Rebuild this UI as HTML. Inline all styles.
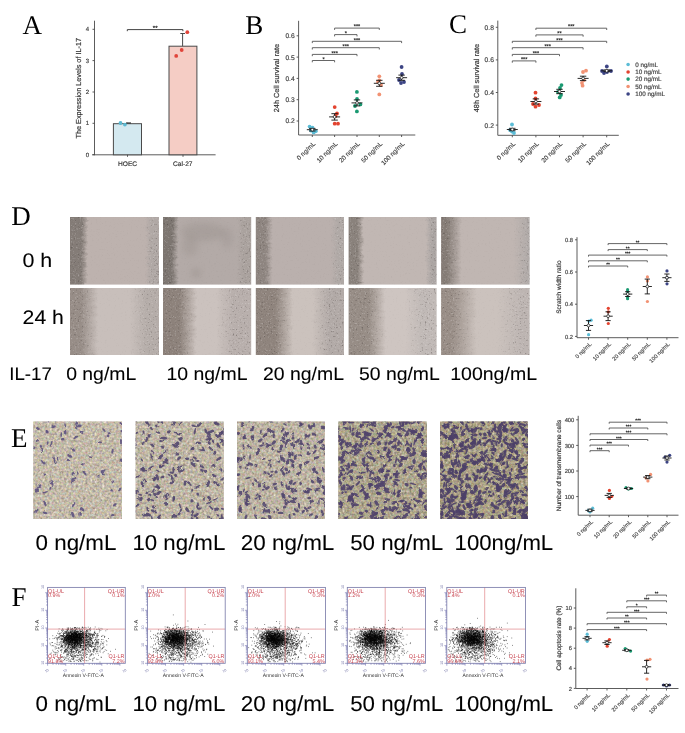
<!DOCTYPE html>
<html><head><meta charset="utf-8"><style>
html,body{margin:0;padding:0;background:#fff;width:685px;height:733px;overflow:hidden}
svg{position:absolute;left:0;top:0;display:block;will-change:transform;text-rendering:geometricPrecision}
</style></head><body>
<svg width="685" height="733" viewBox="0 0 685 733">
<defs><linearGradient id="sg0" x1="0" x2="1" y1="0" y2="0"><stop offset="0.000" stop-color="#847c77"/><stop offset="0.197" stop-color="#847c77"/><stop offset="0.253" stop-color="#bdb2ae"/><stop offset="0.781" stop-color="#bdb2ae"/><stop offset="0.837" stop-color="#b0a8a5"/><stop offset="1.000" stop-color="#b0a8a5"/></linearGradient><linearGradient id="mg0" x1="0" x2="1" y1="0" y2="0"><stop offset="0.000" stop-color="#fff"/><stop offset="0.197" stop-color="#fff"/><stop offset="0.253" stop-color="#181818"/><stop offset="0.781" stop-color="#181818"/><stop offset="0.837" stop-color="#fff"/><stop offset="1.000" stop-color="#fff"/></linearGradient><mask id="mk0" maskUnits="userSpaceOnUse" x="70" y="217" width="89" height="67.80000000000001"><rect x="60" y="217" width="109" height="67.80000000000001" fill="url(#mg0)" filter="url(#wob0)"/></mask><clipPath id="cp0"><rect x="70" y="217" width="89.0" height="67.8"/></clipPath><linearGradient id="sg1" x1="0" x2="1" y1="0" y2="0"><stop offset="0.000" stop-color="#7d7671"/><stop offset="0.176" stop-color="#7d7671"/><stop offset="0.232" stop-color="#b3aaa7"/><stop offset="0.777" stop-color="#b3aaa7"/><stop offset="0.833" stop-color="#aaa29e"/><stop offset="1.000" stop-color="#aaa29e"/></linearGradient><linearGradient id="mg1" x1="0" x2="1" y1="0" y2="0"><stop offset="0.000" stop-color="#fff"/><stop offset="0.176" stop-color="#fff"/><stop offset="0.232" stop-color="#181818"/><stop offset="0.777" stop-color="#181818"/><stop offset="0.833" stop-color="#fff"/><stop offset="1.000" stop-color="#fff"/></linearGradient><mask id="mk1" maskUnits="userSpaceOnUse" x="163" y="217" width="88.19999999999999" height="67.80000000000001"><rect x="153" y="217" width="108.19999999999999" height="67.80000000000001" fill="url(#mg1)" filter="url(#wob0)"/></mask><clipPath id="cp1"><rect x="163" y="217" width="88.2" height="67.8"/></clipPath><linearGradient id="sg2" x1="0" x2="1" y1="0" y2="0"><stop offset="0.000" stop-color="#8e8580"/><stop offset="0.185" stop-color="#8e8580"/><stop offset="0.241" stop-color="#bab0ad"/><stop offset="0.790" stop-color="#bab0ad"/><stop offset="0.847" stop-color="#b0a9a6"/><stop offset="1.000" stop-color="#b0a9a6"/></linearGradient><linearGradient id="mg2" x1="0" x2="1" y1="0" y2="0"><stop offset="0.000" stop-color="#fff"/><stop offset="0.185" stop-color="#fff"/><stop offset="0.241" stop-color="#181818"/><stop offset="0.790" stop-color="#181818"/><stop offset="0.847" stop-color="#fff"/><stop offset="1.000" stop-color="#fff"/></linearGradient><mask id="mk2" maskUnits="userSpaceOnUse" x="255.8" y="217" width="88.19999999999999" height="67.80000000000001"><rect x="245.8" y="217" width="108.19999999999999" height="67.80000000000001" fill="url(#mg2)" filter="url(#wob0)"/></mask><clipPath id="cp2"><rect x="255.8" y="217" width="88.2" height="67.8"/></clipPath><linearGradient id="sg3" x1="0" x2="1" y1="0" y2="0"><stop offset="0.000" stop-color="#8a827c"/><stop offset="0.175" stop-color="#8a827c"/><stop offset="0.232" stop-color="#c1b7b3"/><stop offset="0.806" stop-color="#c1b7b3"/><stop offset="0.862" stop-color="#aba5a3"/><stop offset="1.000" stop-color="#aba5a3"/></linearGradient><linearGradient id="mg3" x1="0" x2="1" y1="0" y2="0"><stop offset="0.000" stop-color="#fff"/><stop offset="0.175" stop-color="#fff"/><stop offset="0.232" stop-color="#181818"/><stop offset="0.806" stop-color="#181818"/><stop offset="0.862" stop-color="#fff"/><stop offset="1.000" stop-color="#fff"/></linearGradient><mask id="mk3" maskUnits="userSpaceOnUse" x="348.6" y="217" width="88.0" height="67.80000000000001"><rect x="338.6" y="217" width="108.0" height="67.80000000000001" fill="url(#mg3)" filter="url(#wob0)"/></mask><clipPath id="cp3"><rect x="348.6" y="217" width="88.0" height="67.8"/></clipPath><linearGradient id="sg4" x1="0" x2="1" y1="0" y2="0"><stop offset="0.000" stop-color="#857c76"/><stop offset="0.146" stop-color="#857c76"/><stop offset="0.281" stop-color="#c0b6b2"/><stop offset="0.759" stop-color="#c0b6b2"/><stop offset="0.895" stop-color="#b0aaa8"/><stop offset="1.000" stop-color="#b0aaa8"/></linearGradient><linearGradient id="mg4" x1="0" x2="1" y1="0" y2="0"><stop offset="0.000" stop-color="#fff"/><stop offset="0.146" stop-color="#fff"/><stop offset="0.281" stop-color="#181818"/><stop offset="0.759" stop-color="#181818"/><stop offset="0.895" stop-color="#fff"/><stop offset="1.000" stop-color="#fff"/></linearGradient><mask id="mk4" maskUnits="userSpaceOnUse" x="441.1" y="217" width="88.5" height="67.80000000000001"><rect x="431.1" y="217" width="108.5" height="67.80000000000001" fill="url(#mg4)" filter="url(#wob0)"/></mask><clipPath id="cp4"><rect x="441.1" y="217" width="88.5" height="67.8"/></clipPath><linearGradient id="sg5" x1="0" x2="1" y1="0" y2="0"><stop offset="0.000" stop-color="#978d87"/><stop offset="0.191" stop-color="#978d87"/><stop offset="0.348" stop-color="#c8bfbb"/><stop offset="0.640" stop-color="#c8bfbb"/><stop offset="0.798" stop-color="#b5ada9"/><stop offset="1.000" stop-color="#b5ada9"/></linearGradient><linearGradient id="mg5" x1="0" x2="1" y1="0" y2="0"><stop offset="0.000" stop-color="#fff"/><stop offset="0.191" stop-color="#fff"/><stop offset="0.348" stop-color="#181818"/><stop offset="0.640" stop-color="#181818"/><stop offset="0.798" stop-color="#fff"/><stop offset="1.000" stop-color="#fff"/></linearGradient><mask id="mk5" maskUnits="userSpaceOnUse" x="70" y="288" width="89" height="67"><rect x="60" y="288" width="109" height="67" fill="url(#mg5)" filter="url(#wob1)"/></mask><clipPath id="cp5"><rect x="70" y="288" width="89.0" height="67.0"/></clipPath><linearGradient id="sg6" x1="0" x2="1" y1="0" y2="0"><stop offset="0.000" stop-color="#8d827b"/><stop offset="0.244" stop-color="#8d827b"/><stop offset="0.402" stop-color="#cbc2be"/><stop offset="0.586" stop-color="#cbc2be"/><stop offset="0.745" stop-color="#b8afac"/><stop offset="1.000" stop-color="#b8afac"/></linearGradient><linearGradient id="mg6" x1="0" x2="1" y1="0" y2="0"><stop offset="0.000" stop-color="#fff"/><stop offset="0.244" stop-color="#fff"/><stop offset="0.402" stop-color="#181818"/><stop offset="0.586" stop-color="#181818"/><stop offset="0.745" stop-color="#fff"/><stop offset="1.000" stop-color="#fff"/></linearGradient><mask id="mk6" maskUnits="userSpaceOnUse" x="163" y="288" width="88.19999999999999" height="67"><rect x="153" y="288" width="108.19999999999999" height="67" fill="url(#mg6)" filter="url(#wob1)"/></mask><clipPath id="cp6"><rect x="163" y="288" width="88.2" height="67.0"/></clipPath><linearGradient id="sg7" x1="0" x2="1" y1="0" y2="0"><stop offset="0.000" stop-color="#8f847d"/><stop offset="0.274" stop-color="#8f847d"/><stop offset="0.433" stop-color="#cbc2bd"/><stop offset="0.615" stop-color="#cbc2bd"/><stop offset="0.773" stop-color="#b2aaa7"/><stop offset="1.000" stop-color="#b2aaa7"/></linearGradient><linearGradient id="mg7" x1="0" x2="1" y1="0" y2="0"><stop offset="0.000" stop-color="#fff"/><stop offset="0.274" stop-color="#fff"/><stop offset="0.433" stop-color="#181818"/><stop offset="0.615" stop-color="#181818"/><stop offset="0.773" stop-color="#fff"/><stop offset="1.000" stop-color="#fff"/></linearGradient><mask id="mk7" maskUnits="userSpaceOnUse" x="255.8" y="288" width="88.19999999999999" height="67"><rect x="245.8" y="288" width="108.19999999999999" height="67" fill="url(#mg7)" filter="url(#wob1)"/></mask><clipPath id="cp7"><rect x="255.8" y="288" width="88.2" height="67.0"/></clipPath><linearGradient id="sg8" x1="0" x2="1" y1="0" y2="0"><stop offset="0.000" stop-color="#978d86"/><stop offset="0.277" stop-color="#978d86"/><stop offset="0.436" stop-color="#cec5c1"/><stop offset="0.618" stop-color="#cec5c1"/><stop offset="0.777" stop-color="#c0b9b6"/><stop offset="1.000" stop-color="#c0b9b6"/></linearGradient><linearGradient id="mg8" x1="0" x2="1" y1="0" y2="0"><stop offset="0.000" stop-color="#fff"/><stop offset="0.277" stop-color="#fff"/><stop offset="0.436" stop-color="#181818"/><stop offset="0.618" stop-color="#181818"/><stop offset="0.777" stop-color="#fff"/><stop offset="1.000" stop-color="#fff"/></linearGradient><mask id="mk8" maskUnits="userSpaceOnUse" x="348.6" y="288" width="88.0" height="67"><rect x="338.6" y="288" width="108.0" height="67" fill="url(#mg8)" filter="url(#wob1)"/></mask><clipPath id="cp8"><rect x="348.6" y="288" width="88.0" height="67.0"/></clipPath><linearGradient id="sg9" x1="0" x2="1" y1="0" y2="0"><stop offset="0.000" stop-color="#998e87"/><stop offset="0.191" stop-color="#998e87"/><stop offset="0.417" stop-color="#cbc2bd"/><stop offset="0.609" stop-color="#cbc2bd"/><stop offset="0.835" stop-color="#bdb5b2"/><stop offset="1.000" stop-color="#bdb5b2"/></linearGradient><linearGradient id="mg9" x1="0" x2="1" y1="0" y2="0"><stop offset="0.000" stop-color="#fff"/><stop offset="0.191" stop-color="#fff"/><stop offset="0.417" stop-color="#181818"/><stop offset="0.609" stop-color="#181818"/><stop offset="0.835" stop-color="#fff"/><stop offset="1.000" stop-color="#fff"/></linearGradient><mask id="mk9" maskUnits="userSpaceOnUse" x="441.1" y="288" width="88.5" height="67"><rect x="431.1" y="288" width="108.5" height="67" fill="url(#mg9)" filter="url(#wob1)"/></mask><clipPath id="cp9"><rect x="441.1" y="288" width="88.5" height="67.0"/></clipPath><filter color-interpolation-filters="sRGB" id="blot" x="-20%" y="-20%" width="140%" height="140%"><feGaussianBlur stdDeviation="3"/></filter><filter color-interpolation-filters="sRGB" id="wob0" x="-10%" y="0" width="120%" height="100%" filterUnits="objectBoundingBox"><feTurbulence type="fractalNoise" baseFrequency="0.1 0.3" numOctaves="3" seed="7"/><feColorMatrix type="matrix" values="1 0 0 0 0  0 0 0 0 0.5  0 0 0 0 0  0 0 0 0 1"/><feDisplacementMap in="SourceGraphic" scale="5" xChannelSelector="R" yChannelSelector="G"/></filter><filter color-interpolation-filters="sRGB" id="wob1" x="-10%" y="0" width="120%" height="100%" filterUnits="objectBoundingBox"><feTurbulence type="fractalNoise" baseFrequency="0.1 0.3" numOctaves="3" seed="8"/><feColorMatrix type="matrix" values="1 0 0 0 0  0 0 0 0 0.5  0 0 0 0 0  0 0 0 0 1"/><feDisplacementMap in="SourceGraphic" scale="5" xChannelSelector="R" yChannelSelector="G"/></filter><filter color-interpolation-filters="sRGB" id="nd0" x="0" y="0" width="100%" height="100%"><feTurbulence type="fractalNoise" baseFrequency="0.55" numOctaves="2" seed="11"/><feColorMatrix type="matrix" values="0 0 0 0 0.25  0 0 0 0 0.22  0 0 0 0 0.21  -1.6 0 0 0 0.62"/></filter><filter color-interpolation-filters="sRGB" id="nl0" x="0" y="0" width="100%" height="100%"><feTurbulence type="fractalNoise" baseFrequency="0.6" numOctaves="2" seed="21"/><feColorMatrix type="matrix" values="0 0 0 0 0.95  0 0 0 0 0.94  0 0 0 0 0.94  0 0.9 0 0 -0.5"/></filter><filter color-interpolation-filters="sRGB" id="nd1" x="0" y="0" width="100%" height="100%"><feTurbulence type="fractalNoise" baseFrequency="0.55" numOctaves="2" seed="12"/><feColorMatrix type="matrix" values="0 0 0 0 0.25  0 0 0 0 0.22  0 0 0 0 0.21  -1.6 0 0 0 0.62"/></filter><filter color-interpolation-filters="sRGB" id="nl1" x="0" y="0" width="100%" height="100%"><feTurbulence type="fractalNoise" baseFrequency="0.6" numOctaves="2" seed="22"/><feColorMatrix type="matrix" values="0 0 0 0 0.95  0 0 0 0 0.94  0 0 0 0 0.94  0 0.9 0 0 -0.5"/></filter><filter color-interpolation-filters="sRGB" id="nd2" x="0" y="0" width="100%" height="100%"><feTurbulence type="fractalNoise" baseFrequency="0.55" numOctaves="2" seed="13"/><feColorMatrix type="matrix" values="0 0 0 0 0.25  0 0 0 0 0.22  0 0 0 0 0.21  -1.6 0 0 0 0.62"/></filter><filter color-interpolation-filters="sRGB" id="nl2" x="0" y="0" width="100%" height="100%"><feTurbulence type="fractalNoise" baseFrequency="0.6" numOctaves="2" seed="23"/><feColorMatrix type="matrix" values="0 0 0 0 0.95  0 0 0 0 0.94  0 0 0 0 0.94  0 0.9 0 0 -0.5"/></filter><filter color-interpolation-filters="sRGB" id="cb" x="-5%" y="-5%" width="110%" height="110%"><feTurbulence type="fractalNoise" baseFrequency="0.35" numOctaves="2" seed="9" result="t"/><feDisplacementMap in="SourceGraphic" in2="t" scale="2.6" xChannelSelector="R" yChannelSelector="G"/><feGaussianBlur stdDeviation="0.55"/></filter><filter color-interpolation-filters="sRGB" id="cn0" x="0" y="0" width="100%" height="100%"><feTurbulence type="fractalNoise" baseFrequency="0.42" numOctaves="2" seed="5"/><feColorMatrix type="matrix" values="0.38 0.2 0.14 0 0.405  0.18 0.4 0.14 0 0.369  0.14 0.2 0.38 0 0.303  0 0 0 0 1"/></filter><clipPath id="cc0"><rect x="33.3" y="421.4" width="88.7" height="97.6"/></clipPath><filter color-interpolation-filters="sRGB" id="cn1" x="0" y="0" width="100%" height="100%"><feTurbulence type="fractalNoise" baseFrequency="0.42" numOctaves="2" seed="6"/><feColorMatrix type="matrix" values="0.38 0.2 0.14 0 0.389  0.18 0.4 0.14 0 0.354  0.14 0.2 0.38 0 0.287  0 0 0 0 1"/></filter><clipPath id="cc1"><rect x="135.6" y="421.4" width="88.1" height="97.6"/></clipPath><filter color-interpolation-filters="sRGB" id="cn2" x="0" y="0" width="100%" height="100%"><feTurbulence type="fractalNoise" baseFrequency="0.42" numOctaves="2" seed="7"/><feColorMatrix type="matrix" values="0.38 0.2 0.14 0 0.381  0.18 0.4 0.14 0 0.346  0.14 0.2 0.38 0 0.279  0 0 0 0 1"/></filter><clipPath id="cc2"><rect x="237" y="421.4" width="87.9" height="97.6"/></clipPath><filter color-interpolation-filters="sRGB" id="cn3" x="0" y="0" width="100%" height="100%"><feTurbulence type="fractalNoise" baseFrequency="0.42" numOctaves="2" seed="8"/><feColorMatrix type="matrix" values="0.38 0.2 0.14 0 0.322  0.18 0.4 0.14 0 0.291  0.14 0.2 0.38 0 0.197  0 0 0 0 1"/></filter><clipPath id="cc3"><rect x="338.3" y="421.4" width="88.6" height="97.6"/></clipPath><filter color-interpolation-filters="sRGB" id="cn4" x="0" y="0" width="100%" height="100%"><feTurbulence type="fractalNoise" baseFrequency="0.42" numOctaves="2" seed="9"/><feColorMatrix type="matrix" values="0.38 0.2 0.14 0 0.307  0.18 0.4 0.14 0 0.271  0.14 0.2 0.38 0 0.165  0 0 0 0 1"/></filter><clipPath id="cc4"><rect x="440.1" y="421.4" width="87.9" height="97.6"/></clipPath></defs><g clip-path="url(#cp0)"><rect x="60" y="217" width="109.0" height="67.8" fill="url(#sg0)" filter="url(#wob0)"/><g mask="url(#mk0)"><rect x="70" y="217" width="89.0" height="67.8" filter="url(#nd0)"/><rect x="70" y="217" width="89.0" height="67.8" filter="url(#nl0)"/></g></g>
<g clip-path="url(#cp1)"><rect x="153" y="217" width="108.2" height="67.8" fill="url(#sg1)" filter="url(#wob0)"/><g mask="url(#mk1)"><rect x="163" y="217" width="88.2" height="67.8" filter="url(#nd1)"/><rect x="163" y="217" width="88.2" height="67.8" filter="url(#nl1)"/></g></g>
<g clip-path="url(#cp1)" filter="url(#blot)" fill="#6e6460"><ellipse cx="203" cy="232" rx="22" ry="9" opacity="0.15"/><ellipse cx="190" cy="246" rx="8" ry="10" opacity="0.13"/><ellipse cx="196" cy="273" rx="4" ry="4" opacity="0.22"/><ellipse cx="227" cy="238" rx="6" ry="10" opacity="0.12"/></g>
<g clip-path="url(#cp2)"><rect x="245.8" y="217" width="108.2" height="67.8" fill="url(#sg2)" filter="url(#wob0)"/><g mask="url(#mk2)"><rect x="255.8" y="217" width="88.2" height="67.8" filter="url(#nd2)"/><rect x="255.8" y="217" width="88.2" height="67.8" filter="url(#nl2)"/></g></g>
<g clip-path="url(#cp3)"><rect x="338.6" y="217" width="108.0" height="67.8" fill="url(#sg3)" filter="url(#wob0)"/><g mask="url(#mk3)"><rect x="348.6" y="217" width="88.0" height="67.8" filter="url(#nd0)"/><rect x="348.6" y="217" width="88.0" height="67.8" filter="url(#nl0)"/></g></g>
<g clip-path="url(#cp4)"><rect x="431.1" y="217" width="108.5" height="67.8" fill="url(#sg4)" filter="url(#wob0)"/><g mask="url(#mk4)"><rect x="441.1" y="217" width="88.5" height="67.8" filter="url(#nd1)"/><rect x="441.1" y="217" width="88.5" height="67.8" filter="url(#nl1)"/></g></g>
<g clip-path="url(#cp5)"><rect x="60" y="288" width="109.0" height="67.0" fill="url(#sg5)" filter="url(#wob1)"/><g mask="url(#mk5)"><rect x="70" y="288" width="89.0" height="67.0" filter="url(#nd2)"/><rect x="70" y="288" width="89.0" height="67.0" filter="url(#nl2)"/></g></g>
<g clip-path="url(#cp6)"><rect x="153" y="288" width="108.2" height="67.0" fill="url(#sg6)" filter="url(#wob1)"/><g mask="url(#mk6)"><rect x="163" y="288" width="88.2" height="67.0" filter="url(#nd0)"/><rect x="163" y="288" width="88.2" height="67.0" filter="url(#nl0)"/></g></g>
<g clip-path="url(#cp7)"><rect x="245.8" y="288" width="108.2" height="67.0" fill="url(#sg7)" filter="url(#wob1)"/><g mask="url(#mk7)"><rect x="255.8" y="288" width="88.2" height="67.0" filter="url(#nd1)"/><rect x="255.8" y="288" width="88.2" height="67.0" filter="url(#nl1)"/></g></g>
<g clip-path="url(#cp8)"><rect x="338.6" y="288" width="108.0" height="67.0" fill="url(#sg8)" filter="url(#wob1)"/><g mask="url(#mk8)"><rect x="348.6" y="288" width="88.0" height="67.0" filter="url(#nd2)"/><rect x="348.6" y="288" width="88.0" height="67.0" filter="url(#nl2)"/></g></g>
<g clip-path="url(#cp9)"><rect x="431.1" y="288" width="108.5" height="67.0" fill="url(#sg9)" filter="url(#wob1)"/><g mask="url(#mk9)"><rect x="441.1" y="288" width="88.5" height="67.0" filter="url(#nd0)"/><rect x="441.1" y="288" width="88.5" height="67.0" filter="url(#nl0)"/></g></g>
<g clip-path="url(#cc0)"><rect x="33.3" y="421.4" width="88.7" height="97.6" fill="#c3baa9"/><rect x="33.3" y="421.4" width="88.7" height="97.6" filter="url(#cn0)"/><g fill="#5d5280" fill-opacity="0.9" filter="url(#cb)"><g transform="translate(33.3 421.4)"><ellipse rx="2.4" ry="0.8" transform="translate(28.0 13.3)rotate(96)"/><ellipse rx="2.2" ry="0.7" transform="translate(31.9 3.9)rotate(78)"/><ellipse rx="2.0" ry="1.3" transform="translate(4.5 7.2)rotate(22)"/><ellipse rx="2.9" ry="1.1" transform="translate(18.7 61.7)rotate(71)"/><ellipse rx="2.8" ry="0.9" transform="translate(88.5 2.7)rotate(26)"/><ellipse rx="2.7" ry="0.8" transform="translate(8.9 29.3)rotate(105)"/><ellipse rx="2.2" ry="0.7" transform="translate(57.2 35.8)rotate(11)"/><ellipse rx="2.0" ry="0.9" transform="translate(17.1 67.1)rotate(105)"/><ellipse rx="2.7" ry="1.2" transform="translate(40.0 28.5)rotate(44)"/><ellipse rx="2.8" ry="1.2" transform="translate(51.2 51.4)rotate(52)"/><ellipse rx="2.0" ry="1.2" transform="translate(88.9 10.0)rotate(27)"/><ellipse rx="2.4" ry="1.2" transform="translate(43.3 2.0)rotate(103)"/><ellipse rx="2.5" ry="1.1" transform="translate(79.2 29.9)rotate(104)"/><ellipse rx="2.9" ry="1.0" transform="translate(40.3 83.3)rotate(120)"/><ellipse rx="2.4" ry="1.4" transform="translate(3.6 69.3)rotate(148)"/><ellipse rx="2.4" ry="0.7" transform="translate(24.4 37.2)rotate(83)"/><ellipse rx="1.4" ry="1.2" transform="translate(13.6 9.9)rotate(23)"/><ellipse rx="2.8" ry="0.8" transform="translate(21.0 37.7)rotate(81)"/><ellipse rx="2.7" ry="1.3" transform="translate(48.9 87.8)rotate(50)"/><ellipse rx="2.8" ry="1.4" transform="translate(36.5 34.5)rotate(27)"/><ellipse rx="1.7" ry="1.0" transform="translate(14.3 21.6)rotate(106)"/><ellipse rx="2.0" ry="1.0" transform="translate(22.4 -1.6)rotate(102)"/><ellipse rx="2.2" ry="1.1" transform="translate(86.4 68.2)rotate(122)"/><ellipse rx="2.6" ry="1.3" transform="translate(3.0 89.4)rotate(144)"/><ellipse rx="1.5" ry="1.1" transform="translate(34.4 38.5)rotate(11)"/><ellipse rx="1.6" ry="0.9" transform="translate(4.2 19.2)rotate(9)"/><ellipse rx="1.5" ry="1.0" transform="translate(-2.0 13.4)rotate(5)"/><ellipse rx="1.6" ry="0.9" transform="translate(79.1 60.4)rotate(63)"/><ellipse rx="2.7" ry="1.4" transform="translate(31.8 10.5)rotate(84)"/><ellipse rx="1.5" ry="0.9" transform="translate(42.9 6.7)rotate(48)"/><ellipse rx="1.3" ry="1.4" transform="translate(74.8 14.4)rotate(95)"/><ellipse rx="1.3" ry="1.1" transform="translate(11.6 53.2)rotate(176)"/><ellipse rx="1.7" ry="1.0" transform="translate(78.0 68.7)rotate(30)"/><ellipse rx="2.6" ry="0.9" transform="translate(69.6 52.1)rotate(40)"/><ellipse rx="2.7" ry="1.3" transform="translate(73.2 98.1)rotate(147)"/><ellipse rx="2.2" ry="0.9" transform="translate(66.6 21.0)rotate(5)"/><ellipse rx="1.7" ry="1.2" transform="translate(0.6 26.4)rotate(172)"/><ellipse rx="3.0" ry="1.4" transform="translate(39.5 93.2)rotate(66)"/><ellipse rx="1.6" ry="0.8" transform="translate(18.4 21.0)rotate(112)"/><ellipse rx="2.1" ry="1.2" transform="translate(81.5 83.4)rotate(144)"/><ellipse rx="2.8" ry="1.2" transform="translate(5.9 65.1)rotate(135)"/><ellipse rx="2.6" ry="0.9" transform="translate(42.3 16.1)rotate(144)"/><ellipse rx="2.0" ry="1.4" transform="translate(88.1 38.2)rotate(130)"/><ellipse rx="1.6" ry="1.3" transform="translate(13.8 10.9)rotate(145)"/><ellipse rx="3.0" ry="1.2" transform="translate(11.6 82.0)rotate(63)"/><ellipse rx="1.3" ry="1.4" transform="translate(48.9 11.3)rotate(117)"/><ellipse rx="2.0" ry="1.3" transform="translate(46.8 92.9)rotate(149)"/><ellipse rx="1.8" ry="0.9" transform="translate(17.6 23.6)rotate(106)"/><ellipse rx="1.5" ry="1.3" transform="translate(22.0 40.6)rotate(64)"/><ellipse rx="2.8" ry="1.0" transform="translate(40.5 57.3)rotate(165)"/><ellipse rx="2.2" ry="0.7" transform="translate(44.5 52.0)rotate(79)"/><ellipse rx="2.7" ry="0.8" transform="translate(15.0 -1.6)rotate(85)"/><ellipse rx="1.9" ry="1.1" transform="translate(65.2 54.5)rotate(100)"/><ellipse rx="2.3" ry="0.9" transform="translate(70.7 8.8)rotate(50)"/><ellipse rx="2.3" ry="1.2" transform="translate(69.6 49.6)rotate(164)"/><ellipse rx="2.2" ry="1.1" transform="translate(39.1 60.2)rotate(125)"/><ellipse rx="2.1" ry="1.4" transform="translate(39.9 52.2)rotate(126)"/><ellipse rx="1.7" ry="1.1" transform="translate(79.3 93.7)rotate(170)"/><ellipse rx="1.5" ry="1.0" transform="translate(75.9 11.9)rotate(13)"/><ellipse rx="2.4" ry="1.2" transform="translate(20.3 5.4)rotate(161)"/><ellipse rx="2.4" ry="0.8" transform="translate(12.3 70.8)rotate(159)"/><ellipse rx="2.9" ry="1.0" transform="translate(87.7 20.3)rotate(88)"/><ellipse rx="1.6" ry="1.0" transform="translate(89.8 82.6)rotate(93)"/><ellipse rx="1.8" ry="1.2" transform="translate(29.4 17.9)rotate(4)"/><ellipse rx="1.3" ry="0.9" transform="translate(49.4 42.8)rotate(112)"/><ellipse rx="3.0" ry="1.3" transform="translate(45.5 4.5)rotate(175)"/><ellipse rx="1.4" ry="1.2" transform="translate(7.7 25.0)rotate(49)"/><ellipse rx="2.8" ry="1.3" transform="translate(10.0 40.9)rotate(47)"/><ellipse rx="2.3" ry="1.2" transform="translate(11.8 91.4)rotate(16)"/><ellipse rx="2.0" ry="0.8" transform="translate(3.3 67.9)rotate(169)"/></g></g></g>
<g clip-path="url(#cc1)"><rect x="135.6" y="421.4" width="88.1" height="97.6" fill="#bfb6a5"/><rect x="135.6" y="421.4" width="88.1" height="97.6" filter="url(#cn1)"/><g fill="#53486f" fill-opacity="0.9" filter="url(#cb)"><g transform="translate(135.6 421.4)"><ellipse rx="1.7" ry="1.5" transform="translate(56.4 79.4)rotate(12)"/><ellipse rx="2.1" ry="1.2" transform="translate(77.5 44.1)rotate(167)"/><ellipse rx="2.5" ry="1.0" transform="translate(22.7 11.1)rotate(20)"/><ellipse rx="1.9" ry="1.0" transform="translate(12.9 3.1)rotate(55)"/><ellipse rx="2.5" ry="0.9" transform="translate(67.9 27.5)rotate(62)"/><ellipse rx="1.5" ry="1.4" transform="translate(-0.3 23.4)rotate(99)"/><ellipse rx="3.3" ry="0.9" transform="translate(15.4 46.2)rotate(147)"/><ellipse rx="3.1" ry="1.1" transform="translate(37.8 48.3)rotate(91)"/><ellipse rx="2.2" ry="1.5" transform="translate(61.3 97.8)rotate(127)"/><ellipse rx="2.2" ry="0.8" transform="translate(56.6 39.1)rotate(23)"/><ellipse rx="2.0" ry="0.9" transform="translate(4.5 73.3)rotate(15)"/><ellipse rx="2.8" ry="1.0" transform="translate(75.5 86.4)rotate(44)"/><ellipse rx="1.8" ry="1.2" transform="translate(25.0 44.7)rotate(47)"/><ellipse rx="2.5" ry="1.0" transform="translate(86.6 96.8)rotate(174)"/><ellipse rx="1.5" ry="1.1" transform="translate(26.5 34.2)rotate(85)"/><ellipse rx="2.5" ry="0.8" transform="translate(44.3 18.4)rotate(48)"/><ellipse rx="1.6" ry="0.8" transform="translate(6.3 38.6)rotate(55)"/><ellipse rx="2.5" ry="1.4" transform="translate(19.4 57.5)rotate(118)"/><ellipse rx="2.2" ry="1.1" transform="translate(63.9 87.3)rotate(177)"/><ellipse rx="2.7" ry="0.8" transform="translate(11.8 71.6)rotate(150)"/><ellipse rx="2.9" ry="1.4" transform="translate(80.1 61.7)rotate(25)"/><ellipse rx="3.1" ry="1.4" transform="translate(46.2 49.2)rotate(149)"/><ellipse rx="2.8" ry="1.4" transform="translate(51.8 88.7)rotate(41)"/><ellipse rx="2.2" ry="0.9" transform="translate(0.9 11.5)rotate(150)"/><ellipse rx="2.7" ry="1.3" transform="translate(49.4 61.8)rotate(88)"/><ellipse rx="2.9" ry="1.2" transform="translate(-1.7 79.0)rotate(96)"/><ellipse rx="2.9" ry="1.0" transform="translate(58.7 4.7)rotate(13)"/><ellipse rx="1.9" ry="1.4" transform="translate(22.5 72.1)rotate(176)"/><ellipse rx="2.4" ry="1.3" transform="translate(43.5 36.9)rotate(138)"/><ellipse rx="1.6" ry="0.9" transform="translate(54.8 63.3)rotate(46)"/><ellipse rx="2.6" ry="0.8" transform="translate(66.5 28.9)rotate(11)"/><ellipse rx="2.8" ry="1.3" transform="translate(22.8 66.3)rotate(52)"/><ellipse rx="2.4" ry="0.9" transform="translate(45.6 45.2)rotate(161)"/><ellipse rx="3.3" ry="0.8" transform="translate(16.4 97.4)rotate(83)"/><ellipse rx="2.4" ry="1.0" transform="translate(73.5 96.4)rotate(38)"/><ellipse rx="2.6" ry="0.9" transform="translate(85.1 19.4)rotate(94)"/><ellipse rx="3.1" ry="1.2" transform="translate(85.7 11.5)rotate(160)"/><ellipse rx="3.2" ry="1.2" transform="translate(62.8 21.5)rotate(4)"/><ellipse rx="2.4" ry="1.0" transform="translate(-1.7 48.0)rotate(25)"/><ellipse rx="3.1" ry="0.8" transform="translate(29.7 30.1)rotate(135)"/><ellipse rx="3.3" ry="1.4" transform="translate(75.3 10.2)rotate(162)"/><ellipse rx="2.2" ry="1.6" transform="translate(24.7 35.8)rotate(106)"/><ellipse rx="2.0" ry="0.8" transform="translate(31.2 41.5)rotate(18)"/><ellipse rx="3.3" ry="1.0" transform="translate(74.9 27.0)rotate(48)"/><ellipse rx="2.2" ry="1.6" transform="translate(45.1 17.3)rotate(159)"/><ellipse rx="3.2" ry="1.6" transform="translate(72.8 62.1)rotate(99)"/><ellipse rx="2.9" ry="1.2" transform="translate(64.3 3.0)rotate(135)"/><ellipse rx="1.6" ry="1.5" transform="translate(57.4 27.1)rotate(23)"/><ellipse rx="2.1" ry="1.4" transform="translate(41.5 32.9)rotate(176)"/><ellipse rx="2.1" ry="1.2" transform="translate(22.0 64.6)rotate(71)"/><ellipse rx="1.9" ry="1.5" transform="translate(13.4 14.4)rotate(89)"/><ellipse rx="3.4" ry="1.2" transform="translate(18.3 90.1)rotate(25)"/><ellipse rx="2.1" ry="0.9" transform="translate(15.7 7.2)rotate(43)"/><ellipse rx="3.2" ry="1.4" transform="translate(21.8 55.9)rotate(74)"/><ellipse rx="2.2" ry="1.1" transform="translate(36.1 51.3)rotate(11)"/><ellipse rx="1.7" ry="1.2" transform="translate(23.6 96.3)rotate(113)"/><ellipse rx="2.0" ry="1.0" transform="translate(77.5 19.9)rotate(72)"/><ellipse rx="3.1" ry="1.5" transform="translate(39.1 94.9)rotate(4)"/><ellipse rx="3.2" ry="1.2" transform="translate(1.0 70.1)rotate(106)"/><ellipse rx="3.3" ry="1.5" transform="translate(-2.0 37.8)rotate(154)"/><ellipse rx="1.7" ry="0.9" transform="translate(87.5 23.2)rotate(94)"/><ellipse rx="2.9" ry="1.3" transform="translate(60.8 93.7)rotate(138)"/><ellipse rx="1.6" ry="1.4" transform="translate(40.1 54.0)rotate(42)"/><ellipse rx="2.1" ry="0.9" transform="translate(82.7 63.6)rotate(45)"/><ellipse rx="1.7" ry="0.9" transform="translate(56.6 69.0)rotate(94)"/><ellipse rx="1.9" ry="1.3" transform="translate(51.7 37.4)rotate(2)"/><ellipse rx="3.3" ry="1.3" transform="translate(25.8 44.8)rotate(159)"/><ellipse rx="2.0" ry="1.6" transform="translate(41.8 21.9)rotate(127)"/><ellipse rx="2.4" ry="1.3" transform="translate(26.3 0.2)rotate(76)"/><ellipse rx="3.3" ry="1.0" transform="translate(21.7 65.8)rotate(6)"/><ellipse rx="2.8" ry="1.0" transform="translate(29.1 40.7)rotate(143)"/><ellipse rx="1.9" ry="1.6" transform="translate(66.1 49.3)rotate(56)"/><ellipse rx="1.9" ry="1.4" transform="translate(73.5 21.5)rotate(53)"/><ellipse rx="1.9" ry="1.0" transform="translate(85.7 48.4)rotate(75)"/><ellipse rx="1.8" ry="1.1" transform="translate(59.3 94.4)rotate(38)"/><ellipse rx="1.6" ry="0.8" transform="translate(87.7 12.4)rotate(71)"/><ellipse rx="2.9" ry="1.6" transform="translate(80.7 87.8)rotate(168)"/><ellipse rx="3.3" ry="1.4" transform="translate(28.3 16.8)rotate(6)"/><ellipse rx="2.2" ry="1.1" transform="translate(59.2 36.5)rotate(30)"/><ellipse rx="2.2" ry="1.6" transform="translate(-1.7 26.4)rotate(22)"/><ellipse rx="2.2" ry="1.5" transform="translate(86.8 19.1)rotate(148)"/><ellipse rx="2.4" ry="1.1" transform="translate(37.8 3.0)rotate(166)"/><ellipse rx="3.2" ry="0.8" transform="translate(15.8 35.0)rotate(74)"/><ellipse rx="1.6" ry="0.8" transform="translate(72.8 75.9)rotate(11)"/><ellipse rx="2.9" ry="1.5" transform="translate(82.7 24.1)rotate(61)"/><ellipse rx="2.7" ry="1.0" transform="translate(23.1 95.3)rotate(129)"/><ellipse rx="1.5" ry="1.4" transform="translate(27.1 26.0)rotate(165)"/><ellipse rx="1.5" ry="1.0" transform="translate(56.4 93.8)rotate(86)"/><ellipse rx="2.2" ry="1.0" transform="translate(86.1 94.9)rotate(77)"/><ellipse rx="1.8" ry="1.4" transform="translate(43.4 92.3)rotate(133)"/><ellipse rx="2.7" ry="1.1" transform="translate(73.8 76.5)rotate(58)"/><ellipse rx="1.7" ry="1.0" transform="translate(31.3 77.5)rotate(136)"/><ellipse rx="1.6" ry="1.2" transform="translate(20.8 4.6)rotate(59)"/><ellipse rx="3.4" ry="1.0" transform="translate(88.3 87.8)rotate(15)"/><ellipse rx="2.8" ry="1.2" transform="translate(6.9 48.6)rotate(42)"/><ellipse rx="2.8" ry="1.4" transform="translate(36.4 61.0)rotate(152)"/><ellipse rx="3.1" ry="1.0" transform="translate(59.2 10.3)rotate(102)"/><ellipse rx="1.9" ry="1.0" transform="translate(32.4 73.0)rotate(44)"/><ellipse rx="2.6" ry="1.1" transform="translate(12.1 87.8)rotate(71)"/><ellipse rx="1.9" ry="1.4" transform="translate(89.4 49.5)rotate(118)"/><ellipse rx="2.4" ry="1.5" transform="translate(89.3 8.4)rotate(151)"/><ellipse rx="2.1" ry="0.9" transform="translate(82.2 2.1)rotate(34)"/><ellipse rx="3.3" ry="1.1" transform="translate(87.6 57.3)rotate(156)"/><ellipse rx="3.0" ry="1.6" transform="translate(39.4 24.4)rotate(19)"/><ellipse rx="1.9" ry="1.1" transform="translate(52.9 61.0)rotate(25)"/><ellipse rx="2.6" ry="1.3" transform="translate(16.8 23.9)rotate(37)"/><ellipse rx="2.8" ry="0.9" transform="translate(-1.0 31.2)rotate(56)"/><ellipse rx="2.5" ry="0.9" transform="translate(16.7 78.8)rotate(18)"/><ellipse rx="2.7" ry="0.9" transform="translate(34.4 53.9)rotate(29)"/><ellipse rx="2.0" ry="1.0" transform="translate(62.0 39.6)rotate(172)"/><ellipse rx="2.2" ry="1.1" transform="translate(26.8 55.6)rotate(156)"/><ellipse rx="1.9" ry="1.4" transform="translate(89.8 35.0)rotate(37)"/><ellipse rx="2.3" ry="1.5" transform="translate(-1.5 89.6)rotate(73)"/><ellipse rx="1.8" ry="0.8" transform="translate(79.3 44.8)rotate(99)"/><ellipse rx="1.7" ry="1.3" transform="translate(57.0 90.4)rotate(67)"/><ellipse rx="2.0" ry="1.2" transform="translate(44.5 12.8)rotate(167)"/><ellipse rx="3.0" ry="1.6" transform="translate(8.0 47.8)rotate(36)"/><ellipse rx="3.4" ry="1.2" transform="translate(9.7 93.8)rotate(10)"/><ellipse rx="3.2" ry="1.3" transform="translate(83.3 37.4)rotate(148)"/><ellipse rx="1.9" ry="1.1" transform="translate(12.8 77.8)rotate(152)"/><ellipse rx="1.9" ry="1.1" transform="translate(74.4 16.6)rotate(93)"/><ellipse rx="2.0" ry="1.4" transform="translate(33.3 10.5)rotate(162)"/><ellipse rx="2.9" ry="0.8" transform="translate(1.8 55.1)rotate(151)"/><ellipse rx="2.5" ry="1.3" transform="translate(8.8 58.9)rotate(55)"/><ellipse rx="2.3" ry="1.3" transform="translate(36.7 57.2)rotate(80)"/><ellipse rx="2.7" ry="1.2" transform="translate(38.4 0.4)rotate(42)"/><ellipse rx="2.4" ry="0.9" transform="translate(68.3 77.2)rotate(85)"/><ellipse rx="2.3" ry="0.9" transform="translate(7.9 11.1)rotate(80)"/><ellipse rx="2.7" ry="0.9" transform="translate(45.0 2.1)rotate(132)"/><ellipse rx="1.6" ry="1.2" transform="translate(69.6 50.0)rotate(68)"/><ellipse rx="3.1" ry="1.6" transform="translate(85.6 11.8)rotate(132)"/><ellipse rx="3.4" ry="1.2" transform="translate(73.1 17.7)rotate(172)"/><ellipse rx="3.0" ry="1.5" transform="translate(82.4 14.8)rotate(12)"/><ellipse rx="1.8" ry="1.5" transform="translate(30.3 74.8)rotate(49)"/><ellipse rx="2.5" ry="1.5" transform="translate(73.1 12.6)rotate(37)"/><ellipse rx="2.1" ry="0.8" transform="translate(22.2 49.4)rotate(33)"/><ellipse rx="2.8" ry="1.5" transform="translate(12.8 93.1)rotate(30)"/><ellipse rx="2.5" ry="1.3" transform="translate(70.3 9.7)rotate(65)"/><ellipse rx="2.6" ry="1.5" transform="translate(78.4 54.4)rotate(19)"/><ellipse rx="2.2" ry="1.4" transform="translate(89.5 62.0)rotate(48)"/><ellipse rx="2.2" ry="1.4" transform="translate(89.2 56.7)rotate(80)"/><ellipse rx="1.6" ry="1.5" transform="translate(14.3 73.5)rotate(46)"/><ellipse rx="2.6" ry="1.3" transform="translate(56.9 98.0)rotate(56)"/><ellipse rx="1.8" ry="1.3" transform="translate(-1.8 1.4)rotate(78)"/><ellipse rx="1.8" ry="1.0" transform="translate(45.2 89.0)rotate(118)"/><ellipse rx="2.2" ry="0.9" transform="translate(0.1 -1.7)rotate(64)"/><ellipse rx="2.6" ry="1.0" transform="translate(18.7 57.3)rotate(112)"/><ellipse rx="3.3" ry="1.0" transform="translate(41.7 11.7)rotate(27)"/><ellipse rx="3.2" ry="1.4" transform="translate(6.8 62.8)rotate(72)"/><ellipse rx="2.7" ry="1.2" transform="translate(22.3 -0.8)rotate(63)"/><ellipse rx="3.3" ry="1.4" transform="translate(57.5 43.1)rotate(45)"/><ellipse rx="2.5" ry="1.1" transform="translate(81.2 2.5)rotate(43)"/><ellipse rx="1.5" ry="1.2" transform="translate(3.4 77.1)rotate(169)"/><ellipse rx="2.7" ry="1.2" transform="translate(11.1 18.3)rotate(115)"/><ellipse rx="2.1" ry="1.0" transform="translate(72.9 15.7)rotate(9)"/><ellipse rx="2.9" ry="0.8" transform="translate(79.9 77.6)rotate(152)"/><ellipse rx="2.9" ry="1.2" transform="translate(66.6 45.3)rotate(41)"/><ellipse rx="1.6" ry="1.1" transform="translate(7.7 21.6)rotate(135)"/><ellipse rx="2.9" ry="1.0" transform="translate(62.0 83.9)rotate(100)"/><ellipse rx="2.5" ry="1.0" transform="translate(38.2 78.1)rotate(116)"/><ellipse rx="3.2" ry="0.8" transform="translate(86.9 20.0)rotate(47)"/><ellipse rx="3.3" ry="1.4" transform="translate(19.7 73.6)rotate(59)"/><ellipse rx="2.0" ry="1.5" transform="translate(79.1 31.4)rotate(114)"/><ellipse rx="3.4" ry="1.2" transform="translate(61.8 65.6)rotate(151)"/><ellipse rx="2.3" ry="1.4" transform="translate(62.3 85.1)rotate(103)"/><ellipse rx="2.7" ry="0.9" transform="translate(26.3 19.5)rotate(164)"/><ellipse rx="1.7" ry="1.5" transform="translate(11.3 0.7)rotate(62)"/><ellipse rx="1.6" ry="1.4" transform="translate(11.1 0.9)rotate(114)"/><ellipse rx="1.6" ry="1.3" transform="translate(62.2 72.9)rotate(65)"/><ellipse rx="3.2" ry="0.9" transform="translate(73.3 81.3)rotate(156)"/><ellipse rx="1.7" ry="1.0" transform="translate(82.2 93.9)rotate(20)"/><ellipse rx="3.0" ry="1.3" transform="translate(1.2 84.1)rotate(149)"/><ellipse rx="1.7" ry="0.9" transform="translate(56.2 27.2)rotate(136)"/><ellipse rx="2.3" ry="0.8" transform="translate(16.9 30.4)rotate(46)"/><ellipse rx="2.2" ry="1.1" transform="translate(24.0 70.7)rotate(174)"/><ellipse rx="2.7" ry="0.8" transform="translate(44.4 84.5)rotate(74)"/><ellipse rx="2.2" ry="1.4" transform="translate(38.2 76.5)rotate(97)"/><ellipse rx="1.7" ry="1.5" transform="translate(17.9 85.6)rotate(31)"/><ellipse rx="2.9" ry="1.6" transform="translate(-1.9 18.5)rotate(1)"/><ellipse rx="3.0" ry="0.9" transform="translate(43.2 47.9)rotate(89)"/><ellipse rx="2.0" ry="1.6" transform="translate(30.0 82.5)rotate(51)"/><ellipse rx="2.4" ry="0.9" transform="translate(17.8 69.1)rotate(115)"/><ellipse rx="2.8" ry="1.4" transform="translate(5.4 78.1)rotate(113)"/><ellipse rx="2.2" ry="1.5" transform="translate(30.8 38.8)rotate(16)"/><ellipse rx="1.9" ry="1.0" transform="translate(79.8 0.6)rotate(162)"/></g></g></g>
<g clip-path="url(#cc2)"><rect x="237" y="421.4" width="87.9" height="97.6" fill="#bdb4a3"/><rect x="237" y="421.4" width="87.9" height="97.6" filter="url(#cn2)"/><g fill="#53486f" fill-opacity="0.9" filter="url(#cb)"><g transform="translate(237 421.4)"><ellipse rx="3.2" ry="1.0" transform="translate(44.1 36.5)rotate(83)"/><ellipse rx="2.9" ry="1.3" transform="translate(46.8 74.7)rotate(63)"/><ellipse rx="3.1" ry="1.3" transform="translate(28.0 13.8)rotate(134)"/><ellipse rx="3.0" ry="1.3" transform="translate(13.6 42.6)rotate(23)"/><ellipse rx="2.0" ry="1.0" transform="translate(40.5 87.9)rotate(54)"/><ellipse rx="1.8" ry="0.9" transform="translate(62.6 83.7)rotate(45)"/><ellipse rx="1.8" ry="1.1" transform="translate(28.0 51.1)rotate(34)"/><ellipse rx="1.7" ry="1.6" transform="translate(87.6 72.0)rotate(18)"/><ellipse rx="3.0" ry="1.4" transform="translate(33.3 98.0)rotate(78)"/><ellipse rx="1.7" ry="1.0" transform="translate(16.0 62.8)rotate(70)"/><ellipse rx="3.0" ry="1.4" transform="translate(1.1 38.5)rotate(90)"/><ellipse rx="1.8" ry="1.3" transform="translate(56.1 45.1)rotate(73)"/><ellipse rx="2.3" ry="1.3" transform="translate(66.1 90.3)rotate(135)"/><ellipse rx="2.9" ry="1.5" transform="translate(36.7 21.2)rotate(139)"/><ellipse rx="2.8" ry="1.3" transform="translate(62.3 84.6)rotate(82)"/><ellipse rx="1.7" ry="1.1" transform="translate(26.8 61.8)rotate(141)"/><ellipse rx="2.0" ry="1.1" transform="translate(63.5 62.0)rotate(82)"/><ellipse rx="2.8" ry="1.5" transform="translate(55.1 39.6)rotate(33)"/><ellipse rx="2.2" ry="1.2" transform="translate(58.1 77.1)rotate(175)"/><ellipse rx="1.8" ry="1.4" transform="translate(1.5 53.2)rotate(169)"/><ellipse rx="2.6" ry="1.2" transform="translate(45.7 8.3)rotate(129)"/><ellipse rx="3.1" ry="1.2" transform="translate(45.1 62.9)rotate(74)"/><ellipse rx="2.8" ry="1.1" transform="translate(85.1 19.3)rotate(137)"/><ellipse rx="2.2" ry="0.8" transform="translate(9.2 98.0)rotate(49)"/><ellipse rx="2.3" ry="1.1" transform="translate(34.7 -0.6)rotate(126)"/><ellipse rx="1.9" ry="1.4" transform="translate(30.4 24.9)rotate(169)"/><ellipse rx="3.0" ry="1.1" transform="translate(46.4 20.2)rotate(38)"/><ellipse rx="3.0" ry="1.3" transform="translate(9.9 76.9)rotate(84)"/><ellipse rx="3.3" ry="1.1" transform="translate(49.7 21.0)rotate(115)"/><ellipse rx="2.4" ry="1.0" transform="translate(73.2 80.9)rotate(99)"/><ellipse rx="2.2" ry="1.5" transform="translate(9.5 82.7)rotate(48)"/><ellipse rx="2.3" ry="0.9" transform="translate(32.6 23.8)rotate(0)"/><ellipse rx="2.0" ry="1.0" transform="translate(64.3 26.6)rotate(86)"/><ellipse rx="2.8" ry="1.1" transform="translate(37.4 62.7)rotate(167)"/><ellipse rx="3.1" ry="1.5" transform="translate(76.5 3.8)rotate(141)"/><ellipse rx="2.7" ry="0.8" transform="translate(10.9 82.5)rotate(2)"/><ellipse rx="2.0" ry="0.9" transform="translate(85.5 64.6)rotate(26)"/><ellipse rx="2.2" ry="0.9" transform="translate(19.5 76.9)rotate(163)"/><ellipse rx="3.2" ry="1.3" transform="translate(70.8 15.1)rotate(141)"/><ellipse rx="3.0" ry="1.5" transform="translate(59.4 88.8)rotate(36)"/><ellipse rx="2.9" ry="1.2" transform="translate(61.7 51.9)rotate(159)"/><ellipse rx="1.9" ry="0.9" transform="translate(49.0 24.9)rotate(89)"/><ellipse rx="1.8" ry="1.2" transform="translate(3.4 45.5)rotate(90)"/><ellipse rx="1.5" ry="1.5" transform="translate(47.6 85.7)rotate(84)"/><ellipse rx="3.1" ry="1.1" transform="translate(49.7 65.6)rotate(75)"/><ellipse rx="2.7" ry="1.3" transform="translate(86.3 5.7)rotate(5)"/><ellipse rx="3.3" ry="1.1" transform="translate(54.0 67.4)rotate(177)"/><ellipse rx="3.2" ry="0.8" transform="translate(44.9 47.2)rotate(129)"/><ellipse rx="3.1" ry="1.1" transform="translate(55.5 32.4)rotate(85)"/><ellipse rx="1.9" ry="1.1" transform="translate(46.3 76.3)rotate(76)"/><ellipse rx="2.1" ry="1.5" transform="translate(48.9 82.0)rotate(73)"/><ellipse rx="2.5" ry="1.6" transform="translate(44.3 25.6)rotate(118)"/><ellipse rx="2.1" ry="1.0" transform="translate(70.8 31.6)rotate(106)"/><ellipse rx="1.6" ry="1.4" transform="translate(56.3 77.7)rotate(159)"/><ellipse rx="2.1" ry="0.8" transform="translate(48.1 3.0)rotate(34)"/><ellipse rx="2.8" ry="1.4" transform="translate(82.7 59.8)rotate(164)"/><ellipse rx="2.7" ry="1.4" transform="translate(54.2 60.7)rotate(107)"/><ellipse rx="2.8" ry="1.2" transform="translate(60.6 19.6)rotate(137)"/><ellipse rx="1.6" ry="1.4" transform="translate(7.3 16.4)rotate(165)"/><ellipse rx="3.1" ry="1.4" transform="translate(58.3 35.5)rotate(101)"/><ellipse rx="2.3" ry="1.1" transform="translate(21.7 28.7)rotate(78)"/><ellipse rx="1.6" ry="1.3" transform="translate(57.0 92.9)rotate(7)"/><ellipse rx="2.6" ry="1.5" transform="translate(8.9 80.3)rotate(80)"/><ellipse rx="2.6" ry="1.6" transform="translate(-0.7 37.3)rotate(177)"/><ellipse rx="1.7" ry="1.3" transform="translate(41.7 39.9)rotate(38)"/><ellipse rx="1.5" ry="1.3" transform="translate(11.9 -0.4)rotate(22)"/><ellipse rx="3.2" ry="0.9" transform="translate(86.8 7.0)rotate(3)"/><ellipse rx="2.9" ry="0.9" transform="translate(64.1 22.6)rotate(9)"/><ellipse rx="3.1" ry="1.4" transform="translate(69.1 70.5)rotate(15)"/><ellipse rx="2.4" ry="1.5" transform="translate(55.8 70.1)rotate(46)"/><ellipse rx="1.5" ry="0.8" transform="translate(86.6 70.9)rotate(117)"/><ellipse rx="2.1" ry="1.4" transform="translate(73.1 6.1)rotate(30)"/><ellipse rx="1.6" ry="1.1" transform="translate(77.1 47.4)rotate(103)"/><ellipse rx="1.8" ry="1.4" transform="translate(38.3 66.8)rotate(65)"/><ellipse rx="2.3" ry="1.1" transform="translate(57.3 62.0)rotate(142)"/><ellipse rx="2.6" ry="1.0" transform="translate(84.8 77.7)rotate(11)"/><ellipse rx="3.1" ry="1.1" transform="translate(87.5 69.5)rotate(109)"/><ellipse rx="2.6" ry="1.0" transform="translate(87.8 82.5)rotate(77)"/><ellipse rx="2.8" ry="1.3" transform="translate(79.6 36.3)rotate(161)"/><ellipse rx="1.5" ry="1.0" transform="translate(72.2 26.8)rotate(76)"/><ellipse rx="3.2" ry="0.8" transform="translate(51.9 80.9)rotate(150)"/><ellipse rx="2.6" ry="1.0" transform="translate(72.6 86.1)rotate(153)"/><ellipse rx="3.2" ry="1.1" transform="translate(72.2 67.6)rotate(15)"/><ellipse rx="1.9" ry="1.4" transform="translate(48.9 79.0)rotate(168)"/><ellipse rx="2.8" ry="1.2" transform="translate(19.5 59.7)rotate(37)"/><ellipse rx="3.0" ry="1.2" transform="translate(21.4 74.3)rotate(16)"/><ellipse rx="1.9" ry="1.3" transform="translate(72.1 76.5)rotate(161)"/><ellipse rx="2.4" ry="1.3" transform="translate(79.3 51.0)rotate(34)"/><ellipse rx="2.8" ry="1.1" transform="translate(15.7 16.4)rotate(102)"/><ellipse rx="1.8" ry="0.8" transform="translate(35.0 50.5)rotate(179)"/><ellipse rx="2.7" ry="1.4" transform="translate(32.4 8.8)rotate(28)"/><ellipse rx="2.5" ry="0.8" transform="translate(52.9 33.0)rotate(6)"/><ellipse rx="2.4" ry="1.3" transform="translate(89.0 86.0)rotate(47)"/><ellipse rx="3.3" ry="1.4" transform="translate(69.6 41.3)rotate(147)"/><ellipse rx="1.6" ry="1.0" transform="translate(86.5 23.8)rotate(33)"/><ellipse rx="2.6" ry="1.5" transform="translate(5.7 3.2)rotate(82)"/><ellipse rx="1.6" ry="1.3" transform="translate(85.0 90.4)rotate(72)"/><ellipse rx="2.0" ry="1.3" transform="translate(9.0 95.5)rotate(115)"/><ellipse rx="2.2" ry="1.2" transform="translate(85.9 66.0)rotate(29)"/><ellipse rx="1.9" ry="0.8" transform="translate(86.8 98.8)rotate(46)"/><ellipse rx="3.2" ry="1.5" transform="translate(30.3 89.7)rotate(8)"/><ellipse rx="2.7" ry="1.6" transform="translate(70.3 70.1)rotate(10)"/><ellipse rx="3.3" ry="1.3" transform="translate(11.3 74.7)rotate(54)"/><ellipse rx="1.7" ry="1.1" transform="translate(52.4 75.0)rotate(46)"/><ellipse rx="1.8" ry="1.0" transform="translate(9.4 46.9)rotate(26)"/><ellipse rx="2.9" ry="1.0" transform="translate(60.3 -0.7)rotate(6)"/><ellipse rx="3.3" ry="1.5" transform="translate(83.3 20.4)rotate(160)"/><ellipse rx="1.7" ry="1.5" transform="translate(10.8 43.4)rotate(152)"/><ellipse rx="2.1" ry="1.5" transform="translate(55.7 44.0)rotate(86)"/><ellipse rx="1.9" ry="0.8" transform="translate(55.7 12.5)rotate(128)"/><ellipse rx="3.2" ry="1.0" transform="translate(48.9 12.7)rotate(74)"/><ellipse rx="3.1" ry="1.1" transform="translate(12.3 25.5)rotate(30)"/><ellipse rx="3.2" ry="0.9" transform="translate(43.1 30.3)rotate(176)"/><ellipse rx="2.8" ry="1.0" transform="translate(3.2 88.9)rotate(86)"/><ellipse rx="1.9" ry="1.1" transform="translate(24.3 24.2)rotate(178)"/><ellipse rx="1.7" ry="1.0" transform="translate(89.7 92.0)rotate(161)"/><ellipse rx="2.1" ry="1.6" transform="translate(3.3 71.8)rotate(3)"/><ellipse rx="1.8" ry="0.8" transform="translate(72.2 32.6)rotate(150)"/><ellipse rx="2.3" ry="1.5" transform="translate(46.4 16.9)rotate(39)"/><ellipse rx="1.8" ry="1.4" transform="translate(50.5 12.0)rotate(128)"/><ellipse rx="1.7" ry="1.3" transform="translate(16.1 6.1)rotate(89)"/><ellipse rx="2.7" ry="1.4" transform="translate(23.2 18.9)rotate(146)"/><ellipse rx="1.6" ry="1.4" transform="translate(51.6 18.6)rotate(73)"/><ellipse rx="3.0" ry="1.1" transform="translate(64.3 3.6)rotate(152)"/><ellipse rx="1.5" ry="1.5" transform="translate(77.4 48.1)rotate(86)"/><ellipse rx="1.9" ry="1.5" transform="translate(78.1 25.1)rotate(66)"/><ellipse rx="2.6" ry="0.8" transform="translate(13.0 35.7)rotate(94)"/><ellipse rx="1.7" ry="1.4" transform="translate(39.0 50.4)rotate(147)"/><ellipse rx="2.9" ry="1.1" transform="translate(77.5 30.6)rotate(135)"/><ellipse rx="3.3" ry="1.2" transform="translate(3.6 86.7)rotate(92)"/><ellipse rx="1.5" ry="1.6" transform="translate(46.8 52.6)rotate(40)"/><ellipse rx="2.0" ry="1.5" transform="translate(14.8 8.4)rotate(5)"/><ellipse rx="1.9" ry="0.8" transform="translate(6.9 69.0)rotate(108)"/><ellipse rx="2.8" ry="0.9" transform="translate(51.0 51.1)rotate(157)"/><ellipse rx="1.7" ry="1.2" transform="translate(63.9 2.6)rotate(90)"/><ellipse rx="2.3" ry="0.9" transform="translate(23.7 10.4)rotate(107)"/><ellipse rx="2.6" ry="1.4" transform="translate(77.1 13.0)rotate(30)"/><ellipse rx="2.2" ry="1.1" transform="translate(73.9 93.3)rotate(151)"/><ellipse rx="3.3" ry="1.4" transform="translate(46.3 38.2)rotate(61)"/><ellipse rx="2.3" ry="1.6" transform="translate(20.1 32.0)rotate(145)"/><ellipse rx="3.1" ry="0.8" transform="translate(81.9 80.8)rotate(93)"/><ellipse rx="2.0" ry="1.1" transform="translate(86.0 92.9)rotate(114)"/><ellipse rx="1.6" ry="1.1" transform="translate(31.5 51.9)rotate(91)"/><ellipse rx="3.3" ry="1.4" transform="translate(-0.1 12.2)rotate(169)"/><ellipse rx="3.2" ry="1.5" transform="translate(56.2 80.2)rotate(6)"/><ellipse rx="2.8" ry="1.0" transform="translate(57.0 25.0)rotate(98)"/><ellipse rx="2.0" ry="1.2" transform="translate(83.0 61.1)rotate(78)"/><ellipse rx="2.1" ry="1.3" transform="translate(85.4 27.2)rotate(22)"/><ellipse rx="2.5" ry="1.0" transform="translate(52.6 95.1)rotate(84)"/><ellipse rx="1.7" ry="0.9" transform="translate(47.1 13.1)rotate(53)"/><ellipse rx="2.0" ry="0.9" transform="translate(35.4 27.3)rotate(98)"/><ellipse rx="2.6" ry="1.3" transform="translate(75.2 60.0)rotate(36)"/><ellipse rx="2.5" ry="1.3" transform="translate(63.3 44.8)rotate(84)"/><ellipse rx="1.9" ry="1.2" transform="translate(26.5 22.6)rotate(69)"/><ellipse rx="2.2" ry="1.5" transform="translate(51.8 -0.8)rotate(43)"/><ellipse rx="2.0" ry="1.6" transform="translate(49.2 47.9)rotate(53)"/><ellipse rx="1.6" ry="1.5" transform="translate(69.0 14.1)rotate(79)"/><ellipse rx="2.3" ry="1.4" transform="translate(3.7 37.4)rotate(20)"/><ellipse rx="2.9" ry="0.9" transform="translate(18.7 95.5)rotate(61)"/><ellipse rx="2.7" ry="1.5" transform="translate(30.4 66.6)rotate(148)"/><ellipse rx="2.9" ry="1.4" transform="translate(45.6 73.1)rotate(86)"/><ellipse rx="3.2" ry="0.9" transform="translate(70.1 70.0)rotate(157)"/><ellipse rx="2.6" ry="1.2" transform="translate(-1.6 75.8)rotate(173)"/><ellipse rx="3.0" ry="1.5" transform="translate(50.6 40.5)rotate(109)"/><ellipse rx="2.4" ry="1.4" transform="translate(32.9 44.0)rotate(53)"/><ellipse rx="2.2" ry="1.1" transform="translate(33.9 54.4)rotate(142)"/><ellipse rx="2.3" ry="0.9" transform="translate(76.1 48.8)rotate(55)"/><ellipse rx="2.6" ry="0.9" transform="translate(11.3 56.5)rotate(166)"/><ellipse rx="3.1" ry="1.6" transform="translate(27.8 83.7)rotate(37)"/><ellipse rx="1.5" ry="0.8" transform="translate(37.2 90.5)rotate(102)"/><ellipse rx="3.0" ry="1.2" transform="translate(43.7 91.5)rotate(180)"/><ellipse rx="2.8" ry="1.1" transform="translate(45.6 50.6)rotate(64)"/><ellipse rx="3.3" ry="1.3" transform="translate(52.7 33.7)rotate(95)"/><ellipse rx="2.3" ry="1.2" transform="translate(7.1 36.0)rotate(103)"/><ellipse rx="2.4" ry="1.2" transform="translate(78.9 96.0)rotate(112)"/><ellipse rx="2.5" ry="1.5" transform="translate(89.5 32.9)rotate(31)"/><ellipse rx="3.1" ry="1.2" transform="translate(27.2 97.4)rotate(20)"/><ellipse rx="3.1" ry="1.6" transform="translate(80.2 68.1)rotate(160)"/><ellipse rx="2.1" ry="1.2" transform="translate(36.7 13.9)rotate(91)"/><ellipse rx="2.7" ry="1.3" transform="translate(15.3 16.5)rotate(64)"/><ellipse rx="1.6" ry="1.1" transform="translate(89.3 62.7)rotate(142)"/><ellipse rx="1.5" ry="1.0" transform="translate(26.2 68.2)rotate(152)"/><ellipse rx="1.9" ry="1.2" transform="translate(51.9 65.9)rotate(100)"/><ellipse rx="2.5" ry="1.6" transform="translate(22.4 63.7)rotate(103)"/><ellipse rx="1.8" ry="1.4" transform="translate(35.8 10.3)rotate(19)"/><ellipse rx="2.5" ry="1.5" transform="translate(7.2 15.3)rotate(110)"/><ellipse rx="1.5" ry="1.4" transform="translate(72.1 4.3)rotate(58)"/><ellipse rx="1.8" ry="1.0" transform="translate(63.8 34.0)rotate(18)"/><ellipse rx="2.2" ry="1.2" transform="translate(81.1 57.2)rotate(69)"/><ellipse rx="2.6" ry="1.6" transform="translate(3.0 88.5)rotate(79)"/><ellipse rx="1.6" ry="1.5" transform="translate(55.0 23.3)rotate(154)"/><ellipse rx="3.1" ry="1.0" transform="translate(26.9 89.3)rotate(108)"/><ellipse rx="3.3" ry="1.0" transform="translate(86.2 48.3)rotate(70)"/><ellipse rx="2.1" ry="1.5" transform="translate(64.0 20.5)rotate(87)"/><ellipse rx="1.8" ry="1.1" transform="translate(70.9 22.7)rotate(34)"/><ellipse rx="2.6" ry="0.9" transform="translate(87.3 27.5)rotate(96)"/><ellipse rx="1.6" ry="0.9" transform="translate(33.4 39.0)rotate(149)"/><ellipse rx="1.9" ry="1.0" transform="translate(30.3 22.9)rotate(43)"/><ellipse rx="2.1" ry="0.9" transform="translate(1.2 65.5)rotate(127)"/><ellipse rx="3.1" ry="0.9" transform="translate(6.5 25.4)rotate(80)"/><ellipse rx="1.8" ry="1.1" transform="translate(74.9 79.8)rotate(130)"/><ellipse rx="1.9" ry="1.6" transform="translate(32.6 95.4)rotate(91)"/><ellipse rx="1.7" ry="1.4" transform="translate(18.9 44.0)rotate(47)"/><ellipse rx="2.2" ry="1.0" transform="translate(80.7 57.7)rotate(109)"/><ellipse rx="1.7" ry="1.2" transform="translate(17.5 86.6)rotate(98)"/><ellipse rx="2.2" ry="1.3" transform="translate(22.9 76.4)rotate(102)"/><ellipse rx="1.7" ry="0.9" transform="translate(26.6 37.6)rotate(153)"/><ellipse rx="1.7" ry="1.2" transform="translate(27.5 65.3)rotate(65)"/><ellipse rx="1.6" ry="1.0" transform="translate(44.0 28.2)rotate(41)"/><ellipse rx="2.0" ry="1.1" transform="translate(9.6 70.8)rotate(164)"/><ellipse rx="3.1" ry="0.9" transform="translate(69.2 87.7)rotate(50)"/><ellipse rx="2.8" ry="1.1" transform="translate(0.7 67.0)rotate(74)"/><ellipse rx="2.0" ry="1.5" transform="translate(58.6 69.0)rotate(63)"/><ellipse rx="1.7" ry="1.5" transform="translate(55.8 16.5)rotate(132)"/><ellipse rx="1.6" ry="0.9" transform="translate(63.5 2.1)rotate(36)"/></g></g></g>
<g clip-path="url(#cc3)"><rect x="338.3" y="421.4" width="88.6" height="97.6" fill="#aea68e"/><rect x="338.3" y="421.4" width="88.6" height="97.6" filter="url(#cn3)"/><g fill="#50436c" fill-opacity="0.9" filter="url(#cb)"><g transform="translate(338.3 421.4)"><ellipse rx="1.7" ry="1.1" transform="translate(26.1 36.7)rotate(115)"/><ellipse rx="2.7" ry="1.4" transform="translate(14.6 83.3)rotate(46)"/><ellipse rx="2.3" ry="0.8" transform="translate(38.3 67.5)rotate(150)"/><ellipse rx="1.7" ry="1.6" transform="translate(69.9 27.1)rotate(109)"/><ellipse rx="1.8" ry="1.5" transform="translate(2.4 22.8)rotate(38)"/><ellipse rx="1.8" ry="1.4" transform="translate(82.7 74.2)rotate(71)"/><ellipse rx="2.2" ry="0.9" transform="translate(67.2 82.2)rotate(170)"/><ellipse rx="3.0" ry="1.5" transform="translate(37.3 92.5)rotate(149)"/><ellipse rx="1.7" ry="1.4" transform="translate(56.2 44.0)rotate(77)"/><ellipse rx="1.9" ry="1.5" transform="translate(45.4 92.3)rotate(8)"/><ellipse rx="2.1" ry="1.3" transform="translate(63.1 79.9)rotate(174)"/><ellipse rx="2.1" ry="0.9" transform="translate(57.0 53.3)rotate(64)"/><ellipse rx="2.2" ry="0.9" transform="translate(36.1 18.5)rotate(127)"/><ellipse rx="2.1" ry="1.3" transform="translate(60.1 22.2)rotate(80)"/><ellipse rx="2.2" ry="1.6" transform="translate(84.7 33.7)rotate(26)"/><ellipse rx="3.2" ry="1.3" transform="translate(50.2 31.9)rotate(137)"/><ellipse rx="2.8" ry="1.2" transform="translate(13.7 65.7)rotate(138)"/><ellipse rx="2.2" ry="1.1" transform="translate(75.0 9.6)rotate(37)"/><ellipse rx="2.0" ry="1.4" transform="translate(3.6 26.5)rotate(81)"/><ellipse rx="2.5" ry="1.1" transform="translate(8.5 31.0)rotate(30)"/><ellipse rx="3.6" ry="1.5" transform="translate(4.7 -0.9)rotate(15)"/><ellipse rx="2.7" ry="0.9" transform="translate(64.4 97.6)rotate(88)"/><ellipse rx="2.7" ry="0.8" transform="translate(38.2 17.3)rotate(166)"/><ellipse rx="3.5" ry="1.4" transform="translate(57.7 61.8)rotate(45)"/><ellipse rx="1.7" ry="1.5" transform="translate(20.8 12.1)rotate(151)"/><ellipse rx="2.9" ry="1.6" transform="translate(25.4 16.9)rotate(167)"/><ellipse rx="3.3" ry="1.5" transform="translate(13.6 77.7)rotate(59)"/><ellipse rx="2.2" ry="1.1" transform="translate(15.1 81.9)rotate(99)"/><ellipse rx="2.1" ry="0.8" transform="translate(32.2 82.5)rotate(102)"/><ellipse rx="3.0" ry="1.6" transform="translate(56.2 81.3)rotate(170)"/><ellipse rx="1.9" ry="1.1" transform="translate(43.8 48.8)rotate(105)"/><ellipse rx="1.9" ry="1.2" transform="translate(5.4 67.9)rotate(175)"/><ellipse rx="2.5" ry="1.0" transform="translate(6.3 2.1)rotate(130)"/><ellipse rx="3.3" ry="1.5" transform="translate(-1.7 83.4)rotate(77)"/><ellipse rx="2.6" ry="1.2" transform="translate(24.2 65.2)rotate(61)"/><ellipse rx="3.3" ry="1.6" transform="translate(38.6 65.7)rotate(30)"/><ellipse rx="2.7" ry="1.1" transform="translate(25.4 43.0)rotate(35)"/><ellipse rx="2.5" ry="1.7" transform="translate(5.9 30.9)rotate(164)"/><ellipse rx="3.5" ry="1.4" transform="translate(78.1 97.0)rotate(146)"/><ellipse rx="2.8" ry="1.1" transform="translate(3.6 66.7)rotate(103)"/><ellipse rx="2.9" ry="1.1" transform="translate(86.2 46.8)rotate(62)"/><ellipse rx="2.0" ry="1.4" transform="translate(80.0 0.8)rotate(81)"/><ellipse rx="2.3" ry="1.3" transform="translate(5.9 65.1)rotate(75)"/><ellipse rx="2.4" ry="0.9" transform="translate(47.1 55.4)rotate(32)"/><ellipse rx="1.8" ry="1.6" transform="translate(80.4 53.7)rotate(46)"/><ellipse rx="2.1" ry="1.2" transform="translate(6.8 51.9)rotate(100)"/><ellipse rx="1.8" ry="1.3" transform="translate(19.0 56.2)rotate(106)"/><ellipse rx="1.7" ry="1.2" transform="translate(5.4 39.5)rotate(155)"/><ellipse rx="3.1" ry="0.9" transform="translate(49.0 70.6)rotate(178)"/><ellipse rx="3.3" ry="1.2" transform="translate(64.8 8.4)rotate(31)"/><ellipse rx="3.1" ry="0.9" transform="translate(86.9 55.2)rotate(140)"/><ellipse rx="2.3" ry="0.8" transform="translate(3.3 22.1)rotate(107)"/><ellipse rx="3.0" ry="1.2" transform="translate(17.7 28.5)rotate(160)"/><ellipse rx="2.7" ry="1.6" transform="translate(55.5 86.6)rotate(157)"/><ellipse rx="2.3" ry="1.5" transform="translate(13.6 73.7)rotate(122)"/><ellipse rx="2.3" ry="1.5" transform="translate(74.5 10.5)rotate(171)"/><ellipse rx="2.8" ry="0.9" transform="translate(64.8 2.4)rotate(99)"/><ellipse rx="3.5" ry="1.4" transform="translate(72.4 9.5)rotate(46)"/><ellipse rx="3.3" ry="1.3" transform="translate(15.9 43.4)rotate(20)"/><ellipse rx="3.2" ry="1.0" transform="translate(-0.1 9.2)rotate(100)"/><ellipse rx="2.4" ry="0.9" transform="translate(24.9 67.8)rotate(158)"/><ellipse rx="3.2" ry="1.7" transform="translate(47.9 68.1)rotate(2)"/><ellipse rx="2.6" ry="1.6" transform="translate(29.7 13.3)rotate(144)"/><ellipse rx="3.2" ry="1.4" transform="translate(1.3 16.5)rotate(71)"/><ellipse rx="3.3" ry="1.2" transform="translate(42.1 14.1)rotate(157)"/><ellipse rx="2.3" ry="1.0" transform="translate(54.6 5.7)rotate(161)"/><ellipse rx="1.9" ry="1.1" transform="translate(52.6 2.4)rotate(84)"/><ellipse rx="2.3" ry="0.8" transform="translate(51.4 37.4)rotate(104)"/><ellipse rx="2.5" ry="1.7" transform="translate(28.9 0.1)rotate(8)"/><ellipse rx="2.1" ry="1.0" transform="translate(11.5 66.2)rotate(90)"/><ellipse rx="2.7" ry="1.7" transform="translate(22.3 55.8)rotate(179)"/><ellipse rx="3.1" ry="1.6" transform="translate(1.2 55.0)rotate(139)"/><ellipse rx="2.3" ry="1.1" transform="translate(56.6 62.5)rotate(143)"/><ellipse rx="3.0" ry="1.1" transform="translate(78.8 93.4)rotate(137)"/><ellipse rx="2.9" ry="1.1" transform="translate(66.5 49.7)rotate(99)"/><ellipse rx="2.3" ry="1.1" transform="translate(35.6 4.1)rotate(178)"/><ellipse rx="2.1" ry="1.0" transform="translate(42.6 35.3)rotate(63)"/><ellipse rx="3.3" ry="1.2" transform="translate(10.6 -1.3)rotate(80)"/><ellipse rx="1.9" ry="0.9" transform="translate(50.7 28.7)rotate(54)"/><ellipse rx="2.7" ry="1.6" transform="translate(26.6 71.8)rotate(61)"/><ellipse rx="1.8" ry="1.0" transform="translate(83.3 57.3)rotate(104)"/><ellipse rx="3.1" ry="1.2" transform="translate(89.4 34.3)rotate(156)"/><ellipse rx="3.4" ry="1.0" transform="translate(4.3 47.2)rotate(46)"/><ellipse rx="2.1" ry="1.4" transform="translate(0.1 14.7)rotate(39)"/><ellipse rx="2.8" ry="1.6" transform="translate(35.0 18.4)rotate(117)"/><ellipse rx="3.5" ry="1.3" transform="translate(16.2 72.6)rotate(14)"/><ellipse rx="2.3" ry="0.9" transform="translate(73.0 87.0)rotate(34)"/><ellipse rx="2.9" ry="1.6" transform="translate(47.7 86.9)rotate(38)"/><ellipse rx="2.9" ry="1.2" transform="translate(28.3 74.1)rotate(122)"/><ellipse rx="2.4" ry="0.8" transform="translate(29.3 3.8)rotate(113)"/><ellipse rx="2.8" ry="1.0" transform="translate(29.0 48.2)rotate(83)"/><ellipse rx="2.7" ry="1.7" transform="translate(-0.7 92.0)rotate(10)"/><ellipse rx="2.3" ry="0.9" transform="translate(54.9 71.6)rotate(28)"/><ellipse rx="1.8" ry="1.5" transform="translate(11.2 75.9)rotate(76)"/><ellipse rx="2.7" ry="1.4" transform="translate(47.9 57.8)rotate(108)"/><ellipse rx="2.1" ry="1.4" transform="translate(28.6 73.3)rotate(137)"/><ellipse rx="3.1" ry="1.7" transform="translate(69.9 29.4)rotate(82)"/><ellipse rx="3.5" ry="0.9" transform="translate(23.8 51.2)rotate(2)"/><ellipse rx="3.1" ry="1.1" transform="translate(42.1 64.6)rotate(178)"/><ellipse rx="1.8" ry="0.8" transform="translate(19.1 74.9)rotate(24)"/><ellipse rx="2.7" ry="1.0" transform="translate(3.6 49.0)rotate(169)"/><ellipse rx="2.0" ry="1.5" transform="translate(31.9 13.2)rotate(166)"/><ellipse rx="3.2" ry="1.0" transform="translate(13.0 1.0)rotate(177)"/><ellipse rx="2.3" ry="1.5" transform="translate(44.2 62.6)rotate(83)"/><ellipse rx="1.8" ry="1.5" transform="translate(28.0 89.8)rotate(12)"/><ellipse rx="3.3" ry="0.9" transform="translate(57.8 38.8)rotate(102)"/><ellipse rx="3.5" ry="1.4" transform="translate(36.0 91.4)rotate(40)"/><ellipse rx="2.5" ry="1.0" transform="translate(21.3 24.7)rotate(37)"/><ellipse rx="2.2" ry="1.7" transform="translate(68.3 63.3)rotate(39)"/><ellipse rx="3.3" ry="1.6" transform="translate(50.7 13.9)rotate(48)"/><ellipse rx="2.2" ry="1.1" transform="translate(67.6 81.6)rotate(87)"/><ellipse rx="3.0" ry="1.3" transform="translate(80.5 14.4)rotate(82)"/><ellipse rx="2.0" ry="1.6" transform="translate(51.6 87.7)rotate(65)"/><ellipse rx="2.0" ry="1.6" transform="translate(70.2 85.7)rotate(179)"/><ellipse rx="1.8" ry="1.7" transform="translate(25.6 0.5)rotate(2)"/><ellipse rx="3.1" ry="0.9" transform="translate(82.4 13.3)rotate(30)"/><ellipse rx="2.3" ry="1.6" transform="translate(61.2 7.2)rotate(129)"/><ellipse rx="1.7" ry="1.0" transform="translate(79.7 97.5)rotate(143)"/><ellipse rx="2.6" ry="1.0" transform="translate(61.8 1.8)rotate(77)"/><ellipse rx="3.6" ry="1.1" transform="translate(7.7 0.0)rotate(158)"/><ellipse rx="1.9" ry="1.2" transform="translate(9.2 47.5)rotate(32)"/><ellipse rx="3.1" ry="1.3" transform="translate(61.5 13.0)rotate(20)"/><ellipse rx="3.4" ry="1.1" transform="translate(30.7 48.4)rotate(39)"/><ellipse rx="3.1" ry="1.0" transform="translate(87.6 87.7)rotate(32)"/><ellipse rx="1.7" ry="1.3" transform="translate(22.5 5.0)rotate(73)"/><ellipse rx="1.6" ry="1.4" transform="translate(49.5 34.8)rotate(118)"/><ellipse rx="3.0" ry="1.7" transform="translate(48.4 53.8)rotate(157)"/><ellipse rx="2.2" ry="1.2" transform="translate(64.5 38.6)rotate(175)"/><ellipse rx="2.4" ry="0.9" transform="translate(33.8 37.2)rotate(180)"/><ellipse rx="3.5" ry="1.0" transform="translate(-1.5 59.8)rotate(110)"/><ellipse rx="2.0" ry="0.9" transform="translate(32.9 22.5)rotate(152)"/><ellipse rx="1.7" ry="1.4" transform="translate(70.6 90.3)rotate(58)"/><ellipse rx="2.2" ry="1.7" transform="translate(57.8 53.8)rotate(0)"/><ellipse rx="2.6" ry="1.3" transform="translate(67.1 84.7)rotate(179)"/><ellipse rx="3.1" ry="1.1" transform="translate(19.7 62.0)rotate(128)"/><ellipse rx="2.8" ry="1.4" transform="translate(34.4 51.5)rotate(58)"/><ellipse rx="2.0" ry="1.4" transform="translate(56.2 53.2)rotate(48)"/><ellipse rx="3.0" ry="1.3" transform="translate(82.1 46.1)rotate(86)"/><ellipse rx="3.5" ry="1.3" transform="translate(18.5 12.4)rotate(94)"/><ellipse rx="2.1" ry="1.0" transform="translate(46.8 80.6)rotate(148)"/><ellipse rx="3.3" ry="1.6" transform="translate(40.6 63.1)rotate(156)"/><ellipse rx="3.3" ry="1.5" transform="translate(2.0 36.7)rotate(22)"/><ellipse rx="1.8" ry="1.1" transform="translate(12.2 23.6)rotate(145)"/><ellipse rx="1.8" ry="1.2" transform="translate(46.3 44.0)rotate(179)"/><ellipse rx="2.6" ry="1.5" transform="translate(62.4 43.7)rotate(137)"/><ellipse rx="2.3" ry="1.3" transform="translate(11.9 67.1)rotate(43)"/><ellipse rx="2.4" ry="0.8" transform="translate(32.3 32.6)rotate(36)"/><ellipse rx="2.0" ry="1.4" transform="translate(50.8 3.9)rotate(49)"/><ellipse rx="3.3" ry="0.9" transform="translate(28.0 22.6)rotate(115)"/><ellipse rx="2.4" ry="1.5" transform="translate(77.5 18.5)rotate(111)"/><ellipse rx="2.5" ry="1.1" transform="translate(32.4 2.5)rotate(128)"/><ellipse rx="2.9" ry="1.5" transform="translate(25.3 39.4)rotate(63)"/><ellipse rx="3.4" ry="1.0" transform="translate(33.7 56.8)rotate(175)"/><ellipse rx="2.9" ry="1.1" transform="translate(63.9 35.8)rotate(13)"/><ellipse rx="2.7" ry="1.2" transform="translate(68.0 36.5)rotate(162)"/><ellipse rx="2.8" ry="1.2" transform="translate(68.1 0.6)rotate(83)"/><ellipse rx="2.5" ry="1.6" transform="translate(75.7 40.2)rotate(79)"/><ellipse rx="3.2" ry="1.4" transform="translate(43.5 50.0)rotate(133)"/><ellipse rx="3.0" ry="1.3" transform="translate(35.2 2.1)rotate(138)"/><ellipse rx="2.0" ry="0.9" transform="translate(69.3 10.0)rotate(147)"/><ellipse rx="3.1" ry="1.3" transform="translate(7.4 7.0)rotate(10)"/><ellipse rx="2.6" ry="0.8" transform="translate(61.1 70.2)rotate(124)"/><ellipse rx="3.6" ry="1.5" transform="translate(36.7 57.3)rotate(157)"/><ellipse rx="2.6" ry="0.8" transform="translate(11.5 32.0)rotate(178)"/><ellipse rx="2.2" ry="1.0" transform="translate(23.4 24.7)rotate(155)"/><ellipse rx="2.4" ry="0.8" transform="translate(49.5 49.9)rotate(55)"/><ellipse rx="3.3" ry="1.0" transform="translate(78.3 79.5)rotate(36)"/><ellipse rx="2.3" ry="1.2" transform="translate(2.8 52.5)rotate(88)"/><ellipse rx="3.2" ry="1.0" transform="translate(52.1 35.2)rotate(165)"/><ellipse rx="2.2" ry="1.3" transform="translate(49.5 3.2)rotate(74)"/><ellipse rx="2.1" ry="1.5" transform="translate(50.3 30.9)rotate(52)"/><ellipse rx="2.8" ry="1.2" transform="translate(63.8 79.5)rotate(168)"/><ellipse rx="1.7" ry="1.2" transform="translate(39.2 87.2)rotate(115)"/><ellipse rx="1.7" ry="1.3" transform="translate(2.5 85.6)rotate(32)"/><ellipse rx="3.2" ry="1.2" transform="translate(83.4 55.0)rotate(121)"/><ellipse rx="2.0" ry="1.6" transform="translate(60.5 28.0)rotate(26)"/><ellipse rx="1.8" ry="0.9" transform="translate(83.0 19.0)rotate(141)"/><ellipse rx="2.9" ry="1.0" transform="translate(86.1 40.1)rotate(163)"/><ellipse rx="1.7" ry="1.4" transform="translate(61.5 13.7)rotate(8)"/><ellipse rx="2.1" ry="1.3" transform="translate(75.4 27.8)rotate(57)"/><ellipse rx="3.4" ry="1.1" transform="translate(49.9 13.6)rotate(151)"/><ellipse rx="3.6" ry="1.2" transform="translate(12.1 79.2)rotate(6)"/><ellipse rx="2.0" ry="1.3" transform="translate(33.2 63.1)rotate(17)"/><ellipse rx="2.5" ry="1.4" transform="translate(41.0 72.0)rotate(21)"/><ellipse rx="3.4" ry="1.7" transform="translate(74.7 10.4)rotate(169)"/><ellipse rx="2.3" ry="1.5" transform="translate(46.7 27.5)rotate(89)"/><ellipse rx="2.6" ry="1.6" transform="translate(84.1 7.4)rotate(108)"/><ellipse rx="1.9" ry="1.0" transform="translate(48.1 7.0)rotate(161)"/><ellipse rx="3.4" ry="0.8" transform="translate(76.3 21.1)rotate(108)"/><ellipse rx="3.5" ry="1.4" transform="translate(87.6 33.0)rotate(9)"/><ellipse rx="2.1" ry="1.5" transform="translate(28.8 43.7)rotate(32)"/><ellipse rx="1.7" ry="1.3" transform="translate(70.9 28.3)rotate(17)"/><ellipse rx="2.8" ry="1.2" transform="translate(49.1 78.1)rotate(6)"/><ellipse rx="2.9" ry="0.9" transform="translate(45.5 7.9)rotate(104)"/><ellipse rx="2.9" ry="0.9" transform="translate(30.7 36.1)rotate(31)"/><ellipse rx="3.3" ry="1.6" transform="translate(85.2 31.7)rotate(86)"/><ellipse rx="3.4" ry="0.9" transform="translate(11.8 7.6)rotate(89)"/><ellipse rx="2.5" ry="0.9" transform="translate(47.6 9.9)rotate(96)"/><ellipse rx="2.0" ry="1.2" transform="translate(44.9 35.3)rotate(37)"/><ellipse rx="3.3" ry="1.3" transform="translate(9.8 22.4)rotate(160)"/><ellipse rx="2.6" ry="1.5" transform="translate(-0.6 93.8)rotate(103)"/><ellipse rx="3.1" ry="0.9" transform="translate(61.8 21.3)rotate(48)"/><ellipse rx="2.6" ry="1.1" transform="translate(0.9 38.0)rotate(160)"/><ellipse rx="2.1" ry="1.3" transform="translate(5.8 56.8)rotate(141)"/><ellipse rx="2.1" ry="1.3" transform="translate(63.8 4.3)rotate(177)"/><ellipse rx="3.0" ry="1.5" transform="translate(1.8 60.8)rotate(62)"/><ellipse rx="3.4" ry="0.8" transform="translate(73.1 44.9)rotate(169)"/><ellipse rx="1.8" ry="1.0" transform="translate(36.1 39.4)rotate(132)"/><ellipse rx="2.3" ry="0.9" transform="translate(60.9 13.4)rotate(36)"/><ellipse rx="3.6" ry="1.7" transform="translate(18.3 31.6)rotate(142)"/><ellipse rx="3.2" ry="1.6" transform="translate(42.4 48.5)rotate(135)"/><ellipse rx="2.9" ry="1.6" transform="translate(56.9 18.2)rotate(142)"/><ellipse rx="2.3" ry="0.9" transform="translate(6.6 70.9)rotate(174)"/><ellipse rx="1.9" ry="1.5" transform="translate(60.3 73.7)rotate(169)"/><ellipse rx="3.3" ry="1.5" transform="translate(81.8 73.7)rotate(106)"/><ellipse rx="3.2" ry="1.6" transform="translate(38.3 81.8)rotate(54)"/><ellipse rx="3.5" ry="0.9" transform="translate(87.0 52.0)rotate(174)"/><ellipse rx="3.3" ry="1.0" transform="translate(70.9 23.6)rotate(36)"/><ellipse rx="2.6" ry="1.6" transform="translate(40.4 22.0)rotate(123)"/><ellipse rx="3.2" ry="1.5" transform="translate(63.8 37.8)rotate(123)"/><ellipse rx="2.4" ry="0.9" transform="translate(85.2 81.9)rotate(117)"/><ellipse rx="2.8" ry="1.6" transform="translate(75.4 32.5)rotate(143)"/><ellipse rx="1.6" ry="0.9" transform="translate(-1.6 47.7)rotate(146)"/><ellipse rx="2.5" ry="1.1" transform="translate(36.8 59.4)rotate(38)"/><ellipse rx="2.8" ry="1.1" transform="translate(30.8 83.8)rotate(16)"/><ellipse rx="2.5" ry="1.4" transform="translate(23.1 69.2)rotate(145)"/><ellipse rx="1.7" ry="1.5" transform="translate(9.2 67.4)rotate(33)"/><ellipse rx="2.3" ry="1.0" transform="translate(23.1 95.3)rotate(160)"/><ellipse rx="2.4" ry="1.2" transform="translate(54.5 88.8)rotate(172)"/><ellipse rx="2.0" ry="1.5" transform="translate(44.9 98.4)rotate(29)"/><ellipse rx="2.0" ry="1.7" transform="translate(46.8 -2.0)rotate(82)"/><ellipse rx="2.3" ry="0.9" transform="translate(72.9 23.5)rotate(99)"/><ellipse rx="2.4" ry="1.6" transform="translate(77.8 50.2)rotate(161)"/><ellipse rx="2.8" ry="1.2" transform="translate(59.7 5.7)rotate(172)"/><ellipse rx="2.9" ry="1.1" transform="translate(31.5 65.2)rotate(94)"/><ellipse rx="2.6" ry="1.1" transform="translate(60.6 90.2)rotate(176)"/><ellipse rx="3.0" ry="1.3" transform="translate(3.3 82.8)rotate(81)"/><ellipse rx="3.1" ry="1.5" transform="translate(67.5 88.5)rotate(6)"/><ellipse rx="3.5" ry="1.6" transform="translate(28.1 11.9)rotate(26)"/><ellipse rx="1.7" ry="1.2" transform="translate(52.4 56.6)rotate(135)"/><ellipse rx="3.1" ry="1.1" transform="translate(57.4 26.5)rotate(98)"/><ellipse rx="2.9" ry="1.5" transform="translate(37.0 97.4)rotate(122)"/><ellipse rx="3.0" ry="1.4" transform="translate(33.2 95.8)rotate(50)"/><ellipse rx="3.3" ry="1.5" transform="translate(13.0 56.4)rotate(63)"/><ellipse rx="3.4" ry="0.9" transform="translate(11.0 50.4)rotate(133)"/><ellipse rx="1.7" ry="1.1" transform="translate(13.8 29.7)rotate(69)"/><ellipse rx="2.0" ry="1.1" transform="translate(87.5 95.8)rotate(170)"/><ellipse rx="2.5" ry="0.9" transform="translate(16.3 30.6)rotate(47)"/><ellipse rx="3.5" ry="1.0" transform="translate(34.5 37.2)rotate(37)"/><ellipse rx="3.3" ry="1.4" transform="translate(82.2 43.7)rotate(140)"/><ellipse rx="3.1" ry="1.2" transform="translate(27.1 13.5)rotate(101)"/><ellipse rx="2.2" ry="1.1" transform="translate(60.1 74.5)rotate(165)"/><ellipse rx="2.9" ry="1.0" transform="translate(47.0 27.3)rotate(139)"/><ellipse rx="2.7" ry="1.1" transform="translate(1.8 82.0)rotate(169)"/><ellipse rx="1.7" ry="1.3" transform="translate(22.6 22.7)rotate(136)"/><ellipse rx="3.2" ry="0.9" transform="translate(60.8 39.9)rotate(55)"/><ellipse rx="2.9" ry="1.4" transform="translate(57.7 96.3)rotate(139)"/><ellipse rx="3.1" ry="1.1" transform="translate(34.5 93.5)rotate(71)"/><ellipse rx="2.0" ry="1.6" transform="translate(72.6 33.5)rotate(96)"/><ellipse rx="3.4" ry="0.9" transform="translate(46.3 66.0)rotate(61)"/><ellipse rx="2.6" ry="1.6" transform="translate(4.1 40.0)rotate(120)"/><ellipse rx="2.7" ry="1.0" transform="translate(51.5 39.0)rotate(152)"/><ellipse rx="1.9" ry="1.4" transform="translate(71.0 83.2)rotate(136)"/><ellipse rx="3.4" ry="1.5" transform="translate(44.4 89.3)rotate(148)"/><ellipse rx="1.9" ry="1.4" transform="translate(58.1 87.3)rotate(127)"/><ellipse rx="1.7" ry="1.3" transform="translate(54.7 25.9)rotate(148)"/><ellipse rx="2.0" ry="0.9" transform="translate(23.3 19.6)rotate(122)"/><ellipse rx="2.3" ry="1.4" transform="translate(88.3 79.5)rotate(13)"/><ellipse rx="1.6" ry="1.4" transform="translate(75.7 31.0)rotate(25)"/><ellipse rx="2.5" ry="1.3" transform="translate(23.5 4.0)rotate(145)"/><ellipse rx="1.8" ry="1.0" transform="translate(1.7 82.1)rotate(113)"/><ellipse rx="2.7" ry="1.0" transform="translate(29.5 31.6)rotate(143)"/><ellipse rx="3.2" ry="1.3" transform="translate(17.4 83.3)rotate(5)"/><ellipse rx="2.6" ry="1.2" transform="translate(70.1 0.9)rotate(11)"/><ellipse rx="2.8" ry="1.2" transform="translate(56.3 71.6)rotate(92)"/><ellipse rx="3.3" ry="1.7" transform="translate(52.5 21.0)rotate(145)"/><ellipse rx="3.6" ry="0.9" transform="translate(87.0 31.5)rotate(86)"/><ellipse rx="3.0" ry="1.4" transform="translate(10.4 44.1)rotate(82)"/><ellipse rx="2.4" ry="1.1" transform="translate(29.6 17.3)rotate(35)"/><ellipse rx="2.5" ry="1.0" transform="translate(66.2 50.4)rotate(127)"/><ellipse rx="2.7" ry="1.4" transform="translate(16.2 25.0)rotate(175)"/><ellipse rx="3.4" ry="1.5" transform="translate(67.2 94.3)rotate(130)"/><ellipse rx="1.6" ry="1.6" transform="translate(3.8 18.9)rotate(130)"/><ellipse rx="2.3" ry="0.9" transform="translate(56.4 24.8)rotate(114)"/><ellipse rx="1.7" ry="1.0" transform="translate(89.8 29.1)rotate(64)"/><ellipse rx="2.5" ry="0.9" transform="translate(81.2 79.7)rotate(19)"/><ellipse rx="2.5" ry="1.7" transform="translate(12.2 77.0)rotate(164)"/><ellipse rx="3.2" ry="0.9" transform="translate(71.6 46.4)rotate(20)"/><ellipse rx="2.0" ry="1.0" transform="translate(50.2 49.6)rotate(4)"/><ellipse rx="3.5" ry="1.7" transform="translate(82.2 70.2)rotate(79)"/><ellipse rx="3.2" ry="1.6" transform="translate(65.8 37.0)rotate(24)"/><ellipse rx="2.8" ry="1.1" transform="translate(-0.8 19.7)rotate(2)"/><ellipse rx="2.5" ry="0.8" transform="translate(74.9 77.9)rotate(160)"/><ellipse rx="2.2" ry="1.4" transform="translate(47.5 5.2)rotate(159)"/><ellipse rx="2.0" ry="1.0" transform="translate(42.9 63.0)rotate(163)"/><ellipse rx="2.8" ry="0.9" transform="translate(33.4 8.6)rotate(36)"/><ellipse rx="2.9" ry="1.4" transform="translate(40.3 57.5)rotate(79)"/><ellipse rx="1.7" ry="1.2" transform="translate(4.3 71.6)rotate(72)"/><ellipse rx="2.1" ry="1.4" transform="translate(60.3 70.5)rotate(125)"/><ellipse rx="3.4" ry="1.3" transform="translate(41.7 12.4)rotate(11)"/><ellipse rx="2.1" ry="1.2" transform="translate(20.1 98.3)rotate(142)"/><ellipse rx="3.1" ry="0.8" transform="translate(74.3 62.4)rotate(17)"/><ellipse rx="1.7" ry="0.8" transform="translate(88.4 79.6)rotate(43)"/><ellipse rx="2.9" ry="1.6" transform="translate(84.2 20.3)rotate(115)"/><ellipse rx="1.9" ry="0.8" transform="translate(83.1 24.7)rotate(136)"/><ellipse rx="3.0" ry="1.0" transform="translate(7.6 96.9)rotate(145)"/><ellipse rx="1.8" ry="1.5" transform="translate(13.1 50.0)rotate(160)"/><ellipse rx="3.3" ry="1.3" transform="translate(82.9 -1.8)rotate(148)"/><ellipse rx="2.8" ry="1.5" transform="translate(44.5 61.0)rotate(14)"/><ellipse rx="2.2" ry="1.2" transform="translate(3.0 53.4)rotate(1)"/><ellipse rx="3.3" ry="1.5" transform="translate(67.0 0.4)rotate(82)"/><ellipse rx="2.0" ry="1.2" transform="translate(9.3 64.0)rotate(20)"/><ellipse rx="2.3" ry="0.9" transform="translate(88.4 53.5)rotate(131)"/><ellipse rx="1.8" ry="1.1" transform="translate(76.7 84.2)rotate(54)"/><ellipse rx="2.8" ry="1.7" transform="translate(68.6 13.0)rotate(138)"/><ellipse rx="1.8" ry="1.4" transform="translate(-1.4 5.6)rotate(108)"/><ellipse rx="2.4" ry="1.3" transform="translate(46.2 44.3)rotate(117)"/><ellipse rx="3.2" ry="1.6" transform="translate(82.9 72.4)rotate(151)"/><ellipse rx="3.0" ry="1.6" transform="translate(64.4 1.1)rotate(78)"/><ellipse rx="3.5" ry="1.2" transform="translate(79.3 16.3)rotate(127)"/><ellipse rx="2.3" ry="1.1" transform="translate(21.4 28.5)rotate(17)"/><ellipse rx="2.9" ry="1.6" transform="translate(39.0 97.7)rotate(137)"/><ellipse rx="3.1" ry="1.0" transform="translate(75.5 99.0)rotate(45)"/><ellipse rx="2.1" ry="1.6" transform="translate(36.2 0.1)rotate(166)"/><ellipse rx="3.1" ry="1.6" transform="translate(28.4 76.3)rotate(143)"/><ellipse rx="3.3" ry="1.1" transform="translate(47.3 8.7)rotate(113)"/><ellipse rx="3.5" ry="0.9" transform="translate(32.0 52.6)rotate(96)"/><ellipse rx="3.5" ry="1.2" transform="translate(58.2 52.7)rotate(164)"/><ellipse rx="1.8" ry="1.0" transform="translate(61.9 96.3)rotate(52)"/><ellipse rx="2.1" ry="1.4" transform="translate(81.9 -0.6)rotate(178)"/><ellipse rx="3.0" ry="1.4" transform="translate(14.3 42.5)rotate(134)"/><ellipse rx="2.1" ry="0.8" transform="translate(67.7 23.2)rotate(124)"/><ellipse rx="3.5" ry="1.4" transform="translate(17.4 24.4)rotate(106)"/><ellipse rx="3.0" ry="1.1" transform="translate(58.8 58.7)rotate(12)"/><ellipse rx="2.3" ry="0.9" transform="translate(4.2 -0.5)rotate(20)"/><ellipse rx="3.0" ry="1.0" transform="translate(43.7 96.5)rotate(138)"/><ellipse rx="2.2" ry="1.2" transform="translate(14.5 8.2)rotate(124)"/><ellipse rx="1.8" ry="1.6" transform="translate(39.2 72.0)rotate(62)"/><ellipse rx="3.3" ry="1.0" transform="translate(75.1 1.1)rotate(154)"/><ellipse rx="2.2" ry="0.8" transform="translate(72.3 66.1)rotate(34)"/><ellipse rx="2.9" ry="1.3" transform="translate(81.8 14.1)rotate(119)"/><ellipse rx="1.8" ry="1.7" transform="translate(14.7 12.6)rotate(69)"/><ellipse rx="2.0" ry="0.9" transform="translate(58.4 55.9)rotate(3)"/><ellipse rx="3.5" ry="1.1" transform="translate(76.9 11.2)rotate(130)"/><ellipse rx="2.1" ry="1.1" transform="translate(10.8 78.1)rotate(94)"/><ellipse rx="3.2" ry="1.1" transform="translate(8.3 23.2)rotate(69)"/><ellipse rx="2.0" ry="1.0" transform="translate(68.8 20.8)rotate(69)"/><ellipse rx="2.5" ry="1.6" transform="translate(31.8 63.2)rotate(9)"/><ellipse rx="2.1" ry="0.8" transform="translate(59.5 83.0)rotate(79)"/><ellipse rx="3.0" ry="0.9" transform="translate(8.7 44.7)rotate(21)"/><ellipse rx="2.1" ry="1.2" transform="translate(42.4 15.7)rotate(21)"/><ellipse rx="2.5" ry="1.6" transform="translate(4.3 34.7)rotate(100)"/><ellipse rx="3.1" ry="1.3" transform="translate(4.6 20.6)rotate(157)"/><ellipse rx="1.8" ry="1.6" transform="translate(87.1 85.2)rotate(94)"/><ellipse rx="3.3" ry="1.0" transform="translate(20.2 15.3)rotate(15)"/><ellipse rx="2.5" ry="1.5" transform="translate(22.6 91.9)rotate(13)"/><ellipse rx="2.0" ry="1.4" transform="translate(39.9 30.3)rotate(65)"/><ellipse rx="2.6" ry="1.0" transform="translate(9.1 98.0)rotate(2)"/><ellipse rx="1.6" ry="1.2" transform="translate(58.5 50.3)rotate(133)"/><ellipse rx="2.6" ry="1.3" transform="translate(47.7 21.8)rotate(117)"/></g></g></g>
<g clip-path="url(#cc4)"><rect x="440.1" y="421.4" width="87.9" height="97.6" fill="#aaa186"/><rect x="440.1" y="421.4" width="87.9" height="97.6" filter="url(#cn4)"/><g fill="#4d4068" fill-opacity="0.9" filter="url(#cb)"><g transform="translate(440.1 421.4)"><ellipse rx="3.7" ry="1.5" transform="translate(11.3 79.6)rotate(154)"/><ellipse rx="2.0" ry="1.0" transform="translate(31.8 89.7)rotate(108)"/><ellipse rx="2.1" ry="0.8" transform="translate(80.9 6.3)rotate(79)"/><ellipse rx="3.2" ry="1.4" transform="translate(10.9 17.5)rotate(169)"/><ellipse rx="1.6" ry="1.7" transform="translate(34.9 67.0)rotate(42)"/><ellipse rx="3.7" ry="1.3" transform="translate(41.8 50.0)rotate(179)"/><ellipse rx="3.4" ry="1.0" transform="translate(55.1 20.0)rotate(180)"/><ellipse rx="3.7" ry="1.1" transform="translate(40.0 21.0)rotate(73)"/><ellipse rx="1.7" ry="1.2" transform="translate(29.5 65.9)rotate(29)"/><ellipse rx="2.9" ry="1.1" transform="translate(74.1 -2.0)rotate(82)"/><ellipse rx="1.9" ry="1.0" transform="translate(49.6 70.3)rotate(22)"/><ellipse rx="1.9" ry="1.3" transform="translate(86.2 13.2)rotate(105)"/><ellipse rx="2.1" ry="1.0" transform="translate(79.5 3.8)rotate(105)"/><ellipse rx="3.6" ry="1.5" transform="translate(39.6 39.5)rotate(155)"/><ellipse rx="3.7" ry="1.2" transform="translate(85.9 25.3)rotate(9)"/><ellipse rx="1.6" ry="1.1" transform="translate(82.1 8.6)rotate(52)"/><ellipse rx="2.5" ry="1.3" transform="translate(86.9 86.4)rotate(153)"/><ellipse rx="2.7" ry="0.9" transform="translate(72.2 64.4)rotate(44)"/><ellipse rx="3.4" ry="1.7" transform="translate(58.5 57.6)rotate(173)"/><ellipse rx="3.6" ry="1.4" transform="translate(15.7 5.7)rotate(33)"/><ellipse rx="2.1" ry="1.2" transform="translate(61.6 24.0)rotate(94)"/><ellipse rx="3.2" ry="1.4" transform="translate(60.3 5.5)rotate(85)"/><ellipse rx="1.6" ry="1.3" transform="translate(59.8 79.2)rotate(122)"/><ellipse rx="2.0" ry="1.8" transform="translate(63.2 63.8)rotate(141)"/><ellipse rx="3.7" ry="1.0" transform="translate(19.4 41.8)rotate(74)"/><ellipse rx="2.1" ry="1.5" transform="translate(86.4 89.4)rotate(65)"/><ellipse rx="1.9" ry="1.0" transform="translate(59.0 75.9)rotate(39)"/><ellipse rx="1.9" ry="1.2" transform="translate(22.4 1.6)rotate(76)"/><ellipse rx="3.7" ry="1.4" transform="translate(5.1 57.2)rotate(64)"/><ellipse rx="2.0" ry="1.3" transform="translate(62.7 42.4)rotate(3)"/><ellipse rx="2.4" ry="1.8" transform="translate(60.1 14.4)rotate(138)"/><ellipse rx="3.0" ry="1.5" transform="translate(74.8 63.2)rotate(174)"/><ellipse rx="2.3" ry="1.1" transform="translate(16.0 75.8)rotate(148)"/><ellipse rx="3.5" ry="1.4" transform="translate(53.2 84.3)rotate(36)"/><ellipse rx="3.2" ry="1.1" transform="translate(-0.6 52.3)rotate(13)"/><ellipse rx="3.1" ry="0.8" transform="translate(-1.6 15.6)rotate(41)"/><ellipse rx="3.8" ry="0.8" transform="translate(22.4 70.2)rotate(21)"/><ellipse rx="1.9" ry="1.1" transform="translate(83.9 96.5)rotate(94)"/><ellipse rx="2.7" ry="1.1" transform="translate(27.4 40.4)rotate(10)"/><ellipse rx="1.8" ry="1.4" transform="translate(5.7 14.5)rotate(125)"/><ellipse rx="3.2" ry="1.1" transform="translate(22.2 78.4)rotate(89)"/><ellipse rx="2.8" ry="0.9" transform="translate(15.3 92.4)rotate(28)"/><ellipse rx="3.2" ry="1.0" transform="translate(61.7 37.1)rotate(143)"/><ellipse rx="2.9" ry="1.0" transform="translate(71.7 7.6)rotate(127)"/><ellipse rx="2.1" ry="0.9" transform="translate(71.9 78.4)rotate(119)"/><ellipse rx="2.0" ry="1.4" transform="translate(49.9 12.0)rotate(19)"/><ellipse rx="2.2" ry="1.2" transform="translate(56.3 22.5)rotate(96)"/><ellipse rx="3.2" ry="1.0" transform="translate(64.6 1.1)rotate(52)"/><ellipse rx="3.0" ry="1.7" transform="translate(56.8 68.2)rotate(37)"/><ellipse rx="2.2" ry="1.0" transform="translate(26.6 65.3)rotate(41)"/><ellipse rx="3.2" ry="1.8" transform="translate(68.9 82.0)rotate(143)"/><ellipse rx="3.2" ry="0.9" transform="translate(26.5 30.1)rotate(110)"/><ellipse rx="2.7" ry="1.0" transform="translate(6.2 3.0)rotate(168)"/><ellipse rx="2.0" ry="0.9" transform="translate(78.6 44.9)rotate(91)"/><ellipse rx="3.2" ry="1.3" transform="translate(45.9 34.9)rotate(140)"/><ellipse rx="2.5" ry="1.3" transform="translate(7.8 5.1)rotate(45)"/><ellipse rx="2.3" ry="1.3" transform="translate(59.4 20.5)rotate(128)"/><ellipse rx="2.6" ry="1.7" transform="translate(68.8 35.8)rotate(168)"/><ellipse rx="2.6" ry="1.4" transform="translate(54.9 8.7)rotate(50)"/><ellipse rx="3.6" ry="0.9" transform="translate(1.4 97.7)rotate(84)"/><ellipse rx="1.8" ry="1.6" transform="translate(54.9 28.5)rotate(139)"/><ellipse rx="2.5" ry="0.9" transform="translate(38.2 6.7)rotate(173)"/><ellipse rx="3.3" ry="0.9" transform="translate(2.7 27.3)rotate(19)"/><ellipse rx="2.8" ry="1.6" transform="translate(4.5 14.7)rotate(30)"/><ellipse rx="2.5" ry="1.1" transform="translate(14.0 75.7)rotate(22)"/><ellipse rx="1.9" ry="1.1" transform="translate(20.3 96.7)rotate(133)"/><ellipse rx="2.6" ry="1.8" transform="translate(80.0 89.9)rotate(109)"/><ellipse rx="3.2" ry="1.5" transform="translate(24.5 45.3)rotate(23)"/><ellipse rx="1.8" ry="1.6" transform="translate(15.8 95.4)rotate(61)"/><ellipse rx="2.6" ry="1.8" transform="translate(20.8 23.9)rotate(27)"/><ellipse rx="2.0" ry="1.5" transform="translate(76.5 30.6)rotate(61)"/><ellipse rx="3.4" ry="1.7" transform="translate(15.2 40.5)rotate(103)"/><ellipse rx="2.9" ry="1.7" transform="translate(-1.0 75.6)rotate(171)"/><ellipse rx="3.4" ry="1.1" transform="translate(28.1 84.2)rotate(66)"/><ellipse rx="2.4" ry="0.9" transform="translate(32.4 33.9)rotate(41)"/><ellipse rx="3.0" ry="1.7" transform="translate(81.6 39.7)rotate(136)"/><ellipse rx="3.4" ry="1.8" transform="translate(20.5 91.4)rotate(131)"/><ellipse rx="2.2" ry="1.5" transform="translate(67.4 80.6)rotate(69)"/><ellipse rx="2.8" ry="1.1" transform="translate(75.2 11.6)rotate(148)"/><ellipse rx="3.5" ry="1.7" transform="translate(29.7 83.7)rotate(25)"/><ellipse rx="3.1" ry="1.5" transform="translate(84.2 73.6)rotate(9)"/><ellipse rx="2.6" ry="1.1" transform="translate(78.0 53.7)rotate(141)"/><ellipse rx="2.1" ry="1.1" transform="translate(69.9 86.4)rotate(45)"/><ellipse rx="1.7" ry="1.6" transform="translate(7.2 31.2)rotate(41)"/><ellipse rx="3.2" ry="1.0" transform="translate(4.5 4.9)rotate(83)"/><ellipse rx="3.7" ry="1.1" transform="translate(34.9 79.5)rotate(114)"/><ellipse rx="3.6" ry="1.5" transform="translate(80.2 45.8)rotate(56)"/><ellipse rx="1.8" ry="1.4" transform="translate(78.3 56.2)rotate(149)"/><ellipse rx="2.5" ry="1.7" transform="translate(45.7 47.2)rotate(120)"/><ellipse rx="2.4" ry="1.8" transform="translate(17.1 34.8)rotate(125)"/><ellipse rx="1.7" ry="1.4" transform="translate(9.5 90.9)rotate(78)"/><ellipse rx="1.8" ry="1.3" transform="translate(63.9 41.6)rotate(148)"/><ellipse rx="2.1" ry="1.5" transform="translate(70.5 34.2)rotate(144)"/><ellipse rx="3.8" ry="1.2" transform="translate(18.1 87.7)rotate(69)"/><ellipse rx="2.0" ry="1.1" transform="translate(63.2 92.5)rotate(59)"/><ellipse rx="2.8" ry="1.3" transform="translate(65.3 17.0)rotate(120)"/><ellipse rx="3.8" ry="1.4" transform="translate(11.2 95.2)rotate(143)"/><ellipse rx="2.8" ry="1.6" transform="translate(14.8 90.5)rotate(156)"/><ellipse rx="2.1" ry="0.8" transform="translate(31.2 91.9)rotate(90)"/><ellipse rx="3.7" ry="1.3" transform="translate(80.6 89.5)rotate(168)"/><ellipse rx="3.0" ry="1.6" transform="translate(49.5 12.6)rotate(76)"/><ellipse rx="2.2" ry="1.2" transform="translate(53.3 24.3)rotate(92)"/><ellipse rx="1.6" ry="1.1" transform="translate(41.0 7.4)rotate(129)"/><ellipse rx="2.2" ry="1.3" transform="translate(66.8 22.1)rotate(32)"/><ellipse rx="2.0" ry="1.4" transform="translate(53.4 89.9)rotate(130)"/><ellipse rx="3.2" ry="1.1" transform="translate(66.9 70.3)rotate(151)"/><ellipse rx="3.7" ry="1.2" transform="translate(83.0 3.3)rotate(16)"/><ellipse rx="3.1" ry="0.9" transform="translate(4.4 79.0)rotate(83)"/><ellipse rx="2.3" ry="1.6" transform="translate(56.7 99.4)rotate(44)"/><ellipse rx="2.5" ry="1.4" transform="translate(16.3 14.4)rotate(55)"/><ellipse rx="1.8" ry="1.0" transform="translate(12.9 20.2)rotate(57)"/><ellipse rx="2.7" ry="1.2" transform="translate(44.4 16.7)rotate(175)"/><ellipse rx="2.6" ry="1.0" transform="translate(42.7 94.0)rotate(107)"/><ellipse rx="1.8" ry="1.5" transform="translate(11.3 15.2)rotate(174)"/><ellipse rx="2.5" ry="1.2" transform="translate(35.1 34.0)rotate(124)"/><ellipse rx="3.5" ry="1.4" transform="translate(34.0 13.5)rotate(1)"/><ellipse rx="2.4" ry="1.4" transform="translate(76.1 72.0)rotate(166)"/><ellipse rx="2.3" ry="1.4" transform="translate(34.9 41.9)rotate(119)"/><ellipse rx="1.9" ry="1.2" transform="translate(65.6 94.4)rotate(153)"/><ellipse rx="3.1" ry="1.1" transform="translate(70.7 57.9)rotate(170)"/><ellipse rx="2.0" ry="0.9" transform="translate(48.5 38.9)rotate(162)"/><ellipse rx="2.3" ry="1.3" transform="translate(71.6 0.7)rotate(89)"/><ellipse rx="2.4" ry="1.3" transform="translate(31.4 88.9)rotate(167)"/><ellipse rx="2.3" ry="1.2" transform="translate(56.7 46.5)rotate(110)"/><ellipse rx="2.4" ry="1.2" transform="translate(70.2 24.5)rotate(65)"/><ellipse rx="2.2" ry="1.1" transform="translate(81.9 52.8)rotate(148)"/><ellipse rx="1.6" ry="1.0" transform="translate(12.7 68.1)rotate(11)"/><ellipse rx="2.1" ry="0.9" transform="translate(72.0 12.9)rotate(47)"/><ellipse rx="3.6" ry="1.7" transform="translate(65.4 71.2)rotate(99)"/><ellipse rx="3.6" ry="1.2" transform="translate(82.7 7.1)rotate(35)"/><ellipse rx="2.4" ry="0.9" transform="translate(66.7 85.2)rotate(157)"/><ellipse rx="3.7" ry="0.8" transform="translate(67.2 58.7)rotate(10)"/><ellipse rx="3.2" ry="1.4" transform="translate(9.4 0.2)rotate(20)"/><ellipse rx="2.9" ry="1.5" transform="translate(12.9 16.4)rotate(175)"/><ellipse rx="2.6" ry="1.2" transform="translate(31.1 97.5)rotate(46)"/><ellipse rx="3.8" ry="1.5" transform="translate(19.4 97.0)rotate(32)"/><ellipse rx="2.4" ry="1.5" transform="translate(14.5 13.5)rotate(11)"/><ellipse rx="1.7" ry="1.2" transform="translate(46.7 67.2)rotate(142)"/><ellipse rx="3.5" ry="1.4" transform="translate(50.9 43.9)rotate(61)"/><ellipse rx="3.5" ry="1.7" transform="translate(34.4 93.8)rotate(101)"/><ellipse rx="2.4" ry="1.5" transform="translate(11.1 15.8)rotate(1)"/><ellipse rx="2.7" ry="0.8" transform="translate(71.7 77.9)rotate(144)"/><ellipse rx="2.9" ry="1.5" transform="translate(36.1 66.0)rotate(74)"/><ellipse rx="3.6" ry="1.4" transform="translate(86.2 95.1)rotate(57)"/><ellipse rx="3.6" ry="1.6" transform="translate(32.6 25.3)rotate(142)"/><ellipse rx="3.1" ry="1.1" transform="translate(73.5 98.7)rotate(136)"/><ellipse rx="1.9" ry="1.7" transform="translate(22.1 60.1)rotate(88)"/><ellipse rx="1.8" ry="1.7" transform="translate(23.3 91.8)rotate(136)"/><ellipse rx="2.9" ry="1.7" transform="translate(11.7 75.3)rotate(106)"/><ellipse rx="1.8" ry="1.6" transform="translate(37.3 92.8)rotate(19)"/><ellipse rx="3.5" ry="1.2" transform="translate(23.4 9.6)rotate(131)"/><ellipse rx="3.0" ry="0.9" transform="translate(21.6 72.2)rotate(89)"/><ellipse rx="3.0" ry="1.1" transform="translate(64.3 19.8)rotate(67)"/><ellipse rx="3.8" ry="1.2" transform="translate(82.5 93.8)rotate(103)"/><ellipse rx="2.6" ry="1.7" transform="translate(72.3 75.1)rotate(72)"/><ellipse rx="1.9" ry="1.5" transform="translate(85.3 46.0)rotate(26)"/><ellipse rx="3.8" ry="1.3" transform="translate(60.5 3.4)rotate(133)"/><ellipse rx="2.4" ry="1.0" transform="translate(10.1 62.7)rotate(147)"/><ellipse rx="1.8" ry="1.7" transform="translate(1.1 46.6)rotate(161)"/><ellipse rx="2.6" ry="1.5" transform="translate(1.2 45.2)rotate(131)"/><ellipse rx="2.0" ry="0.9" transform="translate(29.5 92.8)rotate(147)"/><ellipse rx="2.7" ry="1.1" transform="translate(9.0 16.9)rotate(29)"/><ellipse rx="3.3" ry="1.1" transform="translate(83.5 46.1)rotate(164)"/><ellipse rx="2.9" ry="1.8" transform="translate(18.3 90.1)rotate(139)"/><ellipse rx="3.5" ry="1.2" transform="translate(56.0 52.1)rotate(18)"/><ellipse rx="3.1" ry="1.5" transform="translate(82.0 79.8)rotate(42)"/><ellipse rx="3.7" ry="1.7" transform="translate(40.6 81.6)rotate(29)"/><ellipse rx="2.5" ry="1.0" transform="translate(60.8 54.3)rotate(25)"/><ellipse rx="2.2" ry="1.2" transform="translate(41.2 48.1)rotate(100)"/><ellipse rx="2.0" ry="1.7" transform="translate(68.0 57.9)rotate(66)"/><ellipse rx="1.9" ry="1.4" transform="translate(86.2 97.7)rotate(174)"/><ellipse rx="2.3" ry="0.8" transform="translate(33.4 53.6)rotate(37)"/><ellipse rx="3.0" ry="1.4" transform="translate(9.4 26.9)rotate(171)"/><ellipse rx="3.7" ry="1.4" transform="translate(61.0 34.8)rotate(98)"/><ellipse rx="2.4" ry="1.4" transform="translate(77.3 66.1)rotate(54)"/><ellipse rx="3.7" ry="0.9" transform="translate(87.1 22.8)rotate(2)"/><ellipse rx="2.7" ry="0.9" transform="translate(48.8 18.9)rotate(151)"/><ellipse rx="3.6" ry="1.8" transform="translate(59.5 67.5)rotate(122)"/><ellipse rx="1.7" ry="1.2" transform="translate(63.5 -1.8)rotate(174)"/><ellipse rx="1.6" ry="1.2" transform="translate(26.8 55.8)rotate(162)"/><ellipse rx="1.6" ry="1.0" transform="translate(52.2 81.8)rotate(32)"/><ellipse rx="3.7" ry="1.1" transform="translate(74.5 8.3)rotate(158)"/><ellipse rx="3.7" ry="1.2" transform="translate(45.4 30.9)rotate(126)"/><ellipse rx="3.8" ry="0.9" transform="translate(4.2 82.4)rotate(134)"/><ellipse rx="2.4" ry="1.5" transform="translate(22.9 13.0)rotate(172)"/><ellipse rx="3.0" ry="1.5" transform="translate(89.3 98.9)rotate(29)"/><ellipse rx="2.4" ry="1.7" transform="translate(64.7 54.0)rotate(46)"/><ellipse rx="1.9" ry="1.4" transform="translate(11.0 14.1)rotate(144)"/><ellipse rx="2.9" ry="1.4" transform="translate(12.7 49.1)rotate(74)"/><ellipse rx="1.7" ry="1.2" transform="translate(48.0 -0.5)rotate(43)"/><ellipse rx="3.4" ry="1.0" transform="translate(67.6 22.6)rotate(17)"/><ellipse rx="2.3" ry="1.6" transform="translate(41.9 37.4)rotate(40)"/><ellipse rx="2.6" ry="1.3" transform="translate(59.6 82.8)rotate(166)"/><ellipse rx="1.8" ry="0.9" transform="translate(53.5 16.4)rotate(60)"/><ellipse rx="2.5" ry="1.1" transform="translate(6.2 63.9)rotate(92)"/><ellipse rx="1.9" ry="1.1" transform="translate(84.1 22.8)rotate(58)"/><ellipse rx="2.5" ry="1.0" transform="translate(81.6 69.8)rotate(8)"/><ellipse rx="3.0" ry="1.0" transform="translate(9.3 84.1)rotate(113)"/><ellipse rx="2.3" ry="0.9" transform="translate(3.4 49.5)rotate(134)"/><ellipse rx="2.0" ry="1.5" transform="translate(63.9 49.9)rotate(78)"/><ellipse rx="3.6" ry="0.8" transform="translate(58.8 7.3)rotate(40)"/><ellipse rx="1.8" ry="1.5" transform="translate(34.6 18.2)rotate(179)"/><ellipse rx="3.1" ry="1.0" transform="translate(28.8 25.0)rotate(72)"/><ellipse rx="1.9" ry="0.9" transform="translate(61.3 41.8)rotate(98)"/><ellipse rx="1.8" ry="1.3" transform="translate(89.0 91.5)rotate(88)"/><ellipse rx="2.7" ry="1.6" transform="translate(15.8 66.1)rotate(53)"/><ellipse rx="2.6" ry="0.9" transform="translate(83.8 80.8)rotate(87)"/><ellipse rx="3.1" ry="1.4" transform="translate(9.7 67.7)rotate(176)"/><ellipse rx="3.4" ry="0.9" transform="translate(2.2 70.7)rotate(58)"/><ellipse rx="3.2" ry="1.1" transform="translate(2.9 57.2)rotate(125)"/><ellipse rx="2.2" ry="1.8" transform="translate(31.7 70.4)rotate(79)"/><ellipse rx="3.2" ry="1.7" transform="translate(-1.7 7.3)rotate(115)"/><ellipse rx="3.2" ry="0.9" transform="translate(12.3 86.6)rotate(69)"/><ellipse rx="1.7" ry="1.2" transform="translate(59.7 -1.6)rotate(157)"/><ellipse rx="3.6" ry="1.6" transform="translate(89.6 30.3)rotate(156)"/><ellipse rx="3.0" ry="1.7" transform="translate(52.1 96.5)rotate(102)"/><ellipse rx="2.7" ry="1.1" transform="translate(16.1 50.7)rotate(67)"/><ellipse rx="2.1" ry="1.1" transform="translate(44.9 57.7)rotate(91)"/><ellipse rx="3.1" ry="1.0" transform="translate(44.3 40.5)rotate(96)"/><ellipse rx="3.1" ry="1.6" transform="translate(23.3 76.2)rotate(93)"/><ellipse rx="2.7" ry="1.2" transform="translate(20.9 92.0)rotate(52)"/><ellipse rx="3.4" ry="1.3" transform="translate(34.9 70.0)rotate(132)"/><ellipse rx="2.4" ry="1.1" transform="translate(17.6 43.9)rotate(65)"/><ellipse rx="2.1" ry="1.0" transform="translate(67.4 72.5)rotate(141)"/><ellipse rx="3.0" ry="1.5" transform="translate(58.2 66.7)rotate(49)"/><ellipse rx="1.7" ry="1.8" transform="translate(3.6 34.6)rotate(94)"/><ellipse rx="3.4" ry="1.0" transform="translate(59.6 96.2)rotate(61)"/><ellipse rx="3.2" ry="1.3" transform="translate(8.0 78.8)rotate(66)"/><ellipse rx="3.2" ry="1.7" transform="translate(22.8 47.5)rotate(153)"/><ellipse rx="2.5" ry="1.1" transform="translate(77.7 42.6)rotate(175)"/><ellipse rx="2.2" ry="1.7" transform="translate(14.9 14.0)rotate(153)"/><ellipse rx="3.6" ry="1.2" transform="translate(28.5 84.5)rotate(35)"/><ellipse rx="1.9" ry="1.7" transform="translate(69.0 36.1)rotate(79)"/><ellipse rx="2.2" ry="0.8" transform="translate(34.5 58.5)rotate(70)"/><ellipse rx="2.4" ry="1.6" transform="translate(32.9 -0.9)rotate(60)"/><ellipse rx="2.0" ry="0.8" transform="translate(60.5 61.5)rotate(121)"/><ellipse rx="2.0" ry="1.7" transform="translate(54.1 27.8)rotate(164)"/><ellipse rx="2.9" ry="1.1" transform="translate(19.4 57.5)rotate(7)"/><ellipse rx="2.9" ry="1.3" transform="translate(27.9 63.5)rotate(22)"/><ellipse rx="2.5" ry="1.2" transform="translate(17.6 29.6)rotate(162)"/><ellipse rx="2.1" ry="1.7" transform="translate(8.7 98.2)rotate(44)"/><ellipse rx="1.7" ry="1.6" transform="translate(52.0 36.3)rotate(146)"/><ellipse rx="2.7" ry="1.8" transform="translate(22.7 76.9)rotate(10)"/><ellipse rx="3.0" ry="1.6" transform="translate(33.0 21.1)rotate(152)"/><ellipse rx="3.4" ry="0.9" transform="translate(48.4 37.3)rotate(47)"/><ellipse rx="3.8" ry="0.9" transform="translate(67.2 42.7)rotate(83)"/><ellipse rx="1.8" ry="0.9" transform="translate(17.5 -1.8)rotate(66)"/><ellipse rx="2.2" ry="1.5" transform="translate(37.8 49.6)rotate(93)"/><ellipse rx="2.7" ry="1.3" transform="translate(88.2 15.2)rotate(67)"/><ellipse rx="3.5" ry="1.2" transform="translate(77.1 19.3)rotate(60)"/><ellipse rx="2.2" ry="0.9" transform="translate(54.5 55.2)rotate(172)"/><ellipse rx="3.0" ry="1.3" transform="translate(31.9 9.6)rotate(59)"/><ellipse rx="2.3" ry="1.2" transform="translate(28.2 83.9)rotate(172)"/><ellipse rx="2.0" ry="1.5" transform="translate(31.2 38.8)rotate(120)"/><ellipse rx="2.1" ry="1.6" transform="translate(39.0 39.2)rotate(82)"/><ellipse rx="3.2" ry="0.8" transform="translate(74.5 36.1)rotate(40)"/><ellipse rx="3.1" ry="1.3" transform="translate(86.3 67.3)rotate(85)"/><ellipse rx="3.0" ry="1.5" transform="translate(16.2 15.6)rotate(47)"/><ellipse rx="2.9" ry="1.0" transform="translate(57.2 11.8)rotate(92)"/><ellipse rx="1.9" ry="1.3" transform="translate(26.9 53.9)rotate(111)"/><ellipse rx="3.1" ry="1.3" transform="translate(10.4 29.4)rotate(111)"/><ellipse rx="2.1" ry="1.2" transform="translate(69.7 56.1)rotate(149)"/><ellipse rx="2.4" ry="1.2" transform="translate(50.1 74.5)rotate(175)"/><ellipse rx="1.8" ry="1.4" transform="translate(73.6 64.3)rotate(6)"/><ellipse rx="3.2" ry="1.1" transform="translate(83.8 96.8)rotate(152)"/><ellipse rx="2.7" ry="0.8" transform="translate(14.3 82.1)rotate(160)"/><ellipse rx="3.1" ry="1.3" transform="translate(38.4 82.3)rotate(155)"/><ellipse rx="2.3" ry="0.8" transform="translate(16.7 89.3)rotate(61)"/><ellipse rx="3.0" ry="0.9" transform="translate(4.1 5.3)rotate(29)"/><ellipse rx="3.6" ry="1.7" transform="translate(24.9 26.3)rotate(157)"/><ellipse rx="3.4" ry="1.1" transform="translate(89.0 42.7)rotate(167)"/><ellipse rx="2.1" ry="0.9" transform="translate(72.5 72.4)rotate(167)"/><ellipse rx="3.5" ry="0.9" transform="translate(48.7 60.2)rotate(126)"/><ellipse rx="2.6" ry="1.0" transform="translate(40.6 77.9)rotate(172)"/><ellipse rx="3.4" ry="1.0" transform="translate(23.8 73.7)rotate(125)"/><ellipse rx="2.1" ry="1.8" transform="translate(34.4 20.8)rotate(66)"/><ellipse rx="1.7" ry="1.6" transform="translate(44.9 48.9)rotate(134)"/><ellipse rx="2.1" ry="1.1" transform="translate(78.5 34.3)rotate(132)"/><ellipse rx="2.8" ry="1.0" transform="translate(58.5 39.3)rotate(165)"/><ellipse rx="3.3" ry="1.0" transform="translate(41.4 49.5)rotate(130)"/><ellipse rx="1.8" ry="1.1" transform="translate(30.5 80.5)rotate(114)"/><ellipse rx="2.9" ry="1.0" transform="translate(42.3 36.3)rotate(79)"/><ellipse rx="2.2" ry="1.6" transform="translate(-1.8 79.1)rotate(99)"/><ellipse rx="1.9" ry="1.6" transform="translate(53.3 61.6)rotate(53)"/><ellipse rx="3.1" ry="1.6" transform="translate(77.3 77.9)rotate(79)"/><ellipse rx="2.0" ry="0.9" transform="translate(59.9 94.8)rotate(74)"/><ellipse rx="2.1" ry="1.7" transform="translate(44.8 13.1)rotate(70)"/><ellipse rx="2.9" ry="1.0" transform="translate(11.7 16.6)rotate(86)"/><ellipse rx="2.7" ry="1.6" transform="translate(47.4 42.7)rotate(3)"/><ellipse rx="1.7" ry="1.6" transform="translate(83.5 18.2)rotate(103)"/><ellipse rx="3.3" ry="1.1" transform="translate(47.4 20.1)rotate(131)"/><ellipse rx="3.0" ry="1.2" transform="translate(19.0 56.2)rotate(86)"/><ellipse rx="3.1" ry="1.0" transform="translate(4.0 63.4)rotate(99)"/><ellipse rx="3.4" ry="1.7" transform="translate(65.4 8.3)rotate(9)"/><ellipse rx="2.2" ry="0.9" transform="translate(20.8 6.5)rotate(88)"/><ellipse rx="2.6" ry="1.2" transform="translate(21.0 28.5)rotate(142)"/><ellipse rx="2.1" ry="0.8" transform="translate(64.4 9.6)rotate(59)"/><ellipse rx="3.3" ry="1.8" transform="translate(7.9 68.8)rotate(38)"/><ellipse rx="2.5" ry="1.7" transform="translate(1.4 74.9)rotate(71)"/><ellipse rx="3.7" ry="1.3" transform="translate(26.7 5.4)rotate(79)"/><ellipse rx="3.4" ry="1.3" transform="translate(38.2 76.1)rotate(32)"/><ellipse rx="2.5" ry="1.5" transform="translate(35.3 88.6)rotate(101)"/><ellipse rx="2.1" ry="1.4" transform="translate(40.4 56.4)rotate(156)"/><ellipse rx="3.5" ry="1.8" transform="translate(5.3 35.5)rotate(2)"/><ellipse rx="3.5" ry="1.3" transform="translate(55.6 62.2)rotate(24)"/><ellipse rx="3.2" ry="1.0" transform="translate(25.6 70.4)rotate(116)"/><ellipse rx="1.6" ry="1.2" transform="translate(58.4 64.8)rotate(58)"/><ellipse rx="1.9" ry="1.5" transform="translate(52.9 32.2)rotate(52)"/><ellipse rx="2.8" ry="1.6" transform="translate(70.7 29.1)rotate(21)"/><ellipse rx="3.7" ry="0.8" transform="translate(65.2 4.9)rotate(130)"/><ellipse rx="2.5" ry="1.3" transform="translate(31.9 16.3)rotate(75)"/><ellipse rx="2.3" ry="1.8" transform="translate(9.2 51.1)rotate(69)"/><ellipse rx="3.7" ry="1.1" transform="translate(38.0 21.2)rotate(116)"/><ellipse rx="3.3" ry="1.1" transform="translate(74.5 37.9)rotate(20)"/><ellipse rx="3.5" ry="1.0" transform="translate(1.9 43.6)rotate(79)"/><ellipse rx="1.9" ry="1.3" transform="translate(68.1 26.1)rotate(77)"/><ellipse rx="2.1" ry="1.4" transform="translate(84.2 89.2)rotate(75)"/><ellipse rx="3.6" ry="1.1" transform="translate(1.1 43.1)rotate(106)"/><ellipse rx="3.6" ry="0.9" transform="translate(63.3 4.4)rotate(54)"/><ellipse rx="2.4" ry="0.9" transform="translate(63.8 -0.0)rotate(85)"/><ellipse rx="2.1" ry="0.9" transform="translate(-0.5 13.4)rotate(16)"/><ellipse rx="1.9" ry="1.6" transform="translate(15.9 50.6)rotate(75)"/><ellipse rx="3.4" ry="0.8" transform="translate(21.1 22.5)rotate(134)"/><ellipse rx="2.5" ry="1.4" transform="translate(7.0 94.0)rotate(155)"/><ellipse rx="3.1" ry="1.4" transform="translate(7.2 4.5)rotate(130)"/><ellipse rx="2.0" ry="1.2" transform="translate(23.5 48.5)rotate(51)"/><ellipse rx="2.2" ry="1.4" transform="translate(51.8 28.4)rotate(15)"/><ellipse rx="2.1" ry="0.9" transform="translate(71.6 48.4)rotate(92)"/><ellipse rx="2.4" ry="1.2" transform="translate(44.3 71.1)rotate(161)"/><ellipse rx="3.6" ry="1.8" transform="translate(23.2 97.7)rotate(170)"/><ellipse rx="2.9" ry="1.0" transform="translate(21.6 80.7)rotate(180)"/><ellipse rx="2.8" ry="0.9" transform="translate(57.5 80.3)rotate(155)"/><ellipse rx="3.0" ry="1.0" transform="translate(14.1 24.3)rotate(83)"/><ellipse rx="3.1" ry="0.9" transform="translate(63.6 7.8)rotate(86)"/><ellipse rx="1.7" ry="1.0" transform="translate(57.7 67.8)rotate(173)"/><ellipse rx="2.4" ry="1.5" transform="translate(33.9 41.2)rotate(133)"/><ellipse rx="2.9" ry="1.3" transform="translate(57.8 38.9)rotate(34)"/><ellipse rx="3.3" ry="1.8" transform="translate(85.3 96.0)rotate(84)"/><ellipse rx="3.2" ry="1.5" transform="translate(75.1 22.5)rotate(169)"/><ellipse rx="2.2" ry="1.6" transform="translate(74.6 87.3)rotate(86)"/><ellipse rx="3.4" ry="1.6" transform="translate(26.7 35.4)rotate(152)"/><ellipse rx="1.9" ry="1.4" transform="translate(59.5 15.3)rotate(38)"/><ellipse rx="1.9" ry="1.5" transform="translate(28.9 8.4)rotate(40)"/><ellipse rx="3.5" ry="1.1" transform="translate(75.9 31.4)rotate(48)"/><ellipse rx="2.6" ry="1.2" transform="translate(34.3 -0.8)rotate(2)"/><ellipse rx="1.6" ry="1.8" transform="translate(77.2 36.1)rotate(41)"/><ellipse rx="1.8" ry="1.5" transform="translate(21.2 0.5)rotate(105)"/><ellipse rx="2.2" ry="1.8" transform="translate(44.3 23.0)rotate(67)"/><ellipse rx="1.9" ry="1.6" transform="translate(88.9 88.1)rotate(4)"/><ellipse rx="3.1" ry="1.3" transform="translate(63.3 80.3)rotate(146)"/><ellipse rx="2.2" ry="1.2" transform="translate(12.2 52.8)rotate(34)"/><ellipse rx="3.3" ry="1.4" transform="translate(63.1 56.2)rotate(108)"/><ellipse rx="2.8" ry="1.1" transform="translate(82.7 80.5)rotate(167)"/><ellipse rx="2.3" ry="1.5" transform="translate(32.1 8.4)rotate(168)"/><ellipse rx="3.7" ry="1.6" transform="translate(57.3 65.3)rotate(80)"/><ellipse rx="2.3" ry="0.9" transform="translate(40.4 75.2)rotate(112)"/><ellipse rx="3.1" ry="1.7" transform="translate(72.3 23.2)rotate(23)"/><ellipse rx="2.3" ry="1.7" transform="translate(10.5 48.1)rotate(179)"/><ellipse rx="3.0" ry="1.0" transform="translate(39.0 78.6)rotate(175)"/><ellipse rx="2.6" ry="0.8" transform="translate(14.0 5.7)rotate(87)"/><ellipse rx="2.5" ry="1.6" transform="translate(35.9 95.0)rotate(140)"/><ellipse rx="2.3" ry="1.3" transform="translate(51.9 22.2)rotate(71)"/><ellipse rx="2.3" ry="1.4" transform="translate(57.3 49.3)rotate(179)"/><ellipse rx="1.6" ry="0.9" transform="translate(16.6 32.1)rotate(10)"/><ellipse rx="3.1" ry="1.8" transform="translate(36.9 83.0)rotate(151)"/><ellipse rx="1.6" ry="1.2" transform="translate(51.8 57.0)rotate(47)"/><ellipse rx="2.8" ry="1.2" transform="translate(55.0 4.7)rotate(89)"/><ellipse rx="3.2" ry="1.6" transform="translate(35.2 8.4)rotate(108)"/><ellipse rx="3.5" ry="1.8" transform="translate(8.6 58.9)rotate(137)"/><ellipse rx="3.1" ry="1.1" transform="translate(2.2 87.3)rotate(166)"/><ellipse rx="2.1" ry="1.4" transform="translate(73.9 88.9)rotate(68)"/><ellipse rx="3.0" ry="1.1" transform="translate(25.2 75.3)rotate(98)"/><ellipse rx="3.6" ry="1.4" transform="translate(83.3 55.6)rotate(179)"/><ellipse rx="2.8" ry="1.5" transform="translate(0.7 44.7)rotate(174)"/><ellipse rx="3.0" ry="1.3" transform="translate(55.3 46.6)rotate(127)"/><ellipse rx="2.3" ry="1.7" transform="translate(85.0 -0.6)rotate(11)"/><ellipse rx="3.0" ry="1.6" transform="translate(70.6 1.1)rotate(43)"/><ellipse rx="3.2" ry="1.3" transform="translate(33.0 21.0)rotate(109)"/><ellipse rx="3.7" ry="1.6" transform="translate(27.9 57.6)rotate(171)"/><ellipse rx="2.4" ry="1.1" transform="translate(20.7 50.4)rotate(145)"/><ellipse rx="3.3" ry="1.7" transform="translate(14.1 54.7)rotate(3)"/><ellipse rx="3.7" ry="1.0" transform="translate(22.9 48.1)rotate(151)"/><ellipse rx="3.6" ry="0.9" transform="translate(34.5 53.7)rotate(59)"/><ellipse rx="2.3" ry="1.5" transform="translate(12.3 11.6)rotate(104)"/><ellipse rx="2.7" ry="0.9" transform="translate(9.2 79.4)rotate(148)"/><ellipse rx="3.7" ry="1.6" transform="translate(73.4 20.0)rotate(41)"/><ellipse rx="3.4" ry="0.9" transform="translate(-1.9 86.1)rotate(138)"/><ellipse rx="3.4" ry="1.8" transform="translate(69.1 62.4)rotate(59)"/><ellipse rx="2.3" ry="1.5" transform="translate(74.6 91.6)rotate(123)"/><ellipse rx="2.2" ry="1.1" transform="translate(76.0 55.6)rotate(98)"/><ellipse rx="3.6" ry="1.0" transform="translate(10.4 85.3)rotate(126)"/><ellipse rx="3.3" ry="1.6" transform="translate(59.9 10.4)rotate(55)"/><ellipse rx="3.3" ry="1.3" transform="translate(7.0 26.6)rotate(147)"/><ellipse rx="2.4" ry="1.7" transform="translate(12.7 8.8)rotate(29)"/><ellipse rx="1.8" ry="1.5" transform="translate(4.7 74.5)rotate(15)"/><ellipse rx="3.5" ry="1.2" transform="translate(20.7 65.4)rotate(81)"/><ellipse rx="2.1" ry="1.6" transform="translate(0.9 32.6)rotate(129)"/><ellipse rx="3.1" ry="0.9" transform="translate(70.1 52.0)rotate(69)"/><ellipse rx="3.2" ry="1.0" transform="translate(24.9 26.7)rotate(59)"/><ellipse rx="3.0" ry="1.3" transform="translate(24.0 85.8)rotate(68)"/><ellipse rx="2.6" ry="1.4" transform="translate(82.7 93.4)rotate(155)"/><ellipse rx="1.8" ry="1.3" transform="translate(21.6 24.3)rotate(138)"/><ellipse rx="3.8" ry="1.3" transform="translate(12.4 41.9)rotate(69)"/><ellipse rx="2.4" ry="0.9" transform="translate(75.1 88.6)rotate(115)"/><ellipse rx="3.1" ry="1.1" transform="translate(66.0 91.8)rotate(93)"/><ellipse rx="2.6" ry="1.7" transform="translate(24.4 43.3)rotate(163)"/><ellipse rx="3.7" ry="0.9" transform="translate(83.1 46.6)rotate(166)"/><ellipse rx="2.5" ry="1.8" transform="translate(56.8 86.6)rotate(5)"/><ellipse rx="2.4" ry="1.6" transform="translate(75.9 81.3)rotate(38)"/><ellipse rx="2.5" ry="1.0" transform="translate(67.2 45.6)rotate(144)"/><ellipse rx="3.8" ry="1.0" transform="translate(65.2 7.0)rotate(68)"/><ellipse rx="3.6" ry="1.7" transform="translate(36.1 56.6)rotate(114)"/><ellipse rx="1.8" ry="1.3" transform="translate(31.6 8.9)rotate(105)"/><ellipse rx="2.5" ry="1.2" transform="translate(39.1 97.8)rotate(75)"/><ellipse rx="2.9" ry="1.3" transform="translate(13.8 93.4)rotate(77)"/><ellipse rx="2.7" ry="1.2" transform="translate(21.0 30.0)rotate(176)"/><ellipse rx="1.7" ry="1.0" transform="translate(49.7 19.0)rotate(62)"/><ellipse rx="2.1" ry="1.6" transform="translate(69.9 88.3)rotate(79)"/><ellipse rx="1.7" ry="0.9" transform="translate(47.4 52.1)rotate(120)"/><ellipse rx="3.6" ry="1.6" transform="translate(61.3 36.6)rotate(54)"/><ellipse rx="3.0" ry="1.0" transform="translate(4.2 54.2)rotate(8)"/><ellipse rx="3.2" ry="1.4" transform="translate(42.8 1.5)rotate(50)"/><ellipse rx="2.0" ry="1.0" transform="translate(39.0 21.7)rotate(147)"/><ellipse rx="2.4" ry="1.6" transform="translate(39.7 70.7)rotate(107)"/><ellipse rx="2.8" ry="1.0" transform="translate(58.1 37.9)rotate(175)"/><ellipse rx="3.0" ry="0.9" transform="translate(59.8 52.1)rotate(60)"/><ellipse rx="1.6" ry="1.2" transform="translate(19.2 83.7)rotate(156)"/><ellipse rx="2.3" ry="1.0" transform="translate(69.9 71.0)rotate(127)"/><ellipse rx="2.4" ry="1.6" transform="translate(25.4 71.5)rotate(103)"/><ellipse rx="2.4" ry="1.8" transform="translate(72.9 98.1)rotate(2)"/><ellipse rx="2.8" ry="1.2" transform="translate(78.6 1.0)rotate(139)"/><ellipse rx="3.3" ry="1.4" transform="translate(27.0 19.2)rotate(136)"/><ellipse rx="3.3" ry="1.0" transform="translate(43.0 1.7)rotate(85)"/><ellipse rx="3.1" ry="1.6" transform="translate(-1.9 24.3)rotate(115)"/><ellipse rx="3.1" ry="1.0" transform="translate(38.7 72.4)rotate(96)"/><ellipse rx="2.0" ry="1.1" transform="translate(52.9 72.0)rotate(62)"/><ellipse rx="3.2" ry="1.4" transform="translate(6.8 33.4)rotate(31)"/><ellipse rx="3.3" ry="0.9" transform="translate(65.2 9.9)rotate(17)"/><ellipse rx="2.2" ry="1.7" transform="translate(21.1 50.3)rotate(169)"/><ellipse rx="3.1" ry="1.4" transform="translate(24.0 74.2)rotate(46)"/><ellipse rx="1.6" ry="1.1" transform="translate(85.3 95.2)rotate(58)"/><ellipse rx="3.6" ry="0.8" transform="translate(16.2 41.7)rotate(150)"/><ellipse rx="3.6" ry="1.1" transform="translate(26.4 -0.6)rotate(38)"/><ellipse rx="1.9" ry="1.0" transform="translate(8.7 35.3)rotate(45)"/><ellipse rx="2.3" ry="1.3" transform="translate(51.1 43.3)rotate(139)"/><ellipse rx="3.6" ry="1.6" transform="translate(64.5 32.9)rotate(101)"/><ellipse rx="1.9" ry="1.7" transform="translate(41.7 31.5)rotate(109)"/><ellipse rx="3.6" ry="0.8" transform="translate(7.1 92.0)rotate(126)"/><ellipse rx="3.4" ry="1.2" transform="translate(19.9 52.4)rotate(90)"/><ellipse rx="3.0" ry="1.2" transform="translate(59.1 17.5)rotate(177)"/><ellipse rx="1.7" ry="1.1" transform="translate(15.2 70.2)rotate(21)"/><ellipse rx="2.0" ry="1.6" transform="translate(11.7 51.7)rotate(17)"/><ellipse rx="1.9" ry="1.0" transform="translate(55.3 85.5)rotate(138)"/><ellipse rx="2.3" ry="1.2" transform="translate(41.2 92.7)rotate(172)"/><ellipse rx="3.6" ry="1.0" transform="translate(29.6 96.2)rotate(98)"/><ellipse rx="3.5" ry="1.6" transform="translate(84.5 9.9)rotate(135)"/><ellipse rx="3.7" ry="0.9" transform="translate(53.2 8.2)rotate(141)"/><ellipse rx="3.1" ry="1.2" transform="translate(64.5 30.2)rotate(135)"/><ellipse rx="2.4" ry="1.6" transform="translate(2.0 92.8)rotate(85)"/><ellipse rx="2.8" ry="0.8" transform="translate(72.7 28.6)rotate(88)"/><ellipse rx="3.1" ry="1.2" transform="translate(5.3 85.3)rotate(175)"/><ellipse rx="1.8" ry="1.5" transform="translate(85.0 95.2)rotate(131)"/><ellipse rx="3.6" ry="1.2" transform="translate(53.7 -0.4)rotate(107)"/><ellipse rx="1.7" ry="1.7" transform="translate(72.9 26.0)rotate(49)"/><ellipse rx="3.8" ry="1.5" transform="translate(1.8 11.9)rotate(38)"/><ellipse rx="3.1" ry="1.4" transform="translate(11.5 89.2)rotate(24)"/><ellipse rx="1.6" ry="1.2" transform="translate(36.0 94.2)rotate(10)"/><ellipse rx="3.7" ry="1.6" transform="translate(89.7 8.6)rotate(132)"/><ellipse rx="2.7" ry="1.3" transform="translate(1.9 68.7)rotate(26)"/><ellipse rx="1.9" ry="1.7" transform="translate(45.1 79.5)rotate(76)"/><ellipse rx="2.6" ry="1.4" transform="translate(22.5 22.3)rotate(103)"/><ellipse rx="2.7" ry="1.8" transform="translate(79.8 50.0)rotate(39)"/><ellipse rx="2.3" ry="0.9" transform="translate(-0.5 31.4)rotate(75)"/><ellipse rx="2.7" ry="1.7" transform="translate(1.2 91.6)rotate(126)"/><ellipse rx="2.3" ry="1.5" transform="translate(65.1 75.1)rotate(37)"/><ellipse rx="3.3" ry="1.0" transform="translate(49.0 58.5)rotate(62)"/><ellipse rx="3.8" ry="0.9" transform="translate(73.8 79.7)rotate(38)"/><ellipse rx="3.2" ry="1.4" transform="translate(7.8 71.5)rotate(140)"/><ellipse rx="3.6" ry="1.4" transform="translate(45.4 55.1)rotate(118)"/><ellipse rx="3.3" ry="1.4" transform="translate(52.1 48.2)rotate(23)"/><ellipse rx="2.6" ry="1.4" transform="translate(37.1 40.8)rotate(65)"/><ellipse rx="2.4" ry="1.8" transform="translate(33.9 41.4)rotate(16)"/><ellipse rx="2.5" ry="1.2" transform="translate(-0.4 71.3)rotate(107)"/><ellipse rx="1.6" ry="1.7" transform="translate(31.7 22.3)rotate(169)"/><ellipse rx="2.3" ry="0.9" transform="translate(24.3 45.3)rotate(161)"/><ellipse rx="2.2" ry="1.5" transform="translate(74.9 22.5)rotate(143)"/><ellipse rx="2.1" ry="1.6" transform="translate(41.2 37.4)rotate(155)"/><ellipse rx="2.9" ry="1.8" transform="translate(76.8 9.6)rotate(129)"/><ellipse rx="1.7" ry="1.5" transform="translate(40.2 12.7)rotate(12)"/><ellipse rx="2.6" ry="1.7" transform="translate(72.3 65.6)rotate(168)"/></g></g></g>
<text x="22.5" y="33.5" font-size="27" text-anchor="start" fill="#000" font-family='"Liberation Serif", serif' >A</text>
<text x="245.3" y="33.5" font-size="27" text-anchor="start" fill="#000" font-family='"Liberation Serif", serif' >B</text>
<text x="449.0" y="33.3" font-size="27" text-anchor="start" fill="#000" font-family='"Liberation Serif", serif' >C</text>
<text x="11.2" y="224.5" font-size="27" text-anchor="start" fill="#000" font-family='"Liberation Serif", serif' >D</text>
<text x="11.0" y="446.9" font-size="27" text-anchor="start" fill="#000" font-family='"Liberation Serif", serif' >E</text>
<text x="11.5" y="605.6" font-size="27" text-anchor="start" fill="#000" font-family='"Liberation Serif", serif' >F</text>
<text x="9.2" y="379.7" font-size="18.3" fill="#000" stroke="#000" stroke-width="0.08" font-family='"Liberation Sans", sans-serif' text-anchor="start" textLength="42.6" lengthAdjust="spacingAndGlyphs">IL-17</text>
<text x="66.2" y="379.7" font-size="18.3" fill="#000" stroke="#000" stroke-width="0.08" font-family='"Liberation Sans", sans-serif' text-anchor="start" textLength="70.0" lengthAdjust="spacingAndGlyphs">0 ng/mL</text>
<text x="166.5" y="379.7" font-size="18.3" fill="#000" stroke="#000" stroke-width="0.08" font-family='"Liberation Sans", sans-serif' text-anchor="start" textLength="81.0" lengthAdjust="spacingAndGlyphs">10 ng/mL</text>
<text x="263.0" y="379.7" font-size="18.3" fill="#000" stroke="#000" stroke-width="0.08" font-family='"Liberation Sans", sans-serif' text-anchor="start" textLength="81.0" lengthAdjust="spacingAndGlyphs">20 ng/mL</text>
<text x="359.0" y="379.7" font-size="18.3" fill="#000" stroke="#000" stroke-width="0.08" font-family='"Liberation Sans", sans-serif' text-anchor="start" textLength="80.8" lengthAdjust="spacingAndGlyphs">50 ng/mL</text>
<text x="450.2" y="379.7" font-size="18.3" fill="#000" stroke="#000" stroke-width="0.08" font-family='"Liberation Sans", sans-serif' text-anchor="start" textLength="86.8" lengthAdjust="spacingAndGlyphs">100ng/mL</text>
<text x="22.4" y="267.0" font-size="19.8" fill="#000" stroke="#000" stroke-width="0.08" font-family='"Liberation Sans", sans-serif' text-anchor="start" textLength="29.8" lengthAdjust="spacingAndGlyphs">0 h</text>
<text x="22.6" y="324.3" font-size="19.8" fill="#000" stroke="#000" stroke-width="0.08" font-family='"Liberation Sans", sans-serif' text-anchor="start" textLength="41.3" lengthAdjust="spacingAndGlyphs">24 h</text>
<text x="35.6" y="549.7" font-size="21.6" fill="#000" stroke="#000" stroke-width="0.08" font-family='"Liberation Sans", sans-serif' text-anchor="start" textLength="80.8" lengthAdjust="spacingAndGlyphs">0 ng/mL</text>
<text x="35.6" y="710.8" font-size="21.6" fill="#000" stroke="#000" stroke-width="0.08" font-family='"Liberation Sans", sans-serif' text-anchor="start" textLength="80.8" lengthAdjust="spacingAndGlyphs">0 ng/mL</text>
<text x="132.4" y="549.7" font-size="21.6" fill="#000" stroke="#000" stroke-width="0.08" font-family='"Liberation Sans", sans-serif' text-anchor="start" textLength="92.9" lengthAdjust="spacingAndGlyphs">10 ng/mL</text>
<text x="132.4" y="710.8" font-size="21.6" fill="#000" stroke="#000" stroke-width="0.08" font-family='"Liberation Sans", sans-serif' text-anchor="start" textLength="92.9" lengthAdjust="spacingAndGlyphs">10 ng/mL</text>
<text x="240.8" y="549.7" font-size="21.6" fill="#000" stroke="#000" stroke-width="0.08" font-family='"Liberation Sans", sans-serif' text-anchor="start" textLength="93.5" lengthAdjust="spacingAndGlyphs">20 ng/mL</text>
<text x="240.8" y="710.8" font-size="21.6" fill="#000" stroke="#000" stroke-width="0.08" font-family='"Liberation Sans", sans-serif' text-anchor="start" textLength="93.5" lengthAdjust="spacingAndGlyphs">20 ng/mL</text>
<text x="350.2" y="549.7" font-size="21.6" fill="#000" stroke="#000" stroke-width="0.08" font-family='"Liberation Sans", sans-serif' text-anchor="start" textLength="93.0" lengthAdjust="spacingAndGlyphs">50 ng/mL</text>
<text x="350.2" y="710.8" font-size="21.6" fill="#000" stroke="#000" stroke-width="0.08" font-family='"Liberation Sans", sans-serif' text-anchor="start" textLength="93.0" lengthAdjust="spacingAndGlyphs">50 ng/mL</text>
<text x="454.6" y="549.7" font-size="21.6" fill="#000" stroke="#000" stroke-width="0.08" font-family='"Liberation Sans", sans-serif' text-anchor="start" textLength="98.6" lengthAdjust="spacingAndGlyphs">100ng/mL</text>
<text x="454.6" y="710.8" font-size="21.6" fill="#000" stroke="#000" stroke-width="0.08" font-family='"Liberation Sans", sans-serif' text-anchor="start" textLength="98.6" lengthAdjust="spacingAndGlyphs">100ng/mL</text>
<g font-family='"Liberation Sans", sans-serif'><path transform="scale(0.1)" d="M1067 6296h8m-57-6h8m-20-6h8m-24 11h8m-13-13h8m-16 12h8m-22 0h8m-23-24h8m-19 20h8m-41 4h8m-10-16h8m-15 10h8m-8-2h8m-12 11h8m-14-1h8m-15-24h8m-16 26h8m-20-18h8m-20-6h8m-9 15h8m-9 6h8m-14-20h8m-18 9h8m-12-7h8m-10-4h8m-11-2h8m-9 27h8m-9-3h8m-11-13h8m-19 15h8m-17-13h8m-12 14h8m-9-19h8m-10 10h8m-16-6h8m-17-4h8m-12 15h8m-9 0h8m-10-12h8m-11 7h8m-10 1h8m-13-15h8m-9 2h8m-9 16h8m-11 1h8m-10-14h8m-11-3h8m-9 1h8m-10 3h8m-17 18h8m-14-17h8m-10 14h8m-10-11h8m-11 6h8m-11 2h8m-9-4h8m-11 10h8m-12-3h8m-10 2h8m-8-10h8m-11 5h8m-11-14h8m-25 8h8m-9 8h8m-8-16h8m-11 13h8m-9 5h8m-10 2h8m-8-15h8m-12 14h8m-11-17h8m-9 14h8m-18 1h8m-39-2h8m-11-7h8m-14 10h8m-38-9h8m-12 24h8m21-8h8m-7 20h8m0-11h8m-4-6h8m-4-5h8m-5 26h8m3-14h8m0 7h8m-7 9h8m-4-14h8m-8-1h8m-7 7h8m-7-11h8m-6 13h8m-6 3h8m-5-10h8m-7-9h8m-2 20h8m-8-22h8m-6 5h8m-4 11h8m-8-9h8m-4 11h8m-6 1h8m-5 1h8m-5-16h8m0 7h8m-8 11h8m-7-4h8m-8 1h8m-7-15h8m-7 0h8m-7 14h8m-6-6h8m-8 1h8m-6 3h8m-3-10h8m-8 0h8m-5 12h8m-8 5h8m-8-3h8m-4-9h8m-7-8h8m-6-2h8m-6 6h8m-6 10h8m-7-4h8m-8-18h8m-7 26h8m-4-4h8m-5-2h8m-7 7h8m-8-12h8m-8-15h8m-4 27h8m-8-27h8m-7 20h8m-8-4h8m-7-5h8m-7 15h8m-8 1h8m-6-5h8m-8 6h8m-7-7h8m-8-5h8m-7-13h8m-8 1h8m-6 23h8m-5-22h8m-8 18h8m-7-1h8m-7-2h8m-6-9h8m-8-4h8m-6 10h8m-8 4h8m-8 6h8m-7-12h8m-5 2h8m-8 10h8m-7-14h8m-5 5h8m-4-9h8m-6 7h8m-8 3h8m-7 2h8m-7-12h8m-6 14h8m-8-9h8m-7 1h8m-8 5h8m-2-8h8m-6 8h8m-4-17h8m-2 12h8m-4-13h8m-6 17h8m-7-3h8m-7 1h8m-7 1h8m-6-11h8m-5 7h8m-6 0h8m-7-2h8m-2 16h8m-5-4h8m-6-7h8m-7-12h8m-8 22h8m-7 2h8m-8-21h8m-5 19h8m-2-7h8m-7-1h8m-4-6h8m-2 10h8m2-2h8m-7-3h8m-8-3h8m-3-11h8m-8 23h8m-6-24h8m-8 14h8m-5-18h8m-7 19h8m-7-6h8m-4-5h8m-4 6h8m-6-14h8m-1 24h8m3-13h8m-3-7h8m31 21h8m-6 1h8m-8-5h8m-5-9h8m37 7h8m-3-13h8m3-4h8m41 6h8m-36 46h8m-54 2h8m-13-18h8m-10 1h8m-11 17h8m-13-16h8m-8 11h8m-9 2h8m-20-18h8m-10-4h8m-16 24h8m-11-10h8m-10-10h8m-9 8h8m-8 9h8m-12-3h8m-11 0h8m-11-9h8m-10 6h8m-10 0h8m-10 10h8m-10-1h8m-12-7h8m-10-9h8m-10 8h8m-14-3h8m-12-11h8m-8 25h8m-9-9h8m-8 7h8m-10-14h8m-9 1h8m-15 5h8m-8-6h8m-9 13h8m-9-22h8m-8 2h8m-9 8h8m-14 5h8m-9-13h8m-15 25h8m-8-21h8m-10 17h8m-9-25h8m-12 28h8m-10-5h8m-8 0h8m-9-6h8m-10-4h8m-8-7h8m-9 4h8m-9 13h8m-8-9h8m-9 8h8m-8 2h8m-8 2h8m-9-3h8m-9-16h8m-8 17h8m-11-16h8m-9-4h8m-9 22h8m-12-9h8m-10-1h8m-10-7h8m-11 2h8m-9 7h8m-9 9h8m-8-22h8m-8-5h8m-10 13h8m-8-6h8m-9 15h8m-8-14h8m-12 13h8m-8-11h8m-9 11h8m-10-22h8m-8 19h8m-9 10h8m-10-24h8m-10 15h8m-9-10h8m-9 5h8m-9-9h8m-8 15h8m-8-2h8m-11-8h8m-9 16h8m-8-3h8m-9-8h8m-8-2h8m-10 12h8m-9-17h8m-9-5h8m-8 1h8m-9 23h8m-9-22h8m-9 6h8m-8-9h8m-9 8h8m-9 13h8m-9-7h8m-8 5h8m-9-11h8m-8 15h8m-11-21h8m-8 19h8m-8-3h8m-9-19h8m-9 21h8m-8-8h8m-8 10h8m-8-11h8m-8 10h8m-8-19h8m-9 22h8m-9-20h8m-9 11h8m-8 2h8m-8 5h8m-8 4h8m-9-13h8m-9-12h8m-10 19h8m-8-19h8m-9 15h8m-9-12h8m-8-7h8m-8 14h8m-9 0h8m-8-4h8m-8-9h8m-9 16h8m-8 0h8m-9-5h8m-8 9h8m-8 6h8m-8 0h8m-8 3h8m-8-1h8m-9-7h8m-8-17h8m-9 0h8m-11 25h8m-8-21h8m-9-8h8m-8 20h8m-9-10h8m-8-9h8m-9 14h8m-9-5h8m-8 5h8m-9 11h8m-8-15h8m-9 12h8m-8-9h8m-10 10h8m-8-5h8m-8 2h8m-9 3h8m-8-10h8m-8-5h8m-8 6h8m-9 3h8m-8-6h8m-8 12h8m-9-1h8m-8-9h8m-9 10h8m-8 5h8m-8-12h8m-9-1h8m-9 4h8m-8-19h8m-9 19h8m-8 7h8m-9-19h8m-9 21h8m-8-2h8m-9-22h8m-8 6h8m-9 2h8m-8 12h8m-8-19h8m-8 5h8m-8 5h8m-8 6h8m-9 1h8m-8-23h8m-9 24h8m-8-23h8m-8 21h8m-8-16h8m-8 12h8m-9-5h8m-8 10h8m-8-18h8m-8 22h8m-9-16h8m-8-3h8m-9-6h8m-9 9h8m-8 13h8m-8-4h8m-8-2h8m-10 3h8m-8-14h8m-8 8h8m-8-2h8m-9-13h8m-8 7h8m-8-4h8m-8 7h8m-9-7h8m-8 9h8m-8 15h8m-9-15h8m-8 8h8m-8 8h8m-9-15h8m-8-4h8m-8-4h8m-10 4h8m-10 19h8m-8-26h8m-9 20h8m-9 0h8m-8-6h8m-9-1h8m-9-14h8m-8 7h8m-8-2h8m-8 0h8m-9 13h8m-9-12h8m-8 16h8m-9-1h8m-9 4h8m-8-4h8m-8 2h8m-9 4h8m-10-18h8m-8 7h8m-9-4h8m-8 2h8m-8 9h8m-8 0h8m-8-15h8m-8 8h8m-9-1h8m-9 5h8m-8 2h8m-8-5h8m-8 3h8m-8-4h8m-8-10h8m-9-7h8m-10 2h8m-8 4h8m-9 17h8m-8 0h8m-10-2h8m-9-13h8m-9-1h8m-8-1h8m-8 22h8m-9-15h8m-8 6h8m-8-13h8m-8 7h8m-10 5h8m-8-13h8m-8 6h8m-9-6h8m-9 10h8m-8-1h8m-9 0h8m-9 9h8m-9-11h8m-8 6h8m-9-13h8m-8 7h8m-8 12h8m-8-22h8m-9 11h8m-8 13h8m-8-14h8m-8 8h8m-9 3h8m-8-2h8m-8 1h8m-10-8h8m-8-2h8m-9-4h8m-8 4h8m-8-2h8m-10 18h8m-8-1h8m-8-27h8m-8 6h8m-9-3h8m-8 5h8m-8 17h8m-9 3h8m-8-8h8m-9 3h8m-9-1h8m-10 6h8m-8-2h8m-9-1h8m-10 3h8m-9-28h8m-8 21h8m-8 0h8m-9 0h8m-8 2h8m-9 4h8m-8-10h8m-8 8h8m-9 3h8m-8-29h8m-9 20h8m-9-12h8m-8 7h8m-9-13h8m-8 26h8m-9 0h8m-9-4h8m-9-22h8m-8 21h8m-10 1h8m-8 3h8m-9-26h8m-8 9h8m-9 17h8m-9-5h8m-9-18h8m-8 12h8m-9-8h8m-9 22h8m-9-9h8m-8-12h8m-9 17h8m-9-13h8m-10 11h8m-8 2h8m-9-13h8m-8-5h8m-9-5h8m-10 24h8m-9 3h8m-8-7h8m-9-23h8m-8 22h8m-8-8h8m-9 11h8m-8-14h8m-9 13h8m-10-2h8m-8-2h8m-8-1h8m-10 9h8m-10-12h8m-10-13h8m-9 18h8m-8-16h8m-10 18h8m-9 0h8m-17-21h8m-9 0h8m-10-1h8m-9 25h8m-12-22h8m-10 20h8m-8-23h8m-10 27h8m-8 1h8m-11-15h8m-8 6h8m-9-10h8m-8 4h8m-12-9h8m-15 21h8m-8 1h8m-10 1h8m-14-2h8m-10 0h8m-8 4h8m-15-27h8m-9 23h8m-10-4h8m-13-16h8m-11-3h8m-10 15h8m-17-9h8m-18-7h8m-17 24h8m-46 1h8m-39 32h8m25-3h8m8-2h8m-2-11h8m3 10h8m-2-6h8m-2 2h8m-5 7h8m-3-10h8m-5 2h8m-5-10h8m-4 2h8m-5 2h8m-4-10h8m0 25h8m-6-21h8m-8 13h8m0 3h8m-4 6h8m-7-24h8m-5 24h8m-7-22h8m-4 10h8m-4-5h8m-8-5h8m-6-5h8m-8 23h8m-6-17h8m-6 2h8m-7 18h8m-5-11h8m-7 2h8m-8-3h8m-7 5h8m-7 9h8m-7-1h8m-6-14h8m-6 5h8m-7 7h8m-8-1h8m-7-12h8m-7 1h8m-8-2h8m-6-5h8m-7 22h8m-8-26h8m-7 1h8m-8 8h8m-7 5h8m-8-13h8m-8 17h8m-7-16h8m-8 3h8m-7 21h8m-8-17h8m-7 2h8m-8-11h8m-5 8h8m-8-10h8m-8 29h8m-8-4h8m-8-26h8m-7 10h8m-8-8h8m-7 24h8m-7-3h8m-8-9h8m-7 11h8m-6-8h8m-6-2h8m-8 11h8m-7-13h8m-8 10h8m-7 3h8m-8 3h8m-8-20h8m-7 8h8m-8-9h8m-8 14h8m-7 2h8m-8-13h8m-8 1h8m-7-1h8m-8 6h8m-7 0h8m-7 6h8m-8 3h8m-8-7h8m-8-12h8m-6 9h8m-8 9h8m-7-6h8m-8-13h8m-8 5h8m-7 9h8m-8-12h8m-7 9h8m-7-12h8m-8 20h8m-8-15h8m-8 4h8m-7 4h8m-8-14h8m-5 21h8m-8-23h8m-8 9h8m-8 13h8m-7-23h8m-8 6h8m-7 7h8m-7-5h8m-7 20h8m-8-11h8m-8 0h8m-6-1h8m-7 7h8m-8-7h8m-8-12h8m-7-5h8m-8 26h8m-8-14h8m-8 15h8m-8-27h8m-8 3h8m-7 3h8m-8 15h8m-8-17h8m-8 8h8m-7-11h8m-8 1h8m-8 20h8m-8-8h8m-7 14h8m-8-5h8m-7-9h8m-8 0h8m-8 12h8m-7-2h8m-7-18h8m-7 7h8m-8-11h8m-7 19h8m-7 6h8m-8-4h8m-8-1h8m-7-18h8m-8 15h8m-7 3h8m-8 3h8m-8 2h8m-8-4h8m-8-16h8m-6-6h8m-8 26h8m-8-14h8m-8 11h8m-7-3h8m-8-9h8m-6-2h8m-8-6h8m-8 11h8m-8-7h8m-7 2h8m-8-7h8m-8 10h8m-8 3h8m-7-7h8m-8 9h8m-8 9h8m-8-24h8m-7 15h8m-8 11h8m-8-23h8m-7 22h8m-8-28h8m-8 16h8m-8 10h8m-8-15h8m-7-8h8m-8 18h8m-7-14h8m-8 13h8m-7 0h8m-8-15h8m-7 12h8m-7 4h8m-8 1h8m-7 6h8m-8-1h8m-8-21h8m-7 2h8m-7-4h8m-6 20h8m-8-21h8m-7 8h8m-8 9h8m-8-8h8m-7-5h8m-8 5h8m-8 16h8m-8-26h8m-8 14h8m-8-11h8m-7 5h8m-8-6h8m-8-4h8m-7 23h8m-8-22h8m-8 11h8m-8-4h8m-8-7h8m-7 6h8m-7 5h8m-8 18h8m-8-27h8m-7 13h8m-7-1h8m-8-10h8m-8 17h8m-8 1h8m-8-17h8m-7 5h8m-8 2h8m-8 10h8m-7-5h8m-8 7h8m-7-10h8m-8-14h8m-8 21h8m-8-7h8m-7 6h8m-8-20h8m-8 0h8m-8 0h8m-7 3h8m-8 12h8m-8 13h8m-7-4h8m-8 3h8m-8-19h8m-7 11h8m-8-2h8m-8-2h8m-7 0h8m-8-7h8m-7 19h8m-8-28h8m-6 15h8m-8 11h8m-7-21h8m-8 21h8m-8-16h8m-7 4h8m-8-10h8m-7 7h8m-8-9h8m-8 23h8m-8-24h8m-8 14h8m-8 12h8m-7-16h8m-8 3h8m-7 7h8m-8 2h8m-7-18h8m-7-4h8m-8 15h8m-8 4h8m-7-18h8m-8 8h8m-7 7h8m-8-3h8m-8-8h8m-8 20h8m-7-7h8m-8-13h8m-8-2h8m-7 5h8m-8 18h8m-7-12h8m-7 7h8m-8-21h8m-8 18h8m-8-7h8m-8 3h8m-8-13h8m-7 14h8m-7 4h8m-7-1h8m-8 8h8m-8-14h8m-8-5h8m-8 0h8m-8 3h8m-7-1h8m-8 19h8m-7-16h8m-8 6h8m-8 1h8m-8-10h8m-8-3h8m-8 8h8m-7-12h8m-7 27h8m-8-17h8m-7-2h8m-8 6h8m-8-15h8m-7 22h8m-8-3h8m-8-6h8m-8-9h8m-8 5h8m-8 11h8m-8-9h8m-8-8h8m-8-4h8m-7 28h8m-7-3h8m-8-25h8m-7 21h8m-7-6h8m-7-14h8m-8 7h8m-8 8h8m-8-10h8m-7-3h8m-7 0h8m-7 14h8m-7-4h8m-8-10h8m-7 18h8m-8 4h8m-7-12h8m-8 13h8m-8-12h8m-7 9h8m-7-15h8m-8 11h8m-7 8h8m-7-19h8m-8 4h8m-8 9h8m-7-8h8m-7 1h8m-6-1h8m-8-8h8m-8 13h8m-8-9h8m-6 4h8m-7-9h8m-8 21h8m-7-9h8m-8-3h8m-8-5h8m-8 7h8m-7 9h8m-8-9h8m-8 3h8m-8-14h8m-7 5h8m-8-3h8m-8-5h8m-8 1h8m-6 12h8m-8 13h8m-8-5h8m-8-5h8m-8 12h8m-8-24h8m-7 22h8m-8-6h8m-8-9h8m-7 11h8m-8-1h8m-7-17h8m-8-1h8m-7 19h8m-7-2h8m-7-9h8m-7-8h8m-7 15h8m-8 8h8m-7 0h8m-8-15h8m-8 16h8m-7-7h8m-8-9h8m-7 8h8m-8 1h8m-7 0h8m-8-13h8m-8 12h8m-8 4h8m-7 3h8m-7-20h8m-8-5h8m-7 3h8m-6 11h8m-8 0h8m-8 5h8m-8-3h8m-7-3h8m-5-4h8m-7 15h8m-8-15h8m-7 0h8m-6 18h8m-7-21h8m-8-3h8m-7 1h8m-7 5h8m-7 1h8m-7-5h8m-7-6h8m-7 18h8m-8-9h8m-7 6h8m-7 0h8m-6 8h8m-6-13h8m-8 3h8m-8 9h8m-6-5h8m-7 4h8m-8-17h8m-7-3h8m-7 10h8m-8 1h8m-7 3h8m-8-7h8m-6 4h8m-5-4h8m-7 7h8m-6 3h8m-8 5h8m-6-14h8m-6-2h8m-8 6h8m-3-15h8m-6 20h8m-7-20h8m-7 22h8m-7-5h8m-7 3h8m-7-14h8m-6 0h8m-1 15h8m-8-5h8m-8-3h8m-2-5h8m-8-7h8m-6 7h8m-6-3h8m-7 13h8m-7 12h8m-7-30h8m-5 5h8m-4 22h8m-8-16h8m-4 3h8m-7 15h8m-7-14h8m-7 15h8m-7-4h8m-8-14h8m-4-1h8m-7 7h8m-4 10h8m-5-9h8m-6 5h8m-6 5h8m-5-8h8m-7-12h8m-4-5h8m-7-2h8m-4 18h8m-2-6h8m12 6h8m-8-7h8m4-3h8m-7-8h8m-7 9h8m36-6h8m-4-4h8m16 2h8m-7 12h8m-5-10h8m30 20h8m-25 31h8m-15-11h8m-31 15h8m-17-25h8m-23 0h8m-11 19h8m-31-18h8m-14 2h8m-11-1h8m-8 18h8m-10 2h8m-14-10h8m-11-16h8m-11 11h8m-10 10h8m-8 8h8m-15-27h8m-9 3h8m-16 5h8m-10 6h8m-30 10h8m-12-14h8m-13 6h8m-10-3h8m-9-5h8m-10-3h8m-9 3h8m-8 6h8m-11-12h8m-9 2h8m-13 17h8m-8 5h8m-10-27h8m-9-1h8m-12 15h8m-11-4h8m-10-8h8m-8 21h8m-8-2h8m-12 1h8m-11-21h8m-12 6h8m-8-1h8m-9 19h8m-8-11h8m-9 12h8m-15-23h8m-9 6h8m-9 0h8m-11 1h8m-9 2h8m-9-1h8m-8-5h8m-11 12h8m-8 1h8m-13-5h8m-9-14h8m-9 7h8m-10-3h8m-9-6h8m-8 10h8m-8 16h8m-12-13h8m-8 0h8m-9 15h8m-8-22h8m-8 7h8m-8 4h8m-10-13h8m-8 1h8m-8 5h8m-9 1h8m-9-3h8m-12 17h8m-9 4h8m-10-16h8m-9 11h8m-8-15h8m-9 15h8m-8-9h8m-14 12h8m-9-3h8m-9-14h8m-8 8h8m-9-13h8m-8 6h8m-9-5h8m-9-3h8m-8-3h8m-11 16h8m-9-11h8m-9 11h8m-8 0h8m-9-2h8m-8-1h8m-8 16h8m-9-15h8m-8 15h8m-9-23h8m-8-4h8m-9 11h8m-10 14h8m-9-24h8m-8 17h8m-9-10h8m-8-5h8m-10 18h8m-8-12h8m-9 5h8m-8-1h8m-8 13h8m-10-1h8m-8-21h8m-10-3h8m-9 26h8m-8-26h8m-9 11h8m-9 2h8m-8-16h8m-9 12h8m-8 6h8m-8 3h8m-8 1h8m-9-19h8m-8 23h8m-9-15h8m-9 5h8m-8 4h8m-8 1h8m-9-6h8m-9-9h8m-10-2h8m-9 0h8m-8 5h8m-9 17h8m-10-14h8m-9-3h8m-9 12h8m-8-3h8m-8-16h8m-9 0h8m-8 10h8m-8 1h8m-9-13h8m-9 24h8m-8-11h8m-9-5h8m-9 15h8m-8-20h8m-8 9h8m-9 4h8m-8-12h8m-9 24h8m-8-2h8m-8-16h8m-8 7h8m-8 10h8m-9-19h8m-9 18h8m-8-19h8m-9-5h8m-8 4h8m-8 15h8m-9-7h8m-9 3h8m-8 10h8m-8 0h8m-9-19h8m-8 15h8m-9-15h8m-9 14h8m-8 0h8m-8-18h8m-9 25h8m-9-16h8m-8 4h8m-9-11h8m-8 22h8m-8 1h8m-9-17h8m-8-4h8m-8 17h8m-8-11h8m-9 7h8m-8-2h8m-9 8h8m-9-20h8m-8 7h8m-9 14h8m-8-22h8m-9 12h8m-8-13h8m-9 4h8m-8 4h8m-9-7h8m-8 6h8m-9 13h8m-8 2h8m-8-24h8m-8 9h8m-9 18h8m-8-11h8m-8-4h8m-9-3h8m-8-2h8m-8 9h8m-9-7h8m-8 5h8m-8-8h8m-8 20h8m-9-23h8m-8 19h8m-8 2h8m-9-16h8m-8-11h8m-10 14h8m-8-12h8m-9 4h8m-8-5h8m-8 16h8m-9 1h8m-8 5h8m-8-6h8m-8-2h8m-9 15h8m-9-17h8m-9-7h8m-8-2h8m-8-1h8m-8-2h8m-10 14h8m-9 1h8m-8 1h8m-8-6h8m-8 12h8m-9-4h8m-8-14h8m-9-2h8m-9-2h8m-8 17h8m-8-9h8m-10-6h8m-8 5h8m-9-2h8m-8 17h8m-9-8h8m-8-14h8m-9 7h8m-8 4h8m-9-10h8m-8 2h8m-9 3h8m-9 1h8m-8-5h8m-8 15h8m-9-4h8m-8-4h8m-8-7h8m-8 12h8m-10 0h8m-8 7h8m-8-11h8m-9 11h8m-8-1h8m-8-13h8m-8-3h8m-9-5h8m-8 13h8m-9-7h8m-8-6h8m-8 17h8m-8-6h8m-9-7h8m-8 16h8m-8-8h8m-8-10h8m-8 25h8m-9-13h8m-9 9h8m-8-18h8m-8 9h8m-8 11h8m-9-2h8m-8-10h8m-8-8h8m-8 13h8m-9 4h8m-9-11h8m-9 2h8m-8-7h8m-9 0h8m-9-3h8m-8 14h8m-8-11h8m-9 6h8m-9 14h8m-9-20h8m-8-1h8m-8-5h8m-9 10h8m-8-7h8m-8 16h8m-8-8h8m-8-2h8m-9 15h8m-8-21h8m-8 10h8m-8-8h8m-9 11h8m-8-16h8m-9 24h8m-8-11h8m-8 2h8m-8 12h8m-9-3h8m-9-3h8m-9-2h8m-9 0h8m-8 10h8m-8-3h8m-8 2h8m-9-13h8m-11 5h8m-8-2h8m-8 4h8m-9 0h8m-9-10h8m-9-7h8m-9 2h8m-8-7h8m-10 2h8m-9 3h8m-8 2h8m-9-2h8m-8 0h8m-8 19h8m-8-1h8m-8-16h8m-9 16h8m-8-12h8m-8 3h8m-9 13h8m-8-15h8m-9 9h8m-8-17h8m-8 0h8m-9 5h8m-8 2h8m-8 8h8m-8 3h8m-9-21h8m-8 5h8m-8 3h8m-9 20h8m-8-23h8m-9 24h8m-9-27h8m-8 2h8m-10 3h8m-10 17h8m-8-7h8m-8-4h8m-9 14h8m-10-4h8m-9-20h8m-9 11h8m-10-6h8m-8 8h8m-8 4h8m-9-18h8m-9-2h8m-8 6h8m-9-6h8m-8 29h8m-8-25h8m-8 2h8m-8 10h8m-9 0h8m-9-11h8m-8 13h8m-9 3h8m-9-9h8m-8-2h8m-8 18h8m-9-11h8m-9-5h8m-8-9h8m-9 13h8m-9-6h8m-11-5h8m-8 6h8m-8-4h8m-11-7h8m-8 14h8m-9 5h8m-9 3h8m-9-15h8m-9 7h8m-8 0h8m-12 12h8m-8-13h8m-8-12h8m-8-1h8m-9-1h8m-8 18h8m-9-14h8m-9 26h8m-9-9h8m-10-16h8m-9-2h8m-8 9h8m-8 15h8m-9-26h8m-9 19h8m-9-4h8m-8-6h8m-12 6h8m-8 11h8m-10-7h8m-11 8h8m-14-23h8m-8-4h8m-8 0h8m-10-1h8m-11 29h8m-9-20h8m-11-7h8m-10 2h8m-10 19h8m-8 6h8m-24-28h8m-28 7h8m-9 12h8m-9-16h8m-79 38h8m-5 16h8m8-22h8m-3-1h8m18 11h8m7 7h8m-1-19h8m-2 18h8m6-18h8m-4 24h8m-5-8h8m0-10h8m2 11h8m-8 0h8m-1-12h8m1 20h8m-7-25h8m-5-3h8m-8 8h8m-8-9h8m-5 4h8m-2 15h8m-7-5h8m-7-13h8m-7 21h8m-4 2h8m-6-15h8m-7 3h8m-7-9h8m-8 18h8m-4-7h8m-3 9h8m-8-22h8m-7 29h8m-8-20h8m-7 11h8m-7-3h8m-8 6h8m-7-15h8m-6-4h8m-8 1h8m-7-5h8m-5 18h8m-7-5h8m-7-3h8m-5 4h8m-8 3h8m-4 10h8m-7-5h8m-7 6h8m-8-22h8m-8 8h8m-8-7h8m-6-6h8m-8 25h8m-8-6h8m-7-13h8m-7-3h8m-7 4h8m-7-7h8m-8 20h8m-7-17h8m-8-3h8m-7 2h8m-7 18h8m-8-8h8m-7 10h8m-8-13h8m-7 13h8m-8-4h8m-8 7h8m-7-2h8m-8 3h8m-7-26h8m-4 15h8m-8-8h8m-8-4h8m-6 0h8m-7 1h8m-7 15h8m-8 1h8m-7-19h8m-6 6h8m-7 8h8m-7-10h8m-7 11h8m-8-12h8m-7 17h8m-7-9h8m-8 9h8m-7-17h8m-5 10h8m-7-10h8m-8-4h8m-7 21h8m-8-21h8m-7 15h8m-7 9h8m-8 0h8m-8-1h8m-8-25h8m-7 4h8m-7 5h8m-8-3h8m-7 15h8m-6-21h8m-8 10h8m-6-4h8m-8 4h8m-4-10h8m-8 12h8m-7 12h8m-7-15h8m-8 10h8m-8-9h8m-7 6h8m-8-10h8m-4 9h8m-8 3h8m-8-8h8m-7-1h8m-7 5h8m-8 14h8m-8-11h8m-8-8h8m-5 13h8m-8-19h8m-8 19h8m-8-20h8m-8 27h8m-7-21h8m-8-4h8m-8 16h8m-7-13h8m-8 0h8m-6 3h8m-8-6h8m-7 3h8m-6 19h8m-8-24h8m-7 21h8m-8-7h8m-8 10h8m-7-8h8m-8-9h8m-6 6h8m-6-4h8m-8-3h8m-8-1h8m-8 22h8m-8-11h8m-7-16h8m-8 8h8m-8-9h8m-3 2h8m-6 7h8m-7 14h8m-8-6h8m-7 2h8m-8-16h8m-8 8h8m-7-5h8m-8 0h8m-8 3h8m-7-2h8m-6 17h8m-7 3h8m-8-7h8m-6-1h8m-8 7h8m-8-12h8m-8-10h8m-8 11h8m-7-14h8m-8 10h8m-7 4h8m-8-13h8m-8 4h8m-4 7h8m-8-6h8m-8 3h8m-7 7h8m-6-14h8m-7 15h8m-7-6h8m-6-13h8m-7 15h8m-8 7h8m-6-1h8m-8-3h8m-8-14h8m-6-3h8m-7 8h8m-8 13h8m-7-18h8m-7 15h8m-6 7h8m-8-12h8m-6-10h8m-7 9h8m-8-10h8m-6 21h8m-8-3h8m-8-3h8m-3 12h8m-8-27h8m-8 5h8m-5 3h8m-7-10h8m-7 13h8m-6-4h8m-7 5h8m-7-6h8m-1 2h8m-7-4h8m-3-3h8m-4 6h8m-8 6h8m-7-6h8m-8-6h8m-5 15h8m-6-18h8m-8 14h8m-7-3h8m-7-9h8m-6 0h8m-8 2h8m-7 18h8m-8-13h8m-6-7h8m-8 11h8m-8-13h8m-5 28h8m-7-8h8m-5-12h8m-7-5h8m-8 25h8m-7-10h8m-6 10h8m-7-5h8m-6 5h8m-7-23h8m-6-2h8m-7-3h8m-8 8h8m-2 10h8m-8-17h8m-2 27h8m-8-9h8m-8 6h8m-7-6h8m-7-15h8m-8 4h8m-7 8h8m-8 7h8m-8-18h8m-6-6h8m-1 18h8m-8-17h8m-6 11h8m-5 13h8m-5-21h8m-7 25h8m-5-8h8m-6 6h8m-6-20h8m-5 13h8m-8-12h8m-7 12h8m2-8h8m-4-11h8m-7 19h8m-7-9h8m-8 4h8m-6-10h8m-8 7h8m-7 16h8m-8-18h8m-2-2h8m4 17h8m-5-14h8m-6 9h8m-5-16h8m-5 18h8m-7-9h8m-8 10h8m-4-16h8m-2-2h8m-7 2h8m-7 3h8m-4 13h8m-5-17h8m-2 14h8m-7-11h8m-7-3h8m13 12h8m-7 6h8m3-16h8m-2 7h8m1 2h8m25 12h8m-35 19h8m-15 5h8m-11-22h8m-12 28h8m-32 0h8m-9-21h8m-17 6h8m-14 15h8m-14-16h8m-12 0h8m-14 7h8m-18-17h8m-17 4h8m-8 7h8m-9 4h8m-12 2h8m-17-5h8m-14-1h8m-14-1h8m-14 8h8m-11-10h8m-8 11h8m-9-15h8m-11 14h8m-9-16h8m-8 8h8m-15-3h8m-9 4h8m-10 0h8m-10-7h8m-10-7h8m-9 6h8m-10 4h8m-11 2h8m-12 17h8m-13-9h8m-10-2h8m-9-12h8m-8-6h8m-16 22h8m-9 4h8m-9-7h8m-13-10h8m-10-1h8m-8 3h8m-10-3h8m-13-5h8m-10 16h8m-9-12h8m-10 0h8m-10-6h8m-8 9h8m-9-1h8m-12 19h8m-8-9h8m-11-4h8m-9-5h8m-8 6h8m-12-15h8m-9 24h8m-9-23h8m-10 18h8m-9-17h8m-9-2h8m-8 25h8m-8-14h8m-16-6h8m-11 2h8m-9 5h8m-8-11h8m-9 4h8m-10 20h8m-10-21h8m-12-5h8m-10 8h8m-8 8h8m-9-2h8m-9-9h8m-8 20h8m-9-20h8m-8 22h8m-9-23h8m-8 11h8m-10-4h8m-8-9h8m-9 20h8m-8 4h8m-12-1h8m-13-18h8m-9-6h8m-9 16h8m-9-15h8m-9 0h8m-9 22h8m-11-8h8m-11-14h8m-9-1h8m-13 14h8m-9 15h8m-9-30h8m-9 27h8m-10-22h8m-9 8h8m-8 3h8m-8-12h8m-9-2h8m-9 10h8m-10-5h8m-11 19h8m-10-10h8m-9-7h8m-8-8h8m-10 17h8m-10-8h8m-9 15h8m-9-6h8m-9-17h8m-12-1h8m-9 12h8m-8 12h8m-8-20h8m-8-4h8m-9 4h8m-8 3h8m-8 14h8m-8-9h8m-11-12h8m-8 21h8m-9-19h8m-8 22h8m-9-17h8m-9-2h8m-9 10h8m-9 11h8m-8-14h8m-8 1h8m-9 11h8m-12-15h8m-10 20h8m-11-8h8m-9-11h8m-9 1h8m-8 1h8m-9 3h8m-8 3h8m-8 4h8m-9-5h8m-10-17h8m-9 23h8m-9-18h8m-9-4h8m-10 4h8m-9-2h8m-8 13h8m-10 4h8m-8 9h8m-12-28h8m-9 25h8m-10-18h8m-8 14h8m-12 2h8m-10-11h8m-9-11h8m-17 10h8m-10-12h8m-8-1h8m-9 16h8m-9-6h8m-9 0h8m-8 12h8m-9 3h8m-11-16h8m-11 13h8m-12 5h8m-9-14h8m-12-10h8m-20 15h8m-8-11h8m-12 10h8m-10 0h8m-9-10h8m-8-2h8m-14 18h8m-23 2h8m-9-18h8m-11 11h8m-9-10h8m-8 2h8m-16 6h8m-8 2h8m-9-13h8m-10 11h8m-10-10h8m-10 11h8m-15 8h8m-25 2h8m-12-26h8m-30 13h8m-16 8h8m-21-13h8m-18-4h8m-16 3h8m0 44h8m16-12h8m3-8h8m-1 0h8m0 23h8m-2-24h8m-1 6h8m7 18h8m-3-9h8m-7 12h8m-2-6h8m-5-10h8m11-8h8m-5 26h8m-5-2h8m-2-10h8m-5 8h8m-6-16h8m-7 19h8m-7-13h8m-8 0h8m-5-4h8m-5 11h8m-7-22h8m-8 14h8m-3 7h8m-5-16h8m-8-6h8m-7 22h8m-5 8h8m-6-11h8m-2-16h8m-3 11h8m-2-13h8m-7 4h8m-7 22h8m-2-13h8m-7 2h8m-1 6h8m-7-7h8m-7 10h8m-6-8h8m-8 5h8m-7-11h8m-7-6h8m-3-4h8m-6 0h8m-8 15h8m-4 5h8m-6-14h8m-6-4h8m-1 3h8m-6 2h8m-7-8h8m-4 10h8m-8 0h8m-5 0h8m-4 8h8m-5 10h8m-8-23h8m-5 17h8m-6-13h8m-7-8h8m-6 28h8m-6-7h8m-5-16h8m-7 19h8m-6-10h8m-7 5h8m-4 4h8m-1-5h8m-5-10h8m-2 3h8m5 15h8m-7-23h8m-1 19h8m-4-7h8m-7 13h8m-8-28h8m-4 15h8m-7-7h8m-7 5h8m-8 9h8m-3-21h8m-5 13h8m-8-2h8m-7 11h8m-1-14h8m-1 12h8m-7-8h8m-7-6h8m-5 1h8m-8-9h8m-8 15h8m-6-8h8m-7 12h8m-6-17h8m-7 13h8m-1-10h8m-6 17h8m-6 3h8m5-20h8m-3 14h8m-8-4h8m0 13h8m0-5h8m17-7h8m-5 1h8m-8 11h8m-6-9h8m-7-5h8m-6 0h8m-4-7h8m-8 0h8m-6 14h8m-6-21h8m-1 7h8m-4 0h8m-8 9h8m-3-2h8m-2 14h8m-4-27h8m-3 14h8m16 6h8m8-10h8m-4-5h8m-3-4h8m17 16h8m7 6h8m80-11h8m-57 20h8m-32 25h8m-49-23h8m-18 12h8m-36-7h8m-19-8h8m-21 21h8m-14-22h8m-11 5h8m-12 2h8m-16 20h8m-18-28h8m-18 14h8m-14-10h8m-12-2h8m-20 26h8m-16-26h8m-12 5h8m-13 9h8m-21-5h8m-13-7h8m-21 9h8m-20-3h8m-8 16h8m-16-26h8m-8 11h8m-11 17h8m-12-11h8m-9-8h8m-8 10h8m-15 11h8m-18-4h8m-9-11h8m-22-10h8m-12 10h8m-10 4h8m-12-13h8m-11-3h8m-10 8h8m-12-10h8m-9 24h8m-10-18h8m-9 8h8m-8-2h8m-13 8h8m-22-20h8m-10 8h8m-9 6h8m-18 3h8m-12-9h8m-10-4h8m-8 22h8m-15 3h8m-12-26h8m-9 8h8m-9-7h8m-11 12h8m-16-13h8m-11 10h8m-8 5h8m-9 1h8m-9-18h8m-9 10h8m-12 9h8m-8-14h8m-10-2h8m-13 18h8m-10-21h8m-11 5h8m-11 4h8m-11 12h8m-16-11h8m-8 1h8m-8-6h8m-19-7h8m-9 19h8m-20-12h8m-8 4h8m-11-4h8m-15-5h8m-8 9h8m-10-3h8m-10 5h8m-10-4h8m-9-8h8m-15 21h8m-11-2h8m-28-8h8m-41-6h8m-13 13h8m-18-5h8m-20 0h8m-21-1h8m-18-6h8m-28 13h8m-19 8h8m41 3h8m-7 7h8m0-8h8m35 15h8m-3 14h8m-6-24h8m9 21h8m7 3h8m18-12h8m-7-14h8m-8-1h8m-7 26h8m-5-8h8m-6-15h8m-2-4h8m-5 0h8m-7 18h8m-7-18h8m7 14h8m-5-5h8m-7-3h8m0 18h8m-6-4h8m-7-2h8m-6 2h8m-5-15h8m-6 18h8m-7-3h8m-3-15h8m-3 18h8m-2-9h8m-5 5h8m-8 10h8m-1-11h8m-6 1h8m-7-1h8m-8 2h8m-3 9h8m-2-21h8m0 4h8m-8 3h8m-2-4h8m1 4h8m-7 2h8m2-12h8m-7 5h8m2-1h8m-6 6h8m-7-9h8m8 8h8m1-3h8m-7 10h8m-7-14h8m-1 17h8m-1-8h8m-2-9h8m0-6h8m-7 28h8m-8-28h8m-2 2h8m17 20h8m-7-14h8m-3 2h8m-2 0h8m-7-10h8m-6 5h8m5-7h8m-1 9h8m44 4h8m22 20h8m-14-1h8m-39 23h8m-20-4h8m-29-13h8m-17 4h8m-18 6h8m-28 6h8m-19-2h8m-14-12h8m-35-6h8m-27 1h8m-8 20h8m-22-11h8m-10-9h8m-9 8h8m-17 7h8m-9-18h8m-11-1h8m-11 9h8m-8 16h8m-19-16h8m-10 11h8m-10 1h8m-18 5h8m-14-20h8m-17-3h8m-41 16h8m-8-5h8m-11-9h8m-8 15h8m-12 2h8m-11-20h8m-8 18h8m-16 3h8m-10-10h8m-33-8h8m-17 16h8m-12-6h8m-26-4h8m-12-8h8m-15 10h8m-12 13h8m-8-2h8m-19-17h8m-26-5h8m-13-3h8m-18 12h8m-12 7h8m-14 8h8m-14-18h8m-9 11h8m-49-6h8m-58 4h8m74 20h8m20 4h8m0 1h8m11-8h8m23-1h8m8-3h8m3 14h8m0-13h8m-2 13h8m-7-14h8m-1 14h8m21-3h8m-8 1h8m11-13h8m2 6h8m-6-4h8m6 13h8m6-14h8m-6 8h8m-5 0h8m-8-2h8m-1 7h8m6-13h8m1 6h8m7-3h8m8 3h8m6 0h8m39 2h8m-7-8h8m64 20h8" stroke="#000" stroke-width="8" stroke-opacity="0.72" fill="none"/>
<line x1="84.6" y1="587.4" x2="84.6" y2="663.3" stroke="#de7c80" stroke-width="0.65"/>
<line x1="47.6" y1="629.1" x2="125.3" y2="629.1" stroke="#de7c80" stroke-width="0.65"/>
<rect x="47.6" y="587.4" width="77.7" height="75.9" fill="none" stroke="#7d7eab" stroke-width="0.85"/>
<path d="M45.2 663.3H47.6M46.1 658.0H47.6M46.1 654.9H47.6M46.1 652.7H47.6M46.1 651.0H47.6M46.1 649.6H47.6M46.1 648.4H47.6M46.1 647.4H47.6M46.1 646.5H47.6M45.2 645.6H47.6M46.1 640.3H47.6M46.1 637.2H47.6M46.1 635.0H47.6M46.1 633.3H47.6M46.1 631.9H47.6M46.1 630.7H47.6M46.1 629.7H47.6M46.1 628.8H47.6M45.2 628.0H47.6M46.1 622.7H47.6M46.1 619.6H47.6M46.1 617.4H47.6M46.1 615.7H47.6M46.1 614.3H47.6M46.1 613.1H47.6M46.1 612.1H47.6M46.1 611.2H47.6M45.2 610.3H47.6M46.1 605.0H47.6M46.1 601.9H47.6M46.1 599.7H47.6M46.1 598.0H47.6M46.1 596.6H47.6M46.1 595.4H47.6M46.1 594.4H47.6M46.1 593.5H47.6M45.2 592.7H47.6M47.6 663.3V665.7M53.0 663.3V664.8M56.2 663.3V664.8M58.5 663.3V664.8M60.2 663.3V664.8M61.7 663.3V664.8M62.9 663.3V664.8M63.9 663.3V664.8M64.8 663.3V664.8M65.7 663.3V665.7M71.1 663.3V664.8M74.3 663.3V664.8M76.5 663.3V664.8M78.3 663.3V664.8M79.7 663.3V664.8M80.9 663.3V664.8M82.0 663.3V664.8M82.9 663.3V664.8M83.7 663.3V665.7M89.2 663.3V664.8M92.4 663.3V664.8M94.6 663.3V664.8M96.4 663.3V664.8M97.8 663.3V664.8M99.0 663.3V664.8M100.1 663.3V664.8M101.0 663.3V664.8M101.8 663.3V665.7M107.2 663.3V664.8M110.4 663.3V664.8M112.7 663.3V664.8M114.4 663.3V664.8M115.9 663.3V664.8M117.1 663.3V664.8M118.1 663.3V664.8M119.1 663.3V664.8M119.9 663.3V665.7" stroke="#6e6fae" stroke-width="0.6" fill="none"/>
<g font-size="5.4" fill="#c8434f"><text x="48.0" y="592.8">Q1-UL</text><text x="48.0" y="597.1">0.9%</text><text x="124.5" y="592.8" text-anchor="end">Q1-UR</text><text x="124.5" y="597.1" text-anchor="end">0.1%</text><text x="48.0" y="658.1">Q1-LL</text><text x="48.0" y="662.7">91.8%</text><text x="124.5" y="658.1" text-anchor="end">Q1-LR</text><text x="124.5" y="662.7" text-anchor="end">7.2%</text></g>
<text x="83.3" y="677.1" font-size="5.1" text-anchor="middle" fill="#333">Annexin V-FITC-A</text>
<text x="38.6" y="625.3" font-size="5.6" text-anchor="middle" fill="#333" transform="rotate(-90 38.6 625.3)">PI-A</text>
<text x="49.1" y="670.8" font-size="3.6" text-anchor="end" fill="#6a6aa0" transform="rotate(-30 49.1 670.8)">10</text><text x="44.0" y="664.8" font-size="3.6" text-anchor="start" fill="#6a6aa0" transform="rotate(-90 44.0 664.8)">10</text><text x="67.2" y="670.8" font-size="3.6" text-anchor="end" fill="#6a6aa0" transform="rotate(-30 67.2 670.8)">10</text><text x="44.0" y="647.1" font-size="3.6" text-anchor="start" fill="#6a6aa0" transform="rotate(-90 44.0 647.1)">10</text><text x="85.2" y="670.8" font-size="3.6" text-anchor="end" fill="#6a6aa0" transform="rotate(-30 85.2 670.8)">10</text><text x="44.0" y="629.5" font-size="3.6" text-anchor="start" fill="#6a6aa0" transform="rotate(-90 44.0 629.5)">10</text><text x="103.3" y="670.8" font-size="3.6" text-anchor="end" fill="#6a6aa0" transform="rotate(-30 103.3 670.8)">10</text><text x="44.0" y="611.8" font-size="3.6" text-anchor="start" fill="#6a6aa0" transform="rotate(-90 44.0 611.8)">10</text><text x="126.8" y="670.8" font-size="3.6" text-anchor="end" fill="#6a6aa0" transform="rotate(-30 126.8 670.8)">10</text><text x="44.0" y="588.9" font-size="3.6" text-anchor="start" fill="#6a6aa0" transform="rotate(-90 44.0 588.9)">10</text>
<path transform="scale(0.1)" d="M1729 6149h8m138 61h8m-236 59h8m75-16h8m12-13h8m3 30h8m-5-14h8m3-13h8m73 24h8m12 0h8m162-22h8m-64 52h8m-18-23h8m-17 23h8m-69-4h8m-8-5h8m-14 4h8m-27-9h8m-17 10h8m-28 4h8m-17-26h8m-12 28h8m-13-22h8m-9 15h8m-21-11h8m-14 8h8m-12 11h8m-14-3h8m-10-13h8m-10 11h8m-12-20h8m-9 5h8m-9 9h8m-13 9h8m-16-2h8m-14-21h8m-8 1h8m-12 23h8m-18-12h8m-10-2h8m-8-4h8m-13 5h8m-12 5h8m-10 8h8m-14 1h8m-9-3h8m-12 1h8m-9-2h8m-10-5h8m-12 8h8m-12-18h8m-9 5h8m-11-4h8m-9 4h8m-9 3h8m-9 11h8m-10-14h8m-19 8h8m-12 2h8m-20-3h8m-8 3h8m-9-2h8m-11-16h8m-10 4h8m-15 16h8m-14-25h8m-8-3h8m-13 7h8m-12-5h8m-13 24h8m-17-4h8m-78 7h8m-87 12h8m89 17h8m-5-19h8m20 20h8m-4-1h8m-2-5h8m-8-17h8m-7 0h8m-3 12h8m-7-5h8m-7-13h8m-7 24h8m-7-3h8m-8 0h8m-4 3h8m-6 2h8m-8-4h8m-7-10h8m-7 17h8m-6-5h8m-8-8h8m-8 1h8m-3 3h8m-7 9h8m-6-5h8m-7-20h8m-8 26h8m-6-16h8m-3 6h8m-6 2h8m-6-15h8m-7-2h8m-7 18h8m-7-7h8m-6-2h8m-7 0h8m-3-13h8m-7 24h8m-8-1h8m-7-1h8m-5-5h8m-7 9h8m-7-16h8m-7 0h8m-8 0h8m-4 16h8m-8-20h8m-8-5h8m-8 5h8m-4 11h8m-6-6h8m-6 1h8m-8-4h8m-8 6h8m-7 2h8m-7 10h8m-8-25h8m-6 21h8m-7 0h8m-5-22h8m-8 21h8m-8-1h8m-7 6h8m-7-26h8m-8 8h8m-3 12h8m-7 4h8m-8-6h8m-8-17h8m-7 7h8m-4 11h8m-1-19h8m-7 20h8m-7-17h8m-6 9h8m-8 11h8m-7-6h8m-8 11h8m-8-27h8m-6 8h8m-8 6h8m-8 9h8m-7-14h8m-7 12h8m-6-18h8m-5-2h8m-4 6h8m-7 8h8m-7 1h8m-7 5h8m-8-13h8m-7 5h8m-8 9h8m-6-18h8m-7 8h8m-8-13h8m-7 11h8m-7 2h8m-8 8h8m-7-5h8m-7-10h8m-6 2h8m-4 7h8m-7 14h8m-5-12h8m-6-12h8m-6 16h8m-6-10h8m-7 7h8m-4-6h8m-8 9h8m-7-12h8m-8-1h8m-8 1h8m-7 16h8m-7-10h8m-8 7h8m-8-21h8m-8 6h8m-3 15h8m-7-2h8m-8 9h8m-8-15h8m-5-9h8m-7 19h8m-3 4h8m-7-9h8m-7-4h8m-7 12h8m-8-5h8m-5-14h8m-6 6h8m-7 13h8m-6-8h8m-2-17h8m-5 18h8m-8 2h8m-7-9h8m-8 6h8m-7-15h8m-6-1h8m-7 13h8m-6 3h8m-3 0h8m-8 3h8m-8 4h8m-2-12h8m-7 14h8m-5-3h8m-7-17h8m-5 14h8m-6 4h8m-5 1h8m-4-1h8m-8-23h8m-7 21h8m-5 4h8m-3-1h8m-8-18h8m-6 19h8m-6 1h8m-7-17h8m-1-8h8m-7 19h8m-5-17h8m3 19h8m8-11h8m-8-5h8m-3 14h8m-6-6h8m-2 8h8m-8 4h8m-1-8h8m-8-4h8m7 9h8m-7-16h8m-6 12h8m-4 1h8m0 6h8m-1-15h8m9 13h8m27-19h8m-2 1h8m83 11h8m-128 38h8m-12-16h8m-9 16h8m-15-1h8m-14-22h8m-15 4h8m-12 16h8m-23 4h8m-13-19h8m-10 8h8m-9-8h8m-8 17h8m-10 2h8m-15-18h8m-14 13h8m-12 1h8m-11-12h8m-13-3h8m-11 4h8m-10 14h8m-9-6h8m-8 3h8m-11-19h8m-13 8h8m-14-14h8m-10 27h8m-8-10h8m-9 10h8m-13-6h8m-8 0h8m-11 5h8m-10-6h8m-13 6h8m-12-3h8m-8-9h8m-11-11h8m-10 22h8m-9-10h8m-10 7h8m-9-15h8m-10 12h8m-10 5h8m-8-6h8m-13 4h8m-8-21h8m-8 25h8m-9-10h8m-10 12h8m-9-2h8m-8-3h8m-8-6h8m-10-5h8m-9-3h8m-13 11h8m-9 4h8m-13-23h8m-8 22h8m-10 3h8m-8-11h8m-9-12h8m-8 8h8m-9-3h8m-8-4h8m-8 0h8m-9 17h8m-9 0h8m-8-4h8m-8 9h8m-11-16h8m-8 16h8m-11-6h8m-9 2h8m-9 1h8m-9-24h8m-9 29h8m-8-27h8m-9 8h8m-9 10h8m-12-8h8m-10-12h8m-8 13h8m-9 14h8m-9-15h8m-9 5h8m-9-7h8m-9 15h8m-9-19h8m-9 4h8m-10-4h8m-8 19h8m-10-5h8m-8 9h8m-9-13h8m-8 7h8m-10-16h8m-9 12h8m-10-10h8m-8 16h8m-9 1h8m-8 1h8m-8 2h8m-10-13h8m-8-11h8m-8 18h8m-8 1h8m-9-7h8m-9 9h8m-8 0h8m-9 2h8m-13-6h8m-8-14h8m-10 5h8m-9-12h8m-8 4h8m-9-4h8m-8 7h8m-8-2h8m-9 23h8m-8 0h8m-8-28h8m-9 26h8m-9-17h8m-9 10h8m-8-10h8m-9-3h8m-10 0h8m-8 16h8m-8 3h8m-9-4h8m-8-10h8m-8 9h8m-9 6h8m-9-25h8m-10 15h8m-8-9h8m-8 19h8m-8-24h8m-8-2h8m-8 19h8m-9-7h8m-8-9h8m-8 15h8m-9-4h8m-10-9h8m-8 14h8m-9 7h8m-8-5h8m-9-9h8m-9 5h8m-9-10h8m-8 7h8m-8 14h8m-9 0h8m-8 0h8m-11-18h8m-9-5h8m-8 8h8m-8 16h8m-8-21h8m-8 10h8m-9-19h8m-8 9h8m-8 3h8m-8-1h8m-9 12h8m-9 1h8m-8-6h8m-9 6h8m-8-5h8m-8-9h8m-8-6h8m-8 5h8m-9 19h8m-8-11h8m-10-4h8m-9 11h8m-8-21h8m-8 17h8m-8-3h8m-8-13h8m-9 10h8m-8 4h8m-9 5h8m-8-7h8m-8-7h8m-8 7h8m-9 1h8m-10-3h8m-9 7h8m-8-2h8m-10-10h8m-8 17h8m-9 3h8m-9-18h8m-8 2h8m-9 7h8m-8-18h8m-8 1h8m-8 22h8m-9-6h8m-9-8h8m-9 17h8m-9-13h8m-9-4h8m-9 2h8m-8-12h8m-8 27h8m-9 1h8m-8-23h8m-8 18h8m-8 6h8m-9-20h8m-10 14h8m-8-18h8m-9 16h8m-8-20h8m-8 13h8m-9 8h8m-8-14h8m-8 14h8m-9-14h8m-8 13h8m-8-2h8m-9-14h8m-8 22h8m-8-1h8m-8-25h8m-10-2h8m-8 26h8m-8-1h8m-9-4h8m-8 5h8m-9-22h8m-9 10h8m-9 0h8m-9 3h8m-8 2h8m-8 3h8m-9-21h8m-8 28h8m-8-26h8m-11 26h8m-8-2h8m-9-23h8m-8 22h8m-8-11h8m-9 11h8m-8-3h8m-8-14h8m-9 10h8m-8-5h8m-9 14h8m-8-2h8m-8-25h8m-9 26h8m-10 0h8m-9-14h8m-8-10h8m-9 22h8m-9-6h8m-8-13h8m-10 13h8m-9-2h8m-8 11h8m-9-16h8m-9 4h8m-8-11h8m-9-1h8m-8 5h8m-9 12h8m-10-2h8m-8 5h8m-9-13h8m-9 2h8m-8-8h8m-9 8h8m-9 13h8m-11-13h8m-10 7h8m-8-17h8m-9 4h8m-8 16h8m-9-10h8m-8 8h8m-8 4h8m-8-6h8m-9 2h8m-8-14h8m-10 12h8m-8 0h8m-8 11h8m-9-22h8m-9 18h8m-9-19h8m-9 18h8m-9 3h8m-9-2h8m-9-26h8m-12 30h8m-8-2h8m-10 1h8m-8-27h8m-8 14h8m-10 3h8m-8 0h8m-8-11h8m-9-3h8m-8 13h8m-9-4h8m-9-13h8m-9 15h8m-11 2h8m-9 3h8m-8-2h8m-13-7h8m-9-4h8m-9 1h8m-17 18h8m-10-9h8m-9-6h8m-11 14h8m-12-10h8m-10-3h8m-9-4h8m-12 5h8m-19 14h8m-9 1h8m-9-20h8m-12-2h8m-10-2h8m-13 3h8m-13-7h8m-21 10h8m-18-11h8m-13 4h8m-12 6h8m-23 14h8m-14-3h8m-26-4h8m-37 21h8m2 18h8m11-3h8m12 0h8m1-15h8m2 2h8m-4-6h8m1 17h8m-8-2h8m12 2h8m-5 6h8m2-11h8m-6 13h8m-4-18h8m-8-3h8m-8 5h8m-3-5h8m-8-4h8m-5 2h8m-6-5h8m-8 12h8m-6 16h8m-5-20h8m-7 0h8m-6 11h8m-7-4h8m-3-5h8m-7 6h8m-6-1h8m-8 9h8m-8-19h8m-7 13h8m-7 5h8m-7-22h8m-8 22h8m-7-13h8m-8-3h8m-7-2h8m-8 23h8m-7-10h8m-6 8h8m-7-6h8m-7 7h8m-7-3h8m-6 1h8m-7 4h8m-7-6h8m-8-15h8m-8 3h8m-7 8h8m-7-3h8m-8-5h8m-8-7h8m-8-5h8m-2 24h8m-8-11h8m-8 9h8m-8-18h8m-8 17h8m-6-1h8m-6-9h8m-6 11h8m-8-9h8m-8 6h8m-7 6h8m-8-9h8m-6-10h8m-8 7h8m-7 6h8m-7 0h8m-8-7h8m-7-4h8m-7 11h8m-7 5h8m-8-8h8m-8 10h8m-8-17h8m-8 4h8m-7 16h8m-8-14h8m-7 5h8m-7 5h8m-8 5h8m-8-19h8m-8 4h8m-7 0h8m-8 7h8m-7-19h8m-8 10h8m-8 5h8m-8-3h8m-8-7h8m-8 5h8m-7-5h8m-7-8h8m-8 11h8m-7 10h8m-8-21h8m-7 26h8m-7 1h8m-8-8h8m-7-9h8m-8 12h8m-7-2h8m-7-5h8m-8-10h8m-7 8h8m-8 10h8m-7-6h8m-8-15h8m-6 18h8m-7 1h8m-6-12h8m-8 18h8m-8-5h8m-5-2h8m-6-19h8m-7 21h8m-8-20h8m-8 14h8m-7-13h8m-7-3h8m-7 8h8m-8 10h8m-7-1h8m-7-7h8m-7-3h8m-8 13h8m-8 1h8m-6 0h8m-8-6h8m-8 6h8m-8-20h8m-7 15h8m-8-1h8m-8 1h8m-8-6h8m-7-6h8m-8-2h8m-8 5h8m-7 17h8m-8-21h8m-8 17h8m-7 7h8m-8-11h8m-7-5h8m-8 18h8m-8-2h8m-8-15h8m-8 13h8m-8-15h8m-7 6h8m-8-6h8m-8 2h8m-8-11h8m-7 10h8m-8-5h8m-8 16h8m-7 1h8m-7-11h8m-7 3h8m-8 4h8m-8 9h8m-8-28h8m-8 30h8m-7-25h8m-8 0h8m-8 16h8m-8-16h8m-7 1h8m-8 10h8m-8-8h8m-7 14h8m-7-4h8m-8 0h8m-8-5h8m-7-10h8m-8 21h8m-8 0h8m-7 0h8m-8-11h8m-7 0h8m-7-13h8m-8 22h8m-8-17h8m-6 19h8m-8 1h8m-8-14h8m-7-1h8m-8 10h8m-8 5h8m-8-7h8m-8 0h8m-7 9h8m-7-23h8m-8 2h8m-8 2h8m-7 13h8m-8-15h8m-8 1h8m-8 1h8m-7 20h8m-8-11h8m-8 5h8m-7-11h8m-8 1h8m-8-10h8m-7 1h8m-8 9h8m-8 12h8m-8-8h8m-8-14h8m-7 17h8m-8 1h8m-8 10h8m-7-3h8m-8-12h8m-7 9h8m-8 1h8m-8 0h8m-7-3h8m-8 2h8m-8-18h8m-8 16h8m-7-13h8m-8 6h8m-8-7h8m-8 9h8m-7 9h8m-7-7h8m-8-16h8m-8 26h8m-7-4h8m-8-22h8m-7 8h8m-8-3h8m-7 18h8m-8 2h8m-8-11h8m-8-3h8m-8 0h8m-7 15h8m-8-17h8m-8 2h8m-7 12h8m-8 3h8m-8-14h8m-7 7h8m-8-19h8m-7 14h8m-8-15h8m-7 12h8m-7 3h8m-8-13h8m-8 22h8m-8-25h8m-8 23h8m-7 5h8m-8 0h8m-7-6h8m-8 5h8m-8-5h8m-7 2h8m-7 5h8m-8-8h8m-8 0h8m-8-3h8m-7-2h8m-8-2h8m-8 10h8m-8-13h8m-8 17h8m-7-7h8m-7-21h8m-8 23h8m-8-21h8m-7-1h8m-8-1h8m-8 29h8m-7-9h8m-8 4h8m-8-1h8m-7 5h8m-8-9h8m-7-16h8m-8 5h8m-8-7h8m-7 6h8m-8 14h8m-8-12h8m-8 6h8m-7 0h8m-8 11h8m-8-20h8m-7-2h8m-7 8h8m-8 16h8m-8-20h8m-8 10h8m-7-1h8m-8 11h8m-8-16h8m-8-7h8m-8 18h8m-7 3h8m-7-19h8m-8 3h8m-8 6h8m-7 3h8m-8-9h8m-7-9h8m-7 5h8m-8 8h8m-7-8h8m-8-3h8m-8 4h8m-7 6h8m-8-11h8m-8 25h8m-8-21h8m-7 15h8m-8-19h8m-7 15h8m-8-4h8m-8 7h8m-7 4h8m-7-6h8m-8-1h8m-7-11h8m-8-5h8m-8 20h8m-7-7h8m-7 3h8m-8 12h8m-7-2h8m-7-10h8m-8 10h8m-6-10h8m-8-8h8m-8 4h8m-7 5h8m-8 10h8m-8-25h8m-7 15h8m-8-5h8m-8-13h8m-8 9h8m-8 14h8m-7 1h8m-8-6h8m-8 5h8m-8 5h8m-7-14h8m-7-14h8m-8 2h8m-8 22h8m-7-21h8m-7 17h8m-8 2h8m-7-2h8m-7-1h8m-8 2h8m-7 3h8m-8 1h8m-7-24h8m-8 27h8m-7-22h8m-6 22h8m-8-16h8m-7 0h8m-8 1h8m-8-10h8m-7 6h8m-8 4h8m-7-1h8m-8 1h8m-8-12h8m-8 14h8m-8 3h8m-7 9h8m-8-18h8m-8-6h8m-7 6h8m-7 15h8m-8-24h8m-8 17h8m-6-7h8m-8-3h8m-7 0h8m-8 15h8m-7-15h8m-7 6h8m-8 0h8m-8 11h8m-7-23h8m-8 19h8m-7-19h8m-7 24h8m-8-3h8m-7 4h8m-7-14h8m-8 14h8m-8-20h8m-7 8h8m-8-15h8m-8 29h8m-8-8h8m-7-5h8m-8 8h8m-6-15h8m-7 15h8m-7-8h8m-8 2h8m-8-8h8m-8 18h8m-8-28h8m-8 7h8m-7 21h8m-7-14h8m-4 7h8m-5-8h8m-6 1h8m-7-3h8m-6 12h8m-7-15h8m-8 8h8m-7 0h8m-7-14h8m-8 26h8m-7-3h8m-8-23h8m-4 28h8m-8-8h8m-6-3h8m-8 10h8m-8-20h8m-4 2h8m-6 16h8m-6-7h8m-8-12h8m-8-7h8m-8 13h8m-6 15h8m-7 0h8m-6-14h8m-3 10h8m-7 4h8m-8-11h8m-7 7h8m-7-2h8m-7-20h8m-7-2h8m-3 10h8m-6-11h8m-8 9h8m-6 14h8m-8-11h8m-7-8h8m-8 11h8m-4 14h8m-7-23h8m-7 10h8m-7 13h8m-8-3h8m-8-6h8m-5-3h8m-3-1h8m-2-4h8m-6 15h8m-8-21h8m-3 21h8m-3-3h8m-5-6h8m-2-2h8m8 11h8m6-13h8m-7-3h8m1 18h8m-5-1h8m-6-5h8m-1-7h8m-5-5h8m-5 5h8m4 7h8m0-11h8m-7-3h8m-5 5h8m69 18h8m-27 16h8m-17-18h8m-31 0h8m-24 22h8m-34-2h8m-10 8h8m-21-8h8m-26 6h8m-11-15h8m-11-5h8m-16 23h8m-11 0h8m-8-24h8m-10 0h8m-8 0h8m-11 9h8m-9 15h8m-10-5h8m-16-13h8m-9 3h8m-9 13h8m-9-12h8m-9 3h8m-8-7h8m-9 3h8m-12-5h8m-8-2h8m-11-3h8m-8 2h8m-9 1h8m-10 22h8m-8-21h8m-10 12h8m-14-4h8m-18 4h8m-8 1h8m-9 5h8m-11-19h8m-10 11h8m-11 3h8m-10 0h8m-8-11h8m-9-3h8m-8 9h8m-15-11h8m-10-5h8m-12 3h8m-10 2h8m-8-1h8m-9 16h8m-8-13h8m-10 3h8m-10 15h8m-9-13h8m-8-6h8m-8 12h8m-11 12h8m-8-29h8m-8 14h8m-9 7h8m-8-8h8m-9-11h8m-9 15h8m-9-1h8m-8-11h8m-11 22h8m-9-11h8m-9-15h8m-9 9h8m-8 18h8m-9-22h8m-9-1h8m-8 5h8m-11 18h8m-10-21h8m-9 18h8m-10-5h8m-8 0h8m-9-13h8m-9 21h8m-8-26h8m-10 12h8m-8-5h8m-8 2h8m-8-12h8m-9 0h8m-8 20h8m-10 5h8m-8-11h8m-10 11h8m-9-12h8m-8-13h8m-10 8h8m-9-1h8m-8 0h8m-9 17h8m-9 3h8m-10-22h8m-9 6h8m-9-3h8m-8 2h8m-9 5h8m-9 2h8m-10 4h8m-8 2h8m-9 0h8m-8-11h8m-9-9h8m-8 4h8m-9 12h8m-9-10h8m-10-1h8m-8 2h8m-8 9h8m-8 9h8m-9 0h8m-8-15h8m-8-7h8m-9 6h8m-8-6h8m-10 18h8m-9 0h8m-8-16h8m-9 20h8m-8-7h8m-8 8h8m-9-1h8m-8-23h8m-9-2h8m-9 21h8m-8-19h8m-8 1h8m-10 12h8m-8-3h8m-10 3h8m-10-13h8m-9 5h8m-9-2h8m-9 5h8m-8 12h8m-8-11h8m-8 14h8m-9-22h8m-9 24h8m-9-5h8m-9-20h8m-8 9h8m-8 1h8m-8-2h8m-9 8h8m-8-18h8m-9 4h8m-8-1h8m-8 7h8m-10 0h8m-8 12h8m-9-24h8m-8 16h8m-9-13h8m-8 17h8m-8-9h8m-8 10h8m-8 2h8m-9-4h8m-9-3h8m-9-11h8m-8-3h8m-9 26h8m-8-4h8m-8 0h8m-8-18h8m-12 23h8m-8-30h8m-9 4h8m-8 12h8m-8 13h8m-8-21h8m-8-3h8m-9 24h8m-8-26h8m-8 23h8m-8-1h8m-9-9h8m-8-7h8m-8 14h8m-9-17h8m-8 10h8m-9 11h8m-8-2h8m-8-11h8m-9-1h8m-9 15h8m-8-11h8m-10-12h8m-8-1h8m-8 23h8m-8-22h8m-8 23h8m-8-11h8m-9-15h8m-8 8h8m-9 18h8m-8-25h8m-8 25h8m-9 2h8m-8-20h8m-8 6h8m-8-14h8m-8 0h8m-9 12h8m-8 8h8m-9-5h8m-9 1h8m-8-17h8m-9 6h8m-8-4h8m-8 2h8m-8-4h8m-9 16h8m-9-16h8m-9 13h8m-8-1h8m-8-1h8m-9-5h8m-8 2h8m-9 15h8m-8 4h8m-8-3h8m-8-15h8m-9 16h8m-8 3h8m-8-14h8m-9-2h8m-8 12h8m-9-18h8m-8 16h8m-9-7h8m-10-16h8m-9 29h8m-8-4h8m-8-3h8m-8-17h8m-8 13h8m-9 5h8m-9-13h8m-9-7h8m-8 11h8m-8-9h8m-8 2h8m-8 14h8m-8 8h8m-9-7h8m-9-14h8m-8 4h8m-9 1h8m-9-9h8m-9 13h8m-10-5h8m-9-3h8m-8 3h8m-8 14h8m-8-25h8m-9 14h8m-8-5h8m-8 6h8m-9-2h8m-8 7h8m-9-7h8m-8 14h8m-8-26h8m-8 18h8m-8-20h8m-9 19h8m-9 2h8m-9-18h8m-8 24h8m-8-25h8m-9 14h8m-8-5h8m-8 1h8m-9 3h8m-8 11h8m-8 4h8m-9-21h8m-8 11h8m-9 4h8m-8-8h8m-8-11h8m-9 15h8m-8-16h8m-9 0h8m-8-3h8m-8 3h8m-8 8h8m-9 1h8m-8 8h8m-9 3h8m-8-12h8m-8 7h8m-10-11h8m-8 15h8m-8-9h8m-8 5h8m-8-14h8m-8-3h8m-9 19h8m-8-12h8m-9 7h8m-9-1h8m-9-6h8m-9 1h8m-8 10h8m-8-2h8m-8-18h8m-8 26h8m-8-19h8m-9 7h8m-8-7h8m-10 8h8m-8 0h8m-8 2h8m-8 13h8m-8-14h8m-9-14h8m-8 0h8m-10 2h8m-8 19h8m-8-10h8m-9-11h8m-8 8h8m-8 5h8m-9-9h8m-9-2h8m-9 24h8m-8-3h8m-8-7h8m-9 0h8m-8-13h8m-9 1h8m-8 11h8m-8 3h8m-9 7h8m-8-16h8m-10-4h8m-8 15h8m-9-8h8m-8 5h8m-9 7h8m-9-1h8m-9-18h8m-8 18h8m-8-15h8m-9-2h8m-8-4h8m-11-3h8m-9 20h8m-9-21h8m-11 0h8m-9 4h8m-8-1h8m-9-2h8m-10 9h8m-8-2h8m-11 13h8m-8-17h8m-8 0h8m-8 19h8m-8 3h8m-9-19h8m-9-5h8m-10 9h8m-8 6h8m-9 0h8m-8-10h8m-9 17h8m-8-16h8m-10 5h8m-9-8h8m-9 20h8m-9-6h8m-10-14h8m-8 23h8m-8-22h8m-8 20h8m-9-6h8m-9-5h8m-8-6h8m-8 15h8m-9 1h8m-9 1h8m-9-22h8m-9 6h8m-9-5h8m-8 22h8m-9-21h8m-10-1h8m-8 15h8m-9-8h8m-8 17h8m-9 0h8m-8-16h8m-8 7h8m-9-6h8m-8-9h8m-9 24h8m-9-9h8m-9 2h8m-9-17h8m-9 18h8m-10 5h8m-9-8h8m-8-10h8m-9-9h8m-8 1h8m-8 16h8m-10-17h8m-13 26h8m-9-2h8m-9 1h8m-8-12h8m-11 2h8m-11-7h8m-8-1h8m-9 22h8m-8-1h8m-9-19h8m-11 7h8m-12 12h8m-13-24h8m-11 17h8m-13-4h8m-8 2h8m-9-13h8m-12 17h8m-12-21h8m-21 20h8m-13 5h8m-10-22h8m-9 3h8m-17 1h8m-36 10h8m-2 36h8m-6-9h8m8-14h8m4 9h8m-5 2h8m-7 9h8m1 4h8m0-22h8m-7-4h8m-6 25h8m-3-2h8m-3-4h8m-2-20h8m-6 22h8m-8-10h8m-5-12h8m-8 23h8m3-6h8m-6-16h8m-6 16h8m-5 11h8m-5-12h8m-5 1h8m-6-15h8m-8 6h8m-7 13h8m-8-2h8m-7-12h8m-8-5h8m-4-2h8m-8 29h8m-7-5h8m-7-3h8m-6-8h8m-8-13h8m-8 1h8m-7 22h8m-6 6h8m-8-26h8m-7 4h8m-5 0h8m-8 18h8m-8-22h8m-8 1h8m-5 21h8m-8-14h8m-7-5h8m-8 21h8m-8-12h8m-7-14h8m-8 2h8m-4 5h8m-8 11h8m-4-10h8m-7 19h8m-8-26h8m-7 14h8m-6-7h8m-8 10h8m-7-18h8m-8 25h8m-7 3h8m-7-27h8m-8-1h8m-8 7h8m-7 12h8m-8 9h8m-6-23h8m-7 21h8m-7-16h8m-8 4h8m-8 2h8m-7 11h8m-7-13h8m-7 9h8m-7-21h8m-6-2h8m-6 3h8m-8-1h8m-8 18h8m-7 4h8m-8-18h8m-6-1h8m-8 7h8m-8-1h8m-7 6h8m-7-9h8m-8 10h8m-8-17h8m-8 19h8m-7 5h8m-3-18h8m-8-7h8m-6 25h8m-8-22h8m-8 15h8m-7-9h8m-8 16h8m-8-7h8m-7-10h8m-7 9h8m-8-9h8m-8-5h8m-6 21h8m-8-17h8m-8-5h8m-4-1h8m-5 8h8m-8 6h8m-7-11h8m-7 13h8m-8-11h8m-8-1h8m-7 8h8m-8 4h8m-8 11h8m-8-21h8m-7 9h8m-7 0h8m-6 11h8m-7-5h8m-8-23h8m-7 12h8m-7 13h8m-7-9h8m-7-4h8m-7 16h8m-7-17h8m-7-1h8m-8 15h8m-7-16h8m-7-1h8m-8 0h8m-6 4h8m-8 15h8m-8-1h8m-7-26h8m-8 1h8m-7 16h8m-7-4h8m-8-10h8m-7 7h8m-7 14h8m-7-14h8m-7-5h8m-7-4h8m-6 10h8m-8 7h8m-7-9h8m-8-5h8m-7 4h8m-7 3h8m-7 11h8m-6-9h8m-7-6h8m-7 6h8m-6 4h8m-8-4h8m-7-3h8m-6-8h8m-8 26h8m-8 0h8m-8-5h8m-6 1h8m-8 1h8m-7 1h8m-7 0h8m-7-5h8m-8-10h8m-8-2h8m-8 14h8m-7-22h8m-6 21h8m-8 0h8m-8 6h8m-6-13h8m-8 5h8m-8 8h8m-8-8h8m-7-2h8m-5 3h8m-6-15h8m-8 11h8m-7-3h8m-6 13h8m-8-22h8m-8-4h8m-7 2h8m-8 7h8m-8 4h8m-7 2h8m-8 10h8m-8-10h8m-7-11h8m-8 24h8m-8-26h8m-7 1h8m-8 22h8m-8-24h8m-7-2h8m-7 14h8m-7-5h8m-7 2h8m-8-11h8m-6 8h8m-6 10h8m-7-16h8m-7 7h8m-6 8h8m-8-12h8m-8 1h8m-8 16h8m-8-16h8m-6 10h8m-7-5h8m-8-6h8m-7 6h8m-6 8h8m-8-6h8m-8 17h8m-7-5h8m-7-7h8m-8-11h8m-8 14h8m-6-14h8m-5 4h8m-7 7h8m-7-3h8m-7-6h8m-7 16h8m-8-12h8m-7 0h8m-8 1h8m-7-10h8m-8-2h8m-7 8h8m-7-1h8m-6 6h8m-8 11h8m-8-8h8m-8-12h8m-5 18h8m-8-2h8m-8-3h8m-6-15h8m-5-3h8m-4 16h8m-8-1h8m-7-8h8m-7 19h8m-1-19h8m-8-5h8m-7 24h8m-7-20h8m-4 13h8m-8-9h8m-7 10h8m-6-1h8m-5 0h8m-8-10h8m-7 4h8m-8-8h8m-6-6h8m-7 18h8m-7-8h8m-7 8h8m-6-4h8m-5 7h8m-7 5h8m-4-2h8m-5-14h8m-6 7h8m-2 2h8m-7-4h8m-7 5h8m-6 9h8m-6-27h8m1 17h8m-6 0h8m-6-6h8m-4 10h8m-1-21h8m-6 13h8m-6-9h8m-8 19h8m-6-14h8m-7 18h8m-6-7h8m-6-10h8m-5 4h8m-7-14h8m-4 19h8m-3-19h8m-7 18h8m-3-16h8m-3 3h8m-5 20h8m-5-6h8m-3-21h8m-5 0h8m-6 22h8m-1-4h8m-2-10h8m-3 13h8m-8-8h8m-5 0h8m-4 11h8m-7-22h8m3 9h8m4-3h8m-8 13h8m1-5h8m-4-6h8m14 14h8m-5 2h8m10-17h8m-8-8h8m-1 5h8m-2 15h8m38 20h8m-107-8h8m-22 13h8m-9-9h8m-11 11h8m-24 4h8m-10-11h8m-22 5h8m-19-2h8m-13-12h8m-21 9h8m-16 15h8m-11-21h8m-21 6h8m-14 3h8m-11 12h8m-9-21h8m-11 16h8m-13-16h8m-12 11h8m-13-15h8m-8 3h8m-10 12h8m-13 11h8m-10-19h8m-11 10h8m-14-10h8m-12-4h8m-11 12h8m-9-6h8m-9-5h8m-13 11h8m-13 7h8m-9 1h8m-11-18h8m-16-5h8m-10 27h8m-8-23h8m-10-3h8m-14 23h8m-9-14h8m-9-1h8m-16-8h8m-10 5h8m-9 14h8m-8-18h8m-9 1h8m-10-2h8m-10 14h8m-9 2h8m-8 2h8m-9 5h8m-9-5h8m-10-17h8m-11 10h8m-10-1h8m-9-1h8m-9 1h8m-10-8h8m-8 26h8m-11-7h8m-13-20h8m-10-3h8m-9 2h8m-8 8h8m-10-6h8m-8 25h8m-8-17h8m-8 17h8m-9-29h8m-9 24h8m-13 6h8m-8-5h8m-9-18h8m-8 5h8m-10-4h8m-8 17h8m-9-15h8m-10 13h8m-9-7h8m-10-2h8m-9 0h8m-10 11h8m-9-17h8m-8 19h8m-8-17h8m-9-3h8m-13 1h8m-8 10h8m-8-3h8m-12 12h8m-10-5h8m-9 5h8m-9 3h8m-8-24h8m-9 9h8m-12-9h8m-10-3h8m-9 0h8m-8 5h8m-11 0h8m-9 13h8m-9-12h8m-8 19h8m-11-25h8m-10 4h8m-10 7h8m-10-8h8m-8 2h8m-9-8h8m-8 16h8m-9 3h8m-8 4h8m-9-18h8m-8 10h8m-9-8h8m-8 20h8m-10-25h8m-10 17h8m-9 8h8m-8-5h8m-11-3h8m-9-1h8m-8-12h8m-9 10h8m-8-14h8m-8 14h8m-9 8h8m-9-11h8m-9-5h8m-13 20h8m-9-25h8m-9 9h8m-9-2h8m-9-5h8m-11 18h8m-9-18h8m-10 1h8m-9 7h8m-8 12h8m-9 1h8m-9-8h8m-8-15h8m-9 12h8m-13 0h8m-12 1h8m-8-2h8m-9 7h8m-11-7h8m-14-6h8m-11-2h8m-9-3h8m-14 14h8m-10 6h8m-8-10h8m-11 16h8m-12-1h8m-11-15h8m-13 11h8m-8-17h8m-13 15h8m-9-6h8m-14-6h8m-11 6h8m-8 10h8m-12-7h8m-11-14h8m-11 0h8m-10 13h8m-15-9h8m-8-1h8m-8 1h8m-10 4h8m-13 9h8m-9 2h8m-11-10h8m-10 2h8m-12-5h8m-8 6h8m-13 12h8m-15-6h8m-18-6h8m-64-17h8m-17 20h8m-24 0h8m18 18h8m-2-2h8m1 2h8m1 19h8m-5-15h8m-4-10h8m1 19h8m-7 5h8m-1-2h8m-5-6h8m-1-14h8m0-1h8m-3 24h8m7-11h8m-8 4h8m-1-16h8m-5 16h8m-5-12h8m-2-1h8m0-3h8m-5 8h8m-7 7h8m-8-12h8m-6 13h8m-7-10h8m1 11h8m-6 2h8m0-17h8m2 14h8m-8-18h8m-7 3h8m-8 20h8m-5-24h8m-7 11h8m-3 15h8m-7-19h8m-7 19h8m-6-21h8m-7 0h8m-5 15h8m-5-16h8m3 23h8m-3-19h8m-5-8h8m-7 24h8m-7-18h8m-7 16h8m1-8h8m-7-10h8m-8 6h8m-8 14h8m-5-11h8m-8-6h8m-8 18h8m-3-7h8m-3-11h8m-2-6h8m-5 5h8m1 14h8m-7-16h8m-6 2h8m-7-2h8m-7 18h8m-8 5h8m-4-20h8m-6-8h8m-8 5h8m-8 19h8m-7-4h8m-8-19h8m-6 29h8m-8-27h8m-7 7h8m-2 5h8m-7-6h8m-8-9h8m0 3h8m-6 16h8m-6-15h8m-8 19h8m-7 6h8m-6-5h8m-8-15h8m-7-3h8m-8 1h8m-8 5h8m-8 8h8m-6-5h8m-5-11h8m-6 0h8m-5 12h8m-5-10h8m-7-4h8m-4 20h8m-5-8h8m-7 9h8m-7 0h8m-6-11h8m-7-10h8m-1 17h8m-4 0h8m-7-16h8m-8 11h8m-4-4h8m-4 1h8m-8-4h8m-1-5h8m-3 7h8m-1 4h8m-7-7h8m-8 10h8m-7-16h8m-2 6h8m-7-2h8m-6 6h8m-6-4h8m-8 12h8m-4-6h8m-8 6h8m-8 8h8m-7-6h8m-2 6h8m-6-23h8m-5 18h8m-8 3h8m-2 0h8m-2 1h8m-2-20h8m-6-4h8m1 9h8m5 7h8m-6-11h8m0 15h8m-3-8h8m-5-8h8m-7 2h8m-3 7h8m0 11h8m3-23h8m36 8h8m-3 18h8m5-8h8m9-3h8m-4-5h8m-23 29h8m-45-3h8m-10 9h8m-42-6h8m-14 15h8m-12-25h8m-11 9h8m-15 17h8m-30-6h8m-20-2h8m-17-7h8m-22-4h8m-12 10h8m-13-7h8m-13 9h8m-12 9h8m-13-14h8m-13 12h8m-8-26h8m-10 5h8m-14 7h8m-8 16h8m-8-16h8m-14 11h8m-10-12h8m-14-8h8m-13 24h8m-14-1h8m-11 1h8m-9-15h8m-14 11h8m-15 2h8m-10-10h8m-10-9h8m-14-4h8m-8-1h8m-9 7h8m-9 4h8m-12-9h8m-20 6h8m-12 16h8m-9-10h8m-9 3h8m-13-3h8m-10-4h8m-9-1h8m-12 9h8m-19-1h8m-11-1h8m-9 0h8m-15-12h8m-14 17h8m-9-19h8m-11 12h8m-17-10h8m-11 22h8m-9-1h8m-12-15h8m-11 10h8m-10-10h8m-13 10h8m-9-19h8m-12 19h8m-11-3h8m-12-2h8m-12 2h8m-13-18h8m-18 14h8m-16-13h8m-12 5h8m-20 16h8m-8-10h8m-13 7h8m-9-18h8m-9 22h8m-8-13h8m-13 19h8m-11-2h8m-12-24h8m-15 15h8m-21-1h8m-10-16h8m-16 0h8m-8 11h8m-28-11h8m-31 22h8m-8-9h8m-13-13h8m-18 12h8m-29-10h8m-12 6h8m-50 14h8m26 22h8m-2-5h8m63-5h8m-7-2h8m2 21h8m-8 0h8m8-10h8m-3 12h8m11 1h8m-5-24h8m-3 19h8m8-16h8m-4 6h8m-4 14h8m-2-17h8m-3 13h8m-6-12h8m-5-6h8m1 4h8m-5 5h8m-4-6h8m-7-5h8m-8 10h8m-1-12h8m-6 2h8m-6 7h8m-5 7h8m-6-8h8m4-8h8m2 3h8m5 10h8m-5 4h8m2-1h8m0-16h8m-2 2h8m-5 14h8m-6-16h8m-7 13h8m-6 3h8m-5-14h8m-4 19h8m-8 3h8m-7 0h8m-7-8h8m-8-6h8m-8 10h8m6 7h8m-5-27h8m-5 21h8m4-21h8m-6 6h8m-7 16h8m-6-20h8m3 2h8m-6 9h8m-7 3h8m-3 3h8m-7-3h8m-7 0h8m-4-11h8m-8-4h8m-6 7h8m-7 18h8m5-24h8m-4 17h8m-3 5h8m-8-13h8m-5 5h8m-1-13h8m1-2h8m4-1h8m9 12h8m4 5h8m-3-4h8m18 15h8m8-14h8m8-6h8m-6-7h8m14 23h8m23-23h8m-121 35h8m-25 10h8m-17 3h8m-19-18h8m-18 26h8m-9-13h8m-9 0h8m-17 5h8m-10-17h8m-13 3h8m-17 22h8m-38-2h8m-8-11h8m-9 14h8m-11-22h8m-8-1h8m-13-4h8m-11 17h8m-10-18h8m-13 20h8m-17-7h8m-29-6h8m-14-2h8m-19 19h8m-10-14h8m-13 3h8m-16 14h8m-8-27h8m-11 28h8m-16-20h8m-21 14h8m-11-9h8m-13 11h8m-10 4h8m-13 1h8m-10-6h8m-9-19h8m-9 14h8m-9 7h8m-16-4h8m-14-21h8m-11 25h8m-9-21h8m-15 15h8m-9 9h8m-12-24h8m-10 11h8m-9-6h8m-13-4h8m-11-3h8m-12 6h8m-12 10h8m-27 3h8m-8-11h8m-15 6h8m-8-7h8m-21 15h8m-29-18h8m-11 2h8m-18 3h8m-20-5h8m-38 10h8m-15 1h8m-48 11h8m56 7h8m8-5h8m12 5h8m9 0h8m42 8h8m-6-3h8m13 3h8m6-7h8m30-4h8m16 5h8m-4-3h8m8 1h8m3 3h8m5-7h8m34 15h8m24 5h8m13-17h8" stroke="#000" stroke-width="8" stroke-opacity="0.72" fill="none"/>
<line x1="185.2" y1="587.4" x2="185.2" y2="663.3" stroke="#de7c80" stroke-width="0.65"/>
<line x1="147.4" y1="629.1" x2="225.2" y2="629.1" stroke="#de7c80" stroke-width="0.65"/>
<rect x="147.4" y="587.4" width="77.8" height="75.9" fill="none" stroke="#7d7eab" stroke-width="0.85"/>
<path d="M145.0 663.3H147.4M145.9 658.0H147.4M145.9 654.9H147.4M145.9 652.7H147.4M145.9 651.0H147.4M145.9 649.6H147.4M145.9 648.4H147.4M145.9 647.4H147.4M145.9 646.5H147.4M145.0 645.6H147.4M145.9 640.3H147.4M145.9 637.2H147.4M145.9 635.0H147.4M145.9 633.3H147.4M145.9 631.9H147.4M145.9 630.7H147.4M145.9 629.7H147.4M145.9 628.8H147.4M145.0 628.0H147.4M145.9 622.7H147.4M145.9 619.6H147.4M145.9 617.4H147.4M145.9 615.7H147.4M145.9 614.3H147.4M145.9 613.1H147.4M145.9 612.1H147.4M145.9 611.2H147.4M145.0 610.3H147.4M145.9 605.0H147.4M145.9 601.9H147.4M145.9 599.7H147.4M145.9 598.0H147.4M145.9 596.6H147.4M145.9 595.4H147.4M145.9 594.4H147.4M145.9 593.5H147.4M145.0 592.7H147.4M147.4 663.3V665.7M152.8 663.3V664.8M156.0 663.3V664.8M158.3 663.3V664.8M160.0 663.3V664.8M161.5 663.3V664.8M162.7 663.3V664.8M163.7 663.3V664.8M164.7 663.3V664.8M165.5 663.3V665.7M170.9 663.3V664.8M174.1 663.3V664.8M176.4 663.3V664.8M178.1 663.3V664.8M179.6 663.3V664.8M180.8 663.3V664.8M181.8 663.3V664.8M182.8 663.3V664.8M183.6 663.3V665.7M189.0 663.3V664.8M192.2 663.3V664.8M194.5 663.3V664.8M196.2 663.3V664.8M197.7 663.3V664.8M198.9 663.3V664.8M199.9 663.3V664.8M200.9 663.3V664.8M201.7 663.3V665.7M207.1 663.3V664.8M210.3 663.3V664.8M212.6 663.3V664.8M214.3 663.3V664.8M215.8 663.3V664.8M217.0 663.3V664.8M218.0 663.3V664.8M218.9 663.3V664.8M219.8 663.3V665.7" stroke="#6e6fae" stroke-width="0.6" fill="none"/>
<g font-size="5.4" fill="#c8434f"><text x="147.8" y="592.8">Q1-UL</text><text x="147.8" y="597.1">1.0%</text><text x="224.4" y="592.8" text-anchor="end">Q1-UR</text><text x="224.4" y="597.1" text-anchor="end">0.2%</text><text x="147.8" y="658.1">Q1-LL</text><text x="147.8" y="662.7">92.8%</text><text x="224.4" y="658.1" text-anchor="end">Q1-LR</text><text x="224.4" y="662.7" text-anchor="end">6.0%</text></g>
<text x="183.2" y="677.1" font-size="5.1" text-anchor="middle" fill="#333">Annexin V-FITC-A</text>
<text x="138.4" y="625.3" font-size="5.6" text-anchor="middle" fill="#333" transform="rotate(-90 138.4 625.3)">PI-A</text>
<text x="148.9" y="670.8" font-size="3.6" text-anchor="end" fill="#6a6aa0" transform="rotate(-30 148.9 670.8)">10</text><text x="143.8" y="664.8" font-size="3.6" text-anchor="start" fill="#6a6aa0" transform="rotate(-90 143.8 664.8)">10</text><text x="167.0" y="670.8" font-size="3.6" text-anchor="end" fill="#6a6aa0" transform="rotate(-30 167.0 670.8)">10</text><text x="143.8" y="647.1" font-size="3.6" text-anchor="start" fill="#6a6aa0" transform="rotate(-90 143.8 647.1)">10</text><text x="185.1" y="670.8" font-size="3.6" text-anchor="end" fill="#6a6aa0" transform="rotate(-30 185.1 670.8)">10</text><text x="143.8" y="629.5" font-size="3.6" text-anchor="start" fill="#6a6aa0" transform="rotate(-90 143.8 629.5)">10</text><text x="203.2" y="670.8" font-size="3.6" text-anchor="end" fill="#6a6aa0" transform="rotate(-30 203.2 670.8)">10</text><text x="143.8" y="611.8" font-size="3.6" text-anchor="start" fill="#6a6aa0" transform="rotate(-90 143.8 611.8)">10</text><text x="226.7" y="670.8" font-size="3.6" text-anchor="end" fill="#6a6aa0" transform="rotate(-30 226.7 670.8)">10</text><text x="143.8" y="588.9" font-size="3.6" text-anchor="start" fill="#6a6aa0" transform="rotate(-90 143.8 588.9)">10</text>
<path transform="scale(0.1)" d="M2794 6218h8m-12 19h8m-37-22h8m-126 30h8m84 24h8m50 1h8m4-11h8m33 9h8m20 1h8m104 12h8m-11-6h8m-25 2h8m-10-6h8m-19 9h8m-39 16h8m-16-13h8m-12 2h8m-29-2h8m-12 11h8m-9-18h8m-21 12h8m-21 7h8m-72-6h8m-13 1h8m-8-10h8m-11 11h8m-17-3h8m-13 12h8m-12-6h8m-11-3h8m-10 8h8m-9-6h8m-9 3h8m-8-15h8m-13-7h8m-12 17h8m-8 9h8m-10-6h8m-8-20h8m-11 0h8m-8 24h8m-10-19h8m-15 16h8m-9-9h8m-8 4h8m-8 2h8m-23 2h8m-11 3h8m-11-18h8m-10 10h8m-20 10h8m-10-3h8m-11-24h8m-8 5h8m-20 22h8m-13-4h8m-10-23h8m-20 23h8m-21 5h8m-10-13h8m-10 6h8m-10 4h8m-23-12h8m-18 11h8m-15-8h8m-52-7h8m-15 9h8m-23-13h8m-23 29h8m39-5h8m-5 11h8m-7 15h8m3-17h8m4 2h8m4 12h8m-2-5h8m3 4h8m-4-6h8m0 10h8m-2-5h8m-7 7h8m-7-19h8m-2 13h8m-6-8h8m-8-6h8m-7 11h8m-7-15h8m-7 18h8m-6 5h8m-6-1h8m-6-12h8m-7 14h8m-7-8h8m-6-12h8m-6 15h8m-7-4h8m-8-7h8m-8-12h8m-5 12h8m-2 12h8m-8-15h8m-6 0h8m-7 18h8m-7-13h8m-7 9h8m-7 5h8m-6-12h8m-5 5h8m-7 1h8m-7 2h8m-7-9h8m-6 0h8m-8 6h8m-7-4h8m-5 12h8m-7-17h8m-6 16h8m-7-28h8m-7 14h8m-8 2h8m-1-8h8m-6 6h8m-7 5h8m-5-13h8m-7 12h8m-7-4h8m-7 13h8m-3-17h8m-5 8h8m-7 10h8m-8-26h8m-7 24h8m-5-17h8m-8 18h8m-7 1h8m-5-24h8m-4 17h8m-5 7h8m-7-10h8m-4 0h8m-6-15h8m-7 10h8m-7 13h8m-5-8h8m-6 10h8m-8-15h8m-7-11h8m-8 2h8m-5-5h8m-7 13h8m-7 12h8m-8-10h8m-6 6h8m-8 7h8m-6-11h8m-7 7h8m-3-15h8m-7 16h8m-5-13h8m-6-8h8m-4 17h8m-1-3h8m-5 0h8m-8 2h8m-7 8h8m-5-14h8m-3 12h8m-7-7h8m-4-1h8m-7 6h8m-6-18h8m-4 1h8m-5 10h8m-7 10h8m-8-1h8m-6-20h8m-7 23h8m-8-3h8m-7-16h8m-1 10h8m-7 7h8m-7-24h8m3 8h8m0 10h8m-4-15h8m1 24h8m-5-19h8m0-11h8m-2 27h8m0-7h8m-7-3h8m-8-13h8m19 9h8m16-13h8m-2 8h8m4 7h8m-6-6h8m99 26h8m-81-4h8m-13 18h8m-19 10h8m-21-10h8m-23-2h8m-11-3h8m-18 7h8m-17-19h8m-8 20h8m-20 1h8m-10-9h8m-12 10h8m-15-1h8m-9-11h8m-10 10h8m-8 4h8m-9-9h8m-13 7h8m-15-19h8m-12 15h8m-11-10h8m-12 11h8m-17-11h8m-9 9h8m-10-13h8m-9-3h8m-11 4h8m-9-5h8m-8 12h8m-9 9h8m-10-9h8m-14-14h8m-9 18h8m-10 6h8m-9-19h8m-10 20h8m-11-1h8m-12 3h8m-10-14h8m-9 14h8m-10-7h8m-9 0h8m-11-10h8m-11 10h8m-9-10h8m-9 17h8m-8-7h8m-11-9h8m-10 8h8m-9 3h8m-8-13h8m-9-6h8m-9 26h8m-8-22h8m-9 20h8m-9-27h8m-10 3h8m-9 24h8m-8-4h8m-8 5h8m-8-6h8m-8 2h8m-10-16h8m-10 19h8m-10-13h8m-8-6h8m-10 7h8m-12 12h8m-9 0h8m-10-10h8m-8-3h8m-8 8h8m-10-15h8m-9 21h8m-8-27h8m-9 18h8m-8-17h8m-9 19h8m-8-19h8m-12 7h8m-8 16h8m-9-10h8m-9 14h8m-9-12h8m-9-9h8m-9 1h8m-8-2h8m-9 13h8m-8 9h8m-8-17h8m-8 14h8m-8 3h8m-9-17h8m-9 4h8m-8-5h8m-8 16h8m-9-13h8m-9-9h8m-9 20h8m-8-22h8m-9 27h8m-10-3h8m-9-2h8m-8-3h8m-9-21h8m-8 7h8m-8 21h8m-11 0h8m-9-23h8m-9 14h8m-8-9h8m-8-10h8m-9 12h8m-9-6h8m-8 15h8m-8-18h8m-10 19h8m-8-5h8m-10-2h8m-9 2h8m-8-14h8m-9 11h8m-8-9h8m-8 23h8m-9-6h8m-9-19h8m-9-1h8m-9 18h8m-8-8h8m-9 1h8m-9 9h8m-10-8h8m-8-5h8m-9 1h8m-9 13h8m-10-9h8m-8 14h8m-9-24h8m-9 21h8m-9 2h8m-9-19h8m-9 6h8m-8-8h8m-8 6h8m-8 0h8m-9 7h8m-8 5h8m-8 4h8m-8-8h8m-9-2h8m-9-1h8m-9-9h8m-8-6h8m-8 18h8m-9-3h8m-8 3h8m-9 6h8m-8-27h8m-8 13h8m-8 7h8m-10-5h8m-9 1h8m-9-6h8m-8 9h8m-8 3h8m-8 5h8m-9-11h8m-8-11h8m-8 10h8m-9 3h8m-8-11h8m-9 5h8m-8-1h8m-8 14h8m-9-1h8m-8 4h8m-9-6h8m-9 1h8m-10-4h8m-8-11h8m-8 12h8m-9 8h8m-9-5h8m-8 5h8m-9-25h8m-8 23h8m-9-22h8m-8 26h8m-8 0h8m-8-5h8m-10-14h8m-9 1h8m-11-9h8m-8 21h8m-8-3h8m-9-18h8m-8-2h8m-11 3h8m-8 21h8m-9-1h8m-8-14h8m-8-7h8m-9 5h8m-8-4h8m-8 22h8m-8-23h8m-8 3h8m-8-2h8m-8 24h8m-9-20h8m-8 10h8m-9 6h8m-9-17h8m-8 20h8m-9-12h8m-8 4h8m-10 4h8m-9 3h8m-8-3h8m-9-17h8m-9 21h8m-9-20h8m-8 18h8m-8-4h8m-9-20h8m-11 13h8m-8 1h8m-8-15h8m-9 19h8m-9-5h8m-8-8h8m-8 18h8m-8 0h8m-8 1h8m-11-4h8m-9-13h8m-9 9h8m-8 4h8m-8-6h8m-9 5h8m-10-10h8m-8-4h8m-8 23h8m-9-11h8m-8-5h8m-8 14h8m-9-24h8m-8 19h8m-9 4h8m-9-9h8m-9-12h8m-9-3h8m-10 27h8m-8-7h8m-8 0h8m-9-4h8m-9 8h8m-8-19h8m-10 3h8m-8 14h8m-8-13h8m-9 13h8m-8-9h8m-9 5h8m-9 2h8m-8 6h8m-8-17h8m-9-6h8m-8-4h8m-9 6h8m-9 1h8m-10-7h8m-9 25h8m-11 3h8m-9-7h8m-8-20h8m-11 2h8m-9-4h8m-8 30h8m-8-21h8m-10 10h8m-8-6h8m-9-2h8m-8 12h8m-11-21h8m-8 27h8m-8-17h8m-9-6h8m-8 13h8m-9 9h8m-11-1h8m-13-25h8m-10 26h8m-8 0h8m-9-24h8m-8 23h8m-9 3h8m-10-26h8m-9 14h8m-9-17h8m-8 7h8m-14 9h8m-8-5h8m-10-3h8m-8 3h8m-9 3h8m-9 4h8m-11 3h8m-12-21h8m-9 10h8m-11 9h8m-10 7h8m-9-27h8m-11 26h8m-13-10h8m-9-8h8m-17 19h8m-9-10h8m-9-1h8m-12 3h8m-9 9h8m-25-26h8m-14 10h8m-23 10h8m-25-2h8m-12-12h8m-36 37h8m-4 1h8m14 1h8m18-16h8m-8 3h8m-2 14h8m4 4h8m1 4h8m-6-12h8m-3-3h8m-2-8h8m-4 11h8m-4-12h8m-7 22h8m-6-18h8m-8 12h8m-7 4h8m-7 3h8m-7-5h8m-8-15h8m-6 25h8m-7-24h8m-6-5h8m-7 26h8m-8-9h8m-7 4h8m-8-16h8m-7 0h8m-7-1h8m-7 10h8m-7 8h8m-7-2h8m-7 6h8m-6-3h8m-7-7h8m-8 5h8m-7-12h8m-8 5h8m-5-13h8m-7 19h8m-8-3h8m-2 0h8m-7 11h8m-7-19h8m-5 12h8m-5-2h8m-7 4h8m-8-3h8m-7-21h8m-6 0h8m-7 11h8m-6 17h8m-6-14h8m-8-13h8m-7 23h8m-7-13h8m-6 12h8m-7-1h8m-8-12h8m-8 15h8m-7-15h8m-6-8h8m-7 11h8m-7 3h8m-7-12h8m-8 4h8m-8-1h8m-7 0h8m-8 9h8m-8 3h8m-8-8h8m-7-4h8m-8 10h8m-8 8h8m-7 2h8m-8-22h8m-8 19h8m-7 4h8m-8-24h8m-6 2h8m-8 21h8m-8-18h8m-8 4h8m-7-2h8m-7-11h8m-7 28h8m-8-5h8m-7 2h8m-8 0h8m-8-16h8m-8 18h8m-8-6h8m-7 8h8m-7-11h8m-8 5h8m-7-19h8m-6 20h8m-8-9h8m-8-14h8m-8 25h8m-7-4h8m-7 2h8m-8-3h8m-8-16h8m-8 17h8m-6 8h8m-7-17h8m-8-8h8m-6 15h8m-8-9h8m-6-10h8m-8 1h8m-6 4h8m-8 19h8m-8-15h8m-7 13h8m-8-20h8m-7 21h8m-8-20h8m-8 15h8m-8-14h8m-7 25h8m-8-8h8m-8-9h8m-7-8h8m-8 19h8m-7-11h8m-6-6h8m-8 19h8m-8-17h8m-8 20h8m-8-20h8m-7 15h8m-8 3h8m-8-22h8m-8 11h8m-7-1h8m-8-10h8m-8 11h8m-8-14h8m-7 7h8m-7 12h8m-7-6h8m-8 3h8m-8 9h8m-6-24h8m-8 10h8m-8 14h8m-8-16h8m-8-1h8m-8 13h8m-8 6h8m-6-1h8m-7-7h8m-8-3h8m-7-14h8m-7 0h8m-8 11h8m-8 14h8m-8-28h8m-8 5h8m-8 7h8m-7-12h8m-8 24h8m-8-4h8m-8-2h8m-8-15h8m-8 22h8m-7-7h8m-8-15h8m-7 21h8m-8-7h8m-8-4h8m-8 5h8m-7-14h8m-7 21h8m-8-14h8m-8 8h8m-8 2h8m-8 1h8m-7 2h8m-8-2h8m-8-8h8m-8-7h8m-7 14h8m-8 3h8m-7-21h8m-8 4h8m-8 2h8m-8 12h8m-7-8h8m-8 13h8m-8-9h8m-8 10h8m-7-18h8m-8 5h8m-8 12h8m-8-10h8m-8-13h8m-8 21h8m-7-23h8m-8 25h8m-8-8h8m-8-2h8m-7-8h8m-7-6h8m-7 23h8m-8-10h8m-7 12h8m-8-21h8m-7 7h8m-7-8h8m-7 12h8m-8 9h8m-8-18h8m-8 3h8m-7 15h8m-8-7h8m-8 4h8m-8-17h8m-7-3h8m-8 22h8m-8-12h8m-8 7h8m-8 6h8m-7-3h8m-8 0h8m-8-18h8m-7 6h8m-8 14h8m-8-22h8m-5 5h8m-8 20h8m-7-23h8m-8 11h8m-8-11h8m-8 16h8m-7-5h8m-8 8h8m-7-15h8m-8 15h8m-8-13h8m-7 6h8m-8 11h8m-7-12h8m-8 4h8m-7 7h8m-8-11h8m-8 10h8m-8-24h8m-8 22h8m-7-14h8m-8 10h8m-7-3h8m-8 9h8m-8-7h8m-8 0h8m-8-20h8m-7 21h8m-8-15h8m-8 24h8m-7-1h8m-8-13h8m-6-16h8m-8 26h8m-7-8h8m-8-17h8m-8 25h8m-6-2h8m-7-22h8m-8 14h8m-8-8h8m-8 3h8m-7 11h8m-8 2h8m-7-22h8m-7 8h8m-7 11h8m-7 2h8m-8-17h8m-7 13h8m-8-17h8m-8 19h8m-7 2h8m-8-8h8m-7 14h8m-7-21h8m-7-7h8m-8 23h8m-8 2h8m-7-25h8m-7 27h8m-8-10h8m-7-4h8m-7-9h8m-8 8h8m-8 4h8m-7 2h8m-8-9h8m-8 4h8m-7-4h8m-8 4h8m-8-8h8m-8 11h8m-7 6h8m-7-2h8m-8-7h8m-8 15h8m-7-24h8m-8 8h8m-7 8h8m-7-1h8m-6-16h8m-8 5h8m-7 14h8m-8-12h8m-8 3h8m-7-7h8m-7 22h8m-8-22h8m-7-5h8m-7 19h8m-8-19h8m-7 6h8m-8 1h8m-8-4h8m-7 3h8m-8 7h8m-8-11h8m-7 15h8m-8 5h8m-7-3h8m-7-17h8m-8 6h8m-7 19h8m-7-2h8m-8-24h8m-7 12h8m-8 12h8m-7-18h8m-7 11h8m-7-17h8m-7 0h8m-8 21h8m-7-23h8m-7 3h8m-8 4h8m-8 3h8m-8 4h8m-5 3h8m-8-15h8m-6 1h8m-7 17h8m-6-9h8m-8 13h8m-8-8h8m-8 7h8m-6-2h8m-7-10h8m-8-8h8m-7 2h8m-8 22h8m-7-14h8m-8 9h8m-8-10h8m-8 4h8m-6-5h8m-8-11h8m-7 26h8m-7-5h8m-8 7h8m-8-3h8m-7 3h8m-8-25h8m-6-2h8m-8 26h8m-8-11h8m-7-2h8m-7-12h8m-6 5h8m-8 15h8m-8 6h8m-8-6h8m-7-11h8m-8 13h8m-8-3h8m-4-20h8m-8 15h8m-6-3h8m-8-7h8m-7 12h8m-6-18h8m-7 15h8m-6 11h8m-8-1h8m-7 4h8m-8-18h8m-6-5h8m-8 18h8m-7-19h8m-7 6h8m-8 8h8m-7-10h8m-7 19h8m-7-4h8m-8-20h8m-6-1h8m-8 21h8m-7-13h8m-6 1h8m-7 8h8m-8-2h8m-4 6h8m-6 0h8m-4-4h8m-5-11h8m-6 16h8m-8-22h8m-7 25h8m-7-5h8m-7 3h8m-6-24h8m-4 26h8m-5-19h8m-6 17h8m-7-9h8m-8 7h8m-6-8h8m-3-4h8m-8 15h8m-7-23h8m-2 1h8m-3 9h8m-7-14h8m-7 3h8m-7 15h8m-5 6h8m0-11h8m-7-6h8m-7 11h8m-8-11h8m7 3h8m-1 4h8m-8 11h8m-4 1h8m-7-21h8m-3 19h8m-6-2h8m-1-19h8m-7-4h8m-6 19h8m1-1h8m-5-1h8m18 1h8m36 3h8m-5-16h8m-2 15h8m56-3h8m-55 42h8m-25-28h8m-29 9h8m-13 14h8m-9 4h8m-11-7h8m-8-3h8m-11 5h8m-21-4h8m-15 10h8m-12-3h8m-11-10h8m-13-11h8m-11 2h8m-14 5h8m-13 15h8m-13-2h8m-10 0h8m-11 0h8m-16-18h8m-10 7h8m-17 1h8m-19-1h8m-12 14h8m-9-23h8m-10 3h8m-8 9h8m-10 6h8m-12 1h8m-9-13h8m-10 10h8m-9-20h8m-13 3h8m-9 6h8m-8 18h8m-9-19h8m-9-4h8m-15 5h8m-10 17h8m-13-20h8m-8-2h8m-10 1h8m-10-1h8m-8 22h8m-10-10h8m-12-11h8m-11 7h8m-9-3h8m-8-8h8m-10 11h8m-9 17h8m-9-28h8m-9 23h8m-8-22h8m-11 3h8m-9 16h8m-9-1h8m-11 7h8m-8-10h8m-10-11h8m-10-5h8m-11-1h8m-8 26h8m-9-3h8m-11-23h8m-8 15h8m-9 7h8m-8-14h8m-9 15h8m-9 2h8m-9-11h8m-9-13h8m-9 2h8m-8 3h8m-8 17h8m-10-14h8m-10 15h8m-9-7h8m-8-2h8m-9-7h8m-8 11h8m-9-17h8m-9 2h8m-10 9h8m-9-1h8m-9 4h8m-9-5h8m-9 5h8m-10-16h8m-8 12h8m-8 8h8m-9-7h8m-10 11h8m-8-16h8m-8-1h8m-8 0h8m-9-3h8m-9 23h8m-8-7h8m-8-7h8m-8-7h8m-10 8h8m-8-7h8m-9-1h8m-9 19h8m-8-12h8m-9-11h8m-8 5h8m-8 5h8m-9 7h8m-9 4h8m-9 0h8m-8 3h8m-11-17h8m-8-10h8m-9 16h8m-8 5h8m-8-13h8m-9 11h8m-8-3h8m-9-14h8m-8 24h8m-9-10h8m-10-15h8m-9 21h8m-9-14h8m-9 19h8m-8-14h8m-8 0h8m-9 3h8m-8-8h8m-9 14h8m-9 5h8m-9-18h8m-8-2h8m-8-6h8m-9 12h8m-8-10h8m-8 23h8m-8-22h8m-9 14h8m-9-2h8m-8-5h8m-8 17h8m-8-9h8m-9-17h8m-9 5h8m-8-3h8m-8-2h8m-9 16h8m-9 1h8m-8-7h8m-9 18h8m-9-11h8m-8 0h8m-8-9h8m-9 0h8m-8 19h8m-8-11h8m-9 4h8m-9-16h8m-8 2h8m-9 15h8m-9-3h8m-8-5h8m-9 3h8m-8-9h8m-9-3h8m-8 2h8m-9 10h8m-8-5h8m-9 4h8m-8-10h8m-8 14h8m-9 2h8m-8-11h8m-8-2h8m-8-6h8m-9 10h8m-9 15h8m-8-14h8m-8 13h8m-9-6h8m-8-6h8m-8-14h8m-9-2h8m-8 23h8m-10 5h8m-8-12h8m-8-15h8m-8 3h8m-9-1h8m-8 11h8m-8-10h8m-9 22h8m-8-13h8m-9 2h8m-9 13h8m-9-18h8m-8-9h8m-8 7h8m-8 20h8m-9-20h8m-9 2h8m-8-9h8m-9 29h8m-8-22h8m-8 11h8m-9-11h8m-8 17h8m-8-10h8m-9 13h8m-8-27h8m-9 3h8m-8 16h8m-8-6h8m-8-11h8m-9 5h8m-9-6h8m-8 26h8m-8 1h8m-9 1h8m-8-1h8m-9-26h8m-8-3h8m-8 23h8m-9-23h8m-8 21h8m-8 2h8m-9-23h8m-8 13h8m-8-4h8m-9 2h8m-8 15h8m-8-10h8m-8 0h8m-9 7h8m-8-5h8m-9 8h8m-8-2h8m-9-18h8m-9 20h8m-8-16h8m-9 8h8m-8-11h8m-9 22h8m-8-22h8m-9 7h8m-8 5h8m-9-2h8m-8-2h8m-9 1h8m-8-6h8m-8 0h8m-8-4h8m-8 5h8m-8-4h8m-8 2h8m-9 8h8m-8-12h8m-8 25h8m-8-2h8m-9-5h8m-8 4h8m-8-12h8m-8-6h8m-9 5h8m-8-8h8m-8 6h8m-8-9h8m-9 6h8m-8-8h8m-8 21h8m-9-9h8m-9-8h8m-8 2h8m-8 16h8m-9-11h8m-8-9h8m-9 15h8m-8-6h8m-8-7h8m-9 20h8m-8-15h8m-8 14h8m-8-20h8m-8 13h8m-8-11h8m-9 4h8m-8-3h8m-9 14h8m-8-14h8m-9 16h8m-8-9h8m-9 6h8m-8-10h8m-9 13h8m-9-7h8m-8-6h8m-9 12h8m-8-2h8m-9-1h8m-8-14h8m-8-4h8m-8 23h8m-8 4h8m-9-12h8m-8-11h8m-9 7h8m-8-11h8m-9 18h8m-8-16h8m-8-2h8m-9 9h8m-8-1h8m-8-3h8m-9 7h8m-8-5h8m-9-7h8m-9 19h8m-9-18h8m-8 4h8m-9 14h8m-8-18h8m-9 13h8m-8 7h8m-8 2h8m-8-23h8m-9 3h8m-8 6h8m-8 1h8m-8 0h8m-8 2h8m-8-7h8m-8-2h8m-9 13h8m-8-3h8m-9-9h8m-9 14h8m-9-3h8m-8-7h8m-8 19h8m-9-22h8m-8 15h8m-8-3h8m-8 0h8m-8-11h8m-8 2h8m-8 6h8m-9 7h8m-8-12h8m-8 0h8m-10-7h8m-9 6h8m-8 10h8m-8 1h8m-9-15h8m-8 4h8m-9 0h8m-8 18h8m-8 1h8m-10-26h8m-9 16h8m-9 3h8m-8-11h8m-8 6h8m-9-6h8m-9 15h8m-8-5h8m-8 4h8m-9-7h8m-9-8h8m-8 2h8m-8 13h8m-9-10h8m-9 3h8m-9-2h8m-8-13h8m-9 14h8m-8-3h8m-8 7h8m-8-16h8m-8 11h8m-9-8h8m-8 14h8m-8-8h8m-8-4h8m-8-5h8m-9-2h8m-9 0h8m-10 13h8m-8 7h8m-9 6h8m-8-3h8m-9-6h8m-9-2h8m-8-14h8m-8-1h8m-8 3h8m-9 9h8m-8-11h8m-9 6h8m-8-4h8m-9-3h8m-10-1h8m-8 23h8m-9-7h8m-8 1h8m-8 9h8m-8-7h8m-9-2h8m-8 3h8m-9-21h8m-8 4h8m-9 19h8m-10-8h8m-10-2h8m-8 5h8m-8-16h8m-10 19h8m-8-3h8m-8 10h8m-9-21h8m-9 2h8m-9-5h8m-8 24h8m-9-9h8m-9-4h8m-9-3h8m-8 8h8m-9-18h8m-8 2h8m-9 10h8m-8 3h8m-8-2h8m-11-3h8m-9-6h8m-8 24h8m-8-14h8m-9-11h8m-8 21h8m-11-17h8m-8-8h8m-9 6h8m-8 11h8m-9 11h8m-9-6h8m-12 1h8m-14-19h8m-10-3h8m-8 23h8m-10-3h8m-8-16h8m-10 2h8m-15 2h8m-9 13h8m-8-19h8m-10 12h8m-9 13h8m-12-11h8m-8-7h8m-10 9h8m-16-11h8m-9 9h8m-9 5h8m-9-10h8m-9-6h8m-9 19h8m-9-7h8m-10 2h8m-14-2h8m-9 0h8m-11 1h8m-14-1h8m-17-16h8m-19 11h8m-33 9h8m-32-2h8m12 22h8m14 0h8m-4-8h8m-4 19h8m-3-20h8m2 7h8m-1 2h8m-5 0h8m-5 0h8m-5 9h8m-5-19h8m-5 26h8m-6-6h8m-7-19h8m-2 23h8m-4-17h8m-7 3h8m-8 16h8m-2-11h8m-5-18h8m-3 18h8m-7 11h8m-8-8h8m-7-12h8m-8 0h8m-8 2h8m-7-7h8m-7 15h8m-6-12h8m-4 22h8m-8-12h8m-7 1h8m-5-1h8m-8-5h8m-7-6h8m-6 18h8m-7-22h8m-7 0h8m-6 8h8m-8-6h8m-7 23h8m-8-13h8m-5-3h8m-7 0h8m-6 5h8m-8-3h8m-8 12h8m-7-19h8m-6 23h8m-5-5h8m-7 1h8m-7-1h8m-6 4h8m-8 0h8m-7 1h8m-8-9h8m-7-10h8m-8 11h8m-4-2h8m-8 8h8m-7 2h8m-8-4h8m-8-1h8m-6-23h8m-8 16h8m-7-15h8m-7 12h8m-8 14h8m-8-5h8m-8 1h8m-7-19h8m-8 9h8m-8 16h8m-7-8h8m-7 6h8m-8-17h8m-7 11h8m-8 5h8m-8-19h8m-7 11h8m-6-9h8m-8 10h8m-7-6h8m-8-6h8m-7 8h8m-6 9h8m-6-15h8m-6 0h8m-7-3h8m-8 5h8m-3 5h8m-7 6h8m-7-5h8m-7-17h8m-8 9h8m-7-7h8m-8 18h8m-6-4h8m-8-16h8m-6 0h8m-7 26h8m-7-7h8m-8 1h8m-8-16h8m-7-1h8m-8 5h8m-8 4h8m-7 11h8m-7-4h8m-8 1h8m-7-15h8m-8 21h8m-7-22h8m-8-2h8m-8 5h8m-8 0h8m-8 22h8m-6-11h8m-7 4h8m-8-20h8m-7 23h8m-8-15h8m-8 18h8m-8-5h8m-7-24h8m-6 23h8m-8-11h8m-6-10h8m-6 9h8m-8-8h8m-6 15h8m-8-8h8m-8-3h8m-8-1h8m-8 6h8m-8 11h8m-7-17h8m-7 23h8m-8-28h8m-8 28h8m-7-6h8m-8 0h8m-8-22h8m-7 3h8m-7 24h8m-7-19h8m-8 15h8m-8-9h8m-7 9h8m-6-13h8m-8-10h8m-6 7h8m-6 3h8m-8-6h8m-8 6h8m-7 1h8m-8-1h8m-8 4h8m-7-3h8m-8-12h8m-7 5h8m-8 11h8m-6-4h8m-8 5h8m-8 3h8m-7-13h8m-8-1h8m-7-5h8m-7 13h8m-8-13h8m-7 20h8m-8 7h8m-7-1h8m-8-11h8m-7 0h8m-7 9h8m-8-21h8m-8 10h8m-8-12h8m-7 9h8m-8 5h8m-8 13h8m-7-17h8m-7 1h8m-8 9h8m-7-4h8m-8-16h8m-8 2h8m-8 20h8m-8 6h8m-8-11h8m-7-11h8m-8 2h8m-8 3h8m-7 8h8m-8-1h8m-6-2h8m-8-3h8m-8 10h8m-6-15h8m-8 4h8m-7-7h8m-8 15h8m-7-6h8m-8 6h8m-7-15h8m-7-1h8m-8 23h8m-7-22h8m-7 1h8m-8 18h8m-8-20h8m-7 13h8m-8-19h8m-8 5h8m-6 19h8m-7-10h8m-7-13h8m-8 12h8m-8 12h8m-7-1h8m-8-21h8m-7-2h8m-8 15h8m-8 6h8m-8 1h8m-5-9h8m-8 12h8m-7-6h8m-8-14h8m-5 20h8m-7-14h8m-7-8h8m-8 14h8m-7-10h8m-8 2h8m-6 2h8m-8 9h8m-8 4h8m-7-24h8m-8 4h8m-8 14h8m-7 5h8m-7-22h8m-6 13h8m-8-6h8m-8 7h8m-7-10h8m-6 23h8m-8-3h8m-5 3h8m-8-24h8m-7 10h8m-7-10h8m-8 12h8m-7 5h8m-6-15h8m-6-3h8m-8-2h8m-7 14h8m-7-8h8m-8 11h8m-7-6h8m-4 10h8m-8-17h8m-7 1h8m-8 17h8m-7-15h8m-7 14h8m-7-14h8m-7 5h8m-8 10h8m-8 1h8m-7-9h8m-7-10h8m-6 14h8m-6 6h8m-5-2h8m-7-23h8m-6-1h8m-8 12h8m-7 14h8m-7 4h8m-8-19h8m-7-3h8m-7 2h8m-8-3h8m-7 14h8m-7-12h8m-8 20h8m-6-17h8m-8 7h8m-7 11h8m-7-3h8m-8-25h8m-8 11h8m-8 15h8m-7-24h8m-6 5h8m-6 7h8m-7-13h8m-8 13h8m-7-7h8m-5-3h8m-7 6h8m-6-10h8m-7 2h8m-5 17h8m-8-19h8m-8 0h8m-6 3h8m-8-1h8m-6 10h8m-7 16h8m-5-16h8m-7-5h8m-6 17h8m-7-8h8m-7-10h8m-4 3h8m-7-10h8m-2 7h8m-7-3h8m-7 18h8m-7-9h8m-6-11h8m-2 13h8m-6 8h8m-8-4h8m-6 3h8m-7-3h8m0-4h8m-4 6h8m-6-16h8m-4 8h8m-7 3h8m-8 9h8m-6-11h8m-7-5h8m-3 7h8m-7-7h8m-6 19h8m-7-26h8m-8 11h8m-5-7h8m-6 4h8m-2-7h8m-1 9h8m-7 14h8m-2-10h8m-8 9h8m-6 4h8m-1-14h8m-7-3h8m-7 2h8m-8 3h8m-8 7h8m-3-1h8m0-14h8m-5-1h8m-3 7h8m1 4h8m6-13h8m68 14h8m-14 25h8m-27-15h8m-12 9h8m-57 16h8m-17-1h8m-9-12h8m-27-5h8m-13-6h8m-11 9h8m-10 2h8m-11 16h8m-11-10h8m-12-13h8m-10-5h8m-11 18h8m-10-19h8m-18 9h8m-9 21h8m-10-25h8m-13-1h8m-10 26h8m-9-3h8m-10-9h8m-22-6h8m-8-11h8m-9 14h8m-9-3h8m-9 15h8m-9-7h8m-12 7h8m-10-24h8m-10 3h8m-8 22h8m-12-13h8m-14 11h8m-11-12h8m-11-4h8m-13 6h8m-21 4h8m-13 6h8m-9-18h8m-8 13h8m-9-12h8m-12 21h8m-11-25h8m-9 12h8m-9-7h8m-12 1h8m-9 19h8m-11-23h8m-8-5h8m-10 25h8m-8 0h8m-9-3h8m-13 3h8m-11-2h8m-9-22h8m-14 9h8m-10-1h8m-14 2h8m-9 1h8m-13-13h8m-9 14h8m-10-7h8m-11-4h8m-8 3h8m-14 6h8m-9 7h8m-12-1h8m-10-13h8m-8 3h8m-9-7h8m-9 3h8m-13 4h8m-8-8h8m-8 27h8m-10-6h8m-11-17h8m-8 5h8m-9 5h8m-9 4h8m-9-5h8m-8-6h8m-9 6h8m-11-7h8m-10 7h8m-10 2h8m-8 1h8m-9-6h8m-10 2h8m-8-7h8m-8 23h8m-10-28h8m-9 9h8m-10-2h8m-8 19h8m-9-14h8m-9 5h8m-8-17h8m-8 15h8m-9 5h8m-8-3h8m-8-5h8m-9 5h8m-9-15h8m-9 26h8m-10-16h8m-9 4h8m-9 4h8m-9-7h8m-10-5h8m-8 8h8m-8 1h8m-8 10h8m-10-13h8m-9 14h8m-10-12h8m-10-13h8m-9 12h8m-8 8h8m-9 4h8m-10-27h8m-9 2h8m-9 13h8m-9 5h8m-8 9h8m-8-25h8m-10 24h8m-10-3h8m-9-17h8m-8 2h8m-8-7h8m-9 17h8m-10 0h8m-8-19h8m-10 14h8m-9 4h8m-8-8h8m-9 1h8m-13 6h8m-8-5h8m-8 6h8m-9-11h8m-11-6h8m-11 18h8m-9 6h8m-8-5h8m-13-4h8m-9 6h8m-9 1h8m-9-2h8m-8-15h8m-8 1h8m-10 8h8m-8-6h8m-11-4h8m-11 0h8m-12 19h8m-10-20h8m-9 12h8m-9-9h8m-12-1h8m-8 20h8m-9-7h8m-8-2h8m-10 2h8m-11 2h8m-12-10h8m-9-7h8m-9 16h8m-9-21h8m-8 6h8m-9 4h8m-9 4h8m-8 9h8m-9-11h8m-10-5h8m-9-3h8m-14-5h8m-10 15h8m-9 5h8m-9-9h8m-8 3h8m-9 8h8m-14 3h8m-12-12h8m-22-10h8m-8 12h8m-11 1h8m-23 2h8m-10-9h8m-10 11h8m-14 7h8m-14-21h8m-10-4h8m-22 14h8m-9 12h8m-16-5h8m-11 4h8m-19-15h8m-11-6h8m-9 5h8m-14 0h8m-42-9h8m-39 24h8m36 9h8m0 9h8m-7 1h8m12 10h8m20-18h8m2 5h8m4 13h8m-8-14h8m-2-5h8m0-6h8m0 8h8m-5 0h8m-6-1h8m-6 13h8m-4 8h8m-7-24h8m5 12h8m-3 11h8m4-26h8m-8 15h8m-4-16h8m-8 24h8m-2-10h8m-8-7h8m-7 12h8m-3-1h8m-5-12h8m-1 6h8m-8 17h8m-7-10h8m-4-14h8m-4-1h8m-3 17h8m-8-5h8m-8 4h8m-4-11h8m-7 21h8m-3-19h8m-6 2h8m-8-7h8m-7 13h8m-8-9h8m-7 19h8m-8-7h8m-7-17h8m0 19h8m-8-19h8m-3 17h8m-3-19h8m-6 2h8m-8-3h8m-4 3h8m-8-2h8m-5 20h8m-1-13h8m-7 2h8m-7 3h8m-7-1h8m-5 13h8m-7-12h8m-7 11h8m-4 0h8m-3-15h8m-6 8h8m-6-17h8m1 25h8m-1-19h8m-2-5h8m-7 13h8m-6 5h8m-8-21h8m-7 13h8m-7 1h8m-3-2h8m7 1h8m-6-9h8m0 11h8m-6-12h8m-4 17h8m-4 5h8m-8-3h8m-4 0h8m-7-2h8m-6 3h8m-6-20h8m-7-3h8m-3 8h8m-7-3h8m-7-3h8m-6 22h8m-3 3h8m-2-2h8m-7-2h8m-3-20h8m-6 11h8m-7 14h8m3-8h8m-6 6h8m1-17h8m-4 13h8m-3 6h8m-4-14h8m-6 13h8m-5-21h8m14 7h8m-8 0h8m-7-6h8m-2 4h8m-3-6h8m-6 3h8m-5-7h8m17 28h8m6-7h8m-7-18h8m-5 16h8m-7-19h8m130 47h8m-34 0h8m-116 1h8m-18-1h8m-60 7h8m-12-16h8m-13 18h8m-9-21h8m-12 8h8m-22-5h8m-18 14h8m-26-7h8m-11 5h8m-10-7h8m-11-3h8m-16 8h8m-8-7h8m-9-1h8m-13 1h8m-12 13h8m-8-9h8m-9 5h8m-17-18h8m-14 23h8m-8-20h8m-9 8h8m-15-11h8m-12 20h8m-10-6h8m-17 4h8m-11-5h8m-9-13h8m-10 12h8m-11-14h8m-9 15h8m-9 10h8m-13 1h8m-8-22h8m-15 23h8m-12-13h8m-8 13h8m-9-6h8m-8 5h8m-9-6h8m-14-19h8m-11-1h8m-11 14h8m-9 4h8m-9 3h8m-16 6h8m-8-20h8m-10 19h8m-10-21h8m-13 3h8m-9-1h8m-16 18h8m-9-9h8m-12-14h8m-9 11h8m-21-2h8m-8-2h8m-11 16h8m-9-12h8m-17 12h8m-11-12h8m-8 16h8m-15-19h8m-11 2h8m-12-13h8m-16 9h8m-8 20h8m-9-25h8m-12 15h8m-13 10h8m-10-16h8m-8 5h8m-13-14h8m-13 3h8m-12-1h8m-11 4h8m-13-4h8m-18 13h8m-13 10h8m-20-29h8m-9 21h8m-12-14h8m-8-2h8m-17-5h8m-17 14h8m-15-7h8m-12 4h8m-12 4h8m-28-7h8m-26 11h8m-9-2h8m-23-15h8m-10 12h8m-9-9h8m-39 3h8m-11 9h8m-8 2h8m-38 37h8m65-23h8m-6 11h8m23 2h8m-7 3h8m-4-15h8m-3 15h8m16-1h8m-6 6h8m-8-14h8m0 11h8m4 5h8m-5-19h8m-5 22h8m-1-15h8m-2-6h8m-8 17h8m-4 3h8m-7-18h8m-4 9h8m-8-4h8m12 11h8m-5-17h8m-4-8h8m-8 25h8m-7-2h8m-5-4h8m-4 10h8m-7-2h8m-3-7h8m0-12h8m-8 17h8m-1-9h8m-7 2h8m-6 6h8m-1-19h8m-6 8h8m-3 4h8m-1-14h8m-7-1h8m-8 8h8m-6 14h8m-6-19h8m-5 19h8m-8-15h8m-5-9h8m-5 26h8m-4-18h8m-7 19h8m-8 0h8m-7-14h8m-7-12h8m-6 9h8m0-6h8m-6 10h8m-7 7h8m-5-16h8m-6 21h8m-5-15h8m-8 17h8m-6-5h8m-2 1h8m-4-14h8m-6 9h8m-6-9h8m1 8h8m-5-15h8m-4 14h8m-5-9h8m0 12h8m-7-1h8m-6-11h8m2 18h8m-6-18h8m-7-1h8m-3-6h8m1-1h8m-4 27h8m-3-15h8m0-3h8m-4-7h8m-4 13h8m2 6h8m-2-12h8m-5 0h8m9 4h8m-2-5h8m-1-4h8m0 2h8m-1-3h8m-8 4h8m15 18h8m52-26h8m5 9h8m-8 35h8m-80-10h8m-13 2h8m-10 16h8m-32-12h8m-15 14h8m-28-9h8m-12 2h8m-24 11h8m-17-8h8m-18 1h8m-27-10h8m-11 8h8m-15-13h8m-13 16h8m-16 6h8m-8 0h8m-13-11h8m-11-8h8m-21 8h8m-10 13h8m-14-1h8m-9-16h8m-17-2h8m-8-10h8m-12 28h8m-13-7h8m-10-21h8m-9 27h8m-13-7h8m-8-18h8m-21 4h8m-13 6h8m-9-10h8m-9 12h8m-14-5h8m-9-2h8m-10-8h8m-16 2h8m-9-1h8m-9 15h8m-8-11h8m-19-1h8m-16 13h8m-10-5h8m-17 3h8m-13 11h8m-9-19h8m-15-6h8m-15 15h8m-14 1h8m-12 9h8m-11 3h8m-11-10h8m-19 10h8m-13-14h8m-16-14h8m-11 0h8m-9 4h8m-29 6h8m-9 15h8m-9-18h8m-18 6h8m-37-11h8m-10 11h8m-19-2h8m-60 0h8m61 20h8m71 0h8m-5 18h8m-4-15h8m4 12h8m-5 0h8m22-15h8m-3 7h8m-1 9h8m-7-15h8m3 14h8m15-3h8m4-12h8m50 17h8m-6-5h8m-6 3h8m-2-2h8m-3-9h8m-1 3h8m-2 8h8m18-11h8m14 14h8" stroke="#000" stroke-width="8" stroke-opacity="0.72" fill="none"/>
<line x1="285.2" y1="587.4" x2="285.2" y2="663.3" stroke="#de7c80" stroke-width="0.65"/>
<line x1="247.3" y1="629.1" x2="325.5" y2="629.1" stroke="#de7c80" stroke-width="0.65"/>
<rect x="247.3" y="587.4" width="78.2" height="75.9" fill="none" stroke="#7d7eab" stroke-width="0.85"/>
<path d="M244.9 663.3H247.3M245.8 658.0H247.3M245.8 654.9H247.3M245.8 652.7H247.3M245.8 651.0H247.3M245.8 649.6H247.3M245.8 648.4H247.3M245.8 647.4H247.3M245.8 646.5H247.3M244.9 645.6H247.3M245.8 640.3H247.3M245.8 637.2H247.3M245.8 635.0H247.3M245.8 633.3H247.3M245.8 631.9H247.3M245.8 630.7H247.3M245.8 629.7H247.3M245.8 628.8H247.3M244.9 628.0H247.3M245.8 622.7H247.3M245.8 619.6H247.3M245.8 617.4H247.3M245.8 615.7H247.3M245.8 614.3H247.3M245.8 613.1H247.3M245.8 612.1H247.3M245.8 611.2H247.3M244.9 610.3H247.3M245.8 605.0H247.3M245.8 601.9H247.3M245.8 599.7H247.3M245.8 598.0H247.3M245.8 596.6H247.3M245.8 595.4H247.3M245.8 594.4H247.3M245.8 593.5H247.3M244.9 592.7H247.3M247.3 663.3V665.7M252.8 663.3V664.8M256.0 663.3V664.8M258.2 663.3V664.8M260.0 663.3V664.8M261.5 663.3V664.8M262.7 663.3V664.8M263.7 663.3V664.8M264.7 663.3V664.8M265.5 663.3V665.7M271.0 663.3V664.8M274.2 663.3V664.8M276.4 663.3V664.8M278.2 663.3V664.8M279.6 663.3V664.8M280.9 663.3V664.8M281.9 663.3V664.8M282.8 663.3V664.8M283.7 663.3V665.7M289.1 663.3V664.8M292.3 663.3V664.8M294.6 663.3V664.8M296.4 663.3V664.8M297.8 663.3V664.8M299.0 663.3V664.8M300.1 663.3V664.8M301.0 663.3V664.8M301.9 663.3V665.7M307.3 663.3V664.8M310.5 663.3V664.8M312.8 663.3V664.8M314.6 663.3V664.8M316.0 663.3V664.8M317.2 663.3V664.8M318.3 663.3V664.8M319.2 663.3V664.8M320.0 663.3V665.7" stroke="#6e6fae" stroke-width="0.6" fill="none"/>
<g font-size="5.4" fill="#c8434f"><text x="247.7" y="592.8">Q1-UL</text><text x="247.7" y="597.1">1.0%</text><text x="324.7" y="592.8" text-anchor="end">Q1-UR</text><text x="324.7" y="597.1" text-anchor="end">0.3%</text><text x="247.7" y="658.1">Q1-LL</text><text x="247.7" y="662.7">93.1%</text><text x="324.7" y="658.1" text-anchor="end">Q1-LR</text><text x="324.7" y="662.7" text-anchor="end">5.4%</text></g>
<text x="283.3" y="677.1" font-size="5.1" text-anchor="middle" fill="#333">Annexin V-FITC-A</text>
<text x="238.3" y="625.3" font-size="5.6" text-anchor="middle" fill="#333" transform="rotate(-90 238.3 625.3)">PI-A</text>
<text x="248.8" y="670.8" font-size="3.6" text-anchor="end" fill="#6a6aa0" transform="rotate(-30 248.8 670.8)">10</text><text x="243.7" y="664.8" font-size="3.6" text-anchor="start" fill="#6a6aa0" transform="rotate(-90 243.7 664.8)">10</text><text x="267.0" y="670.8" font-size="3.6" text-anchor="end" fill="#6a6aa0" transform="rotate(-30 267.0 670.8)">10</text><text x="243.7" y="647.1" font-size="3.6" text-anchor="start" fill="#6a6aa0" transform="rotate(-90 243.7 647.1)">10</text><text x="285.2" y="670.8" font-size="3.6" text-anchor="end" fill="#6a6aa0" transform="rotate(-30 285.2 670.8)">10</text><text x="243.7" y="629.5" font-size="3.6" text-anchor="start" fill="#6a6aa0" transform="rotate(-90 243.7 629.5)">10</text><text x="303.4" y="670.8" font-size="3.6" text-anchor="end" fill="#6a6aa0" transform="rotate(-30 303.4 670.8)">10</text><text x="243.7" y="611.8" font-size="3.6" text-anchor="start" fill="#6a6aa0" transform="rotate(-90 243.7 611.8)">10</text><text x="327.0" y="670.8" font-size="3.6" text-anchor="end" fill="#6a6aa0" transform="rotate(-30 327.0 670.8)">10</text><text x="243.7" y="588.9" font-size="3.6" text-anchor="start" fill="#6a6aa0" transform="rotate(-90 243.7 588.9)">10</text>
<path transform="scale(0.1)" d="M3882 6204h8m-154 63h8m97 3h8m0-25h8m162 28h8m-27 19h8m-47 6h8m-30-11h8m-11 0h8m-10-5h8m-12 6h8m-17-8h8m-10 20h8m-14-16h8m-17 15h8m-20-2h8m-29-11h8m-22-1h8m-14-2h8m-13 5h8m-12-13h8m-12 23h8m-11-18h8m-8 12h8m-23-17h8m-12 19h8m-25 6h8m-8-15h8m-10 3h8m-11-12h8m-11 3h8m-18 19h8m-12-1h8m-20-23h8m-13 21h8m-9 4h8m-10-10h8m-11 9h8m-10-6h8m-14 2h8m-9-1h8m-9-15h8m-12 14h8m-11-4h8m-13 2h8m-9 10h8m-9-29h8m-12 25h8m-9 0h8m-10-7h8m-17 2h8m-8 7h8m-10-9h8m-10 9h8m-8-7h8m-10 0h8m-10-9h8m-17 3h8m-11 11h8m-23-9h8m-11 10h8m-9-5h8m-17 3h8m-16 4h8m-9-12h8m-10 6h8m-9-17h8m-13 4h8m-9 13h8m-8 4h8m-14-4h8m-18-21h8m-13 24h8m-13 1h8m-31 2h8m-18-25h8m-57 15h8m-53 40h8m2-23h8m2-4h8m42 28h8m2-11h8m12 0h8m-5-7h8m-3-4h8m-3 5h8m-5-4h8m-8 21h8m-6-11h8m-6-2h8m-5-6h8m-7 5h8m-2 7h8m-1 3h8m-4-17h8m-5 18h8m-4-9h8m-7-1h8m-5-1h8m-3 1h8m-6 7h8m-7-5h8m-6 8h8m-8 2h8m-7-8h8m1 9h8m-8-4h8m-5-14h8m-7 0h8m-4-3h8m-7 15h8m-4-2h8m-7-9h8m-4-4h8m-8 14h8m-7 5h8m-6-26h8m-8 12h8m-5-14h8m-8 0h8m-7 3h8m-5 23h8m-7-13h8m-8 9h8m-6-7h8m-8 4h8m-5 7h8m-7-2h8m-8-10h8m-6 14h8m-8-19h8m-8 2h8m-7-7h8m-7 16h8m-8 6h8m-7-3h8m-8-8h8m-7-3h8m-7-5h8m-7-1h8m-7-1h8m-8 7h8m-8 4h8m-7-13h8m-8 19h8m-7-11h8m-8-2h8m-6 6h8m-8-14h8m-7 12h8m-7 6h8m-7-11h8m-8 15h8m-6 4h8m-8 1h8m-7-7h8m-6-4h8m-7 7h8m-7-12h8m-6 5h8m-8 13h8m-5-2h8m-5-11h8m-7 6h8m-7-16h8m-7 17h8m-8-19h8m-8 13h8m-7-2h8m-7 8h8m-8-19h8m-7 13h8m-8-3h8m-7 14h8m-6-13h8m-7 1h8m-6 12h8m-6-22h8m-5 21h8m-6 1h8m-7-6h8m-6-14h8m-6-2h8m-6 14h8m-6 6h8m-7-4h8m-8-10h8m-7-4h8m-6 6h8m-8 11h8m-7-15h8m-3-5h8m-8-5h8m-6 26h8m-7-14h8m-6 8h8m-2 9h8m-6-2h8m-8-19h8m-8 6h8m-6 7h8m-6-2h8m-8-19h8m-7 26h8m-7-12h8m-7 7h8m-6-7h8m-8 5h8m-6-7h8m-7 9h8m-8-5h8m-7 1h8m-7-6h8m-7 5h8m-8-9h8m-6 7h8m-8-7h8m-7-2h8m-8 11h8m-6-2h8m-3 14h8m-7-26h8m-7 6h8m-8 14h8m-7-8h8m-6 6h8m-6 7h8m-4-5h8m-7 0h8m-8-20h8m-7 18h8m-8 6h8m-7 2h8m-8-4h8m-6-18h8m-2 11h8m-7-12h8m-7-5h8m-5 20h8m-6-16h8m-8 18h8m-6-16h8m-6 18h8m-3-10h8m-6 0h8m-7 4h8m-1-10h8m-3-4h8m2 11h8m-7-7h8m1 13h8m-4-9h8m-5 13h8m7-21h8m0 16h8m-7-10h8m5 3h8m8 2h8m-4 7h8m9-3h8m8 4h8m0 0h8m-7-1h8m27-14h8m36 41h8m-63-16h8m-16 21h8m-9-19h8m-20 18h8m-16-18h8m-11 11h8m-29 7h8m-12-12h8m-16 18h8m-11-22h8m-10 11h8m-9-4h8m-9 5h8m-17-18h8m-10 13h8m-10 7h8m-9-3h8m-10 7h8m-16-23h8m-11 14h8m-12 5h8m-11-7h8m-11 1h8m-8-2h8m-12-4h8m-11 13h8m-11 1h8m-16-7h8m-8-11h8m-12 13h8m-10-8h8m-9 6h8m-8 12h8m-14-23h8m-9 10h8m-11-14h8m-9 19h8m-9-12h8m-8 6h8m-9 1h8m-14 12h8m-21-6h8m-8-21h8m-10 6h8m-8 15h8m-8-14h8m-9 17h8m-12-4h8m-10 8h8m-10-8h8m-9 6h8m-10-12h8m-9-12h8m-16-2h8m-8 11h8m-9-6h8m-9 13h8m-9 4h8m-9 4h8m-11-6h8m-9-9h8m-9 12h8m-8-4h8m-9-6h8m-9-7h8m-8-6h8m-9 20h8m-8 0h8m-9 2h8m-9-18h8m-10 18h8m-8-20h8m-8 21h8m-10 5h8m-9-5h8m-10 5h8m-9-2h8m-8-22h8m-11-1h8m-8 24h8m-8-15h8m-9 12h8m-8 1h8m-9-24h8m-9 9h8m-9-4h8m-9 23h8m-8-22h8m-9 11h8m-9 11h8m-9-15h8m-9-11h8m-8 20h8m-9 4h8m-8-1h8m-10-22h8m-9 15h8m-9-7h8m-9-8h8m-9 8h8m-10-2h8m-10 3h8m-9 1h8m-8 5h8m-10-1h8m-8-19h8m-9 19h8m-9-5h8m-8 10h8m-9-18h8m-8 21h8m-9-15h8m-10 15h8m-11-18h8m-9 6h8m-8 11h8m-11-24h8m-8 22h8m-10 4h8m-9-1h8m-8-2h8m-8-17h8m-8 1h8m-10 5h8m-8 14h8m-9-15h8m-8 17h8m-9-13h8m-8 2h8m-9 10h8m-8-8h8m-8 1h8m-8 7h8m-9-6h8m-8-12h8m-10 5h8m-9-7h8m-9 14h8m-8-22h8m-9 23h8m-8-5h8m-8 4h8m-8 3h8m-9 1h8m-8-3h8m-9-2h8m-8 8h8m-9-1h8m-9-28h8m-8 7h8m-9 4h8m-8-5h8m-9-1h8m-8 18h8m-8-1h8m-9 4h8m-8-11h8m-10-6h8m-9 3h8m-9 16h8m-8-3h8m-9-12h8m-9-2h8m-8-7h8m-8 3h8m-9 16h8m-8 1h8m-8-19h8m-9 17h8m-8-5h8m-9 6h8m-8-17h8m-9 6h8m-9 10h8m-12-6h8m-10-5h8m-9 7h8m-9-13h8m-8 21h8m-8-5h8m-8 0h8m-8 6h8m-9-11h8m-10 1h8m-8-6h8m-8 6h8m-9 4h8m-8-11h8m-10 15h8m-9-10h8m-9 10h8m-8-22h8m-8 13h8m-11-14h8m-8-1h8m-9 26h8m-8-13h8m-8 1h8m-8 13h8m-10-2h8m-8-13h8m-9 9h8m-9-2h8m-8 1h8m-10 7h8m-8-22h8m-8 6h8m-9 10h8m-8 4h8m-8-16h8m-8-1h8m-8 3h8m-9-5h8m-8-6h8m-9 6h8m-9-6h8m-9 27h8m-9-19h8m-9-3h8m-9 10h8m-9 3h8m-8 2h8m-8-15h8m-9 18h8m-8-9h8m-8 4h8m-9 7h8m-9-1h8m-8-23h8m-8 11h8m-9-5h8m-8 13h8m-8-11h8m-9 1h8m-8 2h8m-8-5h8m-9 7h8m-9 14h8m-8 0h8m-10-8h8m-8-12h8m-8-7h8m-9 23h8m-10-16h8m-8-4h8m-8 10h8m-10-9h8m-8 6h8m-8 4h8m-8-7h8m-14 12h8m-10-2h8m-9 7h8m-8-6h8m-9 0h8m-8-17h8m-9 11h8m-9 7h8m-9 3h8m-8 1h8m-8-3h8m-8 5h8m-9-8h8m-8-4h8m-8 5h8m-9-11h8m-8 9h8m-9-9h8m-8-9h8m-8 19h8m-9-20h8m-9 28h8m-9-16h8m-10-2h8m-9 17h8m-8-6h8m-9-9h8m-8 16h8m-10-2h8m-9-4h8m-8-13h8m-8 3h8m-10 15h8m-8-20h8m-9 14h8m-8 4h8m-9-24h8m-8 28h8m-10-22h8m-10-1h8m-8 2h8m-10 20h8m-10-12h8m-8-15h8m-9 25h8m-8-5h8m-8 6h8m-8-18h8m-9 14h8m-9 1h8m-10-7h8m-8-2h8m-8 0h8m-9 12h8m-10-26h8m-9 29h8m-11-18h8m-8 11h8m-9-10h8m-9 3h8m-8-2h8m-9-8h8m-8 4h8m-10-2h8m-10 19h8m-9-3h8m-9 6h8m-16-28h8m-9 20h8m-10 0h8m-8-4h8m-11 2h8m-8-17h8m-10 14h8m-14-4h8m-8 17h8m-11-24h8m-16 6h8m-9-12h8m-10 27h8m-9-3h8m-10 6h8m-43-11h8m-14-8h8m-52 2h8m-4 30h8m6 2h8m-3 6h8m6 1h8m5-8h8m-4 6h8m-6-14h8m-5 4h8m-7 9h8m-2-14h8m-2 21h8m-7-24h8m-7 5h8m-5 7h8m-7 1h8m3 1h8m-7-10h8m-4 15h8m-8 4h8m-6-9h8m-1 10h8m-7-9h8m-5 3h8m-8-5h8m-7 6h8m-7-9h8m-1 15h8m-6-6h8m-8 1h8m-1-15h8m-6 15h8m-8-14h8m-7 21h8m-6 0h8m-6-26h8m-7 4h8m-4 14h8m-4-1h8m-8-5h8m-7 14h8m-8-3h8m-8-10h8m-8 11h8m-6-16h8m-8 0h8m-4 19h8m-7-4h8m-8-2h8m-7-2h8m-7 6h8m-8-6h8m-8-13h8m-8 17h8m-6-4h8m-8-6h8m-7 9h8m-7 1h8m-8-13h8m-8-8h8m-7-3h8m-7 25h8m-8-26h8m-7 24h8m-8-3h8m-6-18h8m-8 13h8m-8-13h8m-6-3h8m-8 23h8m-8 2h8m-8-25h8m-7 2h8m-8 25h8m-6-16h8m-7 17h8m-8-19h8m-8 6h8m-7-9h8m-8 11h8m-8-11h8m-7 15h8m-7 7h8m-7-21h8m-7 13h8m-8-20h8m-8 13h8m-8 5h8m-8 10h8m-7-23h8m-8-1h8m-7 7h8m-8-7h8m-7 4h8m-7 18h8m-8 0h8m-7-13h8m-8 12h8m-8-9h8m-7-5h8m-8 7h8m-8-18h8m-7 17h8m-8-5h8m-7-13h8m-8 15h8m-8 8h8m-7-16h8m-8 19h8m-8-23h8m-7 4h8m-8 17h8m-7-8h8m-8 0h8m-8-10h8m-8 5h8m-7 16h8m-7-12h8m-8 3h8m-7-11h8m-8 6h8m-8 1h8m-7-12h8m-8 5h8m-6 1h8m-8 19h8m-8-14h8m-7-10h8m-7 0h8m-8 17h8m-8-8h8m-7 10h8m-8-6h8m-7-6h8m-8 18h8m-7-23h8m-8 2h8m-7 18h8m-8-11h8m-6 12h8m-8-20h8m-8-2h8m-7 1h8m-8 25h8m-8-20h8m-7 1h8m-8 7h8m-8 3h8m-7-2h8m-8 4h8m-8-18h8m-8 13h8m-7 3h8m-7-20h8m-8 15h8m-7 11h8m-8-19h8m-8 12h8m-8-3h8m-8-15h8m-7 1h8m-8 24h8m-8 2h8m-7-5h8m-8-1h8m-8-14h8m-7-5h8m-8 4h8m-7 21h8m-8-20h8m-8 4h8m-7 15h8m-8-1h8m-6-20h8m-6-5h8m-8 25h8m-8-15h8m-8 14h8m-7-5h8m-8 6h8m-8-8h8m-7-5h8m-8 16h8m-7-14h8m-8-5h8m-7 1h8m-8 5h8m-8-13h8m-8 18h8m-6-3h8m-8-12h8m-7 7h8m-8 8h8m-8-1h8m-8 7h8m-7-19h8m-8-1h8m-8 14h8m-7 4h8m-6-11h8m-8 12h8m-7-12h8m-7-2h8m-8 15h8m-8-6h8m-8 4h8m-8-21h8m-7 20h8m-8-14h8m-8 14h8m-7 4h8m-8-8h8m-7-8h8m-8-9h8m-8 14h8m-7 9h8m-8-22h8m-8 17h8m-6-12h8m-7 4h8m-8 16h8m-8-16h8m-6-1h8m-8 11h8m-7-1h8m-7-23h8m-8 14h8m-8 2h8m-8-10h8m-7-1h8m-7 19h8m-8-1h8m-7 7h8m-8-8h8m-7-16h8m-8 3h8m-8-1h8m-8 14h8m-8 7h8m-8-12h8m-8 13h8m-7-4h8m-7-23h8m-8 2h8m-7 9h8m-8 2h8m-8-14h8m-7 16h8m-8-11h8m-8 8h8m-7-9h8m-7-5h8m-8 28h8m-8-5h8m-7-14h8m-8 1h8m-8-5h8m-7 14h8m-7-18h8m-8 9h8m-7 11h8m-8-5h8m-8-7h8m-7-4h8m-7 4h8m-8 8h8m-8 9h8m-8-10h8m-7-13h8m-8 11h8m-6-4h8m-8 10h8m-8 7h8m-7-12h8m-7-7h8m-8-3h8m-8 4h8m-7 2h8m-8-9h8m-7 19h8m-8-18h8m-7 23h8m-8-7h8m-7 1h8m-8 3h8m-8 2h8m-7-11h8m-8 0h8m-8 11h8m-8-26h8m-7 29h8m-7-18h8m-7 16h8m-8-21h8m-8 9h8m-8 0h8m-6-7h8m-8-5h8m-7 3h8m-7 16h8m-8 2h8m-7-3h8m-8-2h8m-8 11h8m-8-3h8m-8-13h8m-6 16h8m-7-15h8m-8-3h8m-8 10h8m-8-11h8m-8-11h8m-7 13h8m-8-12h8m-7 5h8m-8-5h8m-8 11h8m-7 4h8m-7 8h8m-8-9h8m-7-5h8m-7 4h8m-8 8h8m-7-20h8m-8 6h8m-7-5h8m-8 23h8m-8-6h8m-8-11h8m-8 0h8m-8 16h8m-7-16h8m-7 21h8m-8-3h8m-8-4h8m-8 2h8m-8-9h8m-8-16h8m-7 28h8m-7-2h8m-7-26h8m-7 25h8m-8 0h8m-8 3h8m-8-13h8m-6-11h8m-8 25h8m-7-9h8m-6 0h8m-8 3h8m-8-8h8m-8-13h8m-7 1h8m-8 12h8m-7-9h8m-7 9h8m-7 8h8m-8 4h8m-7-7h8m-8-16h8m-8 2h8m-8 15h8m-8-17h8m-7 0h8m-7 10h8m-7-5h8m-8-7h8m-8 6h8m-8 1h8m-7 3h8m-8-7h8m-8 2h8m-8 2h8m-8 15h8m-7 1h8m-7-19h8m-6 1h8m-8 21h8m-8-11h8m-8-1h8m-7 9h8m-8-18h8m-7 14h8m-8-17h8m-7-2h8m-8 19h8m-8-6h8m-7-3h8m-8 14h8m-8-12h8m-6 1h8m-7-8h8m-8 9h8m-7-1h8m-8-1h8m-7-6h8m-8-4h8m-7 23h8m-8-9h8m-7 11h8m-8-20h8m-6 18h8m-8-7h8m-8 4h8m-5-12h8m-7-6h8m-5 21h8m-8-6h8m-6-20h8m-7 6h8m-8 1h8m-5 21h8m-6-29h8m-8 17h8m-8-16h8m-7 25h8m-7-18h8m-6 21h8m-8-16h8m-8 11h8m-7-12h8m-4 1h8m-7 1h8m-7-4h8m-7 11h8m-6-19h8m-7 15h8m-8-8h8m-8 11h8m-5-8h8m-4 0h8m-7 5h8m-7-6h8m-7 16h8m-7-23h8m-7 13h8m-8 3h8m-6 2h8m-6-4h8m-6-10h8m-7 3h8m-6-4h8m-7 9h8m-7 8h8m1-23h8m-7 22h8m-4 2h8m-3-2h8m-3-2h8m-8-19h8m-8 12h8m-7 15h8m-5-10h8m-6-1h8m-4-17h8m-7 19h8m-5-3h8m-5-11h8m-5 8h8m-3-8h8m-7 5h8m-5 17h8m-7-12h8m-8 1h8m8-1h8m-6 7h8m-7 1h8m-4 5h8m6-14h8m-7-7h8m3-1h8m-3 19h8m3-26h8m7 13h8m-4-5h8m12-5h8m0 26h8m-26 3h8m-37 17h8m-20 5h8m-15-6h8m-10-12h8m-8 10h8m-11 11h8m-9-5h8m-11-4h8m-8 7h8m-13-15h8m-9-4h8m-11 13h8m-10-15h8m-8 2h8m-18 4h8m-14-9h8m-10 27h8m-15-17h8m-10-4h8m-14 23h8m-9-1h8m-9-6h8m-8-19h8m-11 14h8m-8 4h8m-9-2h8m-8-12h8m-13 8h8m-9 2h8m-8 1h8m-10 11h8m-11-20h8m-9 18h8m-9-12h8m-11-11h8m-14 18h8m-12-8h8m-8 12h8m-10-12h8m-10 9h8m-8-11h8m-10-8h8m-12 24h8m-11-22h8m-9 20h8m-10-19h8m-9-3h8m-11 3h8m-10-4h8m-9 9h8m-9 10h8m-9-17h8m-9-2h8m-9 23h8m-8-18h8m-9 13h8m-9-18h8m-8 10h8m-9 12h8m-8-16h8m-9-8h8m-10 27h8m-9-13h8m-9-15h8m-8 24h8m-9-9h8m-10-9h8m-8 19h8m-8-21h8m-9 13h8m-8 10h8m-10-11h8m-10 13h8m-9-2h8m-10-15h8m-8 12h8m-10 4h8m-9 0h8m-9-24h8m-9 12h8m-8 7h8m-9-9h8m-8-12h8m-10 7h8m-10 4h8m-8-3h8m-8 3h8m-9 3h8m-9 3h8m-8 6h8m-8 1h8m-9-16h8m-9-6h8m-9 13h8m-8-10h8m-8 8h8m-9-1h8m-8-3h8m-11 11h8m-8 0h8m-9-4h8m-9-17h8m-9 21h8m-9 5h8m-8-22h8m-8 3h8m-8-1h8m-9 22h8m-9-6h8m-8-9h8m-10-12h8m-8-3h8m-8 2h8m-11 12h8m-8 1h8m-8 5h8m-9 9h8m-9-6h8m-8-10h8m-9-4h8m-9 19h8m-9-19h8m-8 16h8m-9-18h8m-8 15h8m-9-3h8m-8-15h8m-9 22h8m-8-18h8m-9 3h8m-8-3h8m-8 4h8m-9-8h8m-8 4h8m-9 13h8m-9-18h8m-8 18h8m-9 5h8m-9-25h8m-8 2h8m-8 0h8m-9 4h8m-10 9h8m-8 12h8m-10-24h8m-8 19h8m-9-4h8m-9-8h8m-8 6h8m-9 2h8m-8-15h8m-10 17h8m-8 0h8m-9-20h8m-9 4h8m-8 21h8m-8-1h8m-11-17h8m-9-3h8m-8 2h8m-10 10h8m-8-5h8m-9 5h8m-11-7h8m-8-7h8m-8 14h8m-11-7h8m-10 15h8m-10-18h8m-8-2h8m-8 14h8m-8-6h8m-9 8h8m-10-15h8m-9 23h8m-8-8h8m-8-8h8m-8-5h8m-9 11h8m-8 2h8m-10-5h8m-8-14h8m-8 6h8m-8 4h8m-8-11h8m-9 17h8m-8 5h8m-9-1h8m-9-4h8m-8-11h8m-9 15h8m-9-19h8m-9-2h8m-8 3h8m-9 11h8m-8-2h8m-9 7h8m-8-3h8m-9 11h8m-8-22h8m-8 10h8m-8-15h8m-9 12h8m-8-10h8m-8 14h8m-8-7h8m-8-9h8m-8 1h8m-9 4h8m-8 12h8m-10-1h8m-8-8h8m-8 5h8m-8-13h8m-9 15h8m-8 0h8m-8-2h8m-8 15h8m-8-11h8m-8 0h8m-9 12h8m-8-8h8m-8 0h8m-9 7h8m-8-23h8m-9 3h8m-8 14h8m-8-19h8m-8-3h8m-9 27h8m-9-7h8m-10 1h8m-9-17h8m-8 7h8m-9-5h8m-9 2h8m-8 5h8m-10-2h8m-8 5h8m-9-12h8m-8 8h8m-8-11h8m-8 25h8m-8-14h8m-9 1h8m-8 5h8m-9 0h8m-8-17h8m-8 2h8m-9 18h8m-8 5h8m-9-17h8m-8-9h8m-8 16h8m-9 1h8m-9-3h8m-8-10h8m-9 8h8m-9 15h8m-9-27h8m-8 15h8m-9-4h8m-8-10h8m-8 12h8m-8-4h8m-10 7h8m-8-7h8m-8 3h8m-8-12h8m-9 28h8m-8-19h8m-9 8h8m-9 10h8m-9-21h8m-8 16h8m-10-20h8m-8 20h8m-8-9h8m-9-5h8m-8 9h8m-8-7h8m-8 9h8m-9-15h8m-9-3h8m-8 12h8m-9 4h8m-8-17h8m-8 15h8m-8 6h8m-9 3h8m-8-7h8m-8-9h8m-9 4h8m-8-4h8m-9 12h8m-8-11h8m-8 8h8m-9-17h8m-9 22h8m-8-5h8m-8-5h8m-8 6h8m-9 10h8m-8-19h8m-9 1h8m-8 14h8m-8-9h8m-8 12h8m-9-21h8m-8 12h8m-9 9h8m-8-12h8m-9-6h8m-8 0h8m-8 11h8m-8 0h8m-8 8h8m-9-28h8m-8 13h8m-8-13h8m-8 19h8m-8-11h8m-9 14h8m-9 0h8m-8-10h8m-8 16h8m-8-26h8m-9 0h8m-9 2h8m-8-4h8m-9 28h8m-8-3h8m-9-11h8m-9 12h8m-8-26h8m-9 8h8m-9-5h8m-8 6h8m-10 8h8m-8 5h8m-8-12h8m-9 10h8m-10-1h8m-8 5h8m-9-25h8m-8 28h8m-9-23h8m-8 12h8m-8-9h8m-10 19h8m-8-10h8m-8-4h8m-9 17h8m-8-23h8m-10 11h8m-8 4h8m-11-6h8m-8 0h8m-8-8h8m-11 3h8m-9-7h8m-8 2h8m-9 10h8m-8-9h8m-9 23h8m-8-17h8m-8-7h8m-9-3h8m-9 16h8m-10 4h8m-8-18h8m-10 24h8m-11-20h8m-8 13h8m-9-1h8m-9-21h8m-8 6h8m-9-5h8m-8 9h8m-8-9h8m-9 7h8m-8-1h8m-9 3h8m-8-1h8m-10 6h8m-8 4h8m-8 4h8m-10-20h8m-8 21h8m-9-22h8m-8 5h8m-8 23h8m-8-28h8m-8 9h8m-8-7h8m-9-2h8m-9 19h8m-9-2h8m-9-13h8m-12 6h8m-9-4h8m-10 20h8m-8-26h8m-9 18h8m-8-11h8m-8 15h8m-10 5h8m-11-1h8m-8-15h8m-9-5h8m-10-6h8m-11-1h8m-10 0h8m-9 3h8m-8 21h8m-9-15h8m-9-6h8m-8 26h8m-8-7h8m-9-17h8m-9-3h8m-9 15h8m-10 10h8m-8-7h8m-12-14h8m-10-4h8m-8 16h8m-12-18h8m-10 19h8m-8 0h8m-12 3h8m-8-12h8m-9 1h8m-9 7h8m-9-5h8m-8 10h8m-10 4h8m-12 0h8m-12-16h8m-13-5h8m-8 10h8m-10 10h8m-9 0h8m-8-16h8m-12 0h8m-12 5h8m-14-12h8m-11 8h8m-21-5h8m-29 22h8m-37-16h8m-12 8h8m-8-1h8m6 12h8m19 2h8m-8 22h8m-5-4h8m-6-11h8m8-4h8m-7 4h8m-7 1h8m-1 13h8m-5-11h8m-2-9h8m-7 5h8m-4 2h8m-2-7h8m-7 6h8m5-2h8m-8 12h8m-7 5h8m-7-2h8m-7-20h8m-7 1h8m-8 4h8m-6 5h8m-3-13h8m-2 2h8m-8 1h8m-5-2h8m-8 20h8m-7 3h8m-7-24h8m-8 6h8m-7 18h8m-7 1h8m-6-17h8m-7 15h8m-2-19h8m-8 3h8m-5-3h8m-5 9h8m-7 14h8m-5-2h8m-7-19h8m-5-1h8m-8 8h8m-7-11h8m-8 20h8m-8-2h8m-7-9h8m-7-9h8m-8 23h8m-6-15h8m-8-8h8m-7-1h8m-7 13h8m-8-4h8m-5 8h8m-6 7h8m-7-6h8m-8-17h8m-8 6h8m-5 6h8m-7-4h8m-8 19h8m-8-13h8m-7 11h8m-8-28h8m-7 7h8m-5 18h8m-8-22h8m-7-2h8m-7 19h8m-8-10h8m-8 19h8m-7-5h8m-8-5h8m-8-7h8m-5 1h8m-7-7h8m-8 8h8m-8 11h8m-7-8h8m-6-8h8m-6 2h8m-7-4h8m-6 18h8m-7-14h8m-6 7h8m-7-4h8m-8 0h8m-7 6h8m-7-8h8m-5-10h8m-7 0h8m-7-2h8m-7 10h8m-8-7h8m-8 11h8m-7-11h8m-8 19h8m-8-19h8m-6 14h8m-6-13h8m-8 15h8m-7 0h8m-8-1h8m-7 0h8m-5-13h8m-8-4h8m-8 25h8m-7-20h8m-7 23h8m-8-28h8m-7 22h8m-8-10h8m-7-2h8m-8 3h8m-7 7h8m-8-13h8m-8-7h8m-8 27h8m-7-5h8m-8-8h8m-6-14h8m-8 1h8m-7 4h8m-5 6h8m-6 14h8m-7-10h8m-8-9h8m-7 11h8m-6-15h8m-7 3h8m-7 18h8m-7-24h8m-7 12h8m-8-4h8m-7 17h8m-8-20h8m-6 13h8m-7-6h8m-7-5h8m-8 14h8m-8-8h8m-7 5h8m-7-18h8m-8 21h8m-7-20h8m-8 20h8m-8-9h8m-7 9h8m-7-1h8m-8-11h8m-7 13h8m-8-12h8m-8 4h8m-7-4h8m-8 13h8m-7-11h8m-8-10h8m-8 5h8m-8 21h8m-7-28h8m-7 15h8m-6 3h8m-5-13h8m-8 1h8m-8 1h8m-8 9h8m-6 3h8m-8-13h8m-8-5h8m-7 3h8m-8 11h8m-6-11h8m-7 5h8m-7 5h8m-6-3h8m-8-1h8m-8-7h8m-7 3h8m-8 16h8m-7-11h8m-8 6h8m-8 11h8m-7-1h8m-7-23h8m-8 3h8m-8 5h8m-8 6h8m-7 8h8m-8-8h8m-7-12h8m-7 22h8m-8-11h8m-8 8h8m-8-12h8m-7 0h8m-7-8h8m-7 7h8m-5 15h8m-8-2h8m-7-17h8m-8 13h8m-7-7h8m-8-10h8m-7 7h8m-6 2h8m-8-13h8m-7 6h8m-8 7h8m-8 7h8m-7 2h8m-8-4h8m-7-3h8m-7 2h8m-8-17h8m-6 9h8m-7-2h8m-6 13h8m-8-19h8m-7 8h8m-7 15h8m-7-8h8m-8 9h8m-7-20h8m-8 12h8m-6-6h8m-7-5h8m-8 8h8m-5-9h8m-6 2h8m-8-1h8m-7-4h8m-7 25h8m-8-13h8m-6-6h8m-8-4h8m-7 25h8m-7-9h8m-8-14h8m-7 14h8m-7-7h8m-8-7h8m-6 5h8m-8 2h8m-8-3h8m-7 3h8m-7-8h8m-7 22h8m-8-16h8m-7-2h8m-6-3h8m-4-4h8m-6 17h8m-8-9h8m-5-8h8m-8 14h8m-7-16h8m-7 13h8m-8-8h8m-7-2h8m-3 7h8m-6 14h8m-8-5h8m-7-5h8m-8-6h8m-5-3h8m-3 18h8m-5-14h8m-8 20h8m-7-28h8m-8 10h8m-7 1h8m-6-6h8m-3 3h8m-6 18h8m-8-1h8m-8-6h8m-7-16h8m-8 12h8m-5 9h8m-8-12h8m-7-7h8m-7 2h8m-6-5h8m-7 26h8m-3-25h8m-6 5h8m-5 16h8m-7-19h8m-7 21h8m-5-20h8m-3-1h8m-7 6h8m-4-1h8m-3-6h8m-8-4h8m-5 8h8m-6 10h8m-2-10h8m-8 11h8m-7 0h8m-6-2h8m-2-5h8m-4 13h8m-4-20h8m-7 6h8m-3-11h8m-1 2h8m0 12h8m-8 7h8m-5-9h8m-6-6h8m-8 10h8m7-16h8m-1 13h8m-6-11h8m-5 16h8m4-3h8m4-16h8m7 8h8m3 15h8m27 0h8m32-7h8m-5-8h8m-76 26h8m-37 12h8m-19 11h8m-9-15h8m-19 17h8m-13-11h8m-11-2h8m-15-1h8m-16 6h8m-9-6h8m-11-7h8m-11 12h8m-14 8h8m-9-19h8m-9 12h8m-10-3h8m-11 8h8m-8-4h8m-10 3h8m-10-22h8m-8 10h8m-11 14h8m-16-12h8m-24 1h8m-9-6h8m-13 14h8m-21 3h8m-12-19h8m-13 17h8m-17-15h8m-10 19h8m-8-8h8m-9-1h8m-10-14h8m-12 12h8m-8-14h8m-10 21h8m-16-23h8m-9 11h8m-11 8h8m-10-21h8m-11 14h8m-9-4h8m-8-6h8m-9-3h8m-9 26h8m-10-18h8m-10-3h8m-8 5h8m-10 16h8m-10-27h8m-8 29h8m-8-20h8m-9 0h8m-8-7h8m-9 10h8m-9 2h8m-12-13h8m-11 0h8m-12 13h8m-10 11h8m-10-22h8m-9 8h8m-8-1h8m-10-8h8m-8 9h8m-11 1h8m-10 9h8m-9-12h8m-9 7h8m-12-7h8m-9-5h8m-10 9h8m-8 8h8m-9 7h8m-10-4h8m-10 2h8m-10-3h8m-10-16h8m-8 9h8m-14-7h8m-10-5h8m-9 0h8m-10 18h8m-8-8h8m-9-12h8m-10 3h8m-13 25h8m-9-16h8m-10 14h8m-9-3h8m-8-23h8m-9 1h8m-8 18h8m-9 5h8m-8-7h8m-10-8h8m-9-11h8m-9 9h8m-8 21h8m-9-23h8m-8 11h8m-9-7h8m-9-2h8m-11 1h8m-9-8h8m-8 12h8m-13 2h8m-8 3h8m-10-10h8m-8-6h8m-11-2h8m-9 23h8m-10-24h8m-10 23h8m-9-16h8m-9 17h8m-9 6h8m-8-22h8m-11 7h8m-8 15h8m-10-21h8m-8-3h8m-9 1h8m-11-1h8m-8-4h8m-9 5h8m-8 2h8m-9-2h8m-10 21h8m-9 1h8m-10-15h8m-11-1h8m-9 12h8m-10-12h8m-8-12h8m-10 15h8m-9-1h8m-10 7h8m-8-10h8m-9 4h8m-10 6h8m-10-17h8m-9 5h8m-8 12h8m-9-21h8m-8 14h8m-9 14h8m-9-6h8m-10-3h8m-9-6h8m-11-9h8m-9 17h8m-9-15h8m-8-3h8m-11 9h8m-9 0h8m-13 4h8m-8-7h8m-11-4h8m-9 12h8m-8-11h8m-10 3h8m-10-1h8m-9-4h8m-11 18h8m-8-8h8m-9-12h8m-12 10h8m-9-11h8m-10 24h8m-10-7h8m-8-13h8m-8-4h8m-10 2h8m-10 21h8m-9-3h8m-9-12h8m-9-9h8m-10 13h8m-11 5h8m-9-5h8m-9-7h8m-10-5h8m-10 5h8m-10-1h8m-14 4h8m-13-4h8m-10 0h8m-8 17h8m-14 3h8m-8-12h8m-8 9h8m-12-21h8m-16 16h8m-17-7h8m-10-2h8m-14 0h8m-9 12h8m-9-2h8m-13-18h8m-9 17h8m-12-5h8m-12 11h8m-14-6h8m-15-8h8m-34-4h8m-35 10h8m-26-3h8m43 47h8m-4-29h8m0 26h8m-4-12h8m-6 8h8m19-21h8m1 27h8m-5-1h8m8-10h8m-1-14h8m-8 10h8m1 7h8m-4-19h8m-7 12h8m-5-4h8m-7-6h8m2 17h8m-4-2h8m-7 5h8m-4-2h8m-7-22h8m-5 17h8m-2 8h8m-8-24h8m-5 5h8m-5 6h8m-4-8h8m-6 14h8m-1 4h8m-7-14h8m-7 12h8m3-15h8m-3-1h8m-8-4h8m-5 15h8m-3-4h8m-3 3h8m-6 3h8m-8-16h8m-7 14h8m-5-13h8m-3 1h8m-7 8h8m-8 8h8m-6-8h8m-2-5h8m-6 18h8m-7-22h8m-7 15h8m-8-11h8m-4 11h8m-8-2h8m-1-6h8m-6-2h8m-5 15h8m-8-17h8m-4 13h8m-8-2h8m-4-12h8m-7-3h8m-7 1h8m-6 1h8m-7 5h8m-7-3h8m-7 7h8m-8 2h8m-7-10h8m-7 1h8m-3 8h8m-1 11h8m-8 3h8m-6-8h8m-7-12h8m-6 23h8m-8-18h8m-6 17h8m-7-24h8m-5 4h8m-7-4h8m-6 11h8m-7-11h8m-5-3h8m-2 19h8m-8-1h8m-5-16h8m-1 23h8m-5-11h8m-7-13h8m-2-3h8m-8 21h8m-7 3h8m0-13h8m-5 14h8m-2-19h8m-4 20h8m-7-12h8m-6 6h8m-6-5h8m-7 6h8m-7 1h8m-7-7h8m0 14h8m-4-1h8m-6 0h8m-4-17h8m-5 1h8m-5 6h8m4 7h8m-5 3h8m-8-16h8m1 14h8m6-14h8m-2 11h8m-2-18h8m-7 0h8m-3 18h8m-1 5h8m-6-2h8m-2-4h8m0 0h8m-2 3h8m-1-12h8m6-9h8m18 4h8m3 0h8m1 16h8m29 10h8m-19 15h8m-29 6h8m-14-14h8m-19-2h8m-16-8h8m-8 0h8m-16 23h8m-51-19h8m-28-2h8m-10 24h8m-9-15h8m-33 15h8m-18-17h8m-12 5h8m-10-2h8m-11 0h8m-13 16h8m-12-20h8m-10 21h8m-12-29h8m-20 14h8m-11 3h8m-9 4h8m-9-20h8m-11 19h8m-25-19h8m-15 18h8m-8-1h8m-31 1h8m-13-7h8m-20-2h8m-13 0h8m-9-8h8m-11 5h8m-9 6h8m-8 5h8m-8 3h8m-11-6h8m-9 11h8m-8-9h8m-15-2h8m-11-2h8m-12-12h8m-11 23h8m-13-17h8m-10 4h8m-9 13h8m-10-20h8m-18 7h8m-11 1h8m-8 2h8m-13-14h8m-17 1h8m-15 20h8m-10 1h8m-10-19h8m-9 7h8m-9-9h8m-13 2h8m-20 16h8m-26-2h8m-12-10h8m-14-4h8m-15 17h8m-10-9h8m-13 0h8m-11 15h8m-21-13h8m-15-11h8m-20 2h8m-10 6h8m-12-7h8m-12 11h8m-11 2h8m-10 8h8m-8-1h8m-20-1h8m-9-21h8m-31 5h8m-10-1h8m-10 7h8m-19 14h8m-50-14h8m-18 0h8m4 21h8m10 23h8m-2-4h8m4 3h8m14 2h8m0-3h8m7 3h8m-4 2h8m-7-12h8m6-13h8m1 23h8m-4-3h8m-2-21h8m1 2h8m-8 23h8m-4-15h8m6 16h8m-2-15h8m-7 14h8m-2-18h8m0 8h8m-7-13h8m4-1h8m-5 25h8m-7-26h8m-6 0h8m-6 3h8m-2 16h8m-5-23h8m4 6h8m-4 0h8m1 13h8m-2-10h8m-5 19h8m-3-26h8m-4-2h8m-6 11h8m-7-3h8m-3 0h8m-3 0h8m3 19h8m-8-7h8m-7-19h8m-7 0h8m-7 10h8m-7 0h8m-6-10h8m6 24h8m-6-6h8m-8-14h8m-4 7h8m17 9h8m-7-5h8m-6-15h8m-2 7h8m-4-3h8m1 13h8m-7-16h8m-5 11h8m-1 2h8m2 8h8m-3 7h8m38-22h8m0-6h8m-5 18h8m1 9h8m21-19h8m6 7h8m28-5h8m-43 29h8m-22-9h8m-51 6h8m-15 16h8m-39 6h8m-13-18h8m-33 1h8m-9 7h8m-15 10h8m-18-29h8m-23 26h8m-12-19h8m-22-2h8m-8 4h8m-19 8h8m-16 0h8m-11-16h8m-11 1h8m-13-3h8m-10 29h8m-8-27h8m-13 17h8m-19-1h8m-17 1h8m-10 7h8m-19-10h8m-20-13h8m-33 15h8m-23-11h8m-9 7h8m-13-6h8m-9 20h8m-10-2h8m-8-19h8m-23-4h8m-10 21h8m-15-5h8m-11-17h8m-17 0h8m-16 0h8m-12 24h8m-24-10h8m-21 2h8m-8-5h8m-12-4h8m-14 2h8m-24 2h8m-27 15h8m-12-11h8m-36 5h8m-13 2h8m-28-23h8m73 45h8m3-1h8m2-4h8m13-5h8m-5 6h8m15 8h8m14-9h8m-7-7h8m28 3h8m21 1h8m-3 0h8m0-6h8m12 7h8m26-2h8m-2 4h8m15 7h8m2-7h8m3-10h8m3 17h8m79-7h8m18-9h8" stroke="#000" stroke-width="8" stroke-opacity="0.72" fill="none"/>
<line x1="385.2" y1="587.4" x2="385.2" y2="663.3" stroke="#de7c80" stroke-width="0.65"/>
<line x1="347.3" y1="629.1" x2="425.5" y2="629.1" stroke="#de7c80" stroke-width="0.65"/>
<rect x="347.3" y="587.4" width="78.2" height="75.9" fill="none" stroke="#7d7eab" stroke-width="0.85"/>
<path d="M344.9 663.3H347.3M345.8 658.0H347.3M345.8 654.9H347.3M345.8 652.7H347.3M345.8 651.0H347.3M345.8 649.6H347.3M345.8 648.4H347.3M345.8 647.4H347.3M345.8 646.5H347.3M344.9 645.6H347.3M345.8 640.3H347.3M345.8 637.2H347.3M345.8 635.0H347.3M345.8 633.3H347.3M345.8 631.9H347.3M345.8 630.7H347.3M345.8 629.7H347.3M345.8 628.8H347.3M344.9 628.0H347.3M345.8 622.7H347.3M345.8 619.6H347.3M345.8 617.4H347.3M345.8 615.7H347.3M345.8 614.3H347.3M345.8 613.1H347.3M345.8 612.1H347.3M345.8 611.2H347.3M344.9 610.3H347.3M345.8 605.0H347.3M345.8 601.9H347.3M345.8 599.7H347.3M345.8 598.0H347.3M345.8 596.6H347.3M345.8 595.4H347.3M345.8 594.4H347.3M345.8 593.5H347.3M344.9 592.7H347.3M347.3 663.3V665.7M352.8 663.3V664.8M356.0 663.3V664.8M358.2 663.3V664.8M360.0 663.3V664.8M361.5 663.3V664.8M362.7 663.3V664.8M363.7 663.3V664.8M364.7 663.3V664.8M365.5 663.3V665.7M371.0 663.3V664.8M374.2 663.3V664.8M376.4 663.3V664.8M378.2 663.3V664.8M379.6 663.3V664.8M380.9 663.3V664.8M381.9 663.3V664.8M382.8 663.3V664.8M383.7 663.3V665.7M389.1 663.3V664.8M392.3 663.3V664.8M394.6 663.3V664.8M396.4 663.3V664.8M397.8 663.3V664.8M399.0 663.3V664.8M400.1 663.3V664.8M401.0 663.3V664.8M401.9 663.3V665.7M407.3 663.3V664.8M410.5 663.3V664.8M412.8 663.3V664.8M414.6 663.3V664.8M416.0 663.3V664.8M417.2 663.3V664.8M418.3 663.3V664.8M419.2 663.3V664.8M420.0 663.3V665.7" stroke="#6e6fae" stroke-width="0.6" fill="none"/>
<g font-size="5.4" fill="#c8434f"><text x="347.7" y="592.8">Q1-UL</text><text x="347.7" y="597.1">1.2%</text><text x="424.7" y="592.8" text-anchor="end">Q1-UR</text><text x="424.7" y="597.1" text-anchor="end">0.3%</text><text x="347.7" y="658.1">Q1-LL</text><text x="347.7" y="662.7">91.3%</text><text x="424.7" y="658.1" text-anchor="end">Q1-LR</text><text x="424.7" y="662.7" text-anchor="end">7.6%</text></g>
<text x="383.3" y="677.1" font-size="5.1" text-anchor="middle" fill="#333">Annexin V-FITC-A</text>
<text x="338.3" y="625.3" font-size="5.6" text-anchor="middle" fill="#333" transform="rotate(-90 338.3 625.3)">PI-A</text>
<text x="348.8" y="670.8" font-size="3.6" text-anchor="end" fill="#6a6aa0" transform="rotate(-30 348.8 670.8)">10</text><text x="343.7" y="664.8" font-size="3.6" text-anchor="start" fill="#6a6aa0" transform="rotate(-90 343.7 664.8)">10</text><text x="367.0" y="670.8" font-size="3.6" text-anchor="end" fill="#6a6aa0" transform="rotate(-30 367.0 670.8)">10</text><text x="343.7" y="647.1" font-size="3.6" text-anchor="start" fill="#6a6aa0" transform="rotate(-90 343.7 647.1)">10</text><text x="385.2" y="670.8" font-size="3.6" text-anchor="end" fill="#6a6aa0" transform="rotate(-30 385.2 670.8)">10</text><text x="343.7" y="629.5" font-size="3.6" text-anchor="start" fill="#6a6aa0" transform="rotate(-90 343.7 629.5)">10</text><text x="403.4" y="670.8" font-size="3.6" text-anchor="end" fill="#6a6aa0" transform="rotate(-30 403.4 670.8)">10</text><text x="343.7" y="611.8" font-size="3.6" text-anchor="start" fill="#6a6aa0" transform="rotate(-90 343.7 611.8)">10</text><text x="427.0" y="670.8" font-size="3.6" text-anchor="end" fill="#6a6aa0" transform="rotate(-30 427.0 670.8)">10</text><text x="343.7" y="588.9" font-size="3.6" text-anchor="start" fill="#6a6aa0" transform="rotate(-90 343.7 588.9)">10</text>
<path transform="scale(0.1)" d="M4770 6183h8m291 48h8m-379 4h8m-62 13h8m136 22h8m7-10h8m200 14h8m-14 21h8m-22-23h8m-40 1h8m-24 16h8m-19 2h8m-16-2h8m-24-1h8m-13 11h8m-15-28h8m-34 16h8m-11-1h8m-12 6h8m-12 4h8m-28-20h8m-19 14h8m-9 3h8m-9-23h8m-11 10h8m-10-1h8m-14 15h8m-10 1h8m-21-5h8m-39-12h8m-9 6h8m-9 4h8m-16 0h8m-13 10h8m-12-20h8m-12 19h8m-8 2h8m-9-11h8m-9 12h8m-12-4h8m-10-11h8m-17 1h8m-11-4h8m-9 6h8m-12-11h8m-9 16h8m-8-21h8m-9 12h8m-9 9h8m-9-3h8m-9-18h8m-9 19h8m-9 1h8m-9-10h8m-9 14h8m-9-2h8m-10-7h8m-9 9h8m-12-8h8m-9-11h8m-10 18h8m-11-6h8m-8 10h8m-9-19h8m-10-2h8m-11 7h8m-9-6h8m-9 6h8m-9-11h8m-10 23h8m-8-16h8m-24 11h8m-10-14h8m-8 15h8m-11-3h8m-12 5h8m-8 3h8m-15-20h8m-18 16h8m-10 2h8m-10-7h8m-18-11h8m-10 16h8m-9-19h8m-10-1h8m-11 6h8m-19-8h8m-17 16h8m-34-2h8m-10 11h8m-14-24h8m-15 3h8m-17 20h8m-33-10h8m-12 44h8m-6-6h8m-5 6h8m2-29h8m-1 2h8m18 26h8m1-16h8m2 7h8m-5-11h8m-2 14h8m-8-14h8m-6 3h8m-6 9h8m-6 4h8m-7-10h8m2 6h8m-7-14h8m-6-6h8m-6 8h8m-6 11h8m-8 4h8m-5 5h8m-7 0h8m-7-20h8m-7 18h8m-5 1h8m-7-9h8m-6 0h8m-5-15h8m-7 18h8m-8-4h8m-8 0h8m2 7h8m-5-3h8m-4-13h8m-7-7h8m-8 15h8m-6-15h8m-8 13h8m-8 11h8m-6-7h8m-8 1h8m-6-5h8m-6 2h8m-7 12h8m-7-20h8m-7 13h8m-5 5h8m-8-8h8m-6-15h8m-7-1h8m-7 22h8m-7-17h8m-7 22h8m-8-21h8m-6 10h8m-8 5h8m-7-16h8m-5-3h8m-8 16h8m-5-6h8m-7 5h8m-4-15h8m-7-3h8m-8 21h8m-7-19h8m-6-4h8m-7 28h8m-4-13h8m-8 9h8m-7 0h8m-7-14h8m-8 3h8m-6-6h8m-7 9h8m-6-13h8m-7 25h8m-7-5h8m-8-20h8m-6 1h8m-6 8h8m-8 6h8m-7 1h8m-6 8h8m-8-8h8m-7-2h8m-7-10h8m-8 10h8m-3 13h8m-7-12h8m-8-18h8m-5 17h8m-8 12h8m-8-1h8m-7-19h8m-8 4h8m-8-6h8m-7 4h8m-8-1h8m-8-8h8m-6 28h8m-3-20h8m-4 9h8m-7-12h8m-8 18h8m-2 3h8m-8-8h8m-8-16h8m-7 26h8m-6-23h8m-8 21h8m-6-23h8m-7 21h8m-6-8h8m-7-18h8m-7 5h8m-8 24h8m-6-24h8m-8 10h8m-7 2h8m-7 5h8m-5 1h8m-7-1h8m-8-5h8m-5-2h8m-8 15h8m-6-25h8m-8 7h8m-8 1h8m-7-2h8m-7 2h8m-6-7h8m-7 10h8m-3 12h8m-7 2h8m-7-4h8m-7-19h8m-8 7h8m-7 9h8m-8 2h8m-7-10h8m-5-12h8m-7 27h8m-7-5h8m-8-7h8m-6 5h8m-4 1h8m-5-9h8m-5-8h8m-6 19h8m-6-16h8m-2 12h8m-4 7h8m-5-7h8m-8-15h8m-7 2h8m-8 18h8m-7-12h8m-7-2h8m-8-4h8m-6 4h8m-7-1h8m-7-1h8m-8 10h8m-8-8h8m-6 7h8m-6-7h8m-7 14h8m-8-2h8m-4-6h8m-6-7h8m-8-12h8m4 28h8m-7-6h8m4-12h8m-6 10h8m-5-14h8m22 13h8m4 2h8m-3-9h8m-4 10h8m-4-1h8m9-2h8m7-1h8m31 6h8m14-20h8m49 3h8m-104 24h8m-17 5h8m-22 12h8m-14-4h8m-8 5h8m-9 2h8m-14-7h8m-17-7h8m-13 21h8m-19-4h8m-9-17h8m-12 2h8m-8 9h8m-10 0h8m-20-5h8m-13 11h8m-10-5h8m-15-13h8m-10-2h8m-17 15h8m-11 7h8m-11-1h8m-8-10h8m-16-9h8m-9 1h8m-9 16h8m-15-8h8m-8 2h8m-11-16h8m-9 25h8m-9-13h8m-9 5h8m-8-2h8m-9-4h8m-9 10h8m-13-13h8m-9 17h8m-9-11h8m-11-14h8m-9 22h8m-10-6h8m-9-2h8m-11-5h8m-12 18h8m-11-8h8m-9-3h8m-8 11h8m-8-16h8m-15-10h8m-8 28h8m-11-16h8m-10 15h8m-8-20h8m-9 13h8m-9-13h8m-10 13h8m-10-1h8m-11-11h8m-8 8h8m-9-4h8m-8-7h8m-9 6h8m-9 15h8m-9 2h8m-8-11h8m-8 3h8m-9-12h8m-9 2h8m-8 0h8m-9 14h8m-9-10h8m-9-3h8m-8-7h8m-10 0h8m-8 11h8m-8 11h8m-9-26h8m-8 22h8m-9-5h8m-9 10h8m-10-27h8m-10 27h8m-9-13h8m-9 1h8m-9 7h8m-10-10h8m-8 10h8m-9-2h8m-8-19h8m-8 19h8m-8-2h8m-9 7h8m-9-5h8m-8 3h8m-9-21h8m-8 0h8m-9 4h8m-8-5h8m-10 18h8m-8-17h8m-11 14h8m-11-17h8m-8 23h8m-9-5h8m-10 0h8m-9 9h8m-8-23h8m-8 19h8m-9-1h8m-8-16h8m-8-1h8m-9 10h8m-10-13h8m-9 7h8m-8 17h8m-9-27h8m-9 22h8m-8-18h8m-8 23h8m-8 3h8m-9-2h8m-8-12h8m-9-14h8m-8 4h8m-9 10h8m-8-4h8m-8-2h8m-9-2h8m-9 22h8m-9-24h8m-8 3h8m-8 7h8m-10-10h8m-8 14h8m-8 10h8m-9-26h8m-9 17h8m-8 0h8m-9 8h8m-8-25h8m-9-3h8m-8 26h8m-9-15h8m-10 6h8m-8-11h8m-9 2h8m-8 6h8m-8 3h8m-9-2h8m-9 0h8m-9 7h8m-8-16h8m-9 7h8m-8 0h8m-9 3h8m-8-14h8m-9 2h8m-9 20h8m-9-6h8m-9 9h8m-11 1h8m-9-6h8m-10-9h8m-8 15h8m-9-7h8m-9-9h8m-8-9h8m-9 18h8m-8 0h8m-9-21h8m-10 7h8m-8 19h8m-8-1h8m-9-14h8m-9-11h8m-9 18h8m-8-10h8m-9 15h8m-10-1h8m-8-13h8m-10 15h8m-8-5h8m-9-4h8m-10 4h8m-8-14h8m-9 7h8m-9 9h8m-8-12h8m-9 9h8m-9-14h8m-8-5h8m-9 15h8m-8 12h8m-9-21h8m-9 18h8m-8-11h8m-8 7h8m-9-1h8m-8 9h8m-9-23h8m-9 3h8m-8 18h8m-9-4h8m-9 4h8m-9-12h8m-10 5h8m-8-2h8m-9 5h8m-8-16h8m-9-5h8m-8 17h8m-10 1h8m-9-11h8m-8-6h8m-9 5h8m-9 6h8m-8 15h8m-9-17h8m-11 15h8m-11-6h8m-8 4h8m-8-22h8m-8 19h8m-8-8h8m-9-7h8m-8-4h8m-9 17h8m-8-4h8m-8 10h8m-9-2h8m-9-10h8m-9 16h8m-8-27h8m-8 18h8m-8 0h8m-8-15h8m-9 14h8m-9-13h8m-9 13h8m-8-5h8m-8 12h8m-9-17h8m-10-9h8m-8 17h8m-9-3h8m-10 15h8m-8-2h8m-10-9h8m-8-4h8m-8 8h8m-10 6h8m-10-14h8m-8-4h8m-9-8h8m-11 23h8m-8-16h8m-9-7h8m-8 6h8m-8 20h8m-9-24h8m-10 9h8m-8 9h8m-9-14h8m-8 20h8m-11-27h8m-8 18h8m-8 5h8m-8-17h8m-9 16h8m-11-17h8m-9 23h8m-9-23h8m-9 14h8m-11-10h8m-10 15h8m-8-8h8m-9 7h8m-9 3h8m-12-6h8m-8-19h8m-11 2h8m-8-3h8m-10 24h8m-8-1h8m-10-19h8m-9 4h8m-9-5h8m-10 3h8m-9 17h8m-9-4h8m-11 4h8m-9-14h8m-9 20h8m-13-25h8m-8 25h8m-12-13h8m-9-3h8m-11 5h8m-8-18h8m-9 20h8m-9-9h8m-16-11h8m-11 21h8m-15 1h8m-9 1h8m-11-7h8m-10 0h8m-10 6h8m-10 2h8m-22-11h8m-9-2h8m-17 11h8m-18-1h8m-28 19h8m8 7h8m-2 1h8m-8 8h8m-4-5h8m6-6h8m-4 7h8m-5 6h8m-3-9h8m-7 0h8m-7-6h8m-5 7h8m-5 9h8m-8-13h8m-6-14h8m-6 24h8m-7-24h8m-8 2h8m-7 16h8m6 1h8m-8 7h8m-8-21h8m-7 1h8m-8 10h8m-7-2h8m-7-9h8m-5-6h8m-8 14h8m-5 5h8m-8-10h8m-7 9h8m-7-12h8m-6 22h8m-1-19h8m-7 11h8m-7-10h8m-8 15h8m-7-21h8m-5 6h8m-8 2h8m-7 1h8m-7-11h8m-7 8h8m-8 5h8m-5 5h8m-6-1h8m-7 0h8m-7 1h8m-8 5h8m-6-24h8m-8 14h8m-7-4h8m-8 5h8m-8-15h8m-7 6h8m-8 3h8m-7 7h8m-6 8h8m-8-5h8m-8-1h8m-4-8h8m-8 6h8m-6 11h8m-7-18h8m-7 15h8m-8-20h8m-6-1h8m-7 22h8m-8-21h8m-7 2h8m-8 17h8m-8-21h8m-7 11h8m-6-6h8m-8-8h8m-7 20h8m-7-13h8m-8 16h8m-7 2h8m-8-10h8m-8-7h8m-6 5h8m-7 0h8m-8 9h8m-8-4h8m-7-16h8m-8 0h8m-7 23h8m-8-22h8m-8 18h8m-8-13h8m-7 9h8m-8-10h8m-7 9h8m-7-3h8m-7 8h8m-8-7h8m-7 2h8m-7-1h8m-5 9h8m-8-21h8m-7 22h8m-8-8h8m-7-18h8m-6 27h8m-8-16h8m-5 7h8m-8-5h8m-7 10h8m-8 4h8m-8-13h8m-7-2h8m-7 1h8m-8-3h8m-7-9h8m-8 13h8m-8-8h8m-8 19h8m-8-13h8m-8 3h8m-7-15h8m-8 0h8m-8 17h8m-7 3h8m-8 0h8m-8 7h8m-7-16h8m-8 14h8m-6-21h8m-8 7h8m-8-6h8m-8 1h8m-8 16h8m-7-5h8m-7-9h8m-8 7h8m-8-14h8m-7 8h8m-8 7h8m-8 10h8m-8-5h8m-7 3h8m-8-22h8m-8 6h8m-7 19h8m-8-18h8m-8 18h8m-8-21h8m-7 1h8m-7-5h8m-8 27h8m-8-20h8m-8 16h8m-7 3h8m-8-22h8m-8 4h8m-7 2h8m-7 8h8m-8-6h8m-6 1h8m-8-8h8m-7 19h8m-8 1h8m-8-10h8m-8-6h8m-5 14h8m-7-12h8m-8-6h8m-8 6h8m-8-14h8m-7 28h8m-8-25h8m-8-3h8m-7 15h8m-7 13h8m-8-14h8m-8 8h8m-7-21h8m-7 20h8m-8 6h8m-8-23h8m-7 9h8m-8-7h8m-8 20h8m-6-8h8m-8-4h8m-8 11h8m-6-3h8m-8-8h8m-7 15h8m-8-5h8m-8-2h8m-8-13h8m-8 8h8m-8-16h8m-7 13h8m-8-8h8m-7 17h8m-8 1h8m-8 1h8m-8-16h8m-7 10h8m-8 8h8m-7-9h8m-8-11h8m-8 13h8m-7-14h8m-8-3h8m-8 25h8m-8-18h8m-7 7h8m-8-16h8m-7 27h8m-7 1h8m-8-26h8m-8 17h8m-8 9h8m-8-29h8m-8 8h8m-8 12h8m-7-20h8m-8 11h8m-7 2h8m-7 13h8m-8-18h8m-8 3h8m-7 19h8m-8-10h8m-7-14h8m-8-4h8m-7-1h8m-7 16h8m-8-14h8m-7 12h8m-8 6h8m-7-19h8m-8 19h8m-7-14h8m-8 15h8m-7 1h8m-8-14h8m-8 4h8m-7-1h8m-7 16h8m-7-20h8m-8-3h8m-8 16h8m-7-3h8m-7 5h8m-8-16h8m-8 7h8m-8-7h8m-7 0h8m-7 10h8m-8 4h8m-8-2h8m-7-5h8m-8-8h8m-7 16h8m-8-12h8m-8 17h8m-8-14h8m-7 3h8m-7-4h8m-8-6h8m-8 14h8m-8-10h8m-8 17h8m-8-25h8m-8 14h8m-8 7h8m-7-16h8m-8 9h8m-8-1h8m-8-3h8m-7 8h8m-7 5h8m-8 2h8m-8 2h8m-8-5h8m-7-6h8m-8-17h8m-8 11h8m-7 4h8m-7 14h8m-8-6h8m-8-21h8m-8 3h8m-7-2h8m-7 20h8m-8 0h8m-8-2h8m-7 4h8m-8-4h8m-8 1h8m-7-15h8m-8 20h8m-8-25h8m-8 16h8m-8 6h8m-7-25h8m-8 17h8m-7 2h8m-7 4h8m-7-16h8m-7 3h8m-8-7h8m-8 17h8m-7-19h8m-8 24h8m-8-15h8m-7-1h8m-8 18h8m-7-20h8m-6 1h8m-7 16h8m-8 1h8m-8-11h8m-7-11h8m-8 2h8m-7 0h8m-6 10h8m-8 13h8m-8-24h8m-7 26h8m-8-12h8m-7-5h8m-8-5h8m-8 11h8m-8-14h8m-7 7h8m-8 0h8m-8-4h8m-8-8h8m-7 24h8m-8-22h8m-7 0h8m-7 21h8m-8-16h8m-7-1h8m-8-2h8m-8 15h8m-6-15h8m-8 16h8m-8 9h8m-7-19h8m-7 2h8m-7-5h8m-6 21h8m-7-24h8m-7 23h8m-7-16h8m-7 10h8m-8 8h8m-7-23h8m-7 8h8m-8-5h8m-6 3h8m-7 5h8m-8-10h8m-6 22h8m-8-11h8m-8-16h8m-6-1h8m-7 24h8m-8-12h8m-7 7h8m-7 3h8m-8-14h8m-7 17h8m-8 0h8m-8-22h8m-7 0h8m-7 11h8m-8 13h8m-6-10h8m-8 8h8m-8-3h8m-8-16h8m-6 7h8m-8-11h8m-6 27h8m-8-23h8m-8 8h8m-6-14h8m-8 0h8m-8 6h8m-8-2h8m-7 9h8m-8-7h8m-6 7h8m-8-3h8m-8 10h8m-4-6h8m-7 13h8m-7-1h8m-8-16h8m-3 1h8m-8 13h8m-6-11h8m-8-5h8m-7 8h8m-6 2h8m-8 8h8m-8-18h8m-7 12h8m-8 5h8m-7-23h8m-7-3h8m-7 11h8m-8-6h8m-7 6h8m-5-7h8m-6 1h8m-7 0h8m-8 4h8m-8-6h8m-7-1h8m-6 17h8m-6-18h8m-7 10h8m-7 15h8m-7 1h8m-8 0h8m-7-15h8m-6 2h8m-6 15h8m-8-25h8m-7 22h8m-7 2h8m-8-23h8m-5 13h8m-4-17h8m-8 6h8m-8 13h8m-5-20h8m-8 19h8m-4-10h8m-2 11h8m-5-8h8m-8 16h8m-2-10h8m-3-14h8m-7 2h8m-6 9h8m-4 5h8m-2-19h8m-4 11h8m-6 1h8m-5 11h8m-3-9h8m-8 4h8m1 1h8m-8 5h8m-6-23h8m-2 10h8m-7 15h8m4-10h8m-4-9h8m4 16h8m1-8h8m0-9h8m-8 9h8m-5-7h8m-8-9h8m-4 12h8m-6 10h8m19 1h8m15-23h8m-3 15h8m26-9h8m38 14h8m-63 26h8m-10-6h8m-20 4h8m-12 3h8m-17-4h8m-43-12h8m-10 1h8m-32 14h8m-21-1h8m-13-13h8m-8-1h8m-13 19h8m-8 5h8m-11-2h8m-10-7h8m-20 4h8m-19 8h8m-11 0h8m-11-23h8m-10 6h8m-10 3h8m-8 3h8m-18-10h8m-11 17h8m-12-22h8m-13 5h8m-11-3h8m-9 8h8m-22-10h8m-8 3h8m-9 24h8m-10-5h8m-9-22h8m-9 8h8m-10 4h8m-9 2h8m-9 2h8m-8 8h8m-11-12h8m-8 2h8m-9-14h8m-10 12h8m-9 5h8m-8-15h8m-11 2h8m-8 19h8m-8-9h8m-8-12h8m-11-3h8m-12 20h8m-8-9h8m-9 5h8m-9 4h8m-9-10h8m-11 18h8m-13-4h8m-10-17h8m-8 21h8m-9-4h8m-9-22h8m-9 6h8m-8-2h8m-13-1h8m-8 0h8m-11 13h8m-10 10h8m-8-17h8m-8 11h8m-8 3h8m-8-15h8m-9 11h8m-14-7h8m-8 13h8m-9-18h8m-10 14h8m-8-21h8m-9 4h8m-9 16h8m-9-14h8m-10-5h8m-11 15h8m-8 8h8m-8-2h8m-8-6h8m-9-17h8m-8 9h8m-10-5h8m-9 20h8m-8-20h8m-10 15h8m-8 4h8m-8-12h8m-9 8h8m-8-1h8m-9 5h8m-8-3h8m-10 7h8m-8-16h8m-8-8h8m-9 5h8m-9 2h8m-12-9h8m-8 2h8m-9 12h8m-8 1h8m-8 8h8m-9 1h8m-9-14h8m-8-12h8m-9 11h8m-8 17h8m-8-18h8m-8-3h8m-9 5h8m-9 1h8m-9 6h8m-11 6h8m-8-11h8m-9-1h8m-8-13h8m-8 23h8m-9-11h8m-8 5h8m-8-13h8m-8 6h8m-9-9h8m-9 21h8m-8 3h8m-9-13h8m-8-4h8m-8 3h8m-9-7h8m-8-1h8m-9 3h8m-8 2h8m-8 5h8m-8 6h8m-9-16h8m-8 11h8m-8 0h8m-8 3h8m-8 6h8m-9-14h8m-8-2h8m-9-6h8m-8 11h8m-8-13h8m-9 11h8m-8 4h8m-8 0h8m-9-6h8m-8-1h8m-9 17h8m-8-12h8m-8 0h8m-9-11h8m-9 5h8m-9 7h8m-8 14h8m-8-20h8m-8 15h8m-8-20h8m-8 11h8m-10-13h8m-8 6h8m-8 4h8m-9-4h8m-9 5h8m-8 0h8m-9-9h8m-8 20h8m-9-19h8m-8 7h8m-9 6h8m-8-16h8m-10 29h8m-8-10h8m-8-18h8m-10 11h8m-10-8h8m-9 11h8m-8 5h8m-8 5h8m-9 2h8m-8-20h8m-8 7h8m-8-10h8m-9 25h8m-8-22h8m-8-5h8m-8 20h8m-9-3h8m-8-11h8m-9-7h8m-9 5h8m-9 7h8m-8-3h8m-9 2h8m-9 9h8m-8-16h8m-8 0h8m-8 9h8m-8 5h8m-8-13h8m-9 21h8m-9-18h8m-8-7h8m-8 17h8m-9-2h8m-8-14h8m-8 25h8m-9-17h8m-8 15h8m-9-25h8m-8 26h8m-8 0h8m-8-19h8m-9 1h8m-8 19h8m-8-26h8m-8 3h8m-9-5h8m-8 6h8m-8 13h8m-10-4h8m-8 9h8m-8-23h8m-8 14h8m-8 13h8m-9-21h8m-8-2h8m-8 4h8m-9 17h8m-9-16h8m-8-4h8m-9-3h8m-8 12h8m-9 8h8m-8-14h8m-8 3h8m-8-13h8m-8 6h8m-9 17h8m-8-7h8m-8-14h8m-9 17h8m-10-8h8m-8 19h8m-9-2h8m-8-16h8m-8-9h8m-8 12h8m-8 6h8m-9-12h8m-8 7h8m-9-9h8m-8 15h8m-8-18h8m-8 2h8m-9 7h8m-8-7h8m-9 5h8m-8-2h8m-8-9h8m-9 6h8m-9 3h8m-8 4h8m-9-10h8m-9 3h8m-8 23h8m-9-14h8m-8-8h8m-9 17h8m-9-10h8m-8 6h8m-8-5h8m-8-14h8m-8 9h8m-9 15h8m-8-8h8m-8-7h8m-8 10h8m-9-13h8m-8 0h8m-9 4h8m-8 6h8m-9 8h8m-8-15h8m-8-8h8m-9 19h8m-9-3h8m-9-15h8m-8 17h8m-8 10h8m-8-16h8m-10-13h8m-8 15h8m-8 6h8m-9-20h8m-8 22h8m-9-23h8m-8 7h8m-9 20h8m-8-6h8m-8-14h8m-9 20h8m-8-15h8m-8 1h8m-8-1h8m-8 3h8m-8-5h8m-9 18h8m-8-2h8m-8-15h8m-9 0h8m-8 1h8m-8 0h8m-8 1h8m-9-8h8m-9 7h8m-8-3h8m-8 9h8m-9-15h8m-8 0h8m-8 3h8m-8 6h8m-10 11h8m-9-11h8m-9-6h8m-8-6h8m-9 26h8m-8-18h8m-9 17h8m-9-9h8m-8 7h8m-9-1h8m-8-2h8m-9 0h8m-9 1h8m-8-11h8m-9 1h8m-8-11h8m-8 20h8m-8 8h8m-11-12h8m-8-8h8m-9 9h8m-9 9h8m-8-19h8m-8-4h8m-9 8h8m-8 15h8m-9-17h8m-8 2h8m-9-4h8m-9 17h8m-8 2h8m-9-15h8m-9 14h8m-9-10h8m-8 1h8m-9-3h8m-9-10h8m-8 6h8m-8 3h8m-9 11h8m-9-10h8m-10 4h8m-8 1h8m-9 1h8m-8-4h8m-10 5h8m-9-18h8m-9 20h8m-9-10h8m-8 11h8m-8-14h8m-9 2h8m-8 6h8m-9-12h8m-10 3h8m-8 7h8m-10 1h8m-8 7h8m-10 0h8m-9-22h8m-8 0h8m-8 0h8m-9 23h8m-8-20h8m-9 25h8m-9-14h8m-8-14h8m-9 25h8m-8-12h8m-9 12h8m-9-27h8m-9 2h8m-8 19h8m-9-19h8m-11 22h8m-8 5h8m-10-9h8m-8-18h8m-9 2h8m-11 13h8m-9-1h8m-8 13h8m-9-22h8m-8 12h8m-10 3h8m-8-1h8m-9 0h8m-8 0h8m-9-12h8m-9 0h8m-10 20h8m-9-15h8m-9 9h8m-8 7h8m-9-20h8m-9-7h8m-9 18h8m-10-9h8m-9 9h8m-8-16h8m-9 14h8m-8-19h8m-9 15h8m-9-9h8m-8-2h8m-9 21h8m-11-1h8m-8 5h8m-8-15h8m-9 9h8m-9-4h8m-8 1h8m-9 6h8m-9 0h8m-10 4h8m-9-4h8m-9-2h8m-9-20h8m-11 17h8m-10-4h8m-9-2h8m-9-11h8m-13 2h8m-8 7h8m-10 10h8m-8-13h8m-12 13h8m-9 1h8m-8-22h8m-11 15h8m-11-13h8m-10 13h8m-21-15h8m-16 9h8m-12-1h8m-14 13h8m-15 0h8m-14-17h8m-8 18h8m-10-18h8m-10 5h8m-11-8h8m-11 9h8m-20 4h8m-9 12h8m-16-19h8m-10 1h8m-9 44h8m2-13h8m23 1h8m-6-6h8m-7 5h8m2 13h8m-5-3h8m5-2h8m-7-15h8m-5-3h8m-4 27h8m-5-5h8m-2-12h8m-7-9h8m-4-2h8m-4 17h8m-6-9h8m-6 11h8m-7-15h8m-7 22h8m-4 2h8m3-23h8m3 24h8m-7-12h8m-8 9h8m-5-9h8m-7-10h8m-7 16h8m-7-22h8m-8 16h8m-5 12h8m-8-23h8m-7-2h8m-6 4h8m-4 5h8m-7-7h8m-7 15h8m-8-4h8m-6 0h8m-6-17h8m-7 8h8m-4-6h8m-6 4h8m-6-2h8m-8 18h8m-8-8h8m-8-8h8m-5-4h8m-7 16h8m-7-13h8m-8 3h8m-7-8h8m-8 6h8m-8 4h8m-7 3h8m-7 10h8m-4-4h8m-6 9h8m-8-5h8m-6-5h8m-7 10h8m-8-1h8m-4-26h8m-7 26h8m-7-24h8m-8 14h8m-8-9h8m-8 7h8m-7-8h8m-7 18h8m-8-23h8m-7 11h8m-7 0h8m-8 4h8m-7-8h8m-7 12h8m-8-2h8m-7-15h8m-6 18h8m-8 3h8m-7-22h8m-8 13h8m-7 4h8m-8-16h8m-7 7h8m-8-9h8m-7 21h8m-7-14h8m-6 8h8m-7-1h8m-8-7h8m-7-6h8m-8 26h8m-8-17h8m-8-10h8m-7 7h8m-7 16h8m-7-20h8m-7 10h8m-6-4h8m-8 11h8m-6-6h8m-7-8h8m-8 16h8m-7-18h8m-7 14h8m-8 7h8m-8-9h8m-8-2h8m-7 12h8m-8-19h8m-6 12h8m-7-3h8m-8-3h8m-6-15h8m-7 7h8m-7 19h8m-8-13h8m-7-10h8m-7 4h8m-8-4h8m-7 6h8m-8-7h8m-8 22h8m-8-9h8m-6-7h8m-8-3h8m-8 4h8m-8 16h8m-8-18h8m-6 14h8m-8-21h8m-7 4h8m-8 10h8m-7-2h8m-7 6h8m-8 8h8m-6-19h8m-8 14h8m-6 1h8m-8-13h8m-7 3h8m-8 7h8m-7-9h8m-8 1h8m-8 8h8m-7 2h8m-8-8h8m-7 7h8m-7-8h8m-8-12h8m-7 8h8m-7 10h8m-8-17h8m-7 5h8m-8 6h8m-7-3h8m-8-5h8m-6 0h8m-8 8h8m-7 7h8m-8 5h8m-8-5h8m-8-11h8m-6-4h8m-7-3h8m-8 1h8m-8-1h8m-8 6h8m-7 10h8m-8-3h8m-8-4h8m-8 17h8m-7-16h8m-7-7h8m-6 13h8m-8-8h8m-7-9h8m-7 14h8m-7-1h8m-8 12h8m-7-18h8m-8 2h8m-6-6h8m-8 5h8m-4-4h8m-7 12h8m-7-13h8m-7 8h8m-7 17h8m-8-23h8m-8-1h8m-7 14h8m-7 4h8m-8 3h8m-8-7h8m-6-10h8m-8-4h8m-8 11h8m-7-3h8m-7-9h8m-7 23h8m-6-9h8m-8-7h8m-7 16h8m-8-8h8m-7-10h8m-8 18h8m-7-17h8m-6 14h8m-8-14h8m-8 0h8m-7-9h8m-8 5h8m-8 10h8m-8-14h8m-7 26h8m-8-27h8m-6 27h8m-8-26h8m-8 27h8m-7-27h8m-6 15h8m-6-11h8m-6 12h8m-8-7h8m-8 1h8m-7-7h8m-8-4h8m-7 16h8m-8 4h8m-8-1h8m-7-10h8m-7-3h8m-8-5h8m-8 25h8m-7 0h8m-8-25h8m-7 0h8m-7 2h8m-8-1h8m-8 24h8m-8-17h8m-6 1h8m-6 10h8m-8-17h8m-8 14h8m-6-14h8m-8 18h8m-4 1h8m-7 1h8m-6-20h8m-7 11h8m-7 0h8m-8-2h8m-7-4h8m-8 18h8m-7-24h8m-8 14h8m-7-10h8m-5 17h8m-7-18h8m-8 6h8m-6 9h8m-8 5h8m-8-13h8m-7-2h8m-7 10h8m-7-20h8m-7 18h8m-5-8h8m-7-3h8m-8-3h8m-5 0h8m-6 11h8m-5 3h8m-6-18h8m-6 25h8m-7-13h8m-6 9h8m-7-17h8m-6 1h8m-8 6h8m-5-8h8m-6 9h8m-8 15h8m-8-24h8m-6 3h8m-5 12h8m-5-2h8m-8 9h8m-8-1h8m-7-22h8m-8 7h8m-3 5h8m-7 6h8m-4-17h8m-4 23h8m-6-17h8m-6 6h8m-5 4h8m-1-17h8m-5 11h8m-7-12h8m-4 14h8m1-15h8m-8 4h8m-7 24h8m-8-25h8m-5 19h8m-1 2h8m-8 2h8m-3-17h8m-5 1h8m-5 3h8m-5 14h8m-6-2h8m-7 5h8m-4-3h8m-8-5h8m-5-21h8m-7 22h8m-3-6h8m12 5h8m7-21h8m22 12h8m7 8h8m18 7h8m16-12h8m43 18h8m-61 26h8m-23-14h8m-52-9h8m-23 4h8m-34-7h8m-14-1h8m-10 21h8m-21-11h8m-12 7h8m-11-13h8m-18 20h8m-12-9h8m-11-8h8m-19-7h8m-11 6h8m-12 10h8m-10-4h8m-10 0h8m-12-9h8m-18-3h8m-8 17h8m-9-4h8m-9 4h8m-11 4h8m-9-15h8m-10-3h8m-14-3h8m-14 9h8m-11-8h8m-11 21h8m-10-11h8m-12-13h8m-8 1h8m-9-1h8m-10 3h8m-10 24h8m-9-24h8m-15-1h8m-11 18h8m-11-2h8m-9-8h8m-17 11h8m-11-21h8m-9 22h8m-10-20h8m-9 18h8m-11-8h8m-8 16h8m-10-9h8m-8 9h8m-10-22h8m-10 19h8m-8-16h8m-9-7h8m-9-1h8m-10 4h8m-11 4h8m-9-3h8m-9 4h8m-9 4h8m-11 14h8m-8-27h8m-10 8h8m-9 18h8m-9-4h8m-8-14h8m-10-4h8m-11 2h8m-8 20h8m-9-8h8m-8-8h8m-9-9h8m-12 20h8m-9 1h8m-12-4h8m-8 0h8m-12 0h8m-12-15h8m-12 6h8m-9 10h8m-9 0h8m-12 5h8m-10-18h8m-12-3h8m-8-2h8m-12 25h8m-9-22h8m-9 13h8m-9 5h8m-8-19h8m-10 23h8m-9-26h8m-8 16h8m-9-9h8m-15 0h8m-10-3h8m-9 18h8m-11 0h8m-8 2h8m-9-9h8m-9 8h8m-9-17h8m-8-7h8m-12 5h8m-8 24h8m-8-7h8m-8-16h8m-13 0h8m-10-2h8m-13 6h8m-8-8h8m-11 19h8m-10-12h8m-9-3h8m-8 0h8m-9-6h8m-11 4h8m-8-2h8m-9 3h8m-9 14h8m-10-9h8m-8-10h8m-16 2h8m-9 25h8m-12-15h8m-9-8h8m-11-1h8m-9 1h8m-9 16h8m-10-13h8m-8-5h8m-8 23h8m-11-12h8m-13 6h8m-9-10h8m-9 0h8m-11-10h8m-19 0h8m-8 9h8m-10 19h8m-11-18h8m-8 9h8m-11 10h8m-12-18h8m-9 1h8m-13-11h8m-12 14h8m-8-10h8m-9 24h8m-14-27h8m-10 19h8m-9-9h8m-11 3h8m-12-8h8m-8-3h8m-9 0h8m-11 17h8m-9 7h8m-8-10h8m-17 1h8m-11-14h8m-11-2h8m-13 15h8m-11 6h8m-22-1h8m-33-5h8m-12 7h8m-15-14h8m-18 18h8m-35-14h8m-19 11h8m-15 20h8m1 4h8m30-13h8m14 19h8m5-6h8m6 10h8m-7-5h8m-6-6h8m-7 0h8m-4-17h8m-4 12h8m1 14h8m4-4h8m-4 1h8m-7 3h8m-8-19h8m-6 2h8m-4 18h8m-5-14h8m-6 0h8m-7 5h8m11 8h8m2-27h8m-6 20h8m-8-2h8m-2-19h8m-8 10h8m-6 11h8m-3-2h8m-3-11h8m-7 22h8m-6-19h8m-7 14h8m-8 4h8m-5-24h8m-5 21h8m-4-21h8m-8 8h8m-5 1h8m0-6h8m-2 1h8m-4 0h8m-3-5h8m-6 5h8m-8 19h8m-6-23h8m-7 12h8m-3 9h8m-8-24h8m-3 4h8m-5 12h8m-5-12h8m-4 16h8m-8-3h8m-4-18h8m-7 14h8m-5-14h8m-8 13h8m-2 8h8m-8-16h8m-7 16h8m-4-21h8m-8 25h8m-4-12h8m-8-11h8m-7 0h8m-7 0h8m-3 18h8m-4-19h8m-3 0h8m-5-2h8m-7 21h8m-7 9h8m-6-10h8m-6-10h8m-7-4h8m-4 14h8m-6-16h8m-7 8h8m-2 2h8m-8-11h8m-3 25h8m-7-24h8m-7 5h8m-4-2h8m-6 13h8m-7-19h8m4 10h8m-7 1h8m-6 18h8m-6-28h8m-5 4h8m-8 7h8m-7-1h8m-6 5h8m-1-7h8m-2-6h8m4 12h8m-4-7h8m-7 16h8m-6-19h8m-8 24h8m5-14h8m-6 2h8m-5 0h8m-7-8h8m-7 6h8m-3 13h8m-7-16h8m-4-4h8m-4 19h8m-5-10h8m-6-11h8m3 18h8m-6-5h8m-7-7h8m6-1h8m-3 9h8m-8 7h8m10-22h8m14-5h8m-5 12h8m-1 8h8m1-11h8m6 20h8m9-22h8m52 40h8m-51 5h8m-26-16h8m-54-3h8m-58-4h8m-23 16h8m-25-13h8m-10 24h8m-9-12h8m-14-12h8m-10 22h8m-12 3h8m-13-20h8m-11-5h8m-15-1h8m-10 25h8m-20-15h8m-16-1h8m-9 11h8m-16-21h8m-10 8h8m-9-7h8m-10 9h8m-19 0h8m-9-10h8m-10-1h8m-8 28h8m-18-14h8m-9 3h8m-8-14h8m-17 9h8m-15-11h8m-16 27h8m-21-25h8m-11 26h8m-13-16h8m-12 3h8m-10 5h8m-11-2h8m-14 8h8m-12-15h8m-10 5h8m-9 2h8m-11-14h8m-10 9h8m-8 2h8m-13-14h8m-15 3h8m-16 24h8m-9-4h8m-11 5h8m-15-12h8m-9-15h8m-11 2h8m-8 4h8m-8 6h8m-9 2h8m-14 0h8m-12-11h8m-9 10h8m-10-3h8m-11 4h8m-13 7h8m-19-4h8m-9-8h8m-10-8h8m-10-2h8m-9 27h8m-17-16h8m-10 16h8m-9-10h8m-10 4h8m-15-11h8m-8 11h8m-9-8h8m-9 0h8m-11-10h8m-10 11h8m-17-1h8m-9 1h8m-19 12h8m-18-2h8m-16-21h8m-24 20h8m-12-14h8m-20-8h8m-9 1h8m-25 8h8m-19 0h8m-14 18h8m-21 0h8m-13-28h8m-14 25h8m-10-20h8m-23-6h8m-10 57h8m7-5h8m11-15h8m11 7h8m-8 13h8m19-2h8m28-24h8m-6 19h8m-6 3h8m3-22h8m-8 8h8m4 12h8m-4-21h8m1 1h8m-6 16h8m-6-7h8m-7 18h8m-5-4h8m-2-18h8m-7 18h8m12-24h8m-5 14h8m-3-9h8m-8 2h8m-3-4h8m3 25h8m2-4h8m0 4h8m-5-16h8m-5-8h8m-6 9h8m2 3h8m-4 7h8m-4-8h8m-5 7h8m-3-12h8m0 3h8m-3 2h8m-1 7h8m-5-21h8m11 23h8m-8-12h8m-7 6h8m3-1h8m-4-1h8m-6-5h8m1 6h8m-1-6h8m-2-8h8m4 4h8m-5-1h8m2 12h8m-8-17h8m-2 9h8m4 6h8m-7-7h8m11 15h8m-4-2h8m15-18h8m7 9h8m13 10h8m69-20h8m41 4h8m-55 35h8m-59 4h8m-29-4h8m-28-8h8m-66-4h8m-12 18h8m-28 4h8m-21-7h8m-26-5h8m-9-1h8m-9 1h8m-26 13h8m-15-10h8m-17-13h8m-11-1h8m-11 7h8m-19 4h8m-12 3h8m-15-10h8m-9 13h8m-10-9h8m-18 13h8m-14-11h8m-12 4h8m-11 8h8m-18-7h8m-8-12h8m-17 27h8m-16-27h8m-14-2h8m-15 17h8m-8-10h8m-9 1h8m-13 19h8m-18-25h8m-13 19h8m-8-17h8m-18 12h8m-10-16h8m-8 14h8m-15-9h8m-24 7h8m-8-3h8m-13 6h8m-30 5h8m-17-20h8m-19 1h8m-9 6h8m-14 21h8m-45-24h8m-18 17h8m-14-12h8m-16-9h8m-13 38h8m14 9h8m-8-11h8m11 12h8m17-13h8m-1 5h8m13 8h8m-5-14h8m9 0h8m0 7h8m19 1h8m9 6h8m38-14h8m3 8h8m-8-9h8m7-4h8m4 11h8m0 3h8m54-12h8m-1 3h8m31 0h8m1 12h8m84-1h8" stroke="#000" stroke-width="8" stroke-opacity="0.72" fill="none"/>
<line x1="484.7" y1="587.4" x2="484.7" y2="663.3" stroke="#de7c80" stroke-width="0.65"/>
<line x1="446.8" y1="629.1" x2="525.5" y2="629.1" stroke="#de7c80" stroke-width="0.65"/>
<rect x="446.8" y="587.4" width="78.7" height="75.9" fill="none" stroke="#7d7eab" stroke-width="0.85"/>
<path d="M444.4 663.3H446.8M445.3 658.0H446.8M445.3 654.9H446.8M445.3 652.7H446.8M445.3 651.0H446.8M445.3 649.6H446.8M445.3 648.4H446.8M445.3 647.4H446.8M445.3 646.5H446.8M444.4 645.6H446.8M445.3 640.3H446.8M445.3 637.2H446.8M445.3 635.0H446.8M445.3 633.3H446.8M445.3 631.9H446.8M445.3 630.7H446.8M445.3 629.7H446.8M445.3 628.8H446.8M444.4 628.0H446.8M445.3 622.7H446.8M445.3 619.6H446.8M445.3 617.4H446.8M445.3 615.7H446.8M445.3 614.3H446.8M445.3 613.1H446.8M445.3 612.1H446.8M445.3 611.2H446.8M444.4 610.3H446.8M445.3 605.0H446.8M445.3 601.9H446.8M445.3 599.7H446.8M445.3 598.0H446.8M445.3 596.6H446.8M445.3 595.4H446.8M445.3 594.4H446.8M445.3 593.5H446.8M444.4 592.7H446.8M446.8 663.3V665.7M452.3 663.3V664.8M455.5 663.3V664.8M457.8 663.3V664.8M459.6 663.3V664.8M461.0 663.3V664.8M462.3 663.3V664.8M463.3 663.3V664.8M464.3 663.3V664.8M465.1 663.3V665.7M470.6 663.3V664.8M473.8 663.3V664.8M476.1 663.3V664.8M477.9 663.3V664.8M479.3 663.3V664.8M480.6 663.3V664.8M481.6 663.3V664.8M482.6 663.3V664.8M483.4 663.3V665.7M488.9 663.3V664.8M492.1 663.3V664.8M494.4 663.3V664.8M496.2 663.3V664.8M497.6 663.3V664.8M498.9 663.3V664.8M499.9 663.3V664.8M500.9 663.3V664.8M501.7 663.3V665.7M507.2 663.3V664.8M510.4 663.3V664.8M512.7 663.3V664.8M514.5 663.3V664.8M515.9 663.3V664.8M517.2 663.3V664.8M518.2 663.3V664.8M519.2 663.3V664.8M520.0 663.3V665.7" stroke="#6e6fae" stroke-width="0.6" fill="none"/>
<g font-size="5.4" fill="#c8434f"><text x="447.2" y="592.8">Q1-UL</text><text x="447.2" y="597.1">1.4%</text><text x="524.7" y="592.8" text-anchor="end">Q1-UR</text><text x="524.7" y="597.1" text-anchor="end">0.1%</text><text x="447.2" y="658.1">Q1-LL</text><text x="447.2" y="662.7">96.4%</text><text x="524.7" y="658.1" text-anchor="end">Q1-LR</text><text x="524.7" y="662.7" text-anchor="end">2.1%</text></g>
<text x="483.0" y="677.1" font-size="5.1" text-anchor="middle" fill="#333">Annexin V-FITC-A</text>
<text x="437.8" y="625.3" font-size="5.6" text-anchor="middle" fill="#333" transform="rotate(-90 437.8 625.3)">PI-A</text>
<text x="448.3" y="670.8" font-size="3.6" text-anchor="end" fill="#6a6aa0" transform="rotate(-30 448.3 670.8)">10</text><text x="443.2" y="664.8" font-size="3.6" text-anchor="start" fill="#6a6aa0" transform="rotate(-90 443.2 664.8)">10</text><text x="466.6" y="670.8" font-size="3.6" text-anchor="end" fill="#6a6aa0" transform="rotate(-30 466.6 670.8)">10</text><text x="443.2" y="647.1" font-size="3.6" text-anchor="start" fill="#6a6aa0" transform="rotate(-90 443.2 647.1)">10</text><text x="484.9" y="670.8" font-size="3.6" text-anchor="end" fill="#6a6aa0" transform="rotate(-30 484.9 670.8)">10</text><text x="443.2" y="629.5" font-size="3.6" text-anchor="start" fill="#6a6aa0" transform="rotate(-90 443.2 629.5)">10</text><text x="503.2" y="670.8" font-size="3.6" text-anchor="end" fill="#6a6aa0" transform="rotate(-30 503.2 670.8)">10</text><text x="443.2" y="611.8" font-size="3.6" text-anchor="start" fill="#6a6aa0" transform="rotate(-90 443.2 611.8)">10</text><text x="527.0" y="670.8" font-size="3.6" text-anchor="end" fill="#6a6aa0" transform="rotate(-30 527.0 670.8)">10</text><text x="443.2" y="588.9" font-size="3.6" text-anchor="start" fill="#6a6aa0" transform="rotate(-90 443.2 588.9)">10</text>
<line x1="94.5" y1="20.7" x2="94.5" y2="155.2" stroke="#4a4a4a" stroke-width="0.9"/>
<line x1="92.2" y1="154.8" x2="215.6" y2="154.8" stroke="#4a4a4a" stroke-width="0.9"/>
<line x1="92.5" y1="154.7" x2="94.5" y2="154.7" stroke="#4a4a4a" stroke-width="0.9"/>
<text x="89.2" y="156.8" font-size="6.0" text-anchor="end" fill="#444" stroke="#444" stroke-width="0.18" >0</text>
<line x1="92.5" y1="123.3" x2="94.5" y2="123.3" stroke="#4a4a4a" stroke-width="0.9"/>
<text x="89.2" y="125.4" font-size="6.0" text-anchor="end" fill="#444" stroke="#444" stroke-width="0.18" >1</text>
<line x1="92.5" y1="92.0" x2="94.5" y2="92.0" stroke="#4a4a4a" stroke-width="0.9"/>
<text x="89.2" y="94.1" font-size="6.0" text-anchor="end" fill="#444" stroke="#444" stroke-width="0.18" >2</text>
<line x1="92.5" y1="60.6" x2="94.5" y2="60.6" stroke="#4a4a4a" stroke-width="0.9"/>
<text x="89.2" y="62.7" font-size="6.0" text-anchor="end" fill="#444" stroke="#444" stroke-width="0.18" >3</text>
<line x1="92.5" y1="29.3" x2="94.5" y2="29.3" stroke="#4a4a4a" stroke-width="0.9"/>
<text x="89.2" y="31.4" font-size="6.0" text-anchor="end" fill="#444" stroke="#444" stroke-width="0.18" >4</text>
<rect x="113.4" y="123.7" width="28.1" height="31.1" fill="#d4e9f0" stroke="#4a4a4a" stroke-width="1"/>
<rect x="169" y="46.2" width="27.9" height="108.6" fill="#f5cdc5" stroke="#4a4a4a" stroke-width="1"/>
<line x1="127.5" y1="123.2" x2="127.5" y2="122.8" stroke="#4a4a4a" stroke-width="0.9"/>
<line x1="126.0" y1="123.0" x2="131.0" y2="123.0" stroke="#333" stroke-width="1.2"/>
<line x1="182.6" y1="46.2" x2="182.6" y2="33.5" stroke="#4a4a4a" stroke-width="1"/>
<line x1="180.3" y1="33.5" x2="185.0" y2="33.5" stroke="#4a4a4a" stroke-width="1"/>
<line x1="127.5" y1="154.8" x2="127.5" y2="156.8" stroke="#4a4a4a" stroke-width="0.9"/>
<line x1="183.0" y1="154.8" x2="183.0" y2="156.8" stroke="#4a4a4a" stroke-width="0.9"/>
<circle cx="120.5" cy="123.0" r="1.9" fill="#5cb8d0"/>
<circle cx="124.9" cy="124.6" r="1.9" fill="#5cb8d0"/>
<circle cx="187.3" cy="32.2" r="1.9" fill="#e1443a"/>
<circle cx="181.7" cy="50.0" r="1.9" fill="#e1443a"/>
<circle cx="176.2" cy="55.9" r="1.9" fill="#e1443a"/>
<path d="M127.3 31.2V29.6H182.9V31.2" fill="none" stroke="#444" stroke-width="1"/>
<text x="155.2" y="29.8" font-size="6.2" text-anchor="middle" fill="#222" stroke="#222" stroke-width="0.18" >**</text>
<text x="127.6" y="165.6" font-size="6.6" text-anchor="middle" fill="#333" stroke="#333" stroke-width="0.18" >HOEC</text>
<text x="182.8" y="165.6" font-size="6.6" text-anchor="middle" fill="#333" stroke="#333" stroke-width="0.18" >Cal-27</text>
<text x="81.3" y="88.2" font-size="7.3" text-anchor="middle" fill="#333" stroke="#333" stroke-width="0.18" transform="rotate(-90 81.3 88.2)" textLength="100.7" lengthAdjust="spacingAndGlyphs">The Expression Levels of IL-17</text>
<line x1="298.6" y1="20.8" x2="298.6" y2="135.0" stroke="#4a4a4a" stroke-width="0.9"/>
<line x1="298.6" y1="135.0" x2="415.3" y2="135.0" stroke="#4a4a4a" stroke-width="0.9"/>
<line x1="296.6" y1="121.0" x2="298.6" y2="121.0" stroke="#4a4a4a" stroke-width="0.9"/>
<text x="294.7" y="123.4" font-size="6.7" text-anchor="end" fill="#444" stroke="#444" stroke-width="0.18" >0.2</text>
<line x1="296.6" y1="99.7" x2="298.6" y2="99.7" stroke="#4a4a4a" stroke-width="0.9"/>
<text x="294.7" y="102.1" font-size="6.7" text-anchor="end" fill="#444" stroke="#444" stroke-width="0.18" >0.3</text>
<line x1="296.6" y1="78.4" x2="298.6" y2="78.4" stroke="#4a4a4a" stroke-width="0.9"/>
<text x="294.7" y="80.8" font-size="6.7" text-anchor="end" fill="#444" stroke="#444" stroke-width="0.18" >0.4</text>
<line x1="296.6" y1="57.1" x2="298.6" y2="57.1" stroke="#4a4a4a" stroke-width="0.9"/>
<text x="294.7" y="59.5" font-size="6.7" text-anchor="end" fill="#444" stroke="#444" stroke-width="0.18" >0.5</text>
<line x1="296.6" y1="35.8" x2="298.6" y2="35.8" stroke="#4a4a4a" stroke-width="0.9"/>
<text x="294.7" y="38.2" font-size="6.7" text-anchor="end" fill="#444" stroke="#444" stroke-width="0.18" >0.6</text>
<line x1="312.3" y1="135.0" x2="312.3" y2="137.0" stroke="#4a4a4a" stroke-width="0.9"/>
<line x1="334.6" y1="135.0" x2="334.6" y2="137.0" stroke="#4a4a4a" stroke-width="0.9"/>
<line x1="357.0" y1="135.0" x2="357.0" y2="137.0" stroke="#4a4a4a" stroke-width="0.9"/>
<line x1="379.3" y1="135.0" x2="379.3" y2="137.0" stroke="#4a4a4a" stroke-width="0.9"/>
<line x1="401.6" y1="135.0" x2="401.6" y2="137.0" stroke="#4a4a4a" stroke-width="0.9"/>
<circle cx="309.6" cy="126.6" r="1.9" fill="#5bbcd6"/>
<circle cx="312.5" cy="127.7" r="1.9" fill="#5bbcd6"/>
<circle cx="315.8" cy="131.2" r="1.9" fill="#5bbcd6"/>
<circle cx="313.7" cy="132.4" r="1.9" fill="#5bbcd6"/>
<circle cx="311.0" cy="130.5" r="1.9" fill="#5bbcd6"/>
<circle cx="334.7" cy="107.1" r="1.9" fill="#e3432f"/>
<circle cx="337.0" cy="113.5" r="1.9" fill="#e3432f"/>
<circle cx="334.7" cy="123.7" r="1.9" fill="#e3432f"/>
<circle cx="338.0" cy="123.7" r="1.9" fill="#e3432f"/>
<circle cx="335.5" cy="116.0" r="1.9" fill="#e3432f"/>
<circle cx="356.9" cy="91.9" r="1.9" fill="#1b9a72"/>
<circle cx="356.9" cy="111.4" r="1.9" fill="#1b9a72"/>
<circle cx="360.4" cy="104.4" r="1.9" fill="#1b9a72"/>
<circle cx="357.0" cy="99.0" r="1.9" fill="#1b9a72"/>
<circle cx="355.0" cy="106.0" r="1.9" fill="#1b9a72"/>
<circle cx="379.3" cy="76.3" r="1.9" fill="#f29273"/>
<circle cx="379.3" cy="94.4" r="1.9" fill="#f29273"/>
<circle cx="379.3" cy="80.5" r="1.9" fill="#f29273"/>
<circle cx="381.0" cy="85.0" r="1.9" fill="#f29273"/>
<circle cx="378.0" cy="82.0" r="1.9" fill="#f29273"/>
<circle cx="401.6" cy="67.0" r="1.9" fill="#3c4484"/>
<circle cx="402.0" cy="74.0" r="1.9" fill="#3c4484"/>
<circle cx="399.0" cy="80.0" r="1.9" fill="#3c4484"/>
<circle cx="404.0" cy="82.0" r="1.9" fill="#3c4484"/>
<circle cx="401.0" cy="83.0" r="1.9" fill="#3c4484"/>
<line x1="306.8" y1="129.7" x2="317.8" y2="129.7" stroke="#111" stroke-width="0.9"/>
<line x1="312.3" y1="128.4" x2="312.3" y2="131.0" stroke="#111" stroke-width="0.9"/>
<line x1="309.1" y1="128.4" x2="315.5" y2="128.4" stroke="#111" stroke-width="0.9"/>
<line x1="309.1" y1="131.0" x2="315.5" y2="131.0" stroke="#111" stroke-width="0.9"/>
<circle cx="312.3" cy="129.7" r="1.4" fill="#fff" stroke="#111" stroke-width="0.7"/>
<line x1="329.1" y1="116.9" x2="340.1" y2="116.9" stroke="#111" stroke-width="0.9"/>
<line x1="334.6" y1="113.7" x2="334.6" y2="120.1" stroke="#111" stroke-width="0.9"/>
<line x1="331.4" y1="113.7" x2="337.8" y2="113.7" stroke="#111" stroke-width="0.9"/>
<line x1="331.4" y1="120.1" x2="337.8" y2="120.1" stroke="#111" stroke-width="0.9"/>
<circle cx="334.6" cy="116.9" r="1.4" fill="#fff" stroke="#111" stroke-width="0.7"/>
<line x1="351.5" y1="102.9" x2="362.5" y2="102.9" stroke="#111" stroke-width="0.9"/>
<line x1="357.0" y1="99.9" x2="357.0" y2="105.9" stroke="#111" stroke-width="0.9"/>
<line x1="353.8" y1="99.9" x2="360.2" y2="99.9" stroke="#111" stroke-width="0.9"/>
<line x1="353.8" y1="105.9" x2="360.2" y2="105.9" stroke="#111" stroke-width="0.9"/>
<circle cx="357.0" cy="102.9" r="1.4" fill="#fff" stroke="#111" stroke-width="0.7"/>
<line x1="373.8" y1="83.3" x2="384.8" y2="83.3" stroke="#111" stroke-width="0.9"/>
<line x1="379.3" y1="80.3" x2="379.3" y2="86.3" stroke="#111" stroke-width="0.9"/>
<line x1="376.1" y1="80.3" x2="382.5" y2="80.3" stroke="#111" stroke-width="0.9"/>
<line x1="376.1" y1="86.3" x2="382.5" y2="86.3" stroke="#111" stroke-width="0.9"/>
<circle cx="379.3" cy="83.3" r="1.4" fill="#fff" stroke="#111" stroke-width="0.7"/>
<line x1="396.1" y1="77.7" x2="407.1" y2="77.7" stroke="#111" stroke-width="0.9"/>
<line x1="401.6" y1="75.1" x2="401.6" y2="80.3" stroke="#111" stroke-width="0.9"/>
<line x1="398.4" y1="75.1" x2="404.8" y2="75.1" stroke="#111" stroke-width="0.9"/>
<line x1="398.4" y1="80.3" x2="404.8" y2="80.3" stroke="#111" stroke-width="0.9"/>
<circle cx="401.6" cy="77.7" r="1.4" fill="#fff" stroke="#111" stroke-width="0.7"/>
<path d="M334.6 29.9V28.1H379.3V29.9" fill="none" stroke="#555" stroke-width="0.9"/>
<text x="357.0" y="28.3" font-size="5.5" text-anchor="middle" fill="#222" stroke="#222" stroke-width="0.18" >***</text>
<path d="M334.6 36.4V34.6H357.0V36.4" fill="none" stroke="#555" stroke-width="0.9"/>
<text x="345.8" y="34.8" font-size="5.5" text-anchor="middle" fill="#222" stroke="#222" stroke-width="0.18" >*</text>
<path d="M312.3 43.1V41.3H401.6V43.1" fill="none" stroke="#555" stroke-width="0.9"/>
<text x="357.0" y="41.5" font-size="5.5" text-anchor="middle" fill="#222" stroke="#222" stroke-width="0.18" >***</text>
<path d="M312.3 49.5V47.7H379.3V49.5" fill="none" stroke="#555" stroke-width="0.9"/>
<text x="345.8" y="47.9" font-size="5.5" text-anchor="middle" fill="#222" stroke="#222" stroke-width="0.18" >***</text>
<path d="M312.3 56.2V54.4H357.0V56.2" fill="none" stroke="#555" stroke-width="0.9"/>
<text x="334.6" y="54.6" font-size="5.5" text-anchor="middle" fill="#222" stroke="#222" stroke-width="0.18" >***</text>
<path d="M312.3 62.3V60.5H334.6V62.3" fill="none" stroke="#555" stroke-width="0.9"/>
<text x="323.5" y="60.7" font-size="5.5" text-anchor="middle" fill="#222" stroke="#222" stroke-width="0.18" >*</text>
<text x="279.4" y="78.1" font-size="7.3" text-anchor="middle" fill="#333" stroke="#333" stroke-width="0.18" transform="rotate(-90 279.4 78.1)" textLength="68.3" lengthAdjust="spacingAndGlyphs">24h Cell survival rate</text>
<text x="315.7" y="144.2" font-size="6.4" text-anchor="end" fill="#444" stroke="#444" stroke-width="0.15" transform="rotate(-45 315.7 144.2)">0 ng/mL</text>
<text x="338.0" y="144.2" font-size="6.4" text-anchor="end" fill="#444" stroke="#444" stroke-width="0.15" transform="rotate(-45 338.0 144.2)">10 ng/mL</text>
<text x="360.4" y="144.2" font-size="6.4" text-anchor="end" fill="#444" stroke="#444" stroke-width="0.15" transform="rotate(-45 360.4 144.2)">20 ng/mL</text>
<text x="382.7" y="144.2" font-size="6.4" text-anchor="end" fill="#444" stroke="#444" stroke-width="0.15" transform="rotate(-45 382.7 144.2)">50 ng/mL</text>
<text x="405.0" y="144.2" font-size="6.4" text-anchor="end" fill="#444" stroke="#444" stroke-width="0.15" transform="rotate(-45 405.0 144.2)">100 ng/mL</text>
<line x1="497.8" y1="20.6" x2="497.8" y2="135.3" stroke="#4a4a4a" stroke-width="0.9"/>
<line x1="497.8" y1="135.3" x2="618.8" y2="135.3" stroke="#4a4a4a" stroke-width="0.9"/>
<line x1="495.8" y1="125.1" x2="497.8" y2="125.1" stroke="#4a4a4a" stroke-width="0.9"/>
<text x="493.9" y="127.5" font-size="6.7" text-anchor="end" fill="#444" stroke="#444" stroke-width="0.18" >0.2</text>
<line x1="495.8" y1="92.5" x2="497.8" y2="92.5" stroke="#4a4a4a" stroke-width="0.9"/>
<text x="493.9" y="94.9" font-size="6.7" text-anchor="end" fill="#444" stroke="#444" stroke-width="0.18" >0.4</text>
<line x1="495.8" y1="59.9" x2="497.8" y2="59.9" stroke="#4a4a4a" stroke-width="0.9"/>
<text x="493.9" y="62.3" font-size="6.7" text-anchor="end" fill="#444" stroke="#444" stroke-width="0.18" >0.6</text>
<line x1="495.8" y1="27.3" x2="497.8" y2="27.3" stroke="#4a4a4a" stroke-width="0.9"/>
<text x="493.9" y="29.7" font-size="6.7" text-anchor="end" fill="#444" stroke="#444" stroke-width="0.18" >0.8</text>
<line x1="512.3" y1="135.3" x2="512.3" y2="137.3" stroke="#4a4a4a" stroke-width="0.9"/>
<line x1="535.9" y1="135.3" x2="535.9" y2="137.3" stroke="#4a4a4a" stroke-width="0.9"/>
<line x1="559.5" y1="135.3" x2="559.5" y2="137.3" stroke="#4a4a4a" stroke-width="0.9"/>
<line x1="583.1" y1="135.3" x2="583.1" y2="137.3" stroke="#4a4a4a" stroke-width="0.9"/>
<line x1="606.7" y1="135.3" x2="606.7" y2="137.3" stroke="#4a4a4a" stroke-width="0.9"/>
<circle cx="512.0" cy="124.5" r="1.9" fill="#5bbcd6"/>
<circle cx="512.0" cy="131.5" r="1.9" fill="#5bbcd6"/>
<circle cx="514.0" cy="133.0" r="1.9" fill="#5bbcd6"/>
<circle cx="510.0" cy="130.0" r="1.9" fill="#5bbcd6"/>
<circle cx="535.5" cy="92.7" r="1.9" fill="#e3432f"/>
<circle cx="535.5" cy="98.5" r="1.9" fill="#e3432f"/>
<circle cx="539.0" cy="105.0" r="1.9" fill="#e3432f"/>
<circle cx="535.5" cy="106.7" r="1.9" fill="#e3432f"/>
<circle cx="533.0" cy="104.0" r="1.9" fill="#e3432f"/>
<circle cx="561.5" cy="85.1" r="1.9" fill="#1b9a72"/>
<circle cx="560.0" cy="88.0" r="1.9" fill="#1b9a72"/>
<circle cx="561.0" cy="95.0" r="1.9" fill="#1b9a72"/>
<circle cx="559.7" cy="97.4" r="1.9" fill="#1b9a72"/>
<circle cx="558.0" cy="92.0" r="1.9" fill="#1b9a72"/>
<circle cx="586.0" cy="70.7" r="1.9" fill="#f29273"/>
<circle cx="583.0" cy="72.0" r="1.9" fill="#f29273"/>
<circle cx="582.0" cy="83.0" r="1.9" fill="#f29273"/>
<circle cx="582.6" cy="85.7" r="1.9" fill="#f29273"/>
<circle cx="584.0" cy="80.0" r="1.9" fill="#f29273"/>
<circle cx="606.8" cy="66.5" r="1.9" fill="#3c4484"/>
<circle cx="602.0" cy="71.0" r="1.9" fill="#3c4484"/>
<circle cx="611.0" cy="71.0" r="1.9" fill="#3c4484"/>
<circle cx="607.0" cy="72.0" r="1.9" fill="#3c4484"/>
<circle cx="604.0" cy="73.0" r="1.9" fill="#3c4484"/>
<line x1="506.8" y1="129.5" x2="517.8" y2="129.5" stroke="#111" stroke-width="0.9"/>
<line x1="512.3" y1="128.3" x2="512.3" y2="130.7" stroke="#111" stroke-width="0.9"/>
<line x1="509.1" y1="128.3" x2="515.5" y2="128.3" stroke="#111" stroke-width="0.9"/>
<line x1="509.1" y1="130.7" x2="515.5" y2="130.7" stroke="#111" stroke-width="0.9"/>
<circle cx="512.3" cy="129.5" r="1.4" fill="#fff" stroke="#111" stroke-width="0.7"/>
<line x1="530.4" y1="101.5" x2="541.4" y2="101.5" stroke="#111" stroke-width="0.9"/>
<line x1="535.9" y1="98.9" x2="535.9" y2="104.1" stroke="#111" stroke-width="0.9"/>
<line x1="532.7" y1="98.9" x2="539.1" y2="98.9" stroke="#111" stroke-width="0.9"/>
<line x1="532.7" y1="104.1" x2="539.1" y2="104.1" stroke="#111" stroke-width="0.9"/>
<circle cx="535.9" cy="101.5" r="1.4" fill="#fff" stroke="#111" stroke-width="0.7"/>
<line x1="554.0" y1="91.5" x2="565.0" y2="91.5" stroke="#111" stroke-width="0.9"/>
<line x1="559.5" y1="89.3" x2="559.5" y2="93.7" stroke="#111" stroke-width="0.9"/>
<line x1="556.3" y1="89.3" x2="562.7" y2="89.3" stroke="#111" stroke-width="0.9"/>
<line x1="556.3" y1="93.7" x2="562.7" y2="93.7" stroke="#111" stroke-width="0.9"/>
<circle cx="559.5" cy="91.5" r="1.4" fill="#fff" stroke="#111" stroke-width="0.7"/>
<line x1="577.6" y1="78.4" x2="588.6" y2="78.4" stroke="#111" stroke-width="0.9"/>
<line x1="583.1" y1="76.2" x2="583.1" y2="80.6" stroke="#111" stroke-width="0.9"/>
<line x1="579.9" y1="76.2" x2="586.3" y2="76.2" stroke="#111" stroke-width="0.9"/>
<line x1="579.9" y1="80.6" x2="586.3" y2="80.6" stroke="#111" stroke-width="0.9"/>
<circle cx="583.1" cy="78.4" r="1.4" fill="#fff" stroke="#111" stroke-width="0.7"/>
<line x1="601.2" y1="70.8" x2="612.2" y2="70.8" stroke="#111" stroke-width="0.9"/>
<line x1="606.7" y1="69.9" x2="606.7" y2="71.7" stroke="#111" stroke-width="0.9"/>
<line x1="603.5" y1="69.9" x2="609.9" y2="69.9" stroke="#111" stroke-width="0.9"/>
<line x1="603.5" y1="71.7" x2="609.9" y2="71.7" stroke="#111" stroke-width="0.9"/>
<circle cx="606.7" cy="70.8" r="1.4" fill="#fff" stroke="#111" stroke-width="0.7"/>
<path d="M535.9 30.0V28.2H606.7V30.0" fill="none" stroke="#555" stroke-width="0.9"/>
<text x="571.3" y="28.4" font-size="5.5" text-anchor="middle" fill="#222" stroke="#222" stroke-width="0.18" >***</text>
<path d="M535.9 36.7V34.9H583.1V36.7" fill="none" stroke="#555" stroke-width="0.9"/>
<text x="559.5" y="35.1" font-size="5.5" text-anchor="middle" fill="#222" stroke="#222" stroke-width="0.18" >**</text>
<path d="M512.3 43.1V41.3H606.7V43.1" fill="none" stroke="#555" stroke-width="0.9"/>
<text x="559.5" y="41.5" font-size="5.5" text-anchor="middle" fill="#222" stroke="#222" stroke-width="0.18" >***</text>
<path d="M512.3 49.5V47.7H583.1V49.5" fill="none" stroke="#555" stroke-width="0.9"/>
<text x="547.7" y="47.9" font-size="5.5" text-anchor="middle" fill="#222" stroke="#222" stroke-width="0.18" >***</text>
<path d="M512.3 56.2V54.4H559.5V56.2" fill="none" stroke="#555" stroke-width="0.9"/>
<text x="535.9" y="54.6" font-size="5.5" text-anchor="middle" fill="#222" stroke="#222" stroke-width="0.18" >***</text>
<path d="M512.3 62.7V60.9H535.9V62.7" fill="none" stroke="#555" stroke-width="0.9"/>
<text x="524.1" y="61.1" font-size="5.5" text-anchor="middle" fill="#222" stroke="#222" stroke-width="0.18" >***</text>
<text x="479.4" y="78.1" font-size="7.3" text-anchor="middle" fill="#333" stroke="#333" stroke-width="0.18" transform="rotate(-90 479.4 78.1)" textLength="68.3" lengthAdjust="spacingAndGlyphs">48h Cell survival rate</text>
<text x="515.7" y="144.2" font-size="6.4" text-anchor="end" fill="#444" stroke="#444" stroke-width="0.15" transform="rotate(-45 515.7 144.2)">0 ng/mL</text>
<text x="539.3" y="144.2" font-size="6.4" text-anchor="end" fill="#444" stroke="#444" stroke-width="0.15" transform="rotate(-45 539.3 144.2)">10 ng/mL</text>
<text x="562.9" y="144.2" font-size="6.4" text-anchor="end" fill="#444" stroke="#444" stroke-width="0.15" transform="rotate(-45 562.9 144.2)">20 ng/mL</text>
<text x="586.5" y="144.2" font-size="6.4" text-anchor="end" fill="#444" stroke="#444" stroke-width="0.15" transform="rotate(-45 586.5 144.2)">50 ng/mL</text>
<text x="610.1" y="144.2" font-size="6.4" text-anchor="end" fill="#444" stroke="#444" stroke-width="0.15" transform="rotate(-45 610.1 144.2)">100 ng/mL</text>
<circle cx="628.1" cy="64.5" r="1.8" fill="#5bbcd6"/>
<text x="635.2" y="66.7" font-size="6.3" text-anchor="start" fill="#444" stroke="#444" stroke-width="0.18" >0 ng/mL</text>
<circle cx="628.1" cy="72" r="1.8" fill="#e3432f"/>
<text x="635.2" y="74.2" font-size="6.3" text-anchor="start" fill="#444" stroke="#444" stroke-width="0.18" >10 ng/mL</text>
<circle cx="628.1" cy="79.1" r="1.8" fill="#1b9a72"/>
<text x="635.2" y="81.3" font-size="6.3" text-anchor="start" fill="#444" stroke="#444" stroke-width="0.18" >20 ng/mL</text>
<circle cx="628.1" cy="86.5" r="1.8" fill="#f29273"/>
<text x="635.2" y="88.7" font-size="6.3" text-anchor="start" fill="#444" stroke="#444" stroke-width="0.18" >50 ng/mL</text>
<circle cx="628.1" cy="94" r="1.8" fill="#3c4484"/>
<text x="635.2" y="96.2" font-size="6.3" text-anchor="start" fill="#444" stroke="#444" stroke-width="0.18" >100 ng/mL</text>
<line x1="577.0" y1="237.2" x2="577.0" y2="337.7" stroke="#4a4a4a" stroke-width="0.9"/>
<line x1="577.0" y1="337.7" x2="678.5" y2="337.7" stroke="#4a4a4a" stroke-width="0.9"/>
<line x1="575.0" y1="336.4" x2="577.0" y2="336.4" stroke="#4a4a4a" stroke-width="0.9"/>
<text x="573.1" y="338.5" font-size="5.8" text-anchor="end" fill="#444" stroke="#444" stroke-width="0.18" >0.2</text>
<line x1="575.0" y1="304.2" x2="577.0" y2="304.2" stroke="#4a4a4a" stroke-width="0.9"/>
<text x="573.1" y="306.3" font-size="5.8" text-anchor="end" fill="#444" stroke="#444" stroke-width="0.18" >0.4</text>
<line x1="575.0" y1="272.0" x2="577.0" y2="272.0" stroke="#4a4a4a" stroke-width="0.9"/>
<text x="573.1" y="274.1" font-size="5.8" text-anchor="end" fill="#444" stroke="#444" stroke-width="0.18" >0.6</text>
<line x1="575.0" y1="239.8" x2="577.0" y2="239.8" stroke="#4a4a4a" stroke-width="0.9"/>
<text x="573.1" y="241.9" font-size="5.8" text-anchor="end" fill="#444" stroke="#444" stroke-width="0.18" >0.8</text>
<line x1="588.5" y1="337.7" x2="588.5" y2="339.7" stroke="#4a4a4a" stroke-width="0.9"/>
<line x1="608.1" y1="337.7" x2="608.1" y2="339.7" stroke="#4a4a4a" stroke-width="0.9"/>
<line x1="627.7" y1="337.7" x2="627.7" y2="339.7" stroke="#4a4a4a" stroke-width="0.9"/>
<line x1="647.3" y1="337.7" x2="647.3" y2="339.7" stroke="#4a4a4a" stroke-width="0.9"/>
<line x1="666.9" y1="337.7" x2="666.9" y2="339.7" stroke="#4a4a4a" stroke-width="0.9"/>
<circle cx="591.1" cy="320.2" r="1.6" fill="#5bbcd6"/>
<circle cx="588.9" cy="321.1" r="1.6" fill="#5bbcd6"/>
<circle cx="588.6" cy="334.7" r="1.6" fill="#5bbcd6"/>
<circle cx="608.3" cy="308.3" r="1.6" fill="#e3432f"/>
<circle cx="608.3" cy="323.5" r="1.6" fill="#e3432f"/>
<circle cx="608.3" cy="311.8" r="1.6" fill="#e3432f"/>
<circle cx="627.6" cy="289.7" r="1.6" fill="#1b9a72"/>
<circle cx="627.6" cy="298.7" r="1.6" fill="#1b9a72"/>
<circle cx="627.6" cy="291.6" r="1.6" fill="#1b9a72"/>
<circle cx="627.6" cy="297.1" r="1.6" fill="#1b9a72"/>
<circle cx="647.4" cy="276.9" r="1.6" fill="#f29273"/>
<circle cx="647.4" cy="281.0" r="1.6" fill="#f29273"/>
<circle cx="647.4" cy="301.5" r="1.6" fill="#f29273"/>
<circle cx="667.0" cy="270.9" r="1.6" fill="#3c4484"/>
<circle cx="667.0" cy="283.8" r="1.6" fill="#3c4484"/>
<circle cx="667.0" cy="277.7" r="1.6" fill="#3c4484"/>
<line x1="583.9" y1="325.5" x2="593.1" y2="325.5" stroke="#111" stroke-width="0.9"/>
<line x1="588.5" y1="320.6" x2="588.5" y2="330.4" stroke="#111" stroke-width="0.9"/>
<line x1="585.9" y1="320.6" x2="591.1" y2="320.6" stroke="#111" stroke-width="0.9"/>
<line x1="585.9" y1="330.4" x2="591.1" y2="330.4" stroke="#111" stroke-width="0.9"/>
<circle cx="588.5" cy="325.5" r="1.4" fill="#fff" stroke="#111" stroke-width="0.7"/>
<line x1="603.5" y1="316.2" x2="612.7" y2="316.2" stroke="#111" stroke-width="0.9"/>
<line x1="608.1" y1="311.8" x2="608.1" y2="320.6" stroke="#111" stroke-width="0.9"/>
<line x1="605.5" y1="311.8" x2="610.7" y2="311.8" stroke="#111" stroke-width="0.9"/>
<line x1="605.5" y1="320.6" x2="610.7" y2="320.6" stroke="#111" stroke-width="0.9"/>
<circle cx="608.1" cy="316.2" r="1.4" fill="#fff" stroke="#111" stroke-width="0.7"/>
<line x1="623.1" y1="294.1" x2="632.3" y2="294.1" stroke="#111" stroke-width="0.9"/>
<line x1="627.7" y1="291.7" x2="627.7" y2="296.5" stroke="#111" stroke-width="0.9"/>
<line x1="625.1" y1="291.7" x2="630.3" y2="291.7" stroke="#111" stroke-width="0.9"/>
<line x1="625.1" y1="296.5" x2="630.3" y2="296.5" stroke="#111" stroke-width="0.9"/>
<circle cx="627.7" cy="294.1" r="1.4" fill="#fff" stroke="#111" stroke-width="0.7"/>
<line x1="642.7" y1="286.5" x2="651.9" y2="286.5" stroke="#111" stroke-width="0.9"/>
<line x1="647.3" y1="279.1" x2="647.3" y2="293.9" stroke="#111" stroke-width="0.9"/>
<line x1="644.7" y1="279.1" x2="649.9" y2="279.1" stroke="#111" stroke-width="0.9"/>
<line x1="644.7" y1="293.9" x2="649.9" y2="293.9" stroke="#111" stroke-width="0.9"/>
<circle cx="647.3" cy="286.5" r="1.4" fill="#fff" stroke="#111" stroke-width="0.7"/>
<line x1="662.3" y1="277.7" x2="671.5" y2="277.7" stroke="#111" stroke-width="0.9"/>
<line x1="666.9" y1="274.0" x2="666.9" y2="281.4" stroke="#111" stroke-width="0.9"/>
<line x1="664.3" y1="274.0" x2="669.5" y2="274.0" stroke="#111" stroke-width="0.9"/>
<line x1="664.3" y1="281.4" x2="669.5" y2="281.4" stroke="#111" stroke-width="0.9"/>
<circle cx="666.9" cy="277.7" r="1.4" fill="#fff" stroke="#111" stroke-width="0.7"/>
<path d="M608.1 245.1V243.6H666.9V245.1" fill="none" stroke="#555" stroke-width="0.9"/>
<text x="637.5" y="243.8" font-size="4.8" text-anchor="middle" fill="#222" stroke="#222" stroke-width="0.18" >**</text>
<path d="M608.1 251.1V249.6H647.3V251.1" fill="none" stroke="#555" stroke-width="0.9"/>
<text x="627.7" y="249.8" font-size="4.8" text-anchor="middle" fill="#222" stroke="#222" stroke-width="0.18" >**</text>
<path d="M588.5 256.6V255.1H666.9V256.6" fill="none" stroke="#555" stroke-width="0.9"/>
<text x="627.7" y="255.3" font-size="4.8" text-anchor="middle" fill="#222" stroke="#222" stroke-width="0.18" >***</text>
<path d="M588.5 262.3V260.8H647.3V262.3" fill="none" stroke="#555" stroke-width="0.9"/>
<text x="617.9" y="261.0" font-size="4.8" text-anchor="middle" fill="#222" stroke="#222" stroke-width="0.18" >**</text>
<path d="M588.5 267.5V266.0H627.7V267.5" fill="none" stroke="#555" stroke-width="0.9"/>
<text x="608.1" y="266.2" font-size="4.8" text-anchor="middle" fill="#222" stroke="#222" stroke-width="0.18" >**</text>
<text x="561.2" y="287.1" font-size="6.45" text-anchor="middle" fill="#333" stroke="#333" stroke-width="0.18" transform="rotate(-90 561.2 287.1)" textLength="53.3" lengthAdjust="spacingAndGlyphs">Scratch width ratio</text>
<text x="591.9" y="344.5" font-size="5.6" text-anchor="end" fill="#444" stroke="#444" stroke-width="0.15" transform="rotate(-45 591.9 344.5)">0 ng/mL</text>
<text x="611.5" y="344.5" font-size="5.6" text-anchor="end" fill="#444" stroke="#444" stroke-width="0.15" transform="rotate(-45 611.5 344.5)">10 ng/mL</text>
<text x="631.1" y="344.5" font-size="5.6" text-anchor="end" fill="#444" stroke="#444" stroke-width="0.15" transform="rotate(-45 631.1 344.5)">20 ng/mL</text>
<text x="650.7" y="344.5" font-size="5.6" text-anchor="end" fill="#444" stroke="#444" stroke-width="0.15" transform="rotate(-45 650.7 344.5)">50 ng/mL</text>
<text x="670.3" y="344.5" font-size="5.6" text-anchor="end" fill="#444" stroke="#444" stroke-width="0.15" transform="rotate(-45 670.3 344.5)">100 ng/mL</text>
<line x1="578.2" y1="415.8" x2="578.2" y2="515.2" stroke="#4a4a4a" stroke-width="0.9"/>
<line x1="578.2" y1="515.2" x2="678.5" y2="515.2" stroke="#4a4a4a" stroke-width="0.9"/>
<line x1="576.2" y1="496.6" x2="578.2" y2="496.6" stroke="#4a4a4a" stroke-width="0.9"/>
<text x="574.3" y="498.7" font-size="5.8" text-anchor="end" fill="#444" stroke="#444" stroke-width="0.18" >100</text>
<line x1="576.2" y1="471.0" x2="578.2" y2="471.0" stroke="#4a4a4a" stroke-width="0.9"/>
<text x="574.3" y="473.1" font-size="5.8" text-anchor="end" fill="#444" stroke="#444" stroke-width="0.18" >200</text>
<line x1="576.2" y1="445.4" x2="578.2" y2="445.4" stroke="#4a4a4a" stroke-width="0.9"/>
<text x="574.3" y="447.5" font-size="5.8" text-anchor="end" fill="#444" stroke="#444" stroke-width="0.18" >300</text>
<line x1="576.2" y1="419.8" x2="578.2" y2="419.8" stroke="#4a4a4a" stroke-width="0.9"/>
<text x="574.3" y="421.9" font-size="5.8" text-anchor="end" fill="#444" stroke="#444" stroke-width="0.18" >400</text>
<line x1="590.0" y1="515.2" x2="590.0" y2="517.2" stroke="#4a4a4a" stroke-width="0.9"/>
<line x1="609.2" y1="515.2" x2="609.2" y2="517.2" stroke="#4a4a4a" stroke-width="0.9"/>
<line x1="628.5" y1="515.2" x2="628.5" y2="517.2" stroke="#4a4a4a" stroke-width="0.9"/>
<line x1="647.8" y1="515.2" x2="647.8" y2="517.2" stroke="#4a4a4a" stroke-width="0.9"/>
<line x1="667.0" y1="515.2" x2="667.0" y2="517.2" stroke="#4a4a4a" stroke-width="0.9"/>
<circle cx="592.7" cy="508.2" r="1.6" fill="#5bbcd6"/>
<circle cx="590.0" cy="512.0" r="1.6" fill="#5bbcd6"/>
<circle cx="588.5" cy="510.4" r="1.6" fill="#5bbcd6"/>
<circle cx="609.4" cy="490.4" r="1.6" fill="#e3432f"/>
<circle cx="611.8" cy="496.5" r="1.6" fill="#e3432f"/>
<circle cx="609.4" cy="498.4" r="1.6" fill="#e3432f"/>
<circle cx="626.0" cy="487.5" r="1.6" fill="#1b9a72"/>
<circle cx="631.5" cy="488.5" r="1.6" fill="#1b9a72"/>
<circle cx="628.4" cy="489.0" r="1.6" fill="#1b9a72"/>
<circle cx="650.6" cy="474.4" r="1.6" fill="#f29273"/>
<circle cx="647.9" cy="480.9" r="1.6" fill="#f29273"/>
<circle cx="646.0" cy="478.0" r="1.6" fill="#f29273"/>
<circle cx="669.7" cy="455.3" r="1.6" fill="#3c4484"/>
<circle cx="667.0" cy="462.1" r="1.6" fill="#3c4484"/>
<circle cx="665.0" cy="457.0" r="1.6" fill="#3c4484"/>
<line x1="585.4" y1="510.4" x2="594.6" y2="510.4" stroke="#111" stroke-width="0.9"/>
<line x1="590.0" y1="509.2" x2="590.0" y2="511.6" stroke="#111" stroke-width="0.9"/>
<line x1="587.4" y1="509.2" x2="592.6" y2="509.2" stroke="#111" stroke-width="0.9"/>
<line x1="587.4" y1="511.6" x2="592.6" y2="511.6" stroke="#111" stroke-width="0.9"/>
<circle cx="590.0" cy="510.4" r="1.4" fill="#fff" stroke="#111" stroke-width="0.7"/>
<line x1="604.6" y1="495.4" x2="613.9" y2="495.4" stroke="#111" stroke-width="0.9"/>
<line x1="609.2" y1="493.4" x2="609.2" y2="497.4" stroke="#111" stroke-width="0.9"/>
<line x1="606.6" y1="493.4" x2="611.9" y2="493.4" stroke="#111" stroke-width="0.9"/>
<line x1="606.6" y1="497.4" x2="611.9" y2="497.4" stroke="#111" stroke-width="0.9"/>
<circle cx="609.2" cy="495.4" r="1.4" fill="#fff" stroke="#111" stroke-width="0.7"/>
<line x1="623.9" y1="488.5" x2="633.1" y2="488.5" stroke="#111" stroke-width="0.9"/>
<line x1="628.5" y1="487.9" x2="628.5" y2="489.1" stroke="#111" stroke-width="0.9"/>
<line x1="625.9" y1="487.9" x2="631.1" y2="487.9" stroke="#111" stroke-width="0.9"/>
<line x1="625.9" y1="489.1" x2="631.1" y2="489.1" stroke="#111" stroke-width="0.9"/>
<circle cx="628.5" cy="488.5" r="1.4" fill="#fff" stroke="#111" stroke-width="0.7"/>
<line x1="643.1" y1="477.1" x2="652.4" y2="477.1" stroke="#111" stroke-width="0.9"/>
<line x1="647.8" y1="475.5" x2="647.8" y2="478.7" stroke="#111" stroke-width="0.9"/>
<line x1="645.1" y1="475.5" x2="650.4" y2="475.5" stroke="#111" stroke-width="0.9"/>
<line x1="645.1" y1="478.7" x2="650.4" y2="478.7" stroke="#111" stroke-width="0.9"/>
<circle cx="647.8" cy="477.1" r="1.4" fill="#fff" stroke="#111" stroke-width="0.7"/>
<line x1="662.4" y1="458.0" x2="671.6" y2="458.0" stroke="#111" stroke-width="0.9"/>
<line x1="667.0" y1="456.0" x2="667.0" y2="460.0" stroke="#111" stroke-width="0.9"/>
<line x1="664.4" y1="456.0" x2="669.6" y2="456.0" stroke="#111" stroke-width="0.9"/>
<line x1="664.4" y1="460.0" x2="669.6" y2="460.0" stroke="#111" stroke-width="0.9"/>
<circle cx="667.0" cy="458.0" r="1.4" fill="#fff" stroke="#111" stroke-width="0.7"/>
<path d="M609.2 423.7V422.2H667.0V423.7" fill="none" stroke="#555" stroke-width="0.9"/>
<text x="638.1" y="422.4" font-size="4.8" text-anchor="middle" fill="#222" stroke="#222" stroke-width="0.18" >***</text>
<path d="M609.2 429.5V428.0H647.8V429.5" fill="none" stroke="#555" stroke-width="0.9"/>
<text x="628.5" y="428.2" font-size="4.8" text-anchor="middle" fill="#222" stroke="#222" stroke-width="0.18" >***</text>
<path d="M590.0 435.3V433.8H667.0V435.3" fill="none" stroke="#555" stroke-width="0.9"/>
<text x="628.5" y="434.0" font-size="4.8" text-anchor="middle" fill="#222" stroke="#222" stroke-width="0.18" >***</text>
<path d="M590.0 441.0V439.5H647.8V441.0" fill="none" stroke="#555" stroke-width="0.9"/>
<text x="618.9" y="439.7" font-size="4.8" text-anchor="middle" fill="#222" stroke="#222" stroke-width="0.18" >***</text>
<path d="M590.0 446.6V445.1H628.5V446.6" fill="none" stroke="#555" stroke-width="0.9"/>
<text x="609.2" y="445.3" font-size="4.8" text-anchor="middle" fill="#222" stroke="#222" stroke-width="0.18" >***</text>
<path d="M590.0 452.2V450.7H609.2V452.2" fill="none" stroke="#555" stroke-width="0.9"/>
<text x="599.6" y="450.9" font-size="4.8" text-anchor="middle" fill="#222" stroke="#222" stroke-width="0.18" >***</text>
<text x="561.2" y="465.5" font-size="6.45" text-anchor="middle" fill="#333" stroke="#333" stroke-width="0.18" transform="rotate(-90 561.2 465.5)" textLength="91.5" lengthAdjust="spacingAndGlyphs">Number of transmembrane cells</text>
<text x="593.4" y="522.2" font-size="5.6" text-anchor="end" fill="#444" stroke="#444" stroke-width="0.15" transform="rotate(-45 593.4 522.2)">0 ng/mL</text>
<text x="612.6" y="522.2" font-size="5.6" text-anchor="end" fill="#444" stroke="#444" stroke-width="0.15" transform="rotate(-45 612.6 522.2)">10 ng/mL</text>
<text x="631.9" y="522.2" font-size="5.6" text-anchor="end" fill="#444" stroke="#444" stroke-width="0.15" transform="rotate(-45 631.9 522.2)">20 ng/mL</text>
<text x="651.1" y="522.2" font-size="5.6" text-anchor="end" fill="#444" stroke="#444" stroke-width="0.15" transform="rotate(-45 651.1 522.2)">50 ng/mL</text>
<text x="670.4" y="522.2" font-size="5.6" text-anchor="end" fill="#444" stroke="#444" stroke-width="0.15" transform="rotate(-45 670.4 522.2)">100 ng/mL</text>
<line x1="575.8" y1="588.3" x2="575.8" y2="688.5" stroke="#4a4a4a" stroke-width="0.9"/>
<line x1="575.8" y1="688.5" x2="678.5" y2="688.5" stroke="#4a4a4a" stroke-width="0.9"/>
<line x1="573.8" y1="688.4" x2="575.8" y2="688.4" stroke="#4a4a4a" stroke-width="0.9"/>
<text x="571.9" y="690.5" font-size="5.8" text-anchor="end" fill="#444" stroke="#444" stroke-width="0.18" >2</text>
<line x1="573.8" y1="668.3" x2="575.8" y2="668.3" stroke="#4a4a4a" stroke-width="0.9"/>
<text x="571.9" y="670.4" font-size="5.8" text-anchor="end" fill="#444" stroke="#444" stroke-width="0.18" >4</text>
<line x1="573.8" y1="648.2" x2="575.8" y2="648.2" stroke="#4a4a4a" stroke-width="0.9"/>
<text x="571.9" y="650.3" font-size="5.8" text-anchor="end" fill="#444" stroke="#444" stroke-width="0.18" >6</text>
<line x1="573.8" y1="628.1" x2="575.8" y2="628.1" stroke="#4a4a4a" stroke-width="0.9"/>
<text x="571.9" y="630.2" font-size="5.8" text-anchor="end" fill="#444" stroke="#444" stroke-width="0.18" >8</text>
<line x1="573.8" y1="608.0" x2="575.8" y2="608.0" stroke="#4a4a4a" stroke-width="0.9"/>
<text x="571.9" y="610.1" font-size="5.8" text-anchor="end" fill="#444" stroke="#444" stroke-width="0.18" >10</text>
<line x1="587.1" y1="688.5" x2="587.1" y2="690.5" stroke="#4a4a4a" stroke-width="0.9"/>
<line x1="607.0" y1="688.5" x2="607.0" y2="690.5" stroke="#4a4a4a" stroke-width="0.9"/>
<line x1="626.8" y1="688.5" x2="626.8" y2="690.5" stroke="#4a4a4a" stroke-width="0.9"/>
<line x1="646.6" y1="688.5" x2="646.6" y2="690.5" stroke="#4a4a4a" stroke-width="0.9"/>
<line x1="666.5" y1="688.5" x2="666.5" y2="690.5" stroke="#4a4a4a" stroke-width="0.9"/>
<circle cx="587.2" cy="634.2" r="1.6" fill="#5bbcd6"/>
<circle cx="587.2" cy="641.3" r="1.6" fill="#5bbcd6"/>
<circle cx="587.2" cy="637.0" r="1.6" fill="#5bbcd6"/>
<circle cx="609.4" cy="639.6" r="1.6" fill="#e3432f"/>
<circle cx="607.2" cy="646.2" r="1.6" fill="#e3432f"/>
<circle cx="607.2" cy="642.0" r="1.6" fill="#e3432f"/>
<circle cx="625.2" cy="648.6" r="1.6" fill="#1b9a72"/>
<circle cx="630.6" cy="651.1" r="1.6" fill="#1b9a72"/>
<circle cx="627.1" cy="650.0" r="1.6" fill="#1b9a72"/>
<circle cx="650.0" cy="659.3" r="1.6" fill="#f29273"/>
<circle cx="647.0" cy="679.1" r="1.6" fill="#f29273"/>
<circle cx="647.0" cy="660.0" r="1.6" fill="#f29273"/>
<circle cx="663.5" cy="685.0" r="1.6" fill="#3c4484"/>
<circle cx="669.5" cy="685.0" r="1.6" fill="#3c4484"/>
<circle cx="666.5" cy="686.0" r="1.6" fill="#3c4484"/>
<line x1="582.5" y1="638.3" x2="591.7" y2="638.3" stroke="#111" stroke-width="0.9"/>
<line x1="587.1" y1="636.7" x2="587.1" y2="639.9" stroke="#111" stroke-width="0.9"/>
<line x1="584.5" y1="636.7" x2="589.7" y2="636.7" stroke="#111" stroke-width="0.9"/>
<line x1="584.5" y1="639.9" x2="589.7" y2="639.9" stroke="#111" stroke-width="0.9"/>
<circle cx="587.1" cy="638.3" r="1.4" fill="#fff" stroke="#111" stroke-width="0.7"/>
<line x1="602.4" y1="642.7" x2="611.6" y2="642.7" stroke="#111" stroke-width="0.9"/>
<line x1="607.0" y1="640.9" x2="607.0" y2="644.5" stroke="#111" stroke-width="0.9"/>
<line x1="604.4" y1="640.9" x2="609.6" y2="640.9" stroke="#111" stroke-width="0.9"/>
<line x1="604.4" y1="644.5" x2="609.6" y2="644.5" stroke="#111" stroke-width="0.9"/>
<circle cx="607.0" cy="642.7" r="1.4" fill="#fff" stroke="#111" stroke-width="0.7"/>
<line x1="622.2" y1="650.3" x2="631.4" y2="650.3" stroke="#111" stroke-width="0.9"/>
<line x1="626.8" y1="649.7" x2="626.8" y2="650.9" stroke="#111" stroke-width="0.9"/>
<line x1="624.2" y1="649.7" x2="629.4" y2="649.7" stroke="#111" stroke-width="0.9"/>
<line x1="624.2" y1="650.9" x2="629.4" y2="650.9" stroke="#111" stroke-width="0.9"/>
<circle cx="626.8" cy="650.3" r="1.4" fill="#fff" stroke="#111" stroke-width="0.7"/>
<line x1="642.0" y1="666.8" x2="651.2" y2="666.8" stroke="#111" stroke-width="0.9"/>
<line x1="646.6" y1="660.4" x2="646.6" y2="673.2" stroke="#111" stroke-width="0.9"/>
<line x1="644.0" y1="660.4" x2="649.2" y2="660.4" stroke="#111" stroke-width="0.9"/>
<line x1="644.0" y1="673.2" x2="649.2" y2="673.2" stroke="#111" stroke-width="0.9"/>
<circle cx="646.6" cy="666.8" r="1.4" fill="#fff" stroke="#111" stroke-width="0.7"/>
<line x1="661.9" y1="685.1" x2="671.1" y2="685.1" stroke="#111" stroke-width="0.9"/>
<line x1="666.5" y1="684.5" x2="666.5" y2="685.7" stroke="#111" stroke-width="0.9"/>
<line x1="663.9" y1="684.5" x2="669.1" y2="684.5" stroke="#111" stroke-width="0.9"/>
<line x1="663.9" y1="685.7" x2="669.1" y2="685.7" stroke="#111" stroke-width="0.9"/>
<circle cx="666.5" cy="685.1" r="1.4" fill="#fff" stroke="#111" stroke-width="0.7"/>
<path d="M646.6 596.6V595.1H666.5V596.6" fill="none" stroke="#555" stroke-width="0.9"/>
<text x="656.6" y="595.3" font-size="4.8" text-anchor="middle" fill="#222" stroke="#222" stroke-width="0.18" >**</text>
<path d="M626.8 602.3V600.8H666.5V602.3" fill="none" stroke="#555" stroke-width="0.9"/>
<text x="646.7" y="601.0" font-size="4.8" text-anchor="middle" fill="#222" stroke="#222" stroke-width="0.18" >***</text>
<path d="M626.8 608.3V606.8H646.6V608.3" fill="none" stroke="#555" stroke-width="0.9"/>
<text x="636.7" y="607.0" font-size="4.8" text-anchor="middle" fill="#222" stroke="#222" stroke-width="0.18" >*</text>
<path d="M607.0 613.8V612.3H666.5V613.8" fill="none" stroke="#555" stroke-width="0.9"/>
<text x="636.7" y="612.5" font-size="4.8" text-anchor="middle" fill="#222" stroke="#222" stroke-width="0.18" >***</text>
<path d="M607.0 619.5V618.0H646.6V619.5" fill="none" stroke="#555" stroke-width="0.9"/>
<text x="626.8" y="618.2" font-size="4.8" text-anchor="middle" fill="#222" stroke="#222" stroke-width="0.18" >**</text>
<path d="M587.1 625.2V623.7H666.5V625.2" fill="none" stroke="#555" stroke-width="0.9"/>
<text x="626.8" y="623.9" font-size="4.8" text-anchor="middle" fill="#222" stroke="#222" stroke-width="0.18" >***</text>
<path d="M587.1 631.1V629.6H646.6V631.1" fill="none" stroke="#555" stroke-width="0.9"/>
<text x="616.9" y="629.8" font-size="4.8" text-anchor="middle" fill="#222" stroke="#222" stroke-width="0.18" >***</text>
<text x="561.4" y="638.1" font-size="6.45" text-anchor="middle" fill="#333" stroke="#333" stroke-width="0.18" transform="rotate(-90 561.4 638.1)" textLength="65" lengthAdjust="spacingAndGlyphs">Cell apoptosis rate (%)</text>
<text x="590.5" y="695.5" font-size="5.6" text-anchor="end" fill="#444" stroke="#444" stroke-width="0.15" transform="rotate(-45 590.5 695.5)">0 ng/mL</text>
<text x="610.4" y="695.5" font-size="5.6" text-anchor="end" fill="#444" stroke="#444" stroke-width="0.15" transform="rotate(-45 610.4 695.5)">10 ng/mL</text>
<text x="630.2" y="695.5" font-size="5.6" text-anchor="end" fill="#444" stroke="#444" stroke-width="0.15" transform="rotate(-45 630.2 695.5)">20 ng/mL</text>
<text x="650.0" y="695.5" font-size="5.6" text-anchor="end" fill="#444" stroke="#444" stroke-width="0.15" transform="rotate(-45 650.0 695.5)">50 ng/mL</text>
<text x="669.9" y="695.5" font-size="5.6" text-anchor="end" fill="#444" stroke="#444" stroke-width="0.15" transform="rotate(-45 669.9 695.5)">100 ng/mL</text></g>
</svg></body></html>
